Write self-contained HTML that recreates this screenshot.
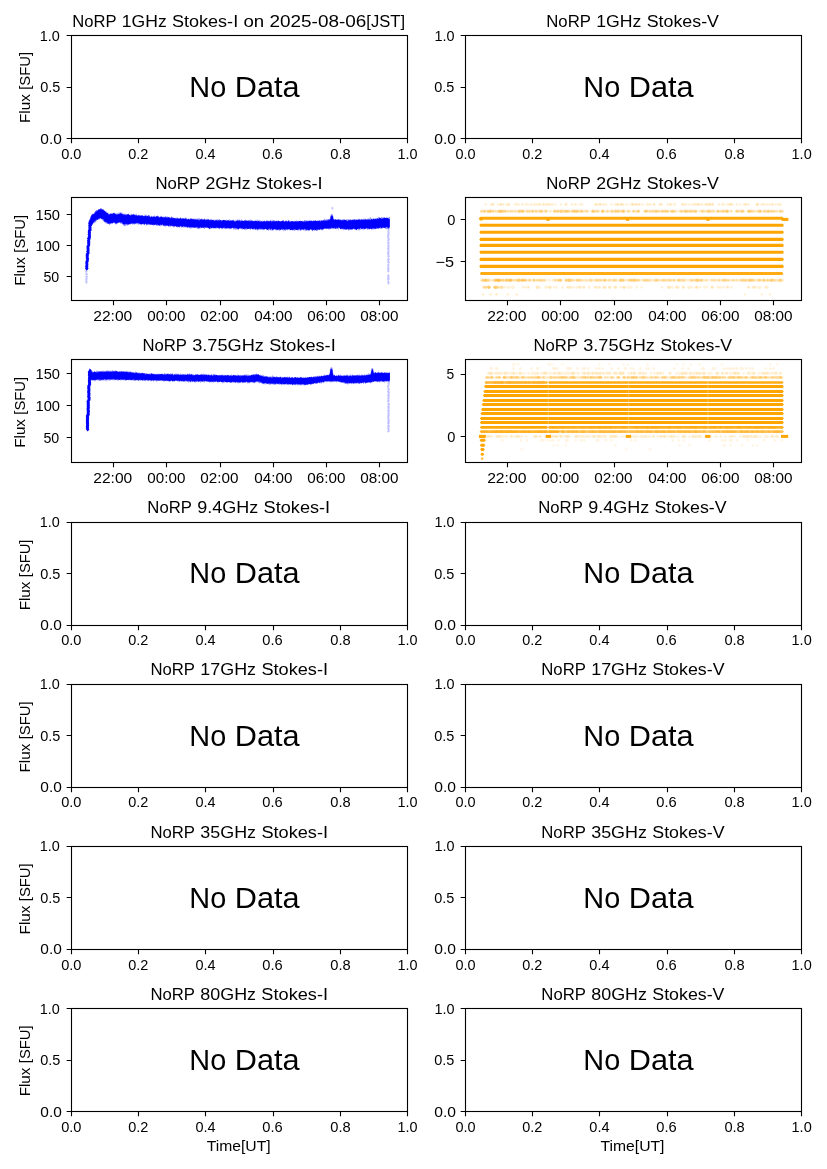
<!DOCTYPE html>
<html><head><meta charset="utf-8"><title>NoRP daily plot</title>
<style>
html,body{margin:0;padding:0;background:#fff;}
svg{display:block;will-change:transform;}
g.t{filter:grayscale(1);}
text{font-family:"Liberation Sans",sans-serif;fill:#000;}
</style></head>
<body>
<svg width="827" height="1169" viewBox="0 0 827 1169">
<rect width="827" height="1169" fill="#fff"/>
<g id="d2i">
<path d="M88.8,221.67 L89.3,218.42 L89.8,219.28 L90.3,217.49 L90.8,216.36 L91.3,215.3 L91.8,213.5 L92.3,214.18 L92.8,213.4 L93.3,215.52 L93.8,213.19 L94.3,212.34 L94.8,211.88 L95.3,211.15 L95.8,210.42 L96.3,210.32 L96.8,210.57 L97.3,209.86 L97.8,210.31 L98.3,209.34 L98.8,209.2 L99.3,209.84 L99.8,208.97 L100.3,208.07 L100.8,208.1 L101.3,208.81 L101.8,209.93 L102.3,208.88 L102.8,209.18 L103.3,210.2 L103.8,209.35 L104.3,209.98 L104.8,210.97 L105.3,211.16 L105.8,211.3 L106.3,212.09 L106.8,210.42 L107.3,213.17 L107.8,212.42 L108.3,212.43 L108.8,214.03 L109.3,214.25 L109.8,213.42 L110.3,212.9 L110.8,213.41 L111.3,213.22 L111.8,213.95 L112.3,213.41 L112.8,212.93 L113.3,213.33 L113.8,212.47 L114.3,212.28 L114.8,213.43 L115.3,213.67 L115.8,213.43 L116.3,213.34 L116.8,214.02 L117.3,212.2 L117.8,213.93 L118.3,213.63 L118.8,212.18 L119.3,213.02 L119.8,212.22 L120.3,213.08 L120.8,211.47 L121.3,212.39 L121.8,213.6 L122.3,214.11 L122.8,212.37 L123.3,213.6 L123.8,214.17 L124.3,213.63 L124.8,214.97 L125.3,213.32 L125.8,214.28 L126.3,213.46 L126.8,214.95 L127.3,214.12 L127.8,213.93 L128.3,213.15 L128.8,215.21 L129.3,214.68 L129.8,214.7 L130.3,214.96 L130.8,214.51 L131.3,213.94 L131.8,213.87 L132.3,213.89 L132.8,215.22 L133.3,213.54 L133.8,214.08 L134.3,214.28 L134.8,214.64 L135.3,214.89 L135.8,213.83 L136.3,213.58 L136.8,214.65 L137.3,215.42 L137.8,215.18 L138.3,214.89 L138.8,214.61 L139.3,215.01 L139.8,214.72 L140.3,215.39 L140.8,214.46 L141.3,215.06 L141.8,214.95 L142.3,215.37 L142.8,215.22 L143.3,216.65 L143.8,216.06 L144.3,216.09 L144.8,214.01 L145.3,215.06 L145.8,214.94 L146.3,215.66 L146.8,214.01 L147.3,216.11 L147.8,216.09 L148.3,214.7 L148.8,214.93 L149.3,215.07 L149.8,215.62 L150.3,216.01 L150.8,216.89 L151.3,215.58 L151.8,216.2 L152.3,215.86 L152.8,216.86 L153.3,216.29 L153.8,216.7 L154.3,215.27 L154.8,215.84 L155.3,215.5 L155.8,216.93 L156.3,216.46 L156.8,215.92 L157.3,215.87 L157.8,216.47 L158.3,215.8 L158.8,215.7 L159.3,216.58 L159.8,217.81 L160.3,216.22 L160.8,216.07 L161.3,215.74 L161.8,215.68 L162.3,216.83 L162.8,217.07 L163.3,216.6 L163.8,216.83 L164.3,216.74 L164.8,216.79 L165.3,215.83 L165.8,216.51 L166.3,216.89 L166.8,216.39 L167.3,216.61 L167.8,216.44 L168.3,216.77 L168.8,217.52 L169.3,216.8 L169.8,216.99 L170.3,217.61 L170.8,217.55 L171.3,218.21 L171.8,215.98 L172.3,217.79 L172.8,217.02 L173.3,217.43 L173.8,217.89 L174.3,218.07 L174.8,218.08 L175.3,217.59 L175.8,218.5 L176.3,217.4 L176.8,217.53 L177.3,218.13 L177.8,217.36 L178.3,219.02 L178.8,218.37 L179.3,219.1 L179.8,217.82 L180.3,217.64 L180.8,218.01 L181.3,218.39 L181.8,217.64 L182.3,218.25 L182.8,218.05 L183.3,219.07 L183.8,217.74 L184.3,218.8 L184.8,217.83 L185.3,217.67 L185.8,217.86 L186.3,217.61 L186.8,218.45 L187.3,219.02 L187.8,218.54 L188.3,218.85 L188.8,219.49 L189.3,218.71 L189.8,218.71 L190.3,218.46 L190.8,217.69 L191.3,219.13 L191.8,217.63 L192.3,219.1 L192.8,218.71 L193.3,219.41 L193.8,218.71 L194.3,218.28 L194.8,219 L195.3,218.47 L195.8,218.71 L196.3,218.86 L196.8,218.77 L197.3,218.75 L197.8,218.38 L198.3,218.79 L198.8,217.63 L199.3,218.84 L199.8,218.23 L200.3,219.64 L200.8,219.74 L201.3,217.83 L201.8,219.1 L202.3,218.95 L202.8,218.42 L203.3,219.38 L203.8,218.8 L204.3,218.03 L204.8,218.95 L205.3,219.04 L205.8,219.21 L206.3,218.42 L206.8,219.54 L207.3,219.63 L207.8,218.52 L208.3,218.83 L208.8,219.19 L209.3,218.92 L209.8,220.32 L210.3,219.41 L210.8,218.7 L211.3,218.85 L211.8,219.3 L212.3,220.73 L212.8,219.26 L213.3,219.46 L213.8,219.71 L214.3,219.39 L214.8,220.8 L215.3,219.13 L215.8,219.91 L216.3,219.58 L216.8,219.87 L217.3,218.81 L217.8,220.59 L218.3,219.47 L218.8,219.58 L219.3,219.02 L219.8,219.16 L220.3,219.95 L220.8,220.22 L221.3,220.1 L221.8,220.39 L222.3,220.11 L222.8,219.71 L223.3,220.21 L223.8,220.08 L224.3,219.68 L224.8,220.19 L225.3,220.55 L225.8,219.93 L226.3,219.59 L226.8,220.25 L227.3,220.98 L227.8,219.73 L228.3,219.82 L228.8,219.81 L229.3,220.64 L229.8,218.82 L230.3,220.16 L230.8,220.67 L231.3,219.48 L231.8,220.88 L232.3,220.32 L232.8,219.69 L233.3,220.16 L233.8,219.13 L234.3,219.73 L234.8,221.18 L235.3,219.56 L235.8,221.22 L236.3,220.08 L236.8,220.74 L237.3,220.19 L237.8,218.83 L238.3,219.85 L238.8,220.33 L239.3,219.54 L239.8,219.44 L240.3,220.47 L240.8,219.87 L241.3,219.25 L241.8,219.86 L242.3,220.8 L242.8,220 L243.3,220.86 L243.8,221.22 L244.3,220.33 L244.8,219.64 L245.3,219.54 L245.8,220.31 L246.3,220.87 L246.8,220.51 L247.3,220.68 L247.8,220.09 L248.3,220.54 L248.8,220.09 L249.3,220.18 L249.8,219.61 L250.3,219.45 L250.8,220.11 L251.3,219.74 L251.8,219.84 L252.3,220.82 L252.8,220.36 L253.3,222.18 L253.8,221 L254.3,220.07 L254.8,220.92 L255.3,220.68 L255.8,220.06 L256.3,221.14 L256.8,220.02 L257.3,218.65 L257.8,220.97 L258.3,220.13 L258.8,221.4 L259.3,220.13 L259.8,219.81 L260.3,221.46 L260.8,219.89 L261.3,220.67 L261.8,221.42 L262.3,220.63 L262.8,220.52 L263.3,220.63 L263.8,221.08 L264.3,220.1 L264.8,220.96 L265.3,220.95 L265.8,222.01 L266.3,220.41 L266.8,220.07 L267.3,221.07 L267.8,220.4 L268.3,220.81 L268.8,220.73 L269.3,221.36 L269.8,220.27 L270.3,220.61 L270.8,219.14 L271.3,220.15 L271.8,221.61 L272.3,220.29 L272.8,220.28 L273.3,219.98 L273.8,221.06 L274.3,220.83 L274.8,220.02 L275.3,221.14 L275.8,220.9 L276.3,221.2 L276.8,220.37 L277.3,221.81 L277.8,221.02 L278.3,220.71 L278.8,220.47 L279.3,220.65 L279.8,221.31 L280.3,220.64 L280.8,221.46 L281.3,221.17 L281.8,221.63 L282.3,221.32 L282.8,220.8 L283.3,219.7 L283.8,221.03 L284.3,221.32 L284.8,220.94 L285.3,221.17 L285.8,220.55 L286.3,220.6 L286.8,220.26 L287.3,221.64 L287.8,220.92 L288.3,220.52 L288.8,220.02 L289.3,220.72 L289.8,221.68 L290.3,221.09 L290.8,220.37 L291.3,221.66 L291.8,221.66 L292.3,221.38 L292.8,221.27 L293.3,221.48 L293.8,221.11 L294.3,221.25 L294.8,220.31 L295.3,221.68 L295.8,220.91 L296.3,221.99 L296.8,219.54 L297.3,221.19 L297.8,221.35 L298.3,220.55 L298.8,221.03 L299.3,221.2 L299.8,221.1 L300.3,220.42 L300.8,220.66 L301.3,221.35 L301.8,221.5 L302.3,220.79 L302.8,220.78 L303.3,220.85 L303.8,221.35 L304.3,220.09 L304.8,219.92 L305.3,220.79 L305.8,220.05 L306.3,220.36 L306.8,220.76 L307.3,220.99 L307.8,220.06 L308.3,221.18 L308.8,219.63 L309.3,221.02 L309.8,219.74 L310.3,219.92 L310.8,221.07 L311.3,220.44 L311.8,220.2 L312.3,220.41 L312.8,220.95 L313.3,220.63 L313.8,220.65 L314.3,221.29 L314.8,220.23 L315.3,220.37 L315.8,220.34 L316.3,221.32 L316.8,221.16 L317.3,221.28 L317.8,220.43 L318.3,220.31 L318.8,220.86 L319.3,220.05 L319.8,220.73 L320.3,220.62 L320.8,219.71 L321.3,220.02 L321.8,219.95 L322.3,221 L322.8,221.46 L323.3,219.79 L323.8,219.81 L324.3,218.38 L324.8,219.82 L325.3,219.63 L325.8,218.94 L326.3,220 L326.8,218.53 L327.3,219.31 L327.8,219.49 L328.3,218.64 L328.8,219.87 L329.3,219.97 L329.8,218.48 L330.3,216.11 L330.8,214.61 L331.3,214.21 L331.8,214.05 L332.3,214.21 L332.8,214.61 L333.3,216.31 L333.8,219.53 L334.3,219.32 L334.8,220.12 L335.3,219.89 L335.8,219.49 L336.3,219.74 L336.8,219.91 L337.3,219.56 L337.8,218.42 L338.3,219.69 L338.8,219.23 L339.3,220.18 L339.8,219.28 L340.3,219.56 L340.8,219.46 L341.3,220.29 L341.8,219.4 L342.3,219.15 L342.8,219.52 L343.3,219.09 L343.8,219.47 L344.3,219.38 L344.8,219.57 L345.3,220.58 L345.8,219.2 L346.3,219.48 L346.8,219.36 L347.3,219.9 L347.8,218.8 L348.3,219.12 L348.8,219.53 L349.3,219.86 L349.8,219.49 L350.3,219.2 L350.8,218.97 L351.3,219.78 L351.8,220.32 L352.3,219.63 L352.8,219.53 L353.3,219.67 L353.8,218.82 L354.3,219.19 L354.8,219.2 L355.3,219.52 L355.8,219.31 L356.3,218.58 L356.8,219.97 L357.3,220.29 L357.8,219.1 L358.3,219.48 L358.8,219.39 L359.3,219.68 L359.8,218.31 L360.3,220.15 L360.8,218.88 L361.3,219.91 L361.8,219.18 L362.3,218.88 L362.8,219.02 L363.3,219.62 L363.8,218.55 L364.3,218.83 L364.8,218.75 L365.3,217.99 L365.8,219.78 L366.3,219.34 L366.8,218.96 L367.3,219.65 L367.8,218.37 L368.3,218.88 L368.8,219.94 L369.3,219.48 L369.8,217.54 L370.3,216.86 L370.8,218.2 L371.3,219.4 L371.8,218.41 L372.3,218.5 L372.8,218.93 L373.3,217.97 L373.8,218.57 L374.3,218.85 L374.8,218.59 L375.3,218.48 L375.8,217.82 L376.3,218.43 L376.8,217.8 L377.3,218.77 L377.8,219.47 L378.3,217.42 L378.8,216.49 L379.3,217.48 L379.8,217.89 L380.3,218.23 L380.8,218.19 L381.3,217.01 L381.8,216.97 L382.3,218.21 L382.8,216.79 L383.3,218.1 L383.8,217.31 L384.3,217.91 L384.8,217.87 L385.3,217.92 L385.8,217.94 L386.3,216.86 L386.8,217.63 L387.3,217.46 L387.8,217.64 L388.3,218.19 L388.8,217.29 L389.3,217.02 L389.8,217.01 L389.8,228.47 L389.3,228.03 L388.8,229.03 L388.3,229.33 L387.8,228.24 L387.3,229.13 L386.8,229.46 L386.3,228.74 L385.8,228.97 L385.3,228.5 L384.8,228.17 L384.3,227.99 L383.8,227.81 L383.3,227.57 L382.8,228.21 L382.3,228.67 L381.8,228.24 L381.3,228.56 L380.8,229.03 L380.3,228.37 L379.8,228.75 L379.3,228.22 L378.8,228.04 L378.3,229.26 L377.8,228.61 L377.3,229.15 L376.8,228.67 L376.3,229.06 L375.8,228.88 L375.3,229.23 L374.8,229.59 L374.3,228.29 L373.8,228.59 L373.3,230.31 L372.8,229.43 L372.3,229.13 L371.8,229.9 L371.3,229.35 L370.8,228.99 L370.3,228.72 L369.8,229.35 L369.3,229.81 L368.8,229 L368.3,229.63 L367.8,229.58 L367.3,230.25 L366.8,228.92 L366.3,228.55 L365.8,228.7 L365.3,229.03 L364.8,230.07 L364.3,229.15 L363.8,228.5 L363.3,230.58 L362.8,229.1 L362.3,229.76 L361.8,229.13 L361.3,228.7 L360.8,229.57 L360.3,229.83 L359.8,229.68 L359.3,230.38 L358.8,230.38 L358.3,230.11 L357.8,228.25 L357.3,228.91 L356.8,230.4 L356.3,229.68 L355.8,229.8 L355.3,229.52 L354.8,229 L354.3,229.73 L353.8,228.76 L353.3,229.35 L352.8,228.76 L352.3,229.74 L351.8,230 L351.3,229.83 L350.8,228.99 L350.3,229.47 L349.8,230.28 L349.3,230.33 L348.8,230.5 L348.3,230.31 L347.8,230.15 L347.3,229.13 L346.8,228.92 L346.3,229.54 L345.8,229.93 L345.3,230.1 L344.8,230.26 L344.3,228.96 L343.8,230.57 L343.3,229.74 L342.8,228.62 L342.3,229.58 L341.8,229.3 L341.3,229.5 L340.8,228.59 L340.3,229.16 L339.8,228.3 L339.3,227.82 L338.8,229.27 L338.3,229.8 L337.8,228.17 L337.3,228 L336.8,229.34 L336.3,229.4 L335.8,228.88 L335.3,228.83 L334.8,229.4 L334.3,229.03 L333.8,228.35 L333.3,229.22 L332.8,228.39 L332.3,228.54 L331.8,229.58 L331.3,228.63 L330.8,229.09 L330.3,229.12 L329.8,229.5 L329.3,229.53 L328.8,228.94 L328.3,229.64 L327.8,229.01 L327.3,228.38 L326.8,229.15 L326.3,229.05 L325.8,227.83 L325.3,229.18 L324.8,228.93 L324.3,228.91 L323.8,228.49 L323.3,230.12 L322.8,230.4 L322.3,230.29 L321.8,230.08 L321.3,228.82 L320.8,229.21 L320.3,230.37 L319.8,229.53 L319.3,229.87 L318.8,229.51 L318.3,230.34 L317.8,230.75 L317.3,230.49 L316.8,231.14 L316.3,230.52 L315.8,231.09 L315.3,229.63 L314.8,230.73 L314.3,230.92 L313.8,229.51 L313.3,229.84 L312.8,231.14 L312.3,231.22 L311.8,230.16 L311.3,229.4 L310.8,229.41 L310.3,229.74 L309.8,230.58 L309.3,230.33 L308.8,230.75 L308.3,230.31 L307.8,230.22 L307.3,230.64 L306.8,230.6 L306.3,231.05 L305.8,231.18 L305.3,230.39 L304.8,230.04 L304.3,230.51 L303.8,230.87 L303.3,229.8 L302.8,230.17 L302.3,229.01 L301.8,229.88 L301.3,230.56 L300.8,230.26 L300.3,230.59 L299.8,230.7 L299.3,229.64 L298.8,230.69 L298.3,230.37 L297.8,230.07 L297.3,230.98 L296.8,229.54 L296.3,229.9 L295.8,230.52 L295.3,230 L294.8,230.29 L294.3,231.03 L293.8,230.6 L293.3,230.41 L292.8,230.09 L292.3,229.58 L291.8,230.19 L291.3,230.17 L290.8,229.71 L290.3,230.55 L289.8,230.97 L289.3,228.82 L288.8,229.6 L288.3,229.67 L287.8,230.68 L287.3,229.57 L286.8,228.47 L286.3,230.36 L285.8,230.72 L285.3,230.7 L284.8,230.41 L284.3,229.68 L283.8,232.07 L283.3,228.96 L282.8,230.47 L282.3,230.17 L281.8,229.87 L281.3,229.92 L280.8,229.23 L280.3,230.64 L279.8,230.25 L279.3,230.68 L278.8,230.5 L278.3,229.65 L277.8,229.73 L277.3,229.92 L276.8,231.26 L276.3,229.46 L275.8,229.99 L275.3,230.38 L274.8,229.67 L274.3,229.58 L273.8,230.19 L273.3,230.21 L272.8,230.17 L272.3,230.69 L271.8,229.42 L271.3,230.47 L270.8,230.96 L270.3,229.44 L269.8,230.19 L269.3,229.74 L268.8,230.91 L268.3,230.62 L267.8,229.39 L267.3,229.88 L266.8,229.57 L266.3,230.74 L265.8,229.02 L265.3,229.11 L264.8,229.67 L264.3,229.59 L263.8,229.54 L263.3,230.14 L262.8,230.16 L262.3,229.64 L261.8,229.09 L261.3,230.06 L260.8,230.18 L260.3,229.73 L259.8,229.78 L259.3,229.83 L258.8,229.18 L258.3,230.36 L257.8,229.68 L257.3,231.14 L256.8,228.59 L256.3,230.59 L255.8,230.33 L255.3,229.61 L254.8,229.59 L254.3,229.57 L253.8,229.45 L253.3,229.14 L252.8,228.98 L252.3,229.77 L251.8,228.76 L251.3,228.85 L250.8,229.52 L250.3,230.47 L249.8,228.76 L249.3,229 L248.8,227.56 L248.3,228.46 L247.8,229.71 L247.3,229.01 L246.8,229.33 L246.3,229.84 L245.8,230.54 L245.3,229.61 L244.8,228.82 L244.3,229.8 L243.8,229.37 L243.3,228.57 L242.8,229.24 L242.3,230.19 L241.8,228.57 L241.3,229.47 L240.8,228.69 L240.3,229.47 L239.8,228.26 L239.3,228.39 L238.8,229.7 L238.3,228.46 L237.8,230.03 L237.3,229.21 L236.8,230.07 L236.3,229.09 L235.8,229.64 L235.3,229.49 L234.8,229.49 L234.3,228.92 L233.8,229.71 L233.3,229.37 L232.8,228.46 L232.3,227.87 L231.8,229.83 L231.3,228.31 L230.8,228.31 L230.3,228.46 L229.8,228.92 L229.3,229.65 L228.8,228.53 L228.3,228.5 L227.8,228.51 L227.3,229.33 L226.8,228.45 L226.3,228.93 L225.8,227.98 L225.3,229.2 L224.8,228.84 L224.3,229.22 L223.8,227.94 L223.3,228.45 L222.8,229.26 L222.3,228.82 L221.8,229.42 L221.3,228.76 L220.8,227.36 L220.3,227.88 L219.8,228.99 L219.3,229.49 L218.8,228.47 L218.3,228.68 L217.8,228.11 L217.3,228.74 L216.8,228.67 L216.3,228.25 L215.8,227.7 L215.3,228.88 L214.8,228.53 L214.3,227.95 L213.8,227.77 L213.3,228.94 L212.8,227.91 L212.3,228.72 L211.8,228.02 L211.3,228.97 L210.8,228.46 L210.3,229.33 L209.8,229.27 L209.3,228.7 L208.8,228.06 L208.3,227.92 L207.8,228.34 L207.3,228.29 L206.8,227.19 L206.3,227.99 L205.8,227.41 L205.3,227.31 L204.8,228.69 L204.3,229.17 L203.8,227.63 L203.3,228.16 L202.8,227.27 L202.3,227.84 L201.8,227.6 L201.3,228.13 L200.8,229.09 L200.3,227.24 L199.8,228.23 L199.3,229.46 L198.8,228.49 L198.3,229.12 L197.8,228.26 L197.3,229.21 L196.8,228.74 L196.3,227.41 L195.8,228.11 L195.3,227.5 L194.8,228.32 L194.3,227.4 L193.8,227.57 L193.3,227.46 L192.8,228.57 L192.3,227.56 L191.8,228.85 L191.3,228.12 L190.8,228.38 L190.3,228.48 L189.8,227.45 L189.3,228.56 L188.8,227.86 L188.3,227.56 L187.8,227.9 L187.3,228.14 L186.8,227.83 L186.3,226.66 L185.8,227.13 L185.3,225.77 L184.8,226.42 L184.3,227.46 L183.8,227.55 L183.3,227.54 L182.8,227.08 L182.3,227.47 L181.8,227.64 L181.3,227.29 L180.8,227.36 L180.3,226.28 L179.8,227.82 L179.3,227.9 L178.8,226.07 L178.3,226.28 L177.8,227.38 L177.3,227.18 L176.8,227.37 L176.3,226.99 L175.8,225.85 L175.3,226.71 L174.8,226.44 L174.3,226.15 L173.8,226.61 L173.3,227.89 L172.8,226.51 L172.3,226.04 L171.8,225.86 L171.3,226.18 L170.8,226.25 L170.3,227.47 L169.8,226.12 L169.3,226.69 L168.8,227.35 L168.3,226.37 L167.8,225.21 L167.3,225.76 L166.8,226.08 L166.3,226.16 L165.8,226.54 L165.3,226.28 L164.8,227.03 L164.3,226.12 L163.8,225.68 L163.3,225.75 L162.8,225.04 L162.3,225.59 L161.8,224.91 L161.3,225.79 L160.8,225.13 L160.3,226.64 L159.8,225.72 L159.3,225.06 L158.8,226.16 L158.3,225.1 L157.8,225.51 L157.3,225.78 L156.8,225.37 L156.3,225.95 L155.8,225.2 L155.3,225.08 L154.8,225.03 L154.3,225.14 L153.8,225.83 L153.3,225.52 L152.8,224.96 L152.3,225.16 L151.8,224.73 L151.3,224.26 L150.8,225.61 L150.3,224.41 L149.8,225.09 L149.3,225.13 L148.8,224.17 L148.3,225.72 L147.8,224.17 L147.3,224.98 L146.8,224.71 L146.3,226.03 L145.8,224.52 L145.3,222.97 L144.8,225.74 L144.3,223.6 L143.8,224.59 L143.3,224.78 L142.8,224.87 L142.3,223.51 L141.8,223.7 L141.3,224.53 L140.8,224.53 L140.3,224.17 L139.8,223.24 L139.3,224.59 L138.8,225.08 L138.3,224.46 L137.8,224.12 L137.3,224.13 L136.8,222.84 L136.3,224.54 L135.8,223.98 L135.3,224 L134.8,225.06 L134.3,223.21 L133.8,224.13 L133.3,224.39 L132.8,224.58 L132.3,224.38 L131.8,223.38 L131.3,223.94 L130.8,224.29 L130.3,224.94 L129.8,224.35 L129.3,223.67 L128.8,224.63 L128.3,224.32 L127.8,225.74 L127.3,225.57 L126.8,224.64 L126.3,225 L125.8,226.36 L125.3,225.57 L124.8,226.62 L124.3,225.65 L123.8,225.13 L123.3,225.66 L122.8,224.26 L122.3,224.6 L121.8,223.35 L121.3,224.02 L120.8,223.98 L120.3,223.26 L119.8,222.58 L119.3,221.81 L118.8,222.98 L118.3,222.44 L117.8,223.14 L117.3,223.55 L116.8,224.44 L116.3,224.3 L115.8,224.61 L115.3,223.39 L114.8,223.36 L114.3,223.31 L113.8,222.85 L113.3,222.87 L112.8,223.44 L112.3,223.02 L111.8,223.01 L111.3,224.27 L110.8,223.89 L110.3,224.34 L109.8,224.58 L109.3,225.26 L108.8,224.19 L108.3,223.64 L107.8,224.34 L107.3,223.47 L106.8,224.07 L106.3,222.66 L105.8,223.76 L105.3,222.21 L104.8,222.33 L104.3,222.54 L103.8,221.07 L103.3,221.65 L102.8,220.67 L102.3,219.42 L101.8,219.27 L101.3,219.52 L100.8,218.46 L100.3,218.77 L99.8,218.56 L99.3,219.67 L98.8,218.07 L98.3,219.67 L97.8,219.94 L97.3,220.29 L96.8,220.04 L96.3,221.59 L95.8,222.71 L95.3,221.97 L94.8,222.29 L94.3,223.49 L93.8,223.63 L93.3,222.37 L92.8,224.74 L92.3,225.37 L91.8,225.31 L91.3,226.55 L90.8,226.96 L90.3,227.59 L89.8,226.5 L89.3,227.5 L88.8,226.86Z" fill="#0000ff" fill-opacity="0.45"/>
<path d="M88.8,220.81 L89.3,220.52 L89.8,220.43 L90.3,218.78 L90.8,216.54 L91.3,216.08 L91.8,215.08 L92.3,215.04 L92.8,213.85 L93.3,214.29 L93.8,213.81 L94.3,213.91 L94.8,212.84 L95.3,212.43 L95.8,211.03 L96.3,212.21 L96.8,210.07 L97.3,211.15 L97.8,210.23 L98.3,209.71 L98.8,209.54 L99.3,209.26 L99.8,209.46 L100.3,208.97 L100.8,209.52 L101.3,208.31 L101.8,209.41 L102.3,209.29 L102.8,210.32 L103.3,209.3 L103.8,210.38 L104.3,210.9 L104.8,210.42 L105.3,211.9 L105.8,211.98 L106.3,212.79 L106.8,213.2 L107.3,212.76 L107.8,213.28 L108.3,213.99 L108.8,214.85 L109.3,214.87 L109.8,214.02 L110.3,213.92 L110.8,213.69 L111.3,213.64 L111.8,213.65 L112.3,213.55 L112.8,214.39 L113.3,213.09 L113.8,213.12 L114.3,213.7 L114.8,213.3 L115.3,213.81 L115.8,214.22 L116.3,214.8 L116.8,213.94 L117.3,214.97 L117.8,214.01 L118.3,214.07 L118.8,214.19 L119.3,213.93 L119.8,213.93 L120.3,213.35 L120.8,213.34 L121.3,213.73 L121.8,213.38 L122.3,214.62 L122.8,213.96 L123.3,213.98 L123.8,215.54 L124.3,214.58 L124.8,214.14 L125.3,215.52 L125.8,214.56 L126.3,215.21 L126.8,214.39 L127.3,214.67 L127.8,214.05 L128.3,213.97 L128.8,214.42 L129.3,214.84 L129.8,215.26 L130.3,216.02 L130.8,214.48 L131.3,215.43 L131.8,214.72 L132.3,214.95 L132.8,214.38 L133.3,214.4 L133.8,214.74 L134.3,214.58 L134.8,215.16 L135.3,214.88 L135.8,215.79 L136.3,215.33 L136.8,215.38 L137.3,215.85 L137.8,215.61 L138.3,215.39 L138.8,215.41 L139.3,215.43 L139.8,216 L140.3,215.91 L140.8,215.76 L141.3,215.99 L141.8,215.42 L142.3,215.93 L142.8,215.1 L143.3,216.38 L143.8,215.85 L144.3,215.93 L144.8,216.15 L145.3,215.91 L145.8,215.84 L146.3,216.52 L146.8,216.08 L147.3,215.65 L147.8,216.29 L148.3,215.36 L148.8,216.91 L149.3,216.13 L149.8,216.26 L150.3,217.29 L150.8,217.28 L151.3,216.4 L151.8,216.67 L152.3,216.91 L152.8,217.21 L153.3,216.43 L153.8,216.59 L154.3,217.12 L154.8,216.73 L155.3,216.98 L155.8,216.96 L156.3,216.21 L156.8,216.37 L157.3,215.6 L157.8,216.71 L158.3,217.47 L158.8,216.41 L159.3,217.5 L159.8,217.43 L160.3,216.99 L160.8,217.05 L161.3,217.13 L161.8,216.74 L162.3,217.04 L162.8,217.19 L163.3,217.52 L163.8,217.64 L164.3,216.99 L164.8,217.73 L165.3,217.05 L165.8,217.36 L166.3,217.64 L166.8,217.5 L167.3,217.49 L167.8,217.71 L168.3,217.37 L168.8,217.37 L169.3,217.6 L169.8,218.17 L170.3,217.73 L170.8,218.67 L171.3,217.94 L171.8,216.55 L172.3,217.72 L172.8,218.71 L173.3,218 L173.8,217.84 L174.3,217.68 L174.8,218.71 L175.3,218.6 L175.8,218.49 L176.3,218.42 L176.8,218.91 L177.3,218.67 L177.8,217.78 L178.3,218.72 L178.8,218.49 L179.3,218.4 L179.8,218.83 L180.3,218.54 L180.8,217.24 L181.3,219.3 L181.8,219.1 L182.3,218.62 L182.8,218.55 L183.3,218.85 L183.8,218.21 L184.3,218.96 L184.8,218.76 L185.3,218.74 L185.8,218.52 L186.3,218.67 L186.8,219.51 L187.3,219.65 L187.8,219.32 L188.3,219.11 L188.8,218.77 L189.3,219.53 L189.8,219.96 L190.3,218.55 L190.8,219.83 L191.3,218.35 L191.8,219.19 L192.3,219.53 L192.8,218.76 L193.3,218.7 L193.8,219.49 L194.3,219.81 L194.8,219.22 L195.3,220.06 L195.8,219.12 L196.3,220.27 L196.8,219.55 L197.3,219.62 L197.8,219.81 L198.3,219.69 L198.8,220.4 L199.3,220.57 L199.8,219.84 L200.3,219.54 L200.8,219.1 L201.3,219.31 L201.8,219.67 L202.3,219.63 L202.8,219.68 L203.3,219.71 L203.8,219.95 L204.3,219.14 L204.8,219.3 L205.3,220.28 L205.8,220.17 L206.3,219.57 L206.8,220.41 L207.3,219.54 L207.8,219.74 L208.3,219.05 L208.8,220.27 L209.3,219.9 L209.8,220.4 L210.3,220.26 L210.8,220 L211.3,220.05 L211.8,220.53 L212.3,219.93 L212.8,219.96 L213.3,220.07 L213.8,220.42 L214.3,220.49 L214.8,220.95 L215.3,220.07 L215.8,220.7 L216.3,219.85 L216.8,220.43 L217.3,220.24 L217.8,220.98 L218.3,220.49 L218.8,220.03 L219.3,220.51 L219.8,220.42 L220.3,220.14 L220.8,220.17 L221.3,219.89 L221.8,221.57 L222.3,220.41 L222.8,220.8 L223.3,219.86 L223.8,219.91 L224.3,220.34 L224.8,220.36 L225.3,220.81 L225.8,220.01 L226.3,220.72 L226.8,221.18 L227.3,220.1 L227.8,220.94 L228.3,220.11 L228.8,220.72 L229.3,220.74 L229.8,221.37 L230.3,220.3 L230.8,220.7 L231.3,221.11 L231.8,220.13 L232.3,220.67 L232.8,220.3 L233.3,220.39 L233.8,221.03 L234.3,221.05 L234.8,221.91 L235.3,221.39 L235.8,221.37 L236.3,220.73 L236.8,220.68 L237.3,220.9 L237.8,219.83 L238.3,221.61 L238.8,220.58 L239.3,220.42 L239.8,220.71 L240.3,221.32 L240.8,221.49 L241.3,220.77 L241.8,221.14 L242.3,220.92 L242.8,220.51 L243.3,221.04 L243.8,220.98 L244.3,220.28 L244.8,221.47 L245.3,220.28 L245.8,221.1 L246.3,220.53 L246.8,220.64 L247.3,220.7 L247.8,221.34 L248.3,220.46 L248.8,220.95 L249.3,221.74 L249.8,220.73 L250.3,221.04 L250.8,221.36 L251.3,220.8 L251.8,221.28 L252.3,220.78 L252.8,221.4 L253.3,221.12 L253.8,220.68 L254.3,221.74 L254.8,221.07 L255.3,220.99 L255.8,220.71 L256.3,220.92 L256.8,221.1 L257.3,221.22 L257.8,221.65 L258.3,220.57 L258.8,221.01 L259.3,221.71 L259.8,221.26 L260.3,221.37 L260.8,221.91 L261.3,221.35 L261.8,221.42 L262.3,221.2 L262.8,222.02 L263.3,221.7 L263.8,220.91 L264.3,221.49 L264.8,220.73 L265.3,221.74 L265.8,221.56 L266.3,221.2 L266.8,221.09 L267.3,220.47 L267.8,221.63 L268.3,221.24 L268.8,221.16 L269.3,221.63 L269.8,221.01 L270.3,221.06 L270.8,221.01 L271.3,220.72 L271.8,222.42 L272.3,221.26 L272.8,221.19 L273.3,221.76 L273.8,219.95 L274.3,221.36 L274.8,221.38 L275.3,220.95 L275.8,221.6 L276.3,220.48 L276.8,221.4 L277.3,221.8 L277.8,220.41 L278.3,220.76 L278.8,221.34 L279.3,221.4 L279.8,221.12 L280.3,221.58 L280.8,221.52 L281.3,220.81 L281.8,221.38 L282.3,220.85 L282.8,220.49 L283.3,220.35 L283.8,221.89 L284.3,221.37 L284.8,222.3 L285.3,220.76 L285.8,221.25 L286.3,221.56 L286.8,221.34 L287.3,221.62 L287.8,221.46 L288.3,221.12 L288.8,220.34 L289.3,220.96 L289.8,222.16 L290.3,221.73 L290.8,222.01 L291.3,221.12 L291.8,221.3 L292.3,220.99 L292.8,221.56 L293.3,221.41 L293.8,221.58 L294.3,222.17 L294.8,221 L295.3,221.7 L295.8,220.74 L296.3,221.86 L296.8,221.16 L297.3,221.33 L297.8,221.42 L298.3,222.1 L298.8,221.34 L299.3,221.12 L299.8,220.81 L300.3,221.47 L300.8,220.95 L301.3,221.11 L301.8,221.32 L302.3,221.63 L302.8,221 L303.3,221.63 L303.8,222.12 L304.3,220.65 L304.8,221.93 L305.3,222.28 L305.8,221.04 L306.3,221.58 L306.8,220.68 L307.3,221.45 L307.8,221.15 L308.3,221.43 L308.8,220.88 L309.3,220.92 L309.8,221.08 L310.3,220.96 L310.8,221 L311.3,221.18 L311.8,220.77 L312.3,221.2 L312.8,221.47 L313.3,220.21 L313.8,221.34 L314.3,220.91 L314.8,220.74 L315.3,220.63 L315.8,220.85 L316.3,220.86 L316.8,221.3 L317.3,220.52 L317.8,221.5 L318.3,220.61 L318.8,221.23 L319.3,221.36 L319.8,220.26 L320.3,221.24 L320.8,221.7 L321.3,220.46 L321.8,220.88 L322.3,220.51 L322.8,220.55 L323.3,220.38 L323.8,220.19 L324.3,220.69 L324.8,220.71 L325.3,220.26 L325.8,220.89 L326.3,220.65 L326.8,220.42 L327.3,219.75 L327.8,220.9 L328.3,220.62 L328.8,219.03 L329.3,219.48 L329.8,219.74 L330.3,218.96 L330.8,216.39 L331.3,215.71 L331.8,215.5 L332.3,215.71 L332.8,216.31 L333.3,218.78 L333.8,219.62 L334.3,219.82 L334.8,219.69 L335.3,219.18 L335.8,219.28 L336.3,219.77 L336.8,219.82 L337.3,219.66 L337.8,220.28 L338.3,219.66 L338.8,219.29 L339.3,219.7 L339.8,219.8 L340.3,219.83 L340.8,220.43 L341.3,220.16 L341.8,220.42 L342.3,220.25 L342.8,219.91 L343.3,220.47 L343.8,219.9 L344.3,220.15 L344.8,219.61 L345.3,220.12 L345.8,219.95 L346.3,220.28 L346.8,220.95 L347.3,221.22 L347.8,220.63 L348.3,220.17 L348.8,220.57 L349.3,220.29 L349.8,219.9 L350.3,220.13 L350.8,220.03 L351.3,219.85 L351.8,220.73 L352.3,219.85 L352.8,219.85 L353.3,220.38 L353.8,219.73 L354.3,219.51 L354.8,219.63 L355.3,220.21 L355.8,220.15 L356.3,220.1 L356.8,219.74 L357.3,219.52 L357.8,220.32 L358.3,219.25 L358.8,219.79 L359.3,219.27 L359.8,219.67 L360.3,219.77 L360.8,220.37 L361.3,218.51 L361.8,220.4 L362.3,219.38 L362.8,219.89 L363.3,220.11 L363.8,219.38 L364.3,219.67 L364.8,219.92 L365.3,219.62 L365.8,219.33 L366.3,219.73 L366.8,219.68 L367.3,218.94 L367.8,220.21 L368.3,219.69 L368.8,218.48 L369.3,219.18 L369.8,220.31 L370.3,220.24 L370.8,219.61 L371.3,218.67 L371.8,219.25 L372.3,219.77 L372.8,219.41 L373.3,219.02 L373.8,218.77 L374.3,219.41 L374.8,218.88 L375.3,219.06 L375.8,219.07 L376.3,219.52 L376.8,218.8 L377.3,218.77 L377.8,217.79 L378.3,219.03 L378.8,218.87 L379.3,218.39 L379.8,217.31 L380.3,218.02 L380.8,218.24 L381.3,219.09 L381.8,218.38 L382.3,218.48 L382.8,218.49 L383.3,218.72 L383.8,217.61 L384.3,217.73 L384.8,217.59 L385.3,217.99 L385.8,217.96 L386.3,218.16 L386.8,217.65 L387.3,218.16 L387.8,217.73 L388.3,219.07 L388.8,217.88 L389.3,219.26 L389.8,218.85 L389.8,226.58 L389.3,227.72 L388.8,227.71 L388.3,228.05 L387.8,227.88 L387.3,227.03 L386.8,226.99 L386.3,227.07 L385.8,227.17 L385.3,228.05 L384.8,227.49 L384.3,228.16 L383.8,227.43 L383.3,227.76 L382.8,227.39 L382.3,227.51 L381.8,228.47 L381.3,228.24 L380.8,226.95 L380.3,227.79 L379.8,227.88 L379.3,227.78 L378.8,227.85 L378.3,228.7 L377.8,228.36 L377.3,228.26 L376.8,227.62 L376.3,228.22 L375.8,229.22 L375.3,228.22 L374.8,228.79 L374.3,228.44 L373.8,228.78 L373.3,228.06 L372.8,228.42 L372.3,228.57 L371.8,229.12 L371.3,228.71 L370.8,228.22 L370.3,229.11 L369.8,229.01 L369.3,229.06 L368.8,228.4 L368.3,228.47 L367.8,228.14 L367.3,228.61 L366.8,228.38 L366.3,227.86 L365.8,228.38 L365.3,229.05 L364.8,228.63 L364.3,229.07 L363.8,228.54 L363.3,228.47 L362.8,228.74 L362.3,228.59 L361.8,228.84 L361.3,229.16 L360.8,227.82 L360.3,227.9 L359.8,228.87 L359.3,228.71 L358.8,228.97 L358.3,228.25 L357.8,229.34 L357.3,229.12 L356.8,229.49 L356.3,230.43 L355.8,229.09 L355.3,229.83 L354.8,228.49 L354.3,229.62 L353.8,228.08 L353.3,228.88 L352.8,229.33 L352.3,229.2 L351.8,229.18 L351.3,229.2 L350.8,229.33 L350.3,229.7 L349.8,229.09 L349.3,228.76 L348.8,229.69 L348.3,228.77 L347.8,229.12 L347.3,228.83 L346.8,229.83 L346.3,229.2 L345.8,229.4 L345.3,228.52 L344.8,228.94 L344.3,229.19 L343.8,228.46 L343.3,229.07 L342.8,228.18 L342.3,229.38 L341.8,228.62 L341.3,228.5 L340.8,228.99 L340.3,229.42 L339.8,227.92 L339.3,227.75 L338.8,228.04 L338.3,226.51 L337.8,228.24 L337.3,228.63 L336.8,227.42 L336.3,227.87 L335.8,228.98 L335.3,228.43 L334.8,227.14 L334.3,227.93 L333.8,227.99 L333.3,228.19 L332.8,228.24 L332.3,227.96 L331.8,227.48 L331.3,227.79 L330.8,228.91 L330.3,227.82 L329.8,228.25 L329.3,228.42 L328.8,228.24 L328.3,228.8 L327.8,228.69 L327.3,228.2 L326.8,229.1 L326.3,228.18 L325.8,228.77 L325.3,228.24 L324.8,228.89 L324.3,227.71 L323.8,228.67 L323.3,229.32 L322.8,229.24 L322.3,229.48 L321.8,229.14 L321.3,229.7 L320.8,228.79 L320.3,229.03 L319.8,229.88 L319.3,229.67 L318.8,228.79 L318.3,230.03 L317.8,229.54 L317.3,229.64 L316.8,229.27 L316.3,230.16 L315.8,230.1 L315.3,230.28 L314.8,229.21 L314.3,229.82 L313.8,229.99 L313.3,229.74 L312.8,230.89 L312.3,229.47 L311.8,229.89 L311.3,229.52 L310.8,229.1 L310.3,229.27 L309.8,229.79 L309.3,230.43 L308.8,230.04 L308.3,230.42 L307.8,229.57 L307.3,229.95 L306.8,229.57 L306.3,230 L305.8,229.04 L305.3,229.66 L304.8,228.61 L304.3,229.01 L303.8,229.68 L303.3,229.79 L302.8,228.94 L302.3,229.51 L301.8,229.68 L301.3,229.03 L300.8,230.82 L300.3,229.41 L299.8,229.28 L299.3,228.5 L298.8,229.38 L298.3,229.28 L297.8,229.81 L297.3,229.64 L296.8,229.97 L296.3,229.92 L295.8,229.53 L295.3,229.46 L294.8,229.24 L294.3,229.45 L293.8,229.31 L293.3,229.81 L292.8,230.56 L292.3,229.8 L291.8,230.06 L291.3,229.58 L290.8,229.92 L290.3,229.98 L289.8,229.54 L289.3,228.93 L288.8,229.29 L288.3,229.01 L287.8,229.32 L287.3,229.83 L286.8,228.65 L286.3,229.96 L285.8,228.55 L285.3,229.88 L284.8,229.87 L284.3,229.59 L283.8,229.24 L283.3,229.4 L282.8,228.49 L282.3,230.06 L281.8,228.67 L281.3,229.26 L280.8,229.96 L280.3,229.74 L279.8,230.38 L279.3,228.79 L278.8,229.21 L278.3,229.74 L277.8,229.62 L277.3,230.13 L276.8,229.64 L276.3,229.2 L275.8,229.36 L275.3,228.91 L274.8,228.74 L274.3,228.91 L273.8,229.34 L273.3,229.47 L272.8,229.45 L272.3,230.28 L271.8,229.21 L271.3,228.3 L270.8,229.42 L270.3,229.76 L269.8,228.1 L269.3,228.68 L268.8,228.93 L268.3,228.91 L267.8,229.85 L267.3,230.02 L266.8,229.3 L266.3,229.1 L265.8,228.9 L265.3,228.71 L264.8,229.24 L264.3,229.28 L263.8,229.06 L263.3,229.6 L262.8,229.1 L262.3,228.41 L261.8,229.2 L261.3,228.82 L260.8,228.76 L260.3,228.46 L259.8,228.96 L259.3,228.19 L258.8,229.67 L258.3,228.46 L257.8,229.23 L257.3,229.44 L256.8,229.15 L256.3,228.43 L255.8,229.33 L255.3,229.45 L254.8,228.81 L254.3,228 L253.8,229.68 L253.3,228.25 L252.8,229.16 L252.3,228.94 L251.8,228.87 L251.3,228.2 L250.8,228.26 L250.3,228.78 L249.8,229.15 L249.3,228.19 L248.8,228.76 L248.3,229.07 L247.8,229.1 L247.3,228.74 L246.8,228.46 L246.3,228.14 L245.8,228.29 L245.3,228.82 L244.8,229.4 L244.3,228.53 L243.8,228.78 L243.3,229.17 L242.8,228.3 L242.3,228.36 L241.8,228.94 L241.3,228.22 L240.8,227.82 L240.3,228.08 L239.8,228.81 L239.3,227.81 L238.8,229.43 L238.3,229.15 L237.8,228.46 L237.3,228.49 L236.8,228.61 L236.3,228.06 L235.8,227.87 L235.3,228.09 L234.8,228.57 L234.3,227.4 L233.8,228.27 L233.3,227.77 L232.8,227.58 L232.3,227.9 L231.8,228.08 L231.3,228.23 L230.8,228.26 L230.3,228.69 L229.8,228.22 L229.3,228 L228.8,228.02 L228.3,228.15 L227.8,227.85 L227.3,228 L226.8,227.69 L226.3,228.74 L225.8,227.97 L225.3,228.45 L224.8,227.81 L224.3,227.33 L223.8,228.17 L223.3,227.19 L222.8,228.66 L222.3,227.76 L221.8,227.85 L221.3,227.91 L220.8,227.8 L220.3,228.07 L219.8,228.11 L219.3,228.15 L218.8,227.97 L218.3,227.8 L217.8,227.85 L217.3,227.68 L216.8,227.2 L216.3,227.86 L215.8,228.25 L215.3,227.77 L214.8,228.37 L214.3,227.96 L213.8,227.45 L213.3,228.33 L212.8,227.69 L212.3,227.59 L211.8,228.24 L211.3,227.91 L210.8,227.53 L210.3,227.35 L209.8,228.91 L209.3,228.63 L208.8,228.11 L208.3,228.5 L207.8,226.66 L207.3,227.82 L206.8,227.79 L206.3,227.52 L205.8,227.29 L205.3,227.81 L204.8,227.12 L204.3,227.57 L203.8,227.89 L203.3,227.75 L202.8,227.43 L202.3,227.53 L201.8,227.5 L201.3,228.25 L200.8,227.37 L200.3,227.33 L199.8,227.87 L199.3,227.44 L198.8,228.35 L198.3,227.8 L197.8,227.8 L197.3,227.26 L196.8,227.42 L196.3,226.54 L195.8,227.14 L195.3,227.8 L194.8,228.28 L194.3,226.96 L193.8,227.72 L193.3,227.32 L192.8,227.33 L192.3,227.27 L191.8,226.96 L191.3,227.23 L190.8,227.56 L190.3,226.4 L189.8,227.71 L189.3,227.24 L188.8,226.72 L188.3,226.76 L187.8,227.02 L187.3,227.5 L186.8,226.57 L186.3,227.35 L185.8,227.16 L185.3,226.35 L184.8,227.48 L184.3,226.23 L183.8,226.61 L183.3,226.03 L182.8,226.4 L182.3,226.95 L181.8,226.79 L181.3,226.36 L180.8,226.18 L180.3,225.87 L179.8,226.35 L179.3,226.87 L178.8,227.17 L178.3,227.04 L177.8,225.79 L177.3,226.84 L176.8,226.94 L176.3,226.51 L175.8,225.64 L175.3,226.35 L174.8,226.37 L174.3,226.77 L173.8,225.86 L173.3,226.23 L172.8,226.57 L172.3,225.3 L171.8,226.21 L171.3,225.45 L170.8,225.81 L170.3,225.89 L169.8,224.55 L169.3,226.12 L168.8,226.1 L168.3,226.15 L167.8,225.19 L167.3,225.78 L166.8,225.7 L166.3,225.32 L165.8,225.49 L165.3,225.57 L164.8,225.24 L164.3,225.5 L163.8,225.72 L163.3,225.43 L162.8,225.36 L162.3,223.78 L161.8,224.91 L161.3,225.49 L160.8,224.81 L160.3,224.29 L159.8,225.81 L159.3,225.44 L158.8,225.13 L158.3,224.83 L157.8,225.51 L157.3,224.34 L156.8,224.56 L156.3,225.08 L155.8,224.05 L155.3,224.82 L154.8,224.9 L154.3,224.77 L153.8,225.22 L153.3,224.05 L152.8,224.64 L152.3,224.89 L151.8,224.75 L151.3,224.41 L150.8,224.59 L150.3,224.4 L149.8,224.35 L149.3,223.89 L148.8,224.18 L148.3,223.69 L147.8,223.43 L147.3,224.68 L146.8,224.44 L146.3,224.54 L145.8,223.82 L145.3,223.42 L144.8,224.38 L144.3,224.64 L143.8,223.91 L143.3,223.47 L142.8,224.36 L142.3,223.84 L141.8,224.29 L141.3,224.44 L140.8,224.44 L140.3,224.01 L139.8,223.91 L139.3,223.54 L138.8,223.18 L138.3,223.36 L137.8,222.21 L137.3,223.53 L136.8,223.27 L136.3,223.07 L135.8,223.85 L135.3,223.19 L134.8,222.9 L134.3,224.45 L133.8,222.89 L133.3,223.79 L132.8,223.41 L132.3,223.5 L131.8,223.37 L131.3,223.54 L130.8,223.95 L130.3,223.52 L129.8,223.88 L129.3,224.18 L128.8,224.43 L128.3,224.46 L127.8,224.86 L127.3,223.77 L126.8,223.66 L126.3,224.43 L125.8,224.37 L125.3,223.47 L124.8,224.13 L124.3,224.62 L123.8,224.46 L123.3,224.34 L122.8,223.85 L122.3,223.18 L121.8,222.28 L121.3,222.6 L120.8,221.96 L120.3,222.93 L119.8,222.35 L119.3,222.58 L118.8,222.81 L118.3,222.21 L117.8,223.5 L117.3,222.74 L116.8,222.84 L116.3,223.75 L115.8,223.13 L115.3,223.51 L114.8,223.14 L114.3,221.97 L113.8,222.17 L113.3,222.68 L112.8,223.31 L112.3,223.39 L111.8,223.24 L111.3,223.1 L110.8,222.95 L110.3,223.74 L109.8,223.75 L109.3,223.32 L108.8,223.95 L108.3,223.14 L107.8,223.7 L107.3,222.87 L106.8,222.43 L106.3,222.17 L105.8,222 L105.3,221.77 L104.8,222.23 L104.3,220.87 L103.8,220.53 L103.3,219.06 L102.8,219.86 L102.3,218.63 L101.8,218.8 L101.3,218.95 L100.8,218.05 L100.3,218.24 L99.8,217.8 L99.3,219.6 L98.8,218.29 L98.3,219.51 L97.8,219.61 L97.3,219.7 L96.8,220.62 L96.3,219.06 L95.8,220.78 L95.3,220.6 L94.8,221.38 L94.3,221.59 L93.8,222.2 L93.3,222.98 L92.8,223.66 L92.3,224.2 L91.8,225.63 L91.3,226.01 L90.8,226.43 L90.3,225.56 L89.8,226.63 L89.3,226.85 L88.8,225.87Z" fill="#0000ff"/>
<path d="M86.82,266.8l1.7,2l-1.7,2l-1.7,-2zM86.85,266.13l1.7,2l-1.7,2l-1.7,-2zM86.78,265.46l1.7,2l-1.7,2l-1.7,-2zM86.71,264.79l1.7,2l-1.7,2l-1.7,-2zM86.76,264.12l1.7,2l-1.7,2l-1.7,-2zM86.7,263.44l1.7,2l-1.7,2l-1.7,-2zM86.82,262.77l1.7,2l-1.7,2l-1.7,-2zM86.98,262.1l1.7,2l-1.7,2l-1.7,-2zM86.76,261.43l1.7,2l-1.7,2l-1.7,-2zM86.74,260.76l1.7,2l-1.7,2l-1.7,-2zM86.88,260.09l1.7,2l-1.7,2l-1.7,-2zM86.86,259.42l1.7,2l-1.7,2l-1.7,-2zM87.46,258.75l1.7,2l-1.7,2l-1.7,-2zM87.34,258.08l1.7,2l-1.7,2l-1.7,-2zM87.45,257.41l1.7,2l-1.7,2l-1.7,-2zM87.53,256.73l1.7,2l-1.7,2l-1.7,-2zM87.29,256.06l1.7,2l-1.7,2l-1.7,-2zM87.4,255.39l1.7,2l-1.7,2l-1.7,-2zM87.22,254.72l1.7,2l-1.7,2l-1.7,-2zM87.3,254.05l1.7,2l-1.7,2l-1.7,-2zM87.23,253.38l1.7,2l-1.7,2l-1.7,-2zM87.42,252.71l1.7,2l-1.7,2l-1.7,-2zM87.3,252.04l1.7,2l-1.7,2l-1.7,-2zM88.12,251.37l1.7,2l-1.7,2l-1.7,-2zM88.1,250.7l1.7,2l-1.7,2l-1.7,-2zM88.06,250.02l1.7,2l-1.7,2l-1.7,-2zM87.78,249.35l1.7,2l-1.7,2l-1.7,-2zM88.02,248.68l1.7,2l-1.7,2l-1.7,-2zM88.08,248.01l1.7,2l-1.7,2l-1.7,-2zM88.1,247.34l1.7,2l-1.7,2l-1.7,-2zM87.9,246.67l1.7,2l-1.7,2l-1.7,-2zM88.03,246l1.7,2l-1.7,2l-1.7,-2zM87.97,245.33l1.7,2l-1.7,2l-1.7,-2zM87.99,244.66l1.7,2l-1.7,2l-1.7,-2zM88.21,243.99l1.7,2l-1.7,2l-1.7,-2zM88.62,243.31l1.7,2l-1.7,2l-1.7,-2zM88.71,242.64l1.7,2l-1.7,2l-1.7,-2zM88.82,241.97l1.7,2l-1.7,2l-1.7,-2zM88.65,241.3l1.7,2l-1.7,2l-1.7,-2zM88.7,240.63l1.7,2l-1.7,2l-1.7,-2zM88.73,239.96l1.7,2l-1.7,2l-1.7,-2zM88.72,239.29l1.7,2l-1.7,2l-1.7,-2zM88.57,238.62l1.7,2l-1.7,2l-1.7,-2zM88.73,237.95l1.7,2l-1.7,2l-1.7,-2zM88.88,237.28l1.7,2l-1.7,2l-1.7,-2zM88.53,236.6l1.7,2l-1.7,2l-1.7,-2zM89.45,235.93l1.7,2l-1.7,2l-1.7,-2zM89.36,235.26l1.7,2l-1.7,2l-1.7,-2zM89.27,234.59l1.7,2l-1.7,2l-1.7,-2zM89.59,233.92l1.7,2l-1.7,2l-1.7,-2zM89.44,233.25l1.7,2l-1.7,2l-1.7,-2zM89.21,232.58l1.7,2l-1.7,2l-1.7,-2zM89.36,231.91l1.7,2l-1.7,2l-1.7,-2zM89.42,231.24l1.7,2l-1.7,2l-1.7,-2zM89.33,230.57l1.7,2l-1.7,2l-1.7,-2zM89.43,229.89l1.7,2l-1.7,2l-1.7,-2zM89.34,229.22l1.7,2l-1.7,2l-1.7,-2zM89.43,228.55l1.7,2l-1.7,2l-1.7,-2zM90.16,227.88l1.7,2l-1.7,2l-1.7,-2zM89.9,227.21l1.7,2l-1.7,2l-1.7,-2zM90.01,226.54l1.7,2l-1.7,2l-1.7,-2zM89.93,225.87l1.7,2l-1.7,2l-1.7,-2zM90,225.2l1.7,2l-1.7,2l-1.7,-2zM89.84,224.53l1.7,2l-1.7,2l-1.7,-2zM89.91,223.86l1.7,2l-1.7,2l-1.7,-2zM89.96,223.18l1.7,2l-1.7,2l-1.7,-2zM90.09,222.51l1.7,2l-1.7,2l-1.7,-2zM90.12,221.84l1.7,2l-1.7,2l-1.7,-2zM89.82,221.17l1.7,2l-1.7,2l-1.7,-2zM90.52,220.5l1.7,2l-1.7,2l-1.7,-2z" fill="#0000ff"/>
<path d="M86.2,269.81l1.35,1.7l-1.35,1.7l-1.35,-1.7zM86.49,271.43l1.35,1.7l-1.35,1.7l-1.35,-1.7zM86.6,272.91l1.35,1.7l-1.35,1.7l-1.35,-1.7zM86.44,274.29l1.35,1.7l-1.35,1.7l-1.35,-1.7zM86.73,275.02l1.35,1.7l-1.35,1.7l-1.35,-1.7zM86.45,276.98l1.35,1.7l-1.35,1.7l-1.35,-1.7zM86.48,277.71l1.35,1.7l-1.35,1.7l-1.35,-1.7zM86.33,279.41l1.35,1.7l-1.35,1.7l-1.35,-1.7zM86.43,280.53l1.35,1.7l-1.35,1.7l-1.35,-1.7z" fill="#0000ff" fill-opacity="0.24"/>
<path d="M388.5,227.3l1.35,1.7l-1.35,1.7l-1.35,-1.7zM388.5,229.3l1.35,1.7l-1.35,1.7l-1.35,-1.7zM388.56,230.46l1.35,1.7l-1.35,1.7l-1.35,-1.7zM388.49,232.08l1.35,1.7l-1.35,1.7l-1.35,-1.7zM388.45,233.2l1.35,1.7l-1.35,1.7l-1.35,-1.7zM388.09,234.43l1.35,1.7l-1.35,1.7l-1.35,-1.7zM388.27,236.34l1.35,1.7l-1.35,1.7l-1.35,-1.7zM388.74,237.68l1.35,1.7l-1.35,1.7l-1.35,-1.7zM388.31,238.97l1.35,1.7l-1.35,1.7l-1.35,-1.7zM388.47,240.71l1.35,1.7l-1.35,1.7l-1.35,-1.7zM388.37,242.01l1.35,1.7l-1.35,1.7l-1.35,-1.7zM388.48,243.8l1.35,1.7l-1.35,1.7l-1.35,-1.7zM388.39,245.27l1.35,1.7l-1.35,1.7l-1.35,-1.7zM388.24,246.56l1.35,1.7l-1.35,1.7l-1.35,-1.7zM388.27,247.47l1.35,1.7l-1.35,1.7l-1.35,-1.7zM388.43,249.51l1.35,1.7l-1.35,1.7l-1.35,-1.7zM388.31,250.79l1.35,1.7l-1.35,1.7l-1.35,-1.7zM388.1,252.14l1.35,1.7l-1.35,1.7l-1.35,-1.7zM388.45,253.34l1.35,1.7l-1.35,1.7l-1.35,-1.7zM388.53,254.9l1.35,1.7l-1.35,1.7l-1.35,-1.7zM388.51,256.34l1.35,1.7l-1.35,1.7l-1.35,-1.7zM388.52,257.98l1.35,1.7l-1.35,1.7l-1.35,-1.7zM388.17,259.17l1.35,1.7l-1.35,1.7l-1.35,-1.7zM388.62,260.76l1.35,1.7l-1.35,1.7l-1.35,-1.7zM388.36,262.27l1.35,1.7l-1.35,1.7l-1.35,-1.7zM388.25,264.05l1.35,1.7l-1.35,1.7l-1.35,-1.7zM388.32,265.23l1.35,1.7l-1.35,1.7l-1.35,-1.7zM388.28,266.93l1.35,1.7l-1.35,1.7l-1.35,-1.7zM388.21,268.42l1.35,1.7l-1.35,1.7l-1.35,-1.7zM388.38,269.44l1.35,1.7l-1.35,1.7l-1.35,-1.7zM388.35,274.11l1.35,1.7l-1.35,1.7l-1.35,-1.7zM388.4,275.48l1.35,1.7l-1.35,1.7l-1.35,-1.7zM388.36,276.59l1.35,1.7l-1.35,1.7l-1.35,-1.7zM388.28,277.92l1.35,1.7l-1.35,1.7l-1.35,-1.7zM388.3,279.38l1.35,1.7l-1.35,1.7l-1.35,-1.7zM388.45,281.37l1.35,1.7l-1.35,1.7l-1.35,-1.7z" fill="#0000ff" fill-opacity="0.24"/>
<path d="M332.3,206.4l1.4,1.8l-1.4,1.8l-1.4,-1.8z" fill="#0000ff" fill-opacity="0.2"/>
</g>
<g id="d3i">
<path d="M88.9,369.1 L89.4,368.47 L89.9,368.65 L90.4,369.52 L90.9,370.65 L91.4,370.9 L91.9,370.86 L92.4,370.91 L92.9,371.84 L93.4,372.3 L93.9,371.61 L94.4,370.84 L94.9,370.96 L95.4,372.22 L95.9,371.5 L96.4,370.52 L96.9,371.33 L97.4,370.77 L97.9,371.02 L98.4,371.08 L98.9,370.95 L99.4,371.56 L99.9,371.24 L100.4,370.96 L100.9,371.44 L101.4,371.63 L101.9,370.38 L102.4,371.06 L102.9,370.68 L103.4,371.07 L103.9,370.49 L104.4,371.13 L104.9,371.08 L105.4,370.93 L105.9,370.55 L106.4,370.86 L106.9,370.49 L107.4,370.34 L107.9,371.12 L108.4,370.43 L108.9,371.56 L109.4,371.31 L109.9,369.94 L110.4,371.06 L110.9,370.35 L111.4,370.9 L111.9,370.89 L112.4,369.86 L112.9,370.72 L113.4,370.69 L113.9,371.28 L114.4,370.22 L114.9,371.2 L115.4,370.3 L115.9,370.71 L116.4,370.47 L116.9,371.63 L117.4,371.21 L117.9,372.16 L118.4,371.29 L118.9,371.41 L119.4,371.42 L119.9,370.72 L120.4,371 L120.9,371.73 L121.4,370.88 L121.9,371.19 L122.4,371.13 L122.9,371.49 L123.4,371.05 L123.9,371.21 L124.4,371.45 L124.9,371.43 L125.4,370.99 L125.9,371.92 L126.4,370.87 L126.9,370.97 L127.4,370.98 L127.9,372.15 L128.4,371.53 L128.9,371.28 L129.4,371.24 L129.9,372.07 L130.4,371.38 L130.9,371.32 L131.4,372.31 L131.9,371.45 L132.4,371.94 L132.9,372.14 L133.4,371.97 L133.9,372.22 L134.4,372.96 L134.9,372.08 L135.4,371.76 L135.9,371.52 L136.4,372.38 L136.9,372.35 L137.4,372.71 L137.9,372.39 L138.4,372.44 L138.9,372.36 L139.4,372.51 L139.9,372.9 L140.4,372.68 L140.9,372.96 L141.4,373.91 L141.9,373.25 L142.4,372.27 L142.9,373.97 L143.4,373.33 L143.9,372.73 L144.4,373.7 L144.9,373.31 L145.4,373.04 L145.9,373.08 L146.4,372.95 L146.9,373.51 L147.4,374.04 L147.9,373.35 L148.4,373.73 L148.9,374.46 L149.4,372.93 L149.9,373.67 L150.4,373.39 L150.9,373.02 L151.4,373.05 L151.9,373.56 L152.4,373.79 L152.9,373.32 L153.4,373.62 L153.9,373.96 L154.4,373.75 L154.9,374.04 L155.4,373.85 L155.9,373.87 L156.4,374.54 L156.9,373.95 L157.4,373.71 L157.9,374 L158.4,373.2 L158.9,373.49 L159.4,374.07 L159.9,373.99 L160.4,374.46 L160.9,373.7 L161.4,372.97 L161.9,374.68 L162.4,374.26 L162.9,373.19 L163.4,374.41 L163.9,373.75 L164.4,372.83 L164.9,373.54 L165.4,373.5 L165.9,374.56 L166.4,373.37 L166.9,373.65 L167.4,373.64 L167.9,373.6 L168.4,373.34 L168.9,373.91 L169.4,374.35 L169.9,374.13 L170.4,373.36 L170.9,373.25 L171.4,373.9 L171.9,373.49 L172.4,373.53 L172.9,373.02 L173.4,374.84 L173.9,374.33 L174.4,373.39 L174.9,374.34 L175.4,374.56 L175.9,372.7 L176.4,373.63 L176.9,373.72 L177.4,374.24 L177.9,373.86 L178.4,373.82 L178.9,373.91 L179.4,374.87 L179.9,375.03 L180.4,373.7 L180.9,373.5 L181.4,375.32 L181.9,373.49 L182.4,373.7 L182.9,374.01 L183.4,374.24 L183.9,374.52 L184.4,374.21 L184.9,373.59 L185.4,374.28 L185.9,374.16 L186.4,374.98 L186.9,374.04 L187.4,373.39 L187.9,373.54 L188.4,374.79 L188.9,373.81 L189.4,373.03 L189.9,373.8 L190.4,374.1 L190.9,374.7 L191.4,373.61 L191.9,374.46 L192.4,374.54 L192.9,373.8 L193.4,374.07 L193.9,375.06 L194.4,375.05 L194.9,374.63 L195.4,374.38 L195.9,374.79 L196.4,374.16 L196.9,374.2 L197.4,373.83 L197.9,374.27 L198.4,374.24 L198.9,375.68 L199.4,374.21 L199.9,374.95 L200.4,374.99 L200.9,374.24 L201.4,374.93 L201.9,373.27 L202.4,374.42 L202.9,374.81 L203.4,373.2 L203.9,373.83 L204.4,374.95 L204.9,374.3 L205.4,373.89 L205.9,374.27 L206.4,374.19 L206.9,374.84 L207.4,374.71 L207.9,374.36 L208.4,374.18 L208.9,374.49 L209.4,375.2 L209.9,374.72 L210.4,374.88 L210.9,374.49 L211.4,373.93 L211.9,374.24 L212.4,374.93 L212.9,374.67 L213.4,374.17 L213.9,373.83 L214.4,374.7 L214.9,374.49 L215.4,374.5 L215.9,374.52 L216.4,374.84 L216.9,374.85 L217.4,375.2 L217.9,375.19 L218.4,375.41 L218.9,375.16 L219.4,374.6 L219.9,374.75 L220.4,375.03 L220.9,374.64 L221.4,375.08 L221.9,375.4 L222.4,374.43 L222.9,373.96 L223.4,375.45 L223.9,374.88 L224.4,375.23 L224.9,374.22 L225.4,375.77 L225.9,375.28 L226.4,374.86 L226.9,374.76 L227.4,375 L227.9,374.88 L228.4,374.83 L228.9,374.42 L229.4,375.63 L229.9,374.99 L230.4,375.05 L230.9,375.08 L231.4,373.86 L231.9,375.32 L232.4,374.9 L232.9,374.93 L233.4,375.12 L233.9,374.61 L234.4,375.52 L234.9,374.75 L235.4,374.65 L235.9,374.67 L236.4,375.18 L236.9,375.47 L237.4,374.8 L237.9,374.34 L238.4,375.63 L238.9,374.57 L239.4,375.7 L239.9,375.07 L240.4,374.75 L240.9,374.78 L241.4,375.33 L241.9,375.54 L242.4,375 L242.9,375.57 L243.4,376.14 L243.9,375 L244.4,374.53 L244.9,374.57 L245.4,374.4 L245.9,374.78 L246.4,374.74 L246.9,374.44 L247.4,375.37 L247.9,373.79 L248.4,374.44 L248.9,376.11 L249.4,375.62 L249.9,375.36 L250.4,375.27 L250.9,375.85 L251.4,375.16 L251.9,374.85 L252.4,374.12 L252.9,374.63 L253.4,374.22 L253.9,374.16 L254.4,374.06 L254.9,374.29 L255.4,374.05 L255.9,374.54 L256.4,373.34 L256.9,373.82 L257.4,374.73 L257.9,374.03 L258.4,374.81 L258.9,374.99 L259.4,375.28 L259.9,375.2 L260.4,374.35 L260.9,375.11 L261.4,375.26 L261.9,374.88 L262.4,375.53 L262.9,375.2 L263.4,375.07 L263.9,376.08 L264.4,376.02 L264.9,375.77 L265.4,375.71 L265.9,375.99 L266.4,376.13 L266.9,376.2 L267.4,376.45 L267.9,376.33 L268.4,376.8 L268.9,376.87 L269.4,376.8 L269.9,376.3 L270.4,376.33 L270.9,376.87 L271.4,376.56 L271.9,376.65 L272.4,375.43 L272.9,375.34 L273.4,376.87 L273.9,376.87 L274.4,377.41 L274.9,377.09 L275.4,376.85 L275.9,376.75 L276.4,376.04 L276.9,377.2 L277.4,376.47 L277.9,377.03 L278.4,376.89 L278.9,376.94 L279.4,377.26 L279.9,376.57 L280.4,376.64 L280.9,376.41 L281.4,376.66 L281.9,377.69 L282.4,376.69 L282.9,377.47 L283.4,377.3 L283.9,377.26 L284.4,377.31 L284.9,376.41 L285.4,377.11 L285.9,377.73 L286.4,376.59 L286.9,376.93 L287.4,376.62 L287.9,377.13 L288.4,376.44 L288.9,377.79 L289.4,376.81 L289.9,376.24 L290.4,377.91 L290.9,377.51 L291.4,377.3 L291.9,377.31 L292.4,376.88 L292.9,376.95 L293.4,377.44 L293.9,377.54 L294.4,377.56 L294.9,377.21 L295.4,376.88 L295.9,377.03 L296.4,377.69 L296.9,377.86 L297.4,376.98 L297.9,376.92 L298.4,377.79 L298.9,377.54 L299.4,377.54 L299.9,376.54 L300.4,377.02 L300.9,376.96 L301.4,377.33 L301.9,376.39 L302.4,377.88 L302.9,377.4 L303.4,377.48 L303.9,376.68 L304.4,377.27 L304.9,377.96 L305.4,376.51 L305.9,377.4 L306.4,377.55 L306.9,376.81 L307.4,377.51 L307.9,376.9 L308.4,377.63 L308.9,377.23 L309.4,377.04 L309.9,377.88 L310.4,377.25 L310.9,377.44 L311.4,376.14 L311.9,376.37 L312.4,377.07 L312.9,377.05 L313.4,376.53 L313.9,376.9 L314.4,375.92 L314.9,376.48 L315.4,375.73 L315.9,376.41 L316.4,375.92 L316.9,375.78 L317.4,376.06 L317.9,376.87 L318.4,375.38 L318.9,375.52 L319.4,376.29 L319.9,375.47 L320.4,376.5 L320.9,375.66 L321.4,375.52 L321.9,375.58 L322.4,376.21 L322.9,375.6 L323.4,375.46 L323.9,375.26 L324.4,374.28 L324.9,374.55 L325.4,375.66 L325.9,375.26 L326.4,375.04 L326.9,375.03 L327.4,374.46 L327.9,374.93 L328.4,374.35 L328.9,375.03 L329.4,374.23 L329.9,370.39 L330.4,367.86 L330.9,367.46 L331.4,367.3 L331.9,367.46 L332.4,367.86 L332.9,370.72 L333.4,374.15 L333.9,374.39 L334.4,375.53 L334.9,375.73 L335.4,376.3 L335.9,375.68 L336.4,375.72 L336.9,374.86 L337.4,375.68 L337.9,375.64 L338.4,374.77 L338.9,374.85 L339.4,375.24 L339.9,375.44 L340.4,373.83 L340.9,375.34 L341.4,375.42 L341.9,375.21 L342.4,375.43 L342.9,375.53 L343.4,374.79 L343.9,375.51 L344.4,375.17 L344.9,374.83 L345.4,375.4 L345.9,376.04 L346.4,374.57 L346.9,374.47 L347.4,374.47 L347.9,376.29 L348.4,375.17 L348.9,375.27 L349.4,374.9 L349.9,374.81 L350.4,374.26 L350.9,375.35 L351.4,375.38 L351.9,374.26 L352.4,374.71 L352.9,374.85 L353.4,375.2 L353.9,375.33 L354.4,375.76 L354.9,375.87 L355.4,375.72 L355.9,375.84 L356.4,374.58 L356.9,374.88 L357.4,375.72 L357.9,375.28 L358.4,375.14 L358.9,374.13 L359.4,374.18 L359.9,375.47 L360.4,375.23 L360.9,374.87 L361.4,374.76 L361.9,374.06 L362.4,375.06 L362.9,375.34 L363.4,375.6 L363.9,374.76 L364.4,374.58 L364.9,374.09 L365.4,375.2 L365.9,375.4 L366.4,374.19 L366.9,374.59 L367.4,374.45 L367.9,374.07 L368.4,373.06 L368.9,374.08 L369.4,374.52 L369.9,373.44 L370.4,373.7 L370.9,371.01 L371.4,368.66 L371.9,368.06 L372.4,367.91 L372.9,368.23 L373.4,369.45 L373.9,372.51 L374.4,372.29 L374.9,372.28 L375.4,372.38 L375.9,372.46 L376.4,373.17 L376.9,371.68 L377.4,372.53 L377.9,372.09 L378.4,371.83 L378.9,371.22 L379.4,372.7 L379.9,371.9 L380.4,372.02 L380.9,372.63 L381.4,371.85 L381.9,372.41 L382.4,372.36 L382.9,372.8 L383.4,372.9 L383.9,371.96 L384.4,372.85 L384.9,372.35 L385.4,372.46 L385.9,372.29 L386.4,372.78 L386.9,371.79 L387.4,372.53 L387.9,372.98 L388.4,372.25 L388.9,373.41 L389.4,372.03 L389.9,372.5 L389.9,381.47 L389.4,382.18 L388.9,382.28 L388.4,381.48 L387.9,380.29 L387.4,382.03 L386.9,381.87 L386.4,381.05 L385.9,380.92 L385.4,381.79 L384.9,382.26 L384.4,382.42 L383.9,382.49 L383.4,381.67 L382.9,382.1 L382.4,381.83 L381.9,382.22 L381.4,381.62 L380.9,381.42 L380.4,382.19 L379.9,382.62 L379.4,382.21 L378.9,381.92 L378.4,381.53 L377.9,381.61 L377.4,382.64 L376.9,381.52 L376.4,381.81 L375.9,381.41 L375.4,381.21 L374.9,381.04 L374.4,381.65 L373.9,381.76 L373.4,382.11 L372.9,382.26 L372.4,382.33 L371.9,382.58 L371.4,382.6 L370.9,383.23 L370.4,383.5 L369.9,382.05 L369.4,382.63 L368.9,382.12 L368.4,382.77 L367.9,382.91 L367.4,382.76 L366.9,383.26 L366.4,382.68 L365.9,383.87 L365.4,383.51 L364.9,382.51 L364.4,383.24 L363.9,383.59 L363.4,384.21 L362.9,383.3 L362.4,383.12 L361.9,383.47 L361.4,382.64 L360.9,383.38 L360.4,383.35 L359.9,383.88 L359.4,383.98 L358.9,383.93 L358.4,383.64 L357.9,384.32 L357.4,383.07 L356.9,383.34 L356.4,384.04 L355.9,383.84 L355.4,383.58 L354.9,383.38 L354.4,384.07 L353.9,383.41 L353.4,384.59 L352.9,383.76 L352.4,383.38 L351.9,384.22 L351.4,383.72 L350.9,383.63 L350.4,382.94 L349.9,383.86 L349.4,383.73 L348.9,383.97 L348.4,384.04 L347.9,384.7 L347.4,383.97 L346.9,384.14 L346.4,383.04 L345.9,383.93 L345.4,383.79 L344.9,383.76 L344.4,383.33 L343.9,383.53 L343.4,382.85 L342.9,382.35 L342.4,382.38 L341.9,382.84 L341.4,382.71 L340.9,382.92 L340.4,382.52 L339.9,382.12 L339.4,382.29 L338.9,381.94 L338.4,381.89 L337.9,381.81 L337.4,381.52 L336.9,381.07 L336.4,382.75 L335.9,381.68 L335.4,381.86 L334.9,382.24 L334.4,381.88 L333.9,381.96 L333.4,381.99 L332.9,381.56 L332.4,380.87 L331.9,381.8 L331.4,381.68 L330.9,382.63 L330.4,382.44 L329.9,381.42 L329.4,381.69 L328.9,381.43 L328.4,381.7 L327.9,381.74 L327.4,382.21 L326.9,382.24 L326.4,381.43 L325.9,382.35 L325.4,382 L324.9,381.75 L324.4,382.02 L323.9,383.57 L323.4,382.51 L322.9,382.47 L322.4,382.61 L321.9,382.67 L321.4,383.95 L320.9,382.91 L320.4,383.45 L319.9,382.78 L319.4,383.63 L318.9,382.94 L318.4,383.09 L317.9,382.68 L317.4,383.8 L316.9,383.92 L316.4,383.68 L315.9,383.89 L315.4,383.92 L314.9,383.63 L314.4,383.07 L313.9,383.43 L313.4,384.25 L312.9,384.54 L312.4,383.23 L311.9,384.76 L311.4,384.22 L310.9,385.1 L310.4,384.91 L309.9,384.18 L309.4,383.81 L308.9,385.02 L308.4,384.3 L307.9,384.58 L307.4,384.63 L306.9,385.41 L306.4,384.87 L305.9,384.66 L305.4,385.1 L304.9,385.05 L304.4,385.61 L303.9,384.89 L303.4,385.39 L302.9,384.85 L302.4,384.52 L301.9,385.06 L301.4,385.62 L300.9,385.41 L300.4,384.94 L299.9,385.39 L299.4,384.61 L298.9,384.9 L298.4,385.38 L297.9,385.43 L297.4,385.12 L296.9,385.17 L296.4,385.04 L295.9,384.28 L295.4,385.6 L294.9,384.93 L294.4,385.29 L293.9,384.68 L293.4,384.72 L292.9,385.44 L292.4,384.57 L291.9,384.99 L291.4,383.95 L290.9,383.71 L290.4,384.61 L289.9,384.59 L289.4,384.54 L288.9,385.55 L288.4,384.68 L287.9,384.93 L287.4,384.62 L286.9,384.29 L286.4,384.89 L285.9,384.42 L285.4,383.68 L284.9,384.69 L284.4,384.25 L283.9,384.86 L283.4,384.14 L282.9,384.59 L282.4,385.11 L281.9,384.52 L281.4,384.73 L280.9,384.33 L280.4,384.13 L279.9,384.54 L279.4,384.64 L278.9,384.93 L278.4,383.14 L277.9,383.96 L277.4,384.48 L276.9,384.5 L276.4,384.07 L275.9,384.72 L275.4,384.14 L274.9,385.08 L274.4,384.61 L273.9,384.86 L273.4,384.57 L272.9,384.4 L272.4,383.96 L271.9,384.72 L271.4,383.91 L270.9,383.98 L270.4,384.76 L269.9,384.93 L269.4,384.38 L268.9,384.42 L268.4,384.24 L267.9,383.85 L267.4,383.97 L266.9,384.15 L266.4,384.18 L265.9,383.1 L265.4,384.53 L264.9,384.54 L264.4,383.88 L263.9,384.23 L263.4,384.13 L262.9,383.68 L262.4,383.15 L261.9,383.91 L261.4,383 L260.9,383.24 L260.4,382.56 L259.9,382.69 L259.4,383.82 L258.9,383.09 L258.4,382.86 L257.9,382.32 L257.4,382.23 L256.9,382 L256.4,382.84 L255.9,381.49 L255.4,382.65 L254.9,382.53 L254.4,382.38 L253.9,382.91 L253.4,383.28 L252.9,383.21 L252.4,382.36 L251.9,382.59 L251.4,382.39 L250.9,383.21 L250.4,381.44 L249.9,382.27 L249.4,383.46 L248.9,383.72 L248.4,382.12 L247.9,383.13 L247.4,383.63 L246.9,382.33 L246.4,382.21 L245.9,382.06 L245.4,382.71 L244.9,383.35 L244.4,381.78 L243.9,382.62 L243.4,382.64 L242.9,383.12 L242.4,383.17 L241.9,382.35 L241.4,382.34 L240.9,383.26 L240.4,382.77 L239.9,382.53 L239.4,383.09 L238.9,383.54 L238.4,383.49 L237.9,382.51 L237.4,382.79 L236.9,382.19 L236.4,382.78 L235.9,383.58 L235.4,382.49 L234.9,383.07 L234.4,382.11 L233.9,381.89 L233.4,383.28 L232.9,381.72 L232.4,382.98 L231.9,382.77 L231.4,383.01 L230.9,382.48 L230.4,383.16 L229.9,382.79 L229.4,382.78 L228.9,382.53 L228.4,382 L227.9,381.88 L227.4,381.8 L226.9,382.34 L226.4,383.03 L225.9,382.34 L225.4,382.03 L224.9,382.29 L224.4,382.59 L223.9,382.46 L223.4,382.53 L222.9,383.93 L222.4,382.59 L221.9,382.12 L221.4,382.71 L220.9,381.24 L220.4,381.61 L219.9,381.9 L219.4,381.23 L218.9,381.86 L218.4,382.54 L217.9,383.53 L217.4,382.07 L216.9,381.74 L216.4,381.98 L215.9,381.5 L215.4,381.46 L214.9,382.1 L214.4,381.72 L213.9,382.43 L213.4,382.53 L212.9,382.49 L212.4,382 L211.9,382.07 L211.4,382.37 L210.9,382.38 L210.4,381.21 L209.9,382.37 L209.4,383.09 L208.9,381.96 L208.4,382.05 L207.9,381.45 L207.4,382.27 L206.9,382.02 L206.4,381.26 L205.9,381.92 L205.4,381.12 L204.9,381.73 L204.4,382.17 L203.9,382.45 L203.4,382.09 L202.9,381.99 L202.4,382.06 L201.9,381.79 L201.4,381.43 L200.9,382.4 L200.4,382.74 L199.9,382.11 L199.4,381.6 L198.9,381.31 L198.4,381.66 L197.9,382.01 L197.4,382.32 L196.9,381.71 L196.4,382.22 L195.9,381.72 L195.4,383.03 L194.9,382.31 L194.4,382.32 L193.9,381.97 L193.4,381.66 L192.9,381.76 L192.4,382.13 L191.9,382.39 L191.4,381.38 L190.9,382.3 L190.4,382.23 L189.9,382.16 L189.4,381.15 L188.9,383.19 L188.4,382.04 L187.9,381.46 L187.4,381.8 L186.9,381.74 L186.4,381.1 L185.9,381.6 L185.4,381.39 L184.9,382.07 L184.4,381.92 L183.9,381.89 L183.4,381.75 L182.9,382.22 L182.4,380.74 L181.9,380.99 L181.4,382.16 L180.9,381.33 L180.4,381.28 L179.9,382.32 L179.4,381.47 L178.9,381.52 L178.4,381.67 L177.9,381.01 L177.4,380.83 L176.9,381.13 L176.4,380.66 L175.9,380.89 L175.4,379.98 L174.9,380.75 L174.4,381.59 L173.9,381.5 L173.4,381.25 L172.9,381.55 L172.4,381.92 L171.9,381.36 L171.4,380.81 L170.9,380.86 L170.4,381.78 L169.9,381.26 L169.4,381.42 L168.9,381.65 L168.4,381.33 L167.9,380.17 L167.4,381.59 L166.9,380.86 L166.4,381.61 L165.9,380.97 L165.4,380.79 L164.9,381.19 L164.4,381.38 L163.9,382.01 L163.4,380.88 L162.9,381.36 L162.4,380.61 L161.9,380.91 L161.4,381.35 L160.9,380.48 L160.4,381.05 L159.9,381.06 L159.4,380.82 L158.9,381.03 L158.4,381.05 L157.9,380.78 L157.4,381.1 L156.9,381.95 L156.4,381.46 L155.9,381.03 L155.4,380.68 L154.9,380.76 L154.4,380.34 L153.9,381.06 L153.4,381.66 L152.9,381 L152.4,380.35 L151.9,380.76 L151.4,381.24 L150.9,380.89 L150.4,381.47 L149.9,380.28 L149.4,380.27 L148.9,381.15 L148.4,381.6 L147.9,380.85 L147.4,380.85 L146.9,381.01 L146.4,380.04 L145.9,380.75 L145.4,381.23 L144.9,381.26 L144.4,380.39 L143.9,380.29 L143.4,380.66 L142.9,380.84 L142.4,380.71 L141.9,380.09 L141.4,380.15 L140.9,379.91 L140.4,381.21 L139.9,380.81 L139.4,380.35 L138.9,380.83 L138.4,381.46 L137.9,380.11 L137.4,381.17 L136.9,379.9 L136.4,380.23 L135.9,380.57 L135.4,380.24 L134.9,380.42 L134.4,380.9 L133.9,380.83 L133.4,380.71 L132.9,379.61 L132.4,380.84 L131.9,379.44 L131.4,379.58 L130.9,379.85 L130.4,380.59 L129.9,379.98 L129.4,380.28 L128.9,380.49 L128.4,380.21 L127.9,380.1 L127.4,379.65 L126.9,380.97 L126.4,380.1 L125.9,380.08 L125.4,381.12 L124.9,380.66 L124.4,379.95 L123.9,380.15 L123.4,380.27 L122.9,380.26 L122.4,380.02 L121.9,379.87 L121.4,380.24 L120.9,381.05 L120.4,379.82 L119.9,379.16 L119.4,379.83 L118.9,379.76 L118.4,380.5 L117.9,380.95 L117.4,380.16 L116.9,379.39 L116.4,380.48 L115.9,380.36 L115.4,380 L114.9,379.97 L114.4,380.19 L113.9,380.78 L113.4,379.89 L112.9,379.37 L112.4,380.17 L111.9,379.16 L111.4,379.81 L110.9,380.33 L110.4,380.62 L109.9,380.39 L109.4,380.36 L108.9,381.05 L108.4,379.75 L107.9,379.08 L107.4,380.14 L106.9,381.66 L106.4,379.81 L105.9,379.78 L105.4,381.2 L104.9,380.98 L104.4,379.54 L103.9,379.83 L103.4,381.22 L102.9,379.5 L102.4,380.62 L101.9,380.47 L101.4,380.14 L100.9,380.91 L100.4,380.78 L99.9,381.32 L99.4,380.8 L98.9,380.38 L98.4,380.43 L97.9,379.99 L97.4,380.76 L96.9,379.31 L96.4,380.49 L95.9,380.58 L95.4,381.03 L94.9,381.67 L94.4,380.58 L93.9,380.56 L93.4,380.9 L92.9,379.73 L92.4,381.26 L91.9,380.94 L91.4,380.06 L90.9,380.27 L90.4,379.86 L89.9,379.39 L89.4,379.41 L88.9,379.25Z" fill="#0000ff" fill-opacity="0.45"/>
<path d="M88.9,370.47 L89.4,370.36 L89.9,368.48 L90.4,369.87 L90.9,371.03 L91.4,371.92 L91.9,371.96 L92.4,372.42 L92.9,372.17 L93.4,372.28 L93.9,372.13 L94.4,371.68 L94.9,371.74 L95.4,372.15 L95.9,371.8 L96.4,372.43 L96.9,372.42 L97.4,372.58 L97.9,371.93 L98.4,372.4 L98.9,371.59 L99.4,371.6 L99.9,371.9 L100.4,371.95 L100.9,371.28 L101.4,371.21 L101.9,371.93 L102.4,371.48 L102.9,372.19 L103.4,371.89 L103.9,371.84 L104.4,371.79 L104.9,372.02 L105.4,371.63 L105.9,372.05 L106.4,371.47 L106.9,371.56 L107.4,371.38 L107.9,371.81 L108.4,371.6 L108.9,371.27 L109.4,372.25 L109.9,371.41 L110.4,371.48 L110.9,371.64 L111.4,372.1 L111.9,371.42 L112.4,371.7 L112.9,371.47 L113.4,370.91 L113.9,371.68 L114.4,371.77 L114.9,371.35 L115.4,371.45 L115.9,370.95 L116.4,370.96 L116.9,371.37 L117.4,371.75 L117.9,371.38 L118.4,371.67 L118.9,371.92 L119.4,371.64 L119.9,371.82 L120.4,372.15 L120.9,371.22 L121.4,371.94 L121.9,371.04 L122.4,371.89 L122.9,371.86 L123.4,371.64 L123.9,371.51 L124.4,371.91 L124.9,371.83 L125.4,372.06 L125.9,371.76 L126.4,372.31 L126.9,371.81 L127.4,372.11 L127.9,372.13 L128.4,372.76 L128.9,371.84 L129.4,372.27 L129.9,372.87 L130.4,372.28 L130.9,372.12 L131.4,372.7 L131.9,372.55 L132.4,372.99 L132.9,372.42 L133.4,372.86 L133.9,373.08 L134.4,373.25 L134.9,372.55 L135.4,373.48 L135.9,372.72 L136.4,372.55 L136.9,372.8 L137.4,373.23 L137.9,373.11 L138.4,373.43 L138.9,373.5 L139.4,373.48 L139.9,373.33 L140.4,374.1 L140.9,372.74 L141.4,372.96 L141.9,373.43 L142.4,373.22 L142.9,372.81 L143.4,373.48 L143.9,373.54 L144.4,372.99 L144.9,374.2 L145.4,374.4 L145.9,374.43 L146.4,373.86 L146.9,374.14 L147.4,373.71 L147.9,374.18 L148.4,373.88 L148.9,374.27 L149.4,374.01 L149.9,374.5 L150.4,374.44 L150.9,374.59 L151.4,373.6 L151.9,373.53 L152.4,374.32 L152.9,373.98 L153.4,374.33 L153.9,374.3 L154.4,374.26 L154.9,374.53 L155.4,374.41 L155.9,374.39 L156.4,373.92 L156.9,374.84 L157.4,374.29 L157.9,374.64 L158.4,374.37 L158.9,374.71 L159.4,374.32 L159.9,374.35 L160.4,374.33 L160.9,374.04 L161.4,374.1 L161.9,374.25 L162.4,374.27 L162.9,373.97 L163.4,375.15 L163.9,373.99 L164.4,374.23 L164.9,375.2 L165.4,374.12 L165.9,374.63 L166.4,374.6 L166.9,374.3 L167.4,373.88 L167.9,373.84 L168.4,374.39 L168.9,374.55 L169.4,373.65 L169.9,374.47 L170.4,374.19 L170.9,374.74 L171.4,374.5 L171.9,374.16 L172.4,374.3 L172.9,374.47 L173.4,374.94 L173.9,375.54 L174.4,374.61 L174.9,374.53 L175.4,374.74 L175.9,374.51 L176.4,374.75 L176.9,374.68 L177.4,374.55 L177.9,374.28 L178.4,374.62 L178.9,374.89 L179.4,374.6 L179.9,375.12 L180.4,374.92 L180.9,374.55 L181.4,375.22 L181.9,374.22 L182.4,375.03 L182.9,375.28 L183.4,374.55 L183.9,374.61 L184.4,374.98 L184.9,375.16 L185.4,374.82 L185.9,374.76 L186.4,375 L186.9,374.78 L187.4,374.27 L187.9,374.64 L188.4,374.71 L188.9,374.19 L189.4,374.87 L189.9,374.47 L190.4,375 L190.9,374.23 L191.4,374.44 L191.9,374.26 L192.4,375.23 L192.9,375.24 L193.4,375.32 L193.9,375.33 L194.4,375.15 L194.9,375.15 L195.4,374.26 L195.9,374.98 L196.4,374.7 L196.9,374.77 L197.4,374.47 L197.9,375.37 L198.4,374.98 L198.9,374.41 L199.4,375.12 L199.9,374.93 L200.4,374.59 L200.9,374.86 L201.4,374.7 L201.9,374.18 L202.4,374.46 L202.9,375.17 L203.4,375.13 L203.9,375.11 L204.4,374.61 L204.9,374.82 L205.4,375.06 L205.9,375.29 L206.4,374.77 L206.9,374.7 L207.4,375.49 L207.9,375.12 L208.4,374.98 L208.9,374.86 L209.4,374.9 L209.9,375.7 L210.4,375.5 L210.9,375.02 L211.4,374.74 L211.9,375.78 L212.4,375.75 L212.9,375.64 L213.4,375.52 L213.9,374.58 L214.4,374.8 L214.9,375.46 L215.4,375.17 L215.9,375.37 L216.4,375.11 L216.9,375.08 L217.4,375.51 L217.9,375.19 L218.4,375.34 L218.9,375.44 L219.4,375.44 L219.9,375.78 L220.4,375.87 L220.9,374.92 L221.4,375.32 L221.9,375.19 L222.4,375.7 L222.9,375.07 L223.4,375.73 L223.9,375.71 L224.4,375.68 L224.9,375.15 L225.4,375.43 L225.9,375.13 L226.4,375.66 L226.9,375.87 L227.4,375.01 L227.9,375.27 L228.4,375.51 L228.9,375.4 L229.4,376.12 L229.9,375.55 L230.4,375.7 L230.9,375.24 L231.4,376.18 L231.9,375.71 L232.4,375.93 L232.9,375.7 L233.4,374.94 L233.9,375.14 L234.4,375.25 L234.9,375.86 L235.4,375.52 L235.9,375.85 L236.4,375.8 L236.9,375.79 L237.4,376.02 L237.9,375.76 L238.4,375.12 L238.9,375.46 L239.4,376.28 L239.9,375.32 L240.4,376.18 L240.9,376.28 L241.4,375.49 L241.9,375.82 L242.4,375.21 L242.9,375.97 L243.4,375.43 L243.9,375.24 L244.4,375.56 L244.9,375.54 L245.4,375.5 L245.9,375.77 L246.4,375.64 L246.9,375.47 L247.4,376.03 L247.9,376.55 L248.4,375.72 L248.9,375.45 L249.4,375.35 L249.9,375.91 L250.4,375.55 L250.9,375.57 L251.4,374.79 L251.9,375.02 L252.4,374.93 L252.9,375.6 L253.4,375.1 L253.9,374.25 L254.4,375.19 L254.9,375.31 L255.4,375.27 L255.9,373.73 L256.4,374.66 L256.9,374.79 L257.4,374.61 L257.9,374.52 L258.4,374.18 L258.9,374.87 L259.4,375.11 L259.9,375.63 L260.4,375.86 L260.9,375.76 L261.4,376.35 L261.9,375.89 L262.4,376.12 L262.9,376.42 L263.4,376.7 L263.9,376.46 L264.4,377.07 L264.9,376.86 L265.4,376.45 L265.9,376.89 L266.4,376.62 L266.9,376.66 L267.4,376.57 L267.9,377.63 L268.4,377.52 L268.9,376.65 L269.4,377.61 L269.9,377.57 L270.4,377.11 L270.9,377.43 L271.4,378.04 L271.9,377.37 L272.4,377.43 L272.9,377.68 L273.4,376.93 L273.9,376.86 L274.4,376.82 L274.9,377.3 L275.4,377.64 L275.9,377.04 L276.4,376.87 L276.9,377.44 L277.4,377.25 L277.9,377.6 L278.4,377.36 L278.9,377.35 L279.4,377.39 L279.9,377.45 L280.4,377.11 L280.9,377.06 L281.4,378.02 L281.9,378.55 L282.4,377.87 L282.9,376.92 L283.4,377.51 L283.9,377.93 L284.4,376.95 L284.9,377.36 L285.4,377.4 L285.9,377.23 L286.4,377.27 L286.9,377.93 L287.4,377.42 L287.9,377.51 L288.4,378.2 L288.9,377.31 L289.4,376.95 L289.9,377.86 L290.4,378.34 L290.9,377.72 L291.4,377.76 L291.9,377.22 L292.4,377.35 L292.9,378.2 L293.4,378.14 L293.9,377.91 L294.4,377.49 L294.9,377.3 L295.4,377.36 L295.9,377.33 L296.4,377.96 L296.9,377.48 L297.4,377.59 L297.9,378.01 L298.4,378.01 L298.9,377.8 L299.4,377.96 L299.9,377.81 L300.4,377.13 L300.9,377.79 L301.4,377.68 L301.9,377.71 L302.4,377.93 L302.9,377.66 L303.4,378.29 L303.9,377.81 L304.4,377.94 L304.9,378.01 L305.4,377.83 L305.9,378.07 L306.4,378.06 L306.9,377.97 L307.4,377.46 L307.9,377.34 L308.4,377.4 L308.9,377.57 L309.4,376.86 L309.9,377.17 L310.4,377.02 L310.9,377.14 L311.4,377.01 L311.9,377.57 L312.4,377.4 L312.9,377.53 L313.4,376.8 L313.9,376.83 L314.4,376.93 L314.9,377.55 L315.4,377.49 L315.9,376.61 L316.4,376.98 L316.9,377.45 L317.4,376.26 L317.9,376.49 L318.4,376.94 L318.9,376.67 L319.4,376 L319.9,376.81 L320.4,376.56 L320.9,376.39 L321.4,375.64 L321.9,375.95 L322.4,376.4 L322.9,376.04 L323.4,376.08 L323.9,375.63 L324.4,376.19 L324.9,375.51 L325.4,375.84 L325.9,375.56 L326.4,375.04 L326.9,375.83 L327.4,374.89 L327.9,375.1 L328.4,375.45 L328.9,374.94 L329.4,374.84 L329.9,373.29 L330.4,369.68 L330.9,368.91 L331.4,368.7 L331.9,368.91 L332.4,369.69 L332.9,373.95 L333.4,375.83 L333.9,375.75 L334.4,374.87 L334.9,375.32 L335.4,375.98 L335.9,376.09 L336.4,375.6 L336.9,376 L337.4,376.2 L337.9,375.69 L338.4,375.32 L338.9,375.54 L339.4,375.78 L339.9,375.99 L340.4,376.16 L340.9,375.56 L341.4,375.9 L341.9,375.8 L342.4,375.9 L342.9,376.27 L343.4,376.34 L343.9,375.72 L344.4,375.67 L344.9,375.64 L345.4,375.7 L345.9,375.74 L346.4,375.83 L346.9,375.71 L347.4,375.51 L347.9,375.48 L348.4,375.91 L348.9,376.74 L349.4,376.07 L349.9,376.1 L350.4,375.98 L350.9,375.79 L351.4,376.54 L351.9,375.72 L352.4,375.48 L352.9,375.38 L353.4,375.87 L353.9,375.45 L354.4,375.48 L354.9,375.47 L355.4,375.31 L355.9,375.82 L356.4,375.16 L356.9,376.54 L357.4,374.77 L357.9,375.24 L358.4,375.74 L358.9,375.86 L359.4,375.58 L359.9,375.79 L360.4,375.72 L360.9,375.65 L361.4,375.77 L361.9,375.6 L362.4,375.44 L362.9,375.37 L363.4,375.69 L363.9,375.27 L364.4,375.48 L364.9,375.79 L365.4,375.33 L365.9,375.57 L366.4,374.95 L366.9,375.15 L367.4,375.18 L367.9,375.04 L368.4,375.08 L368.9,375.36 L369.4,374.71 L369.9,374.53 L370.4,374.84 L370.9,374.06 L371.4,370.89 L371.9,369.53 L372.4,369.32 L372.9,369.77 L373.4,371.98 L373.9,373.68 L374.4,373.22 L374.9,373.07 L375.4,371.83 L375.9,372.82 L376.4,373.25 L376.9,372.95 L377.4,372.73 L377.9,373.31 L378.4,372.68 L378.9,372.87 L379.4,373.23 L379.9,372.81 L380.4,373.05 L380.9,372.98 L381.4,372.57 L381.9,372.8 L382.4,372.86 L382.9,372.76 L383.4,373.36 L383.9,372.97 L384.4,372.76 L384.9,372.49 L385.4,372.87 L385.9,373.44 L386.4,372.87 L386.9,373.24 L387.4,373.13 L387.9,372.79 L388.4,372.64 L388.9,373.16 L389.4,372.39 L389.9,373.18 L389.9,380.65 L389.4,380.54 L388.9,381.01 L388.4,380.95 L387.9,380.77 L387.4,380.63 L386.9,381.69 L386.4,380.97 L385.9,381.55 L385.4,380.5 L384.9,381.3 L384.4,380.86 L383.9,381.27 L383.4,381.5 L382.9,381.21 L382.4,381.45 L381.9,381.04 L381.4,380.6 L380.9,380.98 L380.4,381.07 L379.9,380.84 L379.4,381.38 L378.9,381.5 L378.4,381.21 L377.9,380.93 L377.4,381.88 L376.9,381.23 L376.4,381.18 L375.9,381.22 L375.4,381.28 L374.9,381.52 L374.4,380.78 L373.9,381.38 L373.4,381.63 L372.9,381.79 L372.4,381.13 L371.9,381.69 L371.4,382.49 L370.9,381.72 L370.4,382.42 L369.9,382.56 L369.4,382.13 L368.9,382.03 L368.4,382.41 L367.9,382.31 L367.4,382.42 L366.9,382.67 L366.4,382.38 L365.9,382.5 L365.4,383.42 L364.9,382.11 L364.4,382.22 L363.9,382.35 L363.4,382.65 L362.9,382.52 L362.4,382.37 L361.9,382.89 L361.4,383.2 L360.9,383.02 L360.4,382.73 L359.9,382.25 L359.4,383.42 L358.9,383.12 L358.4,382.82 L357.9,382.55 L357.4,382.89 L356.9,383.08 L356.4,382.54 L355.9,382.9 L355.4,383.02 L354.9,382.76 L354.4,383.07 L353.9,383.29 L353.4,383.26 L352.9,383.11 L352.4,382.69 L351.9,382.87 L351.4,383.24 L350.9,383.06 L350.4,383.37 L349.9,383.06 L349.4,383.12 L348.9,383.2 L348.4,382.21 L347.9,383.02 L347.4,382.92 L346.9,383.75 L346.4,382.44 L345.9,383.39 L345.4,382.97 L344.9,382.28 L344.4,382.5 L343.9,382.51 L343.4,382.05 L342.9,382.86 L342.4,382.29 L341.9,382.22 L341.4,381.96 L340.9,381.97 L340.4,381.62 L339.9,381.72 L339.4,381.4 L338.9,382.1 L338.4,380.96 L337.9,381.08 L337.4,380.92 L336.9,381.84 L336.4,381.34 L335.9,380.87 L335.4,381.29 L334.9,381.1 L334.4,380.82 L333.9,380.58 L333.4,381.53 L332.9,381.05 L332.4,381.71 L331.9,381.93 L331.4,381.1 L330.9,381.32 L330.4,380.76 L329.9,381.52 L329.4,381.3 L328.9,381.33 L328.4,381.04 L327.9,381.2 L327.4,381.04 L326.9,381 L326.4,381.53 L325.9,380.98 L325.4,381.06 L324.9,380.75 L324.4,381.4 L323.9,381.95 L323.4,382.16 L322.9,381.43 L322.4,382.12 L321.9,382.27 L321.4,382.1 L320.9,382.52 L320.4,381.57 L319.9,382.37 L319.4,383.06 L318.9,382.4 L318.4,382.23 L317.9,382.51 L317.4,383.33 L316.9,383.34 L316.4,382.71 L315.9,382.63 L315.4,382.91 L314.9,382.95 L314.4,383.27 L313.9,382.91 L313.4,384.21 L312.9,383.47 L312.4,383.66 L311.9,383.55 L311.4,384.16 L310.9,383.83 L310.4,384.3 L309.9,383.97 L309.4,383.93 L308.9,384.61 L308.4,383.78 L307.9,384.13 L307.4,384.58 L306.9,384.81 L306.4,384.48 L305.9,384.4 L305.4,384.85 L304.9,385.49 L304.4,384.37 L303.9,384.45 L303.4,384.09 L302.9,384.15 L302.4,384.28 L301.9,384.01 L301.4,384.23 L300.9,384.69 L300.4,384.48 L299.9,383.78 L299.4,384.79 L298.9,383.93 L298.4,383.97 L297.9,384.43 L297.4,383.91 L296.9,383.99 L296.4,383.45 L295.9,384.57 L295.4,384.13 L294.9,384.56 L294.4,384.39 L293.9,383.65 L293.4,384.36 L292.9,384.57 L292.4,385.1 L291.9,384.48 L291.4,384.12 L290.9,384.45 L290.4,384.19 L289.9,384.35 L289.4,384.07 L288.9,383.88 L288.4,383.83 L287.9,384.58 L287.4,384 L286.9,384.35 L286.4,383.06 L285.9,384.24 L285.4,383.92 L284.9,384.35 L284.4,384.25 L283.9,384.36 L283.4,384.12 L282.9,383.93 L282.4,383.51 L281.9,384.02 L281.4,384.39 L280.9,383.41 L280.4,384.15 L279.9,383.81 L279.4,383.59 L278.9,383.51 L278.4,384.08 L277.9,383.83 L277.4,383.63 L276.9,384.1 L276.4,383.11 L275.9,383.6 L275.4,384.5 L274.9,383.35 L274.4,383.94 L273.9,383.9 L273.4,383.53 L272.9,383.1 L272.4,384.36 L271.9,383.37 L271.4,383.38 L270.9,384.1 L270.4,383.4 L269.9,383.86 L269.4,383.27 L268.9,383.19 L268.4,383.75 L267.9,383.54 L267.4,384 L266.9,383.36 L266.4,383.56 L265.9,383.04 L265.4,383.02 L264.9,383.22 L264.4,382.91 L263.9,383.42 L263.4,383.17 L262.9,383.76 L262.4,383.04 L261.9,382.84 L261.4,382.14 L260.9,382.54 L260.4,382.26 L259.9,381.94 L259.4,381.47 L258.9,381.48 L258.4,381.6 L257.9,381.68 L257.4,380.88 L256.9,381.54 L256.4,381.34 L255.9,381.61 L255.4,381.8 L254.9,382.66 L254.4,382.23 L253.9,382.57 L253.4,381.8 L252.9,381.74 L252.4,382.04 L251.9,381.71 L251.4,382.03 L250.9,381.71 L250.4,382.28 L249.9,382.09 L249.4,382.19 L248.9,382.64 L248.4,382.31 L247.9,382.24 L247.4,382 L246.9,381.73 L246.4,381.56 L245.9,382.2 L245.4,382.3 L244.9,382.06 L244.4,382.61 L243.9,382.21 L243.4,382.47 L242.9,382.34 L242.4,382.27 L241.9,382.14 L241.4,381.82 L240.9,382.05 L240.4,382.3 L239.9,382.38 L239.4,382.54 L238.9,381.89 L238.4,381.9 L237.9,382.41 L237.4,382.31 L236.9,382.05 L236.4,381.78 L235.9,382.47 L235.4,382.32 L234.9,382.28 L234.4,382.26 L233.9,381.96 L233.4,381.84 L232.9,381.77 L232.4,381.76 L231.9,382.11 L231.4,382.3 L230.9,382.41 L230.4,382.15 L229.9,381.72 L229.4,382.09 L228.9,381.9 L228.4,382.07 L227.9,382.3 L227.4,382.31 L226.9,382.4 L226.4,382.07 L225.9,382.02 L225.4,381.83 L224.9,382.29 L224.4,381.09 L223.9,381.51 L223.4,381.91 L222.9,382.32 L222.4,381.86 L221.9,382.02 L221.4,381.93 L220.9,381.56 L220.4,381.56 L219.9,382.15 L219.4,381.73 L218.9,381.5 L218.4,381.71 L217.9,381.88 L217.4,382.06 L216.9,381.46 L216.4,381.08 L215.9,381.19 L215.4,381.93 L214.9,381.62 L214.4,381.8 L213.9,381.81 L213.4,381.22 L212.9,381.59 L212.4,382.03 L211.9,381.04 L211.4,382.02 L210.9,381.71 L210.4,381.82 L209.9,381.54 L209.4,381.57 L208.9,381.95 L208.4,381.33 L207.9,380.93 L207.4,381.46 L206.9,380.81 L206.4,381.71 L205.9,380.63 L205.4,381.05 L204.9,380.99 L204.4,381.39 L203.9,380.65 L203.4,380.75 L202.9,381.39 L202.4,381.05 L201.9,381.71 L201.4,381.35 L200.9,380.97 L200.4,380.63 L199.9,380.9 L199.4,381.46 L198.9,381.67 L198.4,381.7 L197.9,381.03 L197.4,380.68 L196.9,380.86 L196.4,381.39 L195.9,381.16 L195.4,381.02 L194.9,381.69 L194.4,381.67 L193.9,381.22 L193.4,380.74 L192.9,381.53 L192.4,381.56 L191.9,380.79 L191.4,380.79 L190.9,381.26 L190.4,381.89 L189.9,381.44 L189.4,380.84 L188.9,380.53 L188.4,381.29 L187.9,381.18 L187.4,381.34 L186.9,381.28 L186.4,380.73 L185.9,380.33 L185.4,381.02 L184.9,380.58 L184.4,381 L183.9,381.27 L183.4,380.9 L182.9,380.52 L182.4,381.35 L181.9,381 L181.4,381.21 L180.9,380.54 L180.4,380.53 L179.9,381.2 L179.4,380.92 L178.9,380.73 L178.4,380.32 L177.9,381.65 L177.4,380.57 L176.9,380.26 L176.4,380.5 L175.9,380.9 L175.4,380.28 L174.9,380.83 L174.4,381.2 L173.9,381.24 L173.4,380.41 L172.9,381.06 L172.4,380.95 L171.9,381 L171.4,380.09 L170.9,381.13 L170.4,380.57 L169.9,381.21 L169.4,381.3 L168.9,381.12 L168.4,380.85 L167.9,380.69 L167.4,380.82 L166.9,380.94 L166.4,380.11 L165.9,380.93 L165.4,380.86 L164.9,380.37 L164.4,380.65 L163.9,380.43 L163.4,380.49 L162.9,380.75 L162.4,380.47 L161.9,379.91 L161.4,380.12 L160.9,380.49 L160.4,380.15 L159.9,379.81 L159.4,380.63 L158.9,380.22 L158.4,380.73 L157.9,380.03 L157.4,380.74 L156.9,380.1 L156.4,380.21 L155.9,379.89 L155.4,380.3 L154.9,380.5 L154.4,379.83 L153.9,380.78 L153.4,380.34 L152.9,380.28 L152.4,380.04 L151.9,380.65 L151.4,380.48 L150.9,380.12 L150.4,380.35 L149.9,379.76 L149.4,380.32 L148.9,379.95 L148.4,380.51 L147.9,379.6 L147.4,380.24 L146.9,379.86 L146.4,379.92 L145.9,380.12 L145.4,380.19 L144.9,380.34 L144.4,379.93 L143.9,380.22 L143.4,379.18 L142.9,380.85 L142.4,380.2 L141.9,380.12 L141.4,380.16 L140.9,379.41 L140.4,380.2 L139.9,379.3 L139.4,380.17 L138.9,379.87 L138.4,380.35 L137.9,380.12 L137.4,379.86 L136.9,380.37 L136.4,379.72 L135.9,380.03 L135.4,380.15 L134.9,380.44 L134.4,379.62 L133.9,379.66 L133.4,379.32 L132.9,380.12 L132.4,379.53 L131.9,380.15 L131.4,380.24 L130.9,379.98 L130.4,379.77 L129.9,379.4 L129.4,379.83 L128.9,379.97 L128.4,379.75 L127.9,379.62 L127.4,379.9 L126.9,379.91 L126.4,380.09 L125.9,379.64 L125.4,379.98 L124.9,379.69 L124.4,379.1 L123.9,379.59 L123.4,379.79 L122.9,379.35 L122.4,380.02 L121.9,379.58 L121.4,379.54 L120.9,379.05 L120.4,379.8 L119.9,379.9 L119.4,379.68 L118.9,379.92 L118.4,379.61 L117.9,379.66 L117.4,379.24 L116.9,379.35 L116.4,379.72 L115.9,379.22 L115.4,379.97 L114.9,379.52 L114.4,379.25 L113.9,379.5 L113.4,378.85 L112.9,378.81 L112.4,379.84 L111.9,379.63 L111.4,379.26 L110.9,379.74 L110.4,379.12 L109.9,379.5 L109.4,379.37 L108.9,379.04 L108.4,379.56 L107.9,379.63 L107.4,379.32 L106.9,379.71 L106.4,379.61 L105.9,379.56 L105.4,379.58 L104.9,379.72 L104.4,378.78 L103.9,379.13 L103.4,379.91 L102.9,379.59 L102.4,379.63 L101.9,379.91 L101.4,379.68 L100.9,380.04 L100.4,379.75 L99.9,378.84 L99.4,380.14 L98.9,379.71 L98.4,379.81 L97.9,379.35 L97.4,379.28 L96.9,379.84 L96.4,379.83 L95.9,379.72 L95.4,380.03 L94.9,379.69 L94.4,379.91 L93.9,379.96 L93.4,380.12 L92.9,380.06 L92.4,379.77 L91.9,379.9 L91.4,379.5 L90.9,380.05 L90.4,379.48 L89.9,379.2 L89.4,379.4 L88.9,378.46Z" fill="#0000ff"/>
<path d="M87.71,427.6l1.7,2l-1.7,2l-1.7,-2zM87.36,426.86l1.7,2l-1.7,2l-1.7,-2zM87.51,426.12l1.7,2l-1.7,2l-1.7,-2zM87.46,425.37l1.7,2l-1.7,2l-1.7,-2zM87.33,424.63l1.7,2l-1.7,2l-1.7,-2zM87.63,423.89l1.7,2l-1.7,2l-1.7,-2zM87.53,423.15l1.7,2l-1.7,2l-1.7,-2zM87.55,422.41l1.7,2l-1.7,2l-1.7,-2zM87.45,421.67l1.7,2l-1.7,2l-1.7,-2zM87.59,420.92l1.7,2l-1.7,2l-1.7,-2zM87.47,420.18l1.7,2l-1.7,2l-1.7,-2zM87.52,419.44l1.7,2l-1.7,2l-1.7,-2zM87.4,418.7l1.7,2l-1.7,2l-1.7,-2zM87.39,417.96l1.7,2l-1.7,2l-1.7,-2zM87.7,417.22l1.7,2l-1.7,2l-1.7,-2zM87.48,416.47l1.7,2l-1.7,2l-1.7,-2zM87.57,415.73l1.7,2l-1.7,2l-1.7,-2zM87.53,414.99l1.7,2l-1.7,2l-1.7,-2zM87.48,414.25l1.7,2l-1.7,2l-1.7,-2zM87.48,413.51l1.7,2l-1.7,2l-1.7,-2zM88.29,412.76l1.7,2l-1.7,2l-1.7,-2zM88.18,412.02l1.7,2l-1.7,2l-1.7,-2zM88.19,411.28l1.7,2l-1.7,2l-1.7,-2zM88.22,410.54l1.7,2l-1.7,2l-1.7,-2zM88.35,409.8l1.7,2l-1.7,2l-1.7,-2zM88.29,409.06l1.7,2l-1.7,2l-1.7,-2zM88.26,408.31l1.7,2l-1.7,2l-1.7,-2zM88.14,407.57l1.7,2l-1.7,2l-1.7,-2zM88.05,406.83l1.7,2l-1.7,2l-1.7,-2zM88.33,406.09l1.7,2l-1.7,2l-1.7,-2zM88.33,405.35l1.7,2l-1.7,2l-1.7,-2zM88.2,404.61l1.7,2l-1.7,2l-1.7,-2zM88.28,403.86l1.7,2l-1.7,2l-1.7,-2zM88.31,403.12l1.7,2l-1.7,2l-1.7,-2zM88.31,402.38l1.7,2l-1.7,2l-1.7,-2zM88.32,401.64l1.7,2l-1.7,2l-1.7,-2zM88.16,400.9l1.7,2l-1.7,2l-1.7,-2zM88.39,400.15l1.7,2l-1.7,2l-1.7,-2zM88.06,399.41l1.7,2l-1.7,2l-1.7,-2zM88.32,398.67l1.7,2l-1.7,2l-1.7,-2zM88.95,397.93l1.7,2l-1.7,2l-1.7,-2zM88.99,397.19l1.7,2l-1.7,2l-1.7,-2zM89.11,396.45l1.7,2l-1.7,2l-1.7,-2zM89.07,395.7l1.7,2l-1.7,2l-1.7,-2zM88.75,394.96l1.7,2l-1.7,2l-1.7,-2zM88.68,394.22l1.7,2l-1.7,2l-1.7,-2zM88.99,393.48l1.7,2l-1.7,2l-1.7,-2zM88.77,392.74l1.7,2l-1.7,2l-1.7,-2zM88.89,391.99l1.7,2l-1.7,2l-1.7,-2zM88.99,391.25l1.7,2l-1.7,2l-1.7,-2zM88.69,390.51l1.7,2l-1.7,2l-1.7,-2zM88.63,389.77l1.7,2l-1.7,2l-1.7,-2zM88.92,389.03l1.7,2l-1.7,2l-1.7,-2zM88.89,388.29l1.7,2l-1.7,2l-1.7,-2zM88.86,387.54l1.7,2l-1.7,2l-1.7,-2zM88.89,386.8l1.7,2l-1.7,2l-1.7,-2zM88.78,386.06l1.7,2l-1.7,2l-1.7,-2zM88.71,385.32l1.7,2l-1.7,2l-1.7,-2zM88.87,384.58l1.7,2l-1.7,2l-1.7,-2zM88.77,383.84l1.7,2l-1.7,2l-1.7,-2zM89.37,383.09l1.7,2l-1.7,2l-1.7,-2zM89.62,382.35l1.7,2l-1.7,2l-1.7,-2zM89.56,381.61l1.7,2l-1.7,2l-1.7,-2zM89.61,380.87l1.7,2l-1.7,2l-1.7,-2zM89.44,380.13l1.7,2l-1.7,2l-1.7,-2zM89.48,379.38l1.7,2l-1.7,2l-1.7,-2zM89.44,378.64l1.7,2l-1.7,2l-1.7,-2zM89.46,377.9l1.7,2l-1.7,2l-1.7,-2zM89.59,377.16l1.7,2l-1.7,2l-1.7,-2zM89.47,376.42l1.7,2l-1.7,2l-1.7,-2zM89.61,375.68l1.7,2l-1.7,2l-1.7,-2zM89.6,374.93l1.7,2l-1.7,2l-1.7,-2zM89.81,374.19l1.7,2l-1.7,2l-1.7,-2zM89.4,373.45l1.7,2l-1.7,2l-1.7,-2zM89.67,372.71l1.7,2l-1.7,2l-1.7,-2zM89.55,371.97l1.7,2l-1.7,2l-1.7,-2zM89.56,371.23l1.7,2l-1.7,2l-1.7,-2zM89.39,370.48l1.7,2l-1.7,2l-1.7,-2zM89.51,369.74l1.7,2l-1.7,2l-1.7,-2zM90.33,369l1.7,2l-1.7,2l-1.7,-2z" fill="#0000ff"/>
<path d="M388.51,380.44l1.35,1.7l-1.35,1.7l-1.35,-1.7zM388.67,382.17l1.35,1.7l-1.35,1.7l-1.35,-1.7zM388.17,383.4l1.35,1.7l-1.35,1.7l-1.35,-1.7zM388.2,385.03l1.35,1.7l-1.35,1.7l-1.35,-1.7zM388.4,386.26l1.35,1.7l-1.35,1.7l-1.35,-1.7zM388.7,387.93l1.35,1.7l-1.35,1.7l-1.35,-1.7zM388.32,389.68l1.35,1.7l-1.35,1.7l-1.35,-1.7zM388.67,390.76l1.35,1.7l-1.35,1.7l-1.35,-1.7zM388.51,392.66l1.35,1.7l-1.35,1.7l-1.35,-1.7zM388.51,393.58l1.35,1.7l-1.35,1.7l-1.35,-1.7zM388.58,395.02l1.35,1.7l-1.35,1.7l-1.35,-1.7zM388.34,396.68l1.35,1.7l-1.35,1.7l-1.35,-1.7zM388.4,398.66l1.35,1.7l-1.35,1.7l-1.35,-1.7zM388.31,399.57l1.35,1.7l-1.35,1.7l-1.35,-1.7zM388.5,401.68l1.35,1.7l-1.35,1.7l-1.35,-1.7zM388.76,403.01l1.35,1.7l-1.35,1.7l-1.35,-1.7zM388.43,404.51l1.35,1.7l-1.35,1.7l-1.35,-1.7zM388.56,406.08l1.35,1.7l-1.35,1.7l-1.35,-1.7zM388.54,407.16l1.35,1.7l-1.35,1.7l-1.35,-1.7zM388.51,408.78l1.35,1.7l-1.35,1.7l-1.35,-1.7zM388.46,409.97l1.35,1.7l-1.35,1.7l-1.35,-1.7zM388.68,411.77l1.35,1.7l-1.35,1.7l-1.35,-1.7zM388.5,413.57l1.35,1.7l-1.35,1.7l-1.35,-1.7zM388.42,414.42l1.35,1.7l-1.35,1.7l-1.35,-1.7zM388.23,416.32l1.35,1.7l-1.35,1.7l-1.35,-1.7zM388.64,418.12l1.35,1.7l-1.35,1.7l-1.35,-1.7zM388.6,419.47l1.35,1.7l-1.35,1.7l-1.35,-1.7zM388.53,420.55l1.35,1.7l-1.35,1.7l-1.35,-1.7zM388.47,421.85l1.35,1.7l-1.35,1.7l-1.35,-1.7zM388.73,423.85l1.35,1.7l-1.35,1.7l-1.35,-1.7zM388.49,425.05l1.35,1.7l-1.35,1.7l-1.35,-1.7zM388.4,426.52l1.35,1.7l-1.35,1.7l-1.35,-1.7zM388.58,428.38l1.35,1.7l-1.35,1.7l-1.35,-1.7zM388.45,429.46l1.35,1.7l-1.35,1.7l-1.35,-1.7z" fill="#0000ff" fill-opacity="0.25"/>
</g>
<g id="d2v">
<path d="M698.21,202.7l1.65,1.7l-1.65,1.7l-1.65,-1.7zM595.82,202.7l1.65,1.7l-1.65,1.7l-1.65,-1.7zM731.02,202.7l1.65,1.7l-1.65,1.7l-1.65,-1.7zM757.76,202.7l1.65,1.7l-1.65,1.7l-1.65,-1.7zM597.62,202.7l1.65,1.7l-1.65,1.7l-1.65,-1.7zM522.48,202.7l1.65,1.7l-1.65,1.7l-1.65,-1.7zM709.87,202.7l1.65,1.7l-1.65,1.7l-1.65,-1.7zM779.88,202.7l1.65,1.7l-1.65,1.7l-1.65,-1.7zM525.54,202.7l1.65,1.7l-1.65,1.7l-1.65,-1.7zM695.52,202.7l1.65,1.7l-1.65,1.7l-1.65,-1.7zM729.42,202.7l1.65,1.7l-1.65,1.7l-1.65,-1.7zM758.09,202.7l1.65,1.7l-1.65,1.7l-1.65,-1.7zM518.14,202.7l1.65,1.7l-1.65,1.7l-1.65,-1.7zM508.63,202.7l1.65,1.7l-1.65,1.7l-1.65,-1.7zM778.35,202.7l1.65,1.7l-1.65,1.7l-1.65,-1.7zM516.14,202.7l1.65,1.7l-1.65,1.7l-1.65,-1.7zM534.22,202.7l1.65,1.7l-1.65,1.7l-1.65,-1.7zM654.06,202.7l1.65,1.7l-1.65,1.7l-1.65,-1.7zM615.33,202.7l1.65,1.7l-1.65,1.7l-1.65,-1.7zM706.87,202.7l1.65,1.7l-1.65,1.7l-1.65,-1.7zM538.36,202.7l1.65,1.7l-1.65,1.7l-1.65,-1.7zM756.24,202.7l1.65,1.7l-1.65,1.7l-1.65,-1.7zM546.38,202.7l1.65,1.7l-1.65,1.7l-1.65,-1.7zM712.5,202.7l1.65,1.7l-1.65,1.7l-1.65,-1.7zM501.35,202.7l1.65,1.7l-1.65,1.7l-1.65,-1.7zM623.49,202.7l1.65,1.7l-1.65,1.7l-1.65,-1.7zM490.8,202.7l1.65,1.7l-1.65,1.7l-1.65,-1.7zM575.46,202.7l1.65,1.7l-1.65,1.7l-1.65,-1.7zM574.98,202.7l1.65,1.7l-1.65,1.7l-1.65,-1.7zM697.64,202.7l1.65,1.7l-1.65,1.7l-1.65,-1.7zM617.96,202.7l1.65,1.7l-1.65,1.7l-1.65,-1.7zM498.09,202.7l1.65,1.7l-1.65,1.7l-1.65,-1.7zM780.6,202.7l1.65,1.7l-1.65,1.7l-1.65,-1.7zM748.5,202.7l1.65,1.7l-1.65,1.7l-1.65,-1.7zM756.81,202.7l1.65,1.7l-1.65,1.7l-1.65,-1.7zM555.22,202.7l1.65,1.7l-1.65,1.7l-1.65,-1.7zM599.63,202.7l1.65,1.7l-1.65,1.7l-1.65,-1.7zM549.38,202.7l1.65,1.7l-1.65,1.7l-1.65,-1.7zM518.6,202.7l1.65,1.7l-1.65,1.7l-1.65,-1.7zM490.94,202.7l1.65,1.7l-1.65,1.7l-1.65,-1.7zM632.5,202.7l1.65,1.7l-1.65,1.7l-1.65,-1.7zM518.06,202.7l1.65,1.7l-1.65,1.7l-1.65,-1.7zM534.07,202.7l1.65,1.7l-1.65,1.7l-1.65,-1.7zM740,202.7l1.65,1.7l-1.65,1.7l-1.65,-1.7zM626.76,202.7l1.65,1.7l-1.65,1.7l-1.65,-1.7zM536.29,202.7l1.65,1.7l-1.65,1.7l-1.65,-1.7zM682.63,202.7l1.65,1.7l-1.65,1.7l-1.65,-1.7zM561.03,202.7l1.65,1.7l-1.65,1.7l-1.65,-1.7zM639.61,202.7l1.65,1.7l-1.65,1.7l-1.65,-1.7zM566.17,202.7l1.65,1.7l-1.65,1.7l-1.65,-1.7zM636.36,202.7l1.65,1.7l-1.65,1.7l-1.65,-1.7zM670.19,202.7l1.65,1.7l-1.65,1.7l-1.65,-1.7zM642.4,202.7l1.65,1.7l-1.65,1.7l-1.65,-1.7zM600.08,202.7l1.65,1.7l-1.65,1.7l-1.65,-1.7zM719.03,202.7l1.65,1.7l-1.65,1.7l-1.65,-1.7zM743.9,202.7l1.65,1.7l-1.65,1.7l-1.65,-1.7zM534.99,202.7l1.65,1.7l-1.65,1.7l-1.65,-1.7zM522.03,202.7l1.65,1.7l-1.65,1.7l-1.65,-1.7zM515.07,202.7l1.65,1.7l-1.65,1.7l-1.65,-1.7zM775.86,202.7l1.65,1.7l-1.65,1.7l-1.65,-1.7zM764.42,202.7l1.65,1.7l-1.65,1.7l-1.65,-1.7zM550.43,202.7l1.65,1.7l-1.65,1.7l-1.65,-1.7zM772.94,202.7l1.65,1.7l-1.65,1.7l-1.65,-1.7zM543.55,202.7l1.65,1.7l-1.65,1.7l-1.65,-1.7zM633.45,202.7l1.65,1.7l-1.65,1.7l-1.65,-1.7zM630.71,202.7l1.65,1.7l-1.65,1.7l-1.65,-1.7zM756.4,202.7l1.65,1.7l-1.65,1.7l-1.65,-1.7zM493.2,202.7l1.65,1.7l-1.65,1.7l-1.65,-1.7zM575.92,202.7l1.65,1.7l-1.65,1.7l-1.65,-1.7zM661.59,202.7l1.65,1.7l-1.65,1.7l-1.65,-1.7zM500.99,202.7l1.65,1.7l-1.65,1.7l-1.65,-1.7zM552.2,202.7l1.65,1.7l-1.65,1.7l-1.65,-1.7zM620.98,202.7l1.65,1.7l-1.65,1.7l-1.65,-1.7zM746.14,202.7l1.65,1.7l-1.65,1.7l-1.65,-1.7zM710.05,202.7l1.65,1.7l-1.65,1.7l-1.65,-1.7z" fill="#ffa500" fill-opacity="0.17"/><path d="M730.52,202.7l1.65,1.7l-1.65,1.7l-1.65,-1.7zM710.08,202.7l1.65,1.7l-1.65,1.7l-1.65,-1.7zM694.02,202.7l1.65,1.7l-1.65,1.7l-1.65,-1.7zM736.76,202.7l1.65,1.7l-1.65,1.7l-1.65,-1.7zM686.12,202.7l1.65,1.7l-1.65,1.7l-1.65,-1.7zM702.44,202.7l1.65,1.7l-1.65,1.7l-1.65,-1.7zM571.79,202.7l1.65,1.7l-1.65,1.7l-1.65,-1.7zM531.46,202.7l1.65,1.7l-1.65,1.7l-1.65,-1.7zM708.71,202.7l1.65,1.7l-1.65,1.7l-1.65,-1.7zM530.92,202.7l1.65,1.7l-1.65,1.7l-1.65,-1.7zM757.76,202.7l1.65,1.7l-1.65,1.7l-1.65,-1.7zM660.59,202.7l1.65,1.7l-1.65,1.7l-1.65,-1.7zM580.16,202.7l1.65,1.7l-1.65,1.7l-1.65,-1.7zM762.93,202.7l1.65,1.7l-1.65,1.7l-1.65,-1.7zM527.69,202.7l1.65,1.7l-1.65,1.7l-1.65,-1.7zM635.85,202.7l1.65,1.7l-1.65,1.7l-1.65,-1.7zM508.56,202.7l1.65,1.7l-1.65,1.7l-1.65,-1.7zM771.59,202.7l1.65,1.7l-1.65,1.7l-1.65,-1.7zM654.19,202.7l1.65,1.7l-1.65,1.7l-1.65,-1.7zM722.9,202.7l1.65,1.7l-1.65,1.7l-1.65,-1.7zM565.86,202.7l1.65,1.7l-1.65,1.7l-1.65,-1.7zM722.34,202.7l1.65,1.7l-1.65,1.7l-1.65,-1.7zM692.56,202.7l1.65,1.7l-1.65,1.7l-1.65,-1.7zM674.75,202.7l1.65,1.7l-1.65,1.7l-1.65,-1.7zM767.12,202.7l1.65,1.7l-1.65,1.7l-1.65,-1.7zM611.48,202.7l1.65,1.7l-1.65,1.7l-1.65,-1.7zM605.94,202.7l1.65,1.7l-1.65,1.7l-1.65,-1.7zM689.33,202.7l1.65,1.7l-1.65,1.7l-1.65,-1.7zM732.35,202.7l1.65,1.7l-1.65,1.7l-1.65,-1.7zM581.86,202.7l1.65,1.7l-1.65,1.7l-1.65,-1.7zM682.57,202.7l1.65,1.7l-1.65,1.7l-1.65,-1.7zM543.92,202.7l1.65,1.7l-1.65,1.7l-1.65,-1.7zM647.06,202.7l1.65,1.7l-1.65,1.7l-1.65,-1.7zM712.52,202.7l1.65,1.7l-1.65,1.7l-1.65,-1.7zM500.66,202.7l1.65,1.7l-1.65,1.7l-1.65,-1.7zM700.08,202.7l1.65,1.7l-1.65,1.7l-1.65,-1.7zM485.65,202.7l1.65,1.7l-1.65,1.7l-1.65,-1.7zM769.46,202.7l1.65,1.7l-1.65,1.7l-1.65,-1.7zM622.07,202.7l1.65,1.7l-1.65,1.7l-1.65,-1.7zM604.13,202.7l1.65,1.7l-1.65,1.7l-1.65,-1.7zM697.85,202.7l1.65,1.7l-1.65,1.7l-1.65,-1.7zM638.51,202.7l1.65,1.7l-1.65,1.7l-1.65,-1.7zM700.99,202.7l1.65,1.7l-1.65,1.7l-1.65,-1.7zM506.51,202.7l1.65,1.7l-1.65,1.7l-1.65,-1.7zM650.4,202.7l1.65,1.7l-1.65,1.7l-1.65,-1.7zM648.99,202.7l1.65,1.7l-1.65,1.7l-1.65,-1.7zM761.57,202.7l1.65,1.7l-1.65,1.7l-1.65,-1.7zM492.92,202.7l1.65,1.7l-1.65,1.7l-1.65,-1.7zM617.3,202.7l1.65,1.7l-1.65,1.7l-1.65,-1.7zM670.95,202.7l1.65,1.7l-1.65,1.7l-1.65,-1.7zM646.77,202.7l1.65,1.7l-1.65,1.7l-1.65,-1.7zM503.32,202.7l1.65,1.7l-1.65,1.7l-1.65,-1.7zM659.56,202.7l1.65,1.7l-1.65,1.7l-1.65,-1.7zM547.88,202.7l1.65,1.7l-1.65,1.7l-1.65,-1.7zM539.86,202.7l1.65,1.7l-1.65,1.7l-1.65,-1.7zM745.49,202.7l1.65,1.7l-1.65,1.7l-1.65,-1.7zM540.55,202.7l1.65,1.7l-1.65,1.7l-1.65,-1.7zM617.74,202.7l1.65,1.7l-1.65,1.7l-1.65,-1.7zM706.84,202.7l1.65,1.7l-1.65,1.7l-1.65,-1.7zM693.9,202.7l1.65,1.7l-1.65,1.7l-1.65,-1.7zM647.59,202.7l1.65,1.7l-1.65,1.7l-1.65,-1.7zM723.92,202.7l1.65,1.7l-1.65,1.7l-1.65,-1.7zM621.21,202.7l1.65,1.7l-1.65,1.7l-1.65,-1.7zM667.74,202.7l1.65,1.7l-1.65,1.7l-1.65,-1.7zM727.49,202.7l1.65,1.7l-1.65,1.7l-1.65,-1.7zM685.11,202.7l1.65,1.7l-1.65,1.7l-1.65,-1.7zM674.19,202.7l1.65,1.7l-1.65,1.7l-1.65,-1.7zM603.24,202.7l1.65,1.7l-1.65,1.7l-1.65,-1.7zM649.06,202.7l1.65,1.7l-1.65,1.7l-1.65,-1.7zM600.22,202.7l1.65,1.7l-1.65,1.7l-1.65,-1.7zM705.03,202.7l1.65,1.7l-1.65,1.7l-1.65,-1.7zM595.51,202.7l1.65,1.7l-1.65,1.7l-1.65,-1.7zM621.45,202.7l1.65,1.7l-1.65,1.7l-1.65,-1.7zM708.39,202.7l1.65,1.7l-1.65,1.7l-1.65,-1.7zM632.6,202.7l1.65,1.7l-1.65,1.7l-1.65,-1.7z" fill="#ffa500" fill-opacity="0.17"/>
<path d="M582.42,209.5l1.65,1.7l-1.65,1.7l-1.65,-1.7zM730.53,209.5l1.65,1.7l-1.65,1.7l-1.65,-1.7zM595.43,209.5l1.65,1.7l-1.65,1.7l-1.65,-1.7zM735.95,209.5l1.65,1.7l-1.65,1.7l-1.65,-1.7zM717.93,209.5l1.65,1.7l-1.65,1.7l-1.65,-1.7zM615.53,209.5l1.65,1.7l-1.65,1.7l-1.65,-1.7zM696.01,209.5l1.65,1.7l-1.65,1.7l-1.65,-1.7zM490.42,209.5l1.65,1.7l-1.65,1.7l-1.65,-1.7zM598.11,209.5l1.65,1.7l-1.65,1.7l-1.65,-1.7zM740.68,209.5l1.65,1.7l-1.65,1.7l-1.65,-1.7zM655.6,209.5l1.65,1.7l-1.65,1.7l-1.65,-1.7zM649.02,209.5l1.65,1.7l-1.65,1.7l-1.65,-1.7zM681.42,209.5l1.65,1.7l-1.65,1.7l-1.65,-1.7zM685.33,209.5l1.65,1.7l-1.65,1.7l-1.65,-1.7zM656.83,209.5l1.65,1.7l-1.65,1.7l-1.65,-1.7zM607.45,209.5l1.65,1.7l-1.65,1.7l-1.65,-1.7zM535.6,209.5l1.65,1.7l-1.65,1.7l-1.65,-1.7zM568.67,209.5l1.65,1.7l-1.65,1.7l-1.65,-1.7zM568.76,209.5l1.65,1.7l-1.65,1.7l-1.65,-1.7zM610.52,209.5l1.65,1.7l-1.65,1.7l-1.65,-1.7zM782.71,209.5l1.65,1.7l-1.65,1.7l-1.65,-1.7zM586.82,209.5l1.65,1.7l-1.65,1.7l-1.65,-1.7zM615.56,209.5l1.65,1.7l-1.65,1.7l-1.65,-1.7zM592.6,209.5l1.65,1.7l-1.65,1.7l-1.65,-1.7zM656.17,209.5l1.65,1.7l-1.65,1.7l-1.65,-1.7zM767.21,209.5l1.65,1.7l-1.65,1.7l-1.65,-1.7zM749.39,209.5l1.65,1.7l-1.65,1.7l-1.65,-1.7zM594.27,209.5l1.65,1.7l-1.65,1.7l-1.65,-1.7zM560.87,209.5l1.65,1.7l-1.65,1.7l-1.65,-1.7zM747.97,209.5l1.65,1.7l-1.65,1.7l-1.65,-1.7zM629.63,209.5l1.65,1.7l-1.65,1.7l-1.65,-1.7zM687.72,209.5l1.65,1.7l-1.65,1.7l-1.65,-1.7zM502.21,209.5l1.65,1.7l-1.65,1.7l-1.65,-1.7zM742.57,209.5l1.65,1.7l-1.65,1.7l-1.65,-1.7zM574.83,209.5l1.65,1.7l-1.65,1.7l-1.65,-1.7zM629.84,209.5l1.65,1.7l-1.65,1.7l-1.65,-1.7zM540,209.5l1.65,1.7l-1.65,1.7l-1.65,-1.7zM607.33,209.5l1.65,1.7l-1.65,1.7l-1.65,-1.7zM730.9,209.5l1.65,1.7l-1.65,1.7l-1.65,-1.7zM730.76,209.5l1.65,1.7l-1.65,1.7l-1.65,-1.7zM623.52,209.5l1.65,1.7l-1.65,1.7l-1.65,-1.7zM712.68,209.5l1.65,1.7l-1.65,1.7l-1.65,-1.7zM618.79,209.5l1.65,1.7l-1.65,1.7l-1.65,-1.7zM593.13,209.5l1.65,1.7l-1.65,1.7l-1.65,-1.7zM645.4,209.5l1.65,1.7l-1.65,1.7l-1.65,-1.7zM541.01,209.5l1.65,1.7l-1.65,1.7l-1.65,-1.7zM575.92,209.5l1.65,1.7l-1.65,1.7l-1.65,-1.7zM694.08,209.5l1.65,1.7l-1.65,1.7l-1.65,-1.7zM713.47,209.5l1.65,1.7l-1.65,1.7l-1.65,-1.7zM497.18,209.5l1.65,1.7l-1.65,1.7l-1.65,-1.7zM702.05,209.5l1.65,1.7l-1.65,1.7l-1.65,-1.7zM727.68,209.5l1.65,1.7l-1.65,1.7l-1.65,-1.7zM614.89,209.5l1.65,1.7l-1.65,1.7l-1.65,-1.7zM498.92,209.5l1.65,1.7l-1.65,1.7l-1.65,-1.7zM686.92,209.5l1.65,1.7l-1.65,1.7l-1.65,-1.7zM554.59,209.5l1.65,1.7l-1.65,1.7l-1.65,-1.7zM674.94,209.5l1.65,1.7l-1.65,1.7l-1.65,-1.7zM594.12,209.5l1.65,1.7l-1.65,1.7l-1.65,-1.7zM673.06,209.5l1.65,1.7l-1.65,1.7l-1.65,-1.7zM558.21,209.5l1.65,1.7l-1.65,1.7l-1.65,-1.7zM624.39,209.5l1.65,1.7l-1.65,1.7l-1.65,-1.7zM638.98,209.5l1.65,1.7l-1.65,1.7l-1.65,-1.7zM671.2,209.5l1.65,1.7l-1.65,1.7l-1.65,-1.7zM541.56,209.5l1.65,1.7l-1.65,1.7l-1.65,-1.7zM771.5,209.5l1.65,1.7l-1.65,1.7l-1.65,-1.7zM567.61,209.5l1.65,1.7l-1.65,1.7l-1.65,-1.7zM572.72,209.5l1.65,1.7l-1.65,1.7l-1.65,-1.7zM557.66,209.5l1.65,1.7l-1.65,1.7l-1.65,-1.7zM500.45,209.5l1.65,1.7l-1.65,1.7l-1.65,-1.7zM608.15,209.5l1.65,1.7l-1.65,1.7l-1.65,-1.7zM713.87,209.5l1.65,1.7l-1.65,1.7l-1.65,-1.7zM695,209.5l1.65,1.7l-1.65,1.7l-1.65,-1.7zM539.26,209.5l1.65,1.7l-1.65,1.7l-1.65,-1.7zM521.49,209.5l1.65,1.7l-1.65,1.7l-1.65,-1.7zM577.39,209.5l1.65,1.7l-1.65,1.7l-1.65,-1.7zM712.78,209.5l1.65,1.7l-1.65,1.7l-1.65,-1.7zM627.89,209.5l1.65,1.7l-1.65,1.7l-1.65,-1.7zM759.72,209.5l1.65,1.7l-1.65,1.7l-1.65,-1.7zM678.88,209.5l1.65,1.7l-1.65,1.7l-1.65,-1.7zM668.13,209.5l1.65,1.7l-1.65,1.7l-1.65,-1.7zM712.61,209.5l1.65,1.7l-1.65,1.7l-1.65,-1.7zM707.33,209.5l1.65,1.7l-1.65,1.7l-1.65,-1.7zM584.18,209.5l1.65,1.7l-1.65,1.7l-1.65,-1.7zM557.87,209.5l1.65,1.7l-1.65,1.7l-1.65,-1.7zM612.6,209.5l1.65,1.7l-1.65,1.7l-1.65,-1.7zM628.24,209.5l1.65,1.7l-1.65,1.7l-1.65,-1.7zM522.94,209.5l1.65,1.7l-1.65,1.7l-1.65,-1.7zM613.72,209.5l1.65,1.7l-1.65,1.7l-1.65,-1.7zM673.87,209.5l1.65,1.7l-1.65,1.7l-1.65,-1.7zM521.12,209.5l1.65,1.7l-1.65,1.7l-1.65,-1.7zM521.83,209.5l1.65,1.7l-1.65,1.7l-1.65,-1.7zM532.64,209.5l1.65,1.7l-1.65,1.7l-1.65,-1.7zM565.85,209.5l1.65,1.7l-1.65,1.7l-1.65,-1.7zM771.4,209.5l1.65,1.7l-1.65,1.7l-1.65,-1.7zM487.81,209.5l1.65,1.7l-1.65,1.7l-1.65,-1.7zM535.67,209.5l1.65,1.7l-1.65,1.7l-1.65,-1.7zM530.01,209.5l1.65,1.7l-1.65,1.7l-1.65,-1.7zM623.73,209.5l1.65,1.7l-1.65,1.7l-1.65,-1.7zM484.57,209.5l1.65,1.7l-1.65,1.7l-1.65,-1.7zM618.83,209.5l1.65,1.7l-1.65,1.7l-1.65,-1.7zM529.37,209.5l1.65,1.7l-1.65,1.7l-1.65,-1.7zM561.7,209.5l1.65,1.7l-1.65,1.7l-1.65,-1.7zM720.11,209.5l1.65,1.7l-1.65,1.7l-1.65,-1.7zM535.77,209.5l1.65,1.7l-1.65,1.7l-1.65,-1.7zM666.99,209.5l1.65,1.7l-1.65,1.7l-1.65,-1.7zM603.11,209.5l1.65,1.7l-1.65,1.7l-1.65,-1.7zM606.53,209.5l1.65,1.7l-1.65,1.7l-1.65,-1.7zM727.5,209.5l1.65,1.7l-1.65,1.7l-1.65,-1.7zM528.76,209.5l1.65,1.7l-1.65,1.7l-1.65,-1.7zM759.91,209.5l1.65,1.7l-1.65,1.7l-1.65,-1.7zM750.73,209.5l1.65,1.7l-1.65,1.7l-1.65,-1.7zM682.5,209.5l1.65,1.7l-1.65,1.7l-1.65,-1.7zM494.98,209.5l1.65,1.7l-1.65,1.7l-1.65,-1.7zM680.98,209.5l1.65,1.7l-1.65,1.7l-1.65,-1.7zM661.91,209.5l1.65,1.7l-1.65,1.7l-1.65,-1.7z" fill="#ffa500" fill-opacity="0.2"/><path d="M713.98,209.5l1.65,1.7l-1.65,1.7l-1.65,-1.7zM544.79,209.5l1.65,1.7l-1.65,1.7l-1.65,-1.7zM768.87,209.5l1.65,1.7l-1.65,1.7l-1.65,-1.7zM748.52,209.5l1.65,1.7l-1.65,1.7l-1.65,-1.7zM514.65,209.5l1.65,1.7l-1.65,1.7l-1.65,-1.7zM575.51,209.5l1.65,1.7l-1.65,1.7l-1.65,-1.7zM489.83,209.5l1.65,1.7l-1.65,1.7l-1.65,-1.7zM731.78,209.5l1.65,1.7l-1.65,1.7l-1.65,-1.7zM757.27,209.5l1.65,1.7l-1.65,1.7l-1.65,-1.7zM779.91,209.5l1.65,1.7l-1.65,1.7l-1.65,-1.7zM665.41,209.5l1.65,1.7l-1.65,1.7l-1.65,-1.7zM681.79,209.5l1.65,1.7l-1.65,1.7l-1.65,-1.7zM685.56,209.5l1.65,1.7l-1.65,1.7l-1.65,-1.7zM652.75,209.5l1.65,1.7l-1.65,1.7l-1.65,-1.7zM768.58,209.5l1.65,1.7l-1.65,1.7l-1.65,-1.7zM664.18,209.5l1.65,1.7l-1.65,1.7l-1.65,-1.7zM581.72,209.5l1.65,1.7l-1.65,1.7l-1.65,-1.7zM635.4,209.5l1.65,1.7l-1.65,1.7l-1.65,-1.7zM485.65,209.5l1.65,1.7l-1.65,1.7l-1.65,-1.7zM699.41,209.5l1.65,1.7l-1.65,1.7l-1.65,-1.7zM690.26,209.5l1.65,1.7l-1.65,1.7l-1.65,-1.7zM607.58,209.5l1.65,1.7l-1.65,1.7l-1.65,-1.7zM738,209.5l1.65,1.7l-1.65,1.7l-1.65,-1.7zM708.92,209.5l1.65,1.7l-1.65,1.7l-1.65,-1.7zM582.02,209.5l1.65,1.7l-1.65,1.7l-1.65,-1.7zM503.48,209.5l1.65,1.7l-1.65,1.7l-1.65,-1.7zM520.06,209.5l1.65,1.7l-1.65,1.7l-1.65,-1.7zM535.83,209.5l1.65,1.7l-1.65,1.7l-1.65,-1.7zM572.09,209.5l1.65,1.7l-1.65,1.7l-1.65,-1.7zM615.6,209.5l1.65,1.7l-1.65,1.7l-1.65,-1.7zM761.18,209.5l1.65,1.7l-1.65,1.7l-1.65,-1.7zM564.36,209.5l1.65,1.7l-1.65,1.7l-1.65,-1.7zM752.27,209.5l1.65,1.7l-1.65,1.7l-1.65,-1.7zM686.18,209.5l1.65,1.7l-1.65,1.7l-1.65,-1.7zM738.61,209.5l1.65,1.7l-1.65,1.7l-1.65,-1.7zM602.19,209.5l1.65,1.7l-1.65,1.7l-1.65,-1.7zM480.99,209.5l1.65,1.7l-1.65,1.7l-1.65,-1.7zM718.45,209.5l1.65,1.7l-1.65,1.7l-1.65,-1.7zM554.38,209.5l1.65,1.7l-1.65,1.7l-1.65,-1.7zM523.17,209.5l1.65,1.7l-1.65,1.7l-1.65,-1.7zM722.25,209.5l1.65,1.7l-1.65,1.7l-1.65,-1.7zM687.96,209.5l1.65,1.7l-1.65,1.7l-1.65,-1.7zM544.36,209.5l1.65,1.7l-1.65,1.7l-1.65,-1.7zM561.08,209.5l1.65,1.7l-1.65,1.7l-1.65,-1.7zM764.58,209.5l1.65,1.7l-1.65,1.7l-1.65,-1.7zM561.37,209.5l1.65,1.7l-1.65,1.7l-1.65,-1.7zM692.83,209.5l1.65,1.7l-1.65,1.7l-1.65,-1.7zM519.25,209.5l1.65,1.7l-1.65,1.7l-1.65,-1.7zM726.96,209.5l1.65,1.7l-1.65,1.7l-1.65,-1.7zM515.63,209.5l1.65,1.7l-1.65,1.7l-1.65,-1.7zM636.36,209.5l1.65,1.7l-1.65,1.7l-1.65,-1.7zM490.67,209.5l1.65,1.7l-1.65,1.7l-1.65,-1.7zM646.67,209.5l1.65,1.7l-1.65,1.7l-1.65,-1.7zM736.53,209.5l1.65,1.7l-1.65,1.7l-1.65,-1.7zM505.57,209.5l1.65,1.7l-1.65,1.7l-1.65,-1.7zM563.1,209.5l1.65,1.7l-1.65,1.7l-1.65,-1.7zM711.7,209.5l1.65,1.7l-1.65,1.7l-1.65,-1.7zM664.25,209.5l1.65,1.7l-1.65,1.7l-1.65,-1.7zM574.78,209.5l1.65,1.7l-1.65,1.7l-1.65,-1.7zM670.56,209.5l1.65,1.7l-1.65,1.7l-1.65,-1.7zM617.78,209.5l1.65,1.7l-1.65,1.7l-1.65,-1.7zM741.29,209.5l1.65,1.7l-1.65,1.7l-1.65,-1.7zM568.76,209.5l1.65,1.7l-1.65,1.7l-1.65,-1.7zM709.59,209.5l1.65,1.7l-1.65,1.7l-1.65,-1.7zM672.61,209.5l1.65,1.7l-1.65,1.7l-1.65,-1.7zM704.35,209.5l1.65,1.7l-1.65,1.7l-1.65,-1.7zM594.61,209.5l1.65,1.7l-1.65,1.7l-1.65,-1.7zM699.65,209.5l1.65,1.7l-1.65,1.7l-1.65,-1.7zM691.62,209.5l1.65,1.7l-1.65,1.7l-1.65,-1.7zM597.41,209.5l1.65,1.7l-1.65,1.7l-1.65,-1.7zM488.02,209.5l1.65,1.7l-1.65,1.7l-1.65,-1.7zM771.76,209.5l1.65,1.7l-1.65,1.7l-1.65,-1.7zM696.22,209.5l1.65,1.7l-1.65,1.7l-1.65,-1.7zM542.04,209.5l1.65,1.7l-1.65,1.7l-1.65,-1.7zM701.43,209.5l1.65,1.7l-1.65,1.7l-1.65,-1.7zM564.44,209.5l1.65,1.7l-1.65,1.7l-1.65,-1.7zM622.19,209.5l1.65,1.7l-1.65,1.7l-1.65,-1.7zM740.55,209.5l1.65,1.7l-1.65,1.7l-1.65,-1.7zM615.77,209.5l1.65,1.7l-1.65,1.7l-1.65,-1.7zM567.27,209.5l1.65,1.7l-1.65,1.7l-1.65,-1.7zM572.56,209.5l1.65,1.7l-1.65,1.7l-1.65,-1.7zM503.34,209.5l1.65,1.7l-1.65,1.7l-1.65,-1.7zM546.51,209.5l1.65,1.7l-1.65,1.7l-1.65,-1.7zM562.15,209.5l1.65,1.7l-1.65,1.7l-1.65,-1.7zM532.41,209.5l1.65,1.7l-1.65,1.7l-1.65,-1.7zM499.11,209.5l1.65,1.7l-1.65,1.7l-1.65,-1.7zM621.13,209.5l1.65,1.7l-1.65,1.7l-1.65,-1.7zM544.96,209.5l1.65,1.7l-1.65,1.7l-1.65,-1.7zM703.85,209.5l1.65,1.7l-1.65,1.7l-1.65,-1.7zM759.53,209.5l1.65,1.7l-1.65,1.7l-1.65,-1.7zM562.71,209.5l1.65,1.7l-1.65,1.7l-1.65,-1.7zM653.39,209.5l1.65,1.7l-1.65,1.7l-1.65,-1.7zM633.54,209.5l1.65,1.7l-1.65,1.7l-1.65,-1.7zM502.76,209.5l1.65,1.7l-1.65,1.7l-1.65,-1.7zM517.84,209.5l1.65,1.7l-1.65,1.7l-1.65,-1.7zM748.09,209.5l1.65,1.7l-1.65,1.7l-1.65,-1.7zM623.67,209.5l1.65,1.7l-1.65,1.7l-1.65,-1.7zM723.8,209.5l1.65,1.7l-1.65,1.7l-1.65,-1.7zM500.17,209.5l1.65,1.7l-1.65,1.7l-1.65,-1.7zM660.23,209.5l1.65,1.7l-1.65,1.7l-1.65,-1.7zM742.19,209.5l1.65,1.7l-1.65,1.7l-1.65,-1.7zM742.72,209.5l1.65,1.7l-1.65,1.7l-1.65,-1.7zM481.73,209.5l1.65,1.7l-1.65,1.7l-1.65,-1.7zM638.08,209.5l1.65,1.7l-1.65,1.7l-1.65,-1.7zM591.81,209.5l1.65,1.7l-1.65,1.7l-1.65,-1.7zM710.29,209.5l1.65,1.7l-1.65,1.7l-1.65,-1.7zM502.19,209.5l1.65,1.7l-1.65,1.7l-1.65,-1.7zM560.27,209.5l1.65,1.7l-1.65,1.7l-1.65,-1.7zM726.23,209.5l1.65,1.7l-1.65,1.7l-1.65,-1.7zM622.28,209.5l1.65,1.7l-1.65,1.7l-1.65,-1.7zM617.3,209.5l1.65,1.7l-1.65,1.7l-1.65,-1.7zM773.47,209.5l1.65,1.7l-1.65,1.7l-1.65,-1.7zM576.93,209.5l1.65,1.7l-1.65,1.7l-1.65,-1.7zM492.64,209.5l1.65,1.7l-1.65,1.7l-1.65,-1.7zM598.84,209.5l1.65,1.7l-1.65,1.7l-1.65,-1.7z" fill="#ffa500" fill-opacity="0.2"/><path d="M526.47,209.5l1.65,1.7l-1.65,1.7l-1.65,-1.7zM504.81,209.5l1.65,1.7l-1.65,1.7l-1.65,-1.7zM652.06,209.5l1.65,1.7l-1.65,1.7l-1.65,-1.7zM768.93,209.5l1.65,1.7l-1.65,1.7l-1.65,-1.7zM655.56,209.5l1.65,1.7l-1.65,1.7l-1.65,-1.7zM676.08,209.5l1.65,1.7l-1.65,1.7l-1.65,-1.7zM578.06,209.5l1.65,1.7l-1.65,1.7l-1.65,-1.7zM653.05,209.5l1.65,1.7l-1.65,1.7l-1.65,-1.7zM707.93,209.5l1.65,1.7l-1.65,1.7l-1.65,-1.7zM658.55,209.5l1.65,1.7l-1.65,1.7l-1.65,-1.7zM723.24,209.5l1.65,1.7l-1.65,1.7l-1.65,-1.7zM646.79,209.5l1.65,1.7l-1.65,1.7l-1.65,-1.7zM540.04,209.5l1.65,1.7l-1.65,1.7l-1.65,-1.7zM656.57,209.5l1.65,1.7l-1.65,1.7l-1.65,-1.7zM628.75,209.5l1.65,1.7l-1.65,1.7l-1.65,-1.7zM530.28,209.5l1.65,1.7l-1.65,1.7l-1.65,-1.7zM667.61,209.5l1.65,1.7l-1.65,1.7l-1.65,-1.7zM727.54,209.5l1.65,1.7l-1.65,1.7l-1.65,-1.7zM520.93,209.5l1.65,1.7l-1.65,1.7l-1.65,-1.7zM645.12,209.5l1.65,1.7l-1.65,1.7l-1.65,-1.7zM702.31,209.5l1.65,1.7l-1.65,1.7l-1.65,-1.7zM602.11,209.5l1.65,1.7l-1.65,1.7l-1.65,-1.7zM561.82,209.5l1.65,1.7l-1.65,1.7l-1.65,-1.7zM592.8,209.5l1.65,1.7l-1.65,1.7l-1.65,-1.7zM644.13,209.5l1.65,1.7l-1.65,1.7l-1.65,-1.7zM688.06,209.5l1.65,1.7l-1.65,1.7l-1.65,-1.7zM649.43,209.5l1.65,1.7l-1.65,1.7l-1.65,-1.7zM512.43,209.5l1.65,1.7l-1.65,1.7l-1.65,-1.7zM727.82,209.5l1.65,1.7l-1.65,1.7l-1.65,-1.7zM759.93,209.5l1.65,1.7l-1.65,1.7l-1.65,-1.7zM510.69,209.5l1.65,1.7l-1.65,1.7l-1.65,-1.7zM555.6,209.5l1.65,1.7l-1.65,1.7l-1.65,-1.7zM532.63,209.5l1.65,1.7l-1.65,1.7l-1.65,-1.7zM737.29,209.5l1.65,1.7l-1.65,1.7l-1.65,-1.7zM755.81,209.5l1.65,1.7l-1.65,1.7l-1.65,-1.7zM493.41,209.5l1.65,1.7l-1.65,1.7l-1.65,-1.7zM580.72,209.5l1.65,1.7l-1.65,1.7l-1.65,-1.7zM538.33,209.5l1.65,1.7l-1.65,1.7l-1.65,-1.7zM622.27,209.5l1.65,1.7l-1.65,1.7l-1.65,-1.7zM759.24,209.5l1.65,1.7l-1.65,1.7l-1.65,-1.7zM501.26,209.5l1.65,1.7l-1.65,1.7l-1.65,-1.7zM531.9,209.5l1.65,1.7l-1.65,1.7l-1.65,-1.7zM627.57,209.5l1.65,1.7l-1.65,1.7l-1.65,-1.7zM638.78,209.5l1.65,1.7l-1.65,1.7l-1.65,-1.7zM705.89,209.5l1.65,1.7l-1.65,1.7l-1.65,-1.7zM612.62,209.5l1.65,1.7l-1.65,1.7l-1.65,-1.7zM522.76,209.5l1.65,1.7l-1.65,1.7l-1.65,-1.7zM587.14,209.5l1.65,1.7l-1.65,1.7l-1.65,-1.7zM777.57,209.5l1.65,1.7l-1.65,1.7l-1.65,-1.7zM707.47,209.5l1.65,1.7l-1.65,1.7l-1.65,-1.7zM515.25,209.5l1.65,1.7l-1.65,1.7l-1.65,-1.7zM724.89,209.5l1.65,1.7l-1.65,1.7l-1.65,-1.7zM574.21,209.5l1.65,1.7l-1.65,1.7l-1.65,-1.7zM716.76,209.5l1.65,1.7l-1.65,1.7l-1.65,-1.7zM483.85,209.5l1.65,1.7l-1.65,1.7l-1.65,-1.7zM743.99,209.5l1.65,1.7l-1.65,1.7l-1.65,-1.7zM529.18,209.5l1.65,1.7l-1.65,1.7l-1.65,-1.7zM618.09,209.5l1.65,1.7l-1.65,1.7l-1.65,-1.7zM680.51,209.5l1.65,1.7l-1.65,1.7l-1.65,-1.7zM633.88,209.5l1.65,1.7l-1.65,1.7l-1.65,-1.7zM530.12,209.5l1.65,1.7l-1.65,1.7l-1.65,-1.7zM522.15,209.5l1.65,1.7l-1.65,1.7l-1.65,-1.7zM566.21,209.5l1.65,1.7l-1.65,1.7l-1.65,-1.7zM495.87,209.5l1.65,1.7l-1.65,1.7l-1.65,-1.7zM545.61,209.5l1.65,1.7l-1.65,1.7l-1.65,-1.7zM519.42,209.5l1.65,1.7l-1.65,1.7l-1.65,-1.7zM620.83,209.5l1.65,1.7l-1.65,1.7l-1.65,-1.7zM588.02,209.5l1.65,1.7l-1.65,1.7l-1.65,-1.7zM657.81,209.5l1.65,1.7l-1.65,1.7l-1.65,-1.7zM565.11,209.5l1.65,1.7l-1.65,1.7l-1.65,-1.7zM490.28,209.5l1.65,1.7l-1.65,1.7l-1.65,-1.7zM580.33,209.5l1.65,1.7l-1.65,1.7l-1.65,-1.7zM708.82,209.5l1.65,1.7l-1.65,1.7l-1.65,-1.7zM557.52,209.5l1.65,1.7l-1.65,1.7l-1.65,-1.7zM602.58,209.5l1.65,1.7l-1.65,1.7l-1.65,-1.7zM708.76,209.5l1.65,1.7l-1.65,1.7l-1.65,-1.7zM603.22,209.5l1.65,1.7l-1.65,1.7l-1.65,-1.7zM748.8,209.5l1.65,1.7l-1.65,1.7l-1.65,-1.7zM758.17,209.5l1.65,1.7l-1.65,1.7l-1.65,-1.7zM574.09,209.5l1.65,1.7l-1.65,1.7l-1.65,-1.7zM703,209.5l1.65,1.7l-1.65,1.7l-1.65,-1.7zM556.69,209.5l1.65,1.7l-1.65,1.7l-1.65,-1.7zM522.28,209.5l1.65,1.7l-1.65,1.7l-1.65,-1.7zM612.68,209.5l1.65,1.7l-1.65,1.7l-1.65,-1.7zM662.55,209.5l1.65,1.7l-1.65,1.7l-1.65,-1.7zM763.48,209.5l1.65,1.7l-1.65,1.7l-1.65,-1.7zM524.21,209.5l1.65,1.7l-1.65,1.7l-1.65,-1.7zM695.85,209.5l1.65,1.7l-1.65,1.7l-1.65,-1.7zM624.07,209.5l1.65,1.7l-1.65,1.7l-1.65,-1.7zM519.91,209.5l1.65,1.7l-1.65,1.7l-1.65,-1.7zM774.72,209.5l1.65,1.7l-1.65,1.7l-1.65,-1.7zM690.82,209.5l1.65,1.7l-1.65,1.7l-1.65,-1.7zM519.04,209.5l1.65,1.7l-1.65,1.7l-1.65,-1.7zM754.44,209.5l1.65,1.7l-1.65,1.7l-1.65,-1.7zM511.24,209.5l1.65,1.7l-1.65,1.7l-1.65,-1.7zM508.08,209.5l1.65,1.7l-1.65,1.7l-1.65,-1.7zM580.46,209.5l1.65,1.7l-1.65,1.7l-1.65,-1.7zM764.2,209.5l1.65,1.7l-1.65,1.7l-1.65,-1.7zM490.01,209.5l1.65,1.7l-1.65,1.7l-1.65,-1.7zM758.22,209.5l1.65,1.7l-1.65,1.7l-1.65,-1.7zM665.32,209.5l1.65,1.7l-1.65,1.7l-1.65,-1.7zM500.32,209.5l1.65,1.7l-1.65,1.7l-1.65,-1.7zM652.28,209.5l1.65,1.7l-1.65,1.7l-1.65,-1.7zM619.01,209.5l1.65,1.7l-1.65,1.7l-1.65,-1.7zM650.89,209.5l1.65,1.7l-1.65,1.7l-1.65,-1.7zM703.37,209.5l1.65,1.7l-1.65,1.7l-1.65,-1.7zM685.62,209.5l1.65,1.7l-1.65,1.7l-1.65,-1.7zM782.16,209.5l1.65,1.7l-1.65,1.7l-1.65,-1.7zM527.47,209.5l1.65,1.7l-1.65,1.7l-1.65,-1.7zM726.3,209.5l1.65,1.7l-1.65,1.7l-1.65,-1.7zM604.56,209.5l1.65,1.7l-1.65,1.7l-1.65,-1.7zM717.34,209.5l1.65,1.7l-1.65,1.7l-1.65,-1.7zM750.21,209.5l1.65,1.7l-1.65,1.7l-1.65,-1.7zM780.58,209.5l1.65,1.7l-1.65,1.7l-1.65,-1.7zM560.61,209.5l1.65,1.7l-1.65,1.7l-1.65,-1.7z" fill="#ffa500" fill-opacity="0.2"/><path d="M617.24,209.5l1.65,1.7l-1.65,1.7l-1.65,-1.7zM765.66,209.5l1.65,1.7l-1.65,1.7l-1.65,-1.7zM766.56,209.5l1.65,1.7l-1.65,1.7l-1.65,-1.7zM592.98,209.5l1.65,1.7l-1.65,1.7l-1.65,-1.7zM764.88,209.5l1.65,1.7l-1.65,1.7l-1.65,-1.7zM602.99,209.5l1.65,1.7l-1.65,1.7l-1.65,-1.7zM593.55,209.5l1.65,1.7l-1.65,1.7l-1.65,-1.7zM709.26,209.5l1.65,1.7l-1.65,1.7l-1.65,-1.7zM622.78,209.5l1.65,1.7l-1.65,1.7l-1.65,-1.7zM615.8,209.5l1.65,1.7l-1.65,1.7l-1.65,-1.7zM596.99,209.5l1.65,1.7l-1.65,1.7l-1.65,-1.7zM611.14,209.5l1.65,1.7l-1.65,1.7l-1.65,-1.7zM522.36,209.5l1.65,1.7l-1.65,1.7l-1.65,-1.7zM498.49,209.5l1.65,1.7l-1.65,1.7l-1.65,-1.7zM708.46,209.5l1.65,1.7l-1.65,1.7l-1.65,-1.7zM651.04,209.5l1.65,1.7l-1.65,1.7l-1.65,-1.7zM683.58,209.5l1.65,1.7l-1.65,1.7l-1.65,-1.7zM723.11,209.5l1.65,1.7l-1.65,1.7l-1.65,-1.7zM549.72,209.5l1.65,1.7l-1.65,1.7l-1.65,-1.7zM550.83,209.5l1.65,1.7l-1.65,1.7l-1.65,-1.7zM564.21,209.5l1.65,1.7l-1.65,1.7l-1.65,-1.7zM572.09,209.5l1.65,1.7l-1.65,1.7l-1.65,-1.7zM710.49,209.5l1.65,1.7l-1.65,1.7l-1.65,-1.7zM593.38,209.5l1.65,1.7l-1.65,1.7l-1.65,-1.7zM577.93,209.5l1.65,1.7l-1.65,1.7l-1.65,-1.7zM672.8,209.5l1.65,1.7l-1.65,1.7l-1.65,-1.7zM536.53,209.5l1.65,1.7l-1.65,1.7l-1.65,-1.7zM512.25,209.5l1.65,1.7l-1.65,1.7l-1.65,-1.7zM691.23,209.5l1.65,1.7l-1.65,1.7l-1.65,-1.7zM709.2,209.5l1.65,1.7l-1.65,1.7l-1.65,-1.7zM569.8,209.5l1.65,1.7l-1.65,1.7l-1.65,-1.7zM672.72,209.5l1.65,1.7l-1.65,1.7l-1.65,-1.7zM490.33,209.5l1.65,1.7l-1.65,1.7l-1.65,-1.7zM602.51,209.5l1.65,1.7l-1.65,1.7l-1.65,-1.7zM655.12,209.5l1.65,1.7l-1.65,1.7l-1.65,-1.7zM556.79,209.5l1.65,1.7l-1.65,1.7l-1.65,-1.7zM585.51,209.5l1.65,1.7l-1.65,1.7l-1.65,-1.7zM664.69,209.5l1.65,1.7l-1.65,1.7l-1.65,-1.7zM658.74,209.5l1.65,1.7l-1.65,1.7l-1.65,-1.7zM526.72,209.5l1.65,1.7l-1.65,1.7l-1.65,-1.7zM694.09,209.5l1.65,1.7l-1.65,1.7l-1.65,-1.7zM504.25,209.5l1.65,1.7l-1.65,1.7l-1.65,-1.7zM773.83,209.5l1.65,1.7l-1.65,1.7l-1.65,-1.7zM541.32,209.5l1.65,1.7l-1.65,1.7l-1.65,-1.7zM556.83,209.5l1.65,1.7l-1.65,1.7l-1.65,-1.7zM540.69,209.5l1.65,1.7l-1.65,1.7l-1.65,-1.7zM780.42,209.5l1.65,1.7l-1.65,1.7l-1.65,-1.7zM566.84,209.5l1.65,1.7l-1.65,1.7l-1.65,-1.7zM663.4,209.5l1.65,1.7l-1.65,1.7l-1.65,-1.7zM780.16,209.5l1.65,1.7l-1.65,1.7l-1.65,-1.7zM767.87,209.5l1.65,1.7l-1.65,1.7l-1.65,-1.7zM492.83,209.5l1.65,1.7l-1.65,1.7l-1.65,-1.7zM637.92,209.5l1.65,1.7l-1.65,1.7l-1.65,-1.7zM662.2,209.5l1.65,1.7l-1.65,1.7l-1.65,-1.7zM692.83,209.5l1.65,1.7l-1.65,1.7l-1.65,-1.7zM581.78,209.5l1.65,1.7l-1.65,1.7l-1.65,-1.7zM579.36,209.5l1.65,1.7l-1.65,1.7l-1.65,-1.7zM481.3,209.5l1.65,1.7l-1.65,1.7l-1.65,-1.7zM490.68,209.5l1.65,1.7l-1.65,1.7l-1.65,-1.7zM646.67,209.5l1.65,1.7l-1.65,1.7l-1.65,-1.7zM502.99,209.5l1.65,1.7l-1.65,1.7l-1.65,-1.7zM541.35,209.5l1.65,1.7l-1.65,1.7l-1.65,-1.7zM580.98,209.5l1.65,1.7l-1.65,1.7l-1.65,-1.7zM501.35,209.5l1.65,1.7l-1.65,1.7l-1.65,-1.7zM489.35,209.5l1.65,1.7l-1.65,1.7l-1.65,-1.7zM760.86,209.5l1.65,1.7l-1.65,1.7l-1.65,-1.7zM611.87,209.5l1.65,1.7l-1.65,1.7l-1.65,-1.7zM542.08,209.5l1.65,1.7l-1.65,1.7l-1.65,-1.7zM694.66,209.5l1.65,1.7l-1.65,1.7l-1.65,-1.7zM482.86,209.5l1.65,1.7l-1.65,1.7l-1.65,-1.7zM554.24,209.5l1.65,1.7l-1.65,1.7l-1.65,-1.7zM771.11,209.5l1.65,1.7l-1.65,1.7l-1.65,-1.7zM752,209.5l1.65,1.7l-1.65,1.7l-1.65,-1.7zM672.69,209.5l1.65,1.7l-1.65,1.7l-1.65,-1.7zM508.24,209.5l1.65,1.7l-1.65,1.7l-1.65,-1.7zM576.37,209.5l1.65,1.7l-1.65,1.7l-1.65,-1.7zM488.46,209.5l1.65,1.7l-1.65,1.7l-1.65,-1.7zM546.41,209.5l1.65,1.7l-1.65,1.7l-1.65,-1.7zM487.71,209.5l1.65,1.7l-1.65,1.7l-1.65,-1.7zM518.23,209.5l1.65,1.7l-1.65,1.7l-1.65,-1.7zM671.86,209.5l1.65,1.7l-1.65,1.7l-1.65,-1.7zM510.43,209.5l1.65,1.7l-1.65,1.7l-1.65,-1.7zM527.2,209.5l1.65,1.7l-1.65,1.7l-1.65,-1.7zM753.55,209.5l1.65,1.7l-1.65,1.7l-1.65,-1.7zM581.64,209.5l1.65,1.7l-1.65,1.7l-1.65,-1.7zM580.9,209.5l1.65,1.7l-1.65,1.7l-1.65,-1.7zM506.22,209.5l1.65,1.7l-1.65,1.7l-1.65,-1.7zM721.17,209.5l1.65,1.7l-1.65,1.7l-1.65,-1.7zM684.94,209.5l1.65,1.7l-1.65,1.7l-1.65,-1.7zM645.78,209.5l1.65,1.7l-1.65,1.7l-1.65,-1.7zM667.23,209.5l1.65,1.7l-1.65,1.7l-1.65,-1.7zM510.42,209.5l1.65,1.7l-1.65,1.7l-1.65,-1.7zM558.87,209.5l1.65,1.7l-1.65,1.7l-1.65,-1.7zM656.84,209.5l1.65,1.7l-1.65,1.7l-1.65,-1.7zM768.53,209.5l1.65,1.7l-1.65,1.7l-1.65,-1.7zM727.59,209.5l1.65,1.7l-1.65,1.7l-1.65,-1.7zM674.14,209.5l1.65,1.7l-1.65,1.7l-1.65,-1.7zM637.2,209.5l1.65,1.7l-1.65,1.7l-1.65,-1.7zM484.59,209.5l1.65,1.7l-1.65,1.7l-1.65,-1.7zM749.89,209.5l1.65,1.7l-1.65,1.7l-1.65,-1.7zM500.26,209.5l1.65,1.7l-1.65,1.7l-1.65,-1.7zM519.11,209.5l1.65,1.7l-1.65,1.7l-1.65,-1.7zM690,209.5l1.65,1.7l-1.65,1.7l-1.65,-1.7zM726.08,209.5l1.65,1.7l-1.65,1.7l-1.65,-1.7zM718.32,209.5l1.65,1.7l-1.65,1.7l-1.65,-1.7zM617.08,209.5l1.65,1.7l-1.65,1.7l-1.65,-1.7zM533.65,209.5l1.65,1.7l-1.65,1.7l-1.65,-1.7zM490.7,209.5l1.65,1.7l-1.65,1.7l-1.65,-1.7zM737.97,209.5l1.65,1.7l-1.65,1.7l-1.65,-1.7zM776.24,209.5l1.65,1.7l-1.65,1.7l-1.65,-1.7zM553.97,209.5l1.65,1.7l-1.65,1.7l-1.65,-1.7zM742.42,209.5l1.65,1.7l-1.65,1.7l-1.65,-1.7zM601.97,209.5l1.65,1.7l-1.65,1.7l-1.65,-1.7zM574.34,209.5l1.65,1.7l-1.65,1.7l-1.65,-1.7zM633.06,209.5l1.65,1.7l-1.65,1.7l-1.65,-1.7z" fill="#ffa500" fill-opacity="0.2"/>
<path d="M479.6,218.2L480.6,216.65H782.6L783.6,218.2L782.6,219.75H480.6Z" fill="#ffa500" fill-opacity="0.97"/>
<path d="M479.3,225.3L480.3,223.75H782.9L783.9,225.3L782.9,226.85H480.3Z" fill="#ffa500"/>
<path d="M479.3,232.3L480.3,230.75H782.9L783.9,232.3L782.9,233.85H480.3Z" fill="#ffa500"/>
<path d="M479.3,239.4L480.3,237.85H782.9L783.9,239.4L782.9,240.95H480.3Z" fill="#ffa500"/>
<path d="M479.3,245.4L480.3,243.85H782.9L783.9,245.4L782.9,246.95H480.3Z" fill="#ffa500"/>
<path d="M479.3,252.3L480.3,250.75H782.9L783.9,252.3L782.9,253.85H480.3Z" fill="#ffa500"/>
<path d="M479.3,259.4L480.3,257.85H782.9L783.9,259.4L782.9,260.95H480.3Z" fill="#ffa500"/>
<path d="M479.3,266.4L480.3,264.85H782.9L783.9,266.4L782.9,267.95H480.3Z" fill="#ffa500"/>
<path d="M479.9,273.4L480.9,271.9H782.3L783.3,273.4L782.3,274.9H480.9Z" fill="#ffa500" fill-opacity="0.92"/>
<rect x="546.4" y="217.8" width="3.2" height="3" fill="#ffa500"/>
<rect x="626" y="217.8" width="3.2" height="3" fill="#ffa500"/>
<rect x="706.3" y="217.8" width="3.2" height="3" fill="#ffa500"/>
<rect x="781.6" y="217.9" width="6.8" height="3" fill="#ffa500"/>
<path d="M479,218.7L479.8,217H482.4L483.2,218.7L482.4,220.4H479.8Z" fill="#ffa500"/>
<path d="M483.47,278.6l1.65,1.7l-1.65,1.7l-1.65,-1.7zM614.7,278.6l1.65,1.7l-1.65,1.7l-1.65,-1.7zM541.27,278.6l1.65,1.7l-1.65,1.7l-1.65,-1.7zM696.16,278.6l1.65,1.7l-1.65,1.7l-1.65,-1.7zM632.78,278.6l1.65,1.7l-1.65,1.7l-1.65,-1.7zM743.39,278.6l1.65,1.7l-1.65,1.7l-1.65,-1.7zM751.79,278.6l1.65,1.7l-1.65,1.7l-1.65,-1.7zM576.66,278.6l1.65,1.7l-1.65,1.7l-1.65,-1.7zM565.68,278.6l1.65,1.7l-1.65,1.7l-1.65,-1.7zM764.62,278.6l1.65,1.7l-1.65,1.7l-1.65,-1.7zM633.21,278.6l1.65,1.7l-1.65,1.7l-1.65,-1.7zM510.15,278.6l1.65,1.7l-1.65,1.7l-1.65,-1.7zM494.86,278.6l1.65,1.7l-1.65,1.7l-1.65,-1.7zM780.11,278.6l1.65,1.7l-1.65,1.7l-1.65,-1.7zM655.91,278.6l1.65,1.7l-1.65,1.7l-1.65,-1.7zM497.46,278.6l1.65,1.7l-1.65,1.7l-1.65,-1.7zM635.4,278.6l1.65,1.7l-1.65,1.7l-1.65,-1.7zM633.24,278.6l1.65,1.7l-1.65,1.7l-1.65,-1.7zM612.49,278.6l1.65,1.7l-1.65,1.7l-1.65,-1.7zM768.29,278.6l1.65,1.7l-1.65,1.7l-1.65,-1.7zM767.53,278.6l1.65,1.7l-1.65,1.7l-1.65,-1.7zM518.74,278.6l1.65,1.7l-1.65,1.7l-1.65,-1.7zM526.82,278.6l1.65,1.7l-1.65,1.7l-1.65,-1.7zM604.06,278.6l1.65,1.7l-1.65,1.7l-1.65,-1.7zM732.88,278.6l1.65,1.7l-1.65,1.7l-1.65,-1.7zM669.37,278.6l1.65,1.7l-1.65,1.7l-1.65,-1.7zM701.41,278.6l1.65,1.7l-1.65,1.7l-1.65,-1.7zM654.97,278.6l1.65,1.7l-1.65,1.7l-1.65,-1.7zM544.44,278.6l1.65,1.7l-1.65,1.7l-1.65,-1.7zM727.97,278.6l1.65,1.7l-1.65,1.7l-1.65,-1.7zM485.23,278.6l1.65,1.7l-1.65,1.7l-1.65,-1.7zM691.94,278.6l1.65,1.7l-1.65,1.7l-1.65,-1.7zM539.69,278.6l1.65,1.7l-1.65,1.7l-1.65,-1.7zM623.27,278.6l1.65,1.7l-1.65,1.7l-1.65,-1.7zM775.49,278.6l1.65,1.7l-1.65,1.7l-1.65,-1.7zM643.79,278.6l1.65,1.7l-1.65,1.7l-1.65,-1.7zM498.2,278.6l1.65,1.7l-1.65,1.7l-1.65,-1.7zM610.49,278.6l1.65,1.7l-1.65,1.7l-1.65,-1.7zM680.4,278.6l1.65,1.7l-1.65,1.7l-1.65,-1.7zM498.13,278.6l1.65,1.7l-1.65,1.7l-1.65,-1.7zM557.3,278.6l1.65,1.7l-1.65,1.7l-1.65,-1.7zM486.54,278.6l1.65,1.7l-1.65,1.7l-1.65,-1.7zM644.1,278.6l1.65,1.7l-1.65,1.7l-1.65,-1.7zM596.21,278.6l1.65,1.7l-1.65,1.7l-1.65,-1.7zM633.11,278.6l1.65,1.7l-1.65,1.7l-1.65,-1.7zM570.34,278.6l1.65,1.7l-1.65,1.7l-1.65,-1.7zM679.36,278.6l1.65,1.7l-1.65,1.7l-1.65,-1.7zM533.27,278.6l1.65,1.7l-1.65,1.7l-1.65,-1.7zM754.81,278.6l1.65,1.7l-1.65,1.7l-1.65,-1.7zM770.94,278.6l1.65,1.7l-1.65,1.7l-1.65,-1.7zM629.88,278.6l1.65,1.7l-1.65,1.7l-1.65,-1.7zM621.55,278.6l1.65,1.7l-1.65,1.7l-1.65,-1.7zM740.6,278.6l1.65,1.7l-1.65,1.7l-1.65,-1.7zM568.53,278.6l1.65,1.7l-1.65,1.7l-1.65,-1.7zM723.54,278.6l1.65,1.7l-1.65,1.7l-1.65,-1.7zM567.77,278.6l1.65,1.7l-1.65,1.7l-1.65,-1.7zM698.43,278.6l1.65,1.7l-1.65,1.7l-1.65,-1.7zM581.87,278.6l1.65,1.7l-1.65,1.7l-1.65,-1.7zM662.99,278.6l1.65,1.7l-1.65,1.7l-1.65,-1.7zM760.61,278.6l1.65,1.7l-1.65,1.7l-1.65,-1.7zM497.41,278.6l1.65,1.7l-1.65,1.7l-1.65,-1.7zM724.79,278.6l1.65,1.7l-1.65,1.7l-1.65,-1.7zM644.64,278.6l1.65,1.7l-1.65,1.7l-1.65,-1.7zM595.48,278.6l1.65,1.7l-1.65,1.7l-1.65,-1.7zM586.78,278.6l1.65,1.7l-1.65,1.7l-1.65,-1.7zM501.96,278.6l1.65,1.7l-1.65,1.7l-1.65,-1.7zM559.03,278.6l1.65,1.7l-1.65,1.7l-1.65,-1.7zM669.19,278.6l1.65,1.7l-1.65,1.7l-1.65,-1.7zM510.47,278.6l1.65,1.7l-1.65,1.7l-1.65,-1.7zM683.16,278.6l1.65,1.7l-1.65,1.7l-1.65,-1.7zM771.6,278.6l1.65,1.7l-1.65,1.7l-1.65,-1.7zM777.19,278.6l1.65,1.7l-1.65,1.7l-1.65,-1.7zM749.55,278.6l1.65,1.7l-1.65,1.7l-1.65,-1.7zM724.6,278.6l1.65,1.7l-1.65,1.7l-1.65,-1.7zM534.74,278.6l1.65,1.7l-1.65,1.7l-1.65,-1.7zM773.99,278.6l1.65,1.7l-1.65,1.7l-1.65,-1.7zM542.22,278.6l1.65,1.7l-1.65,1.7l-1.65,-1.7zM743.45,278.6l1.65,1.7l-1.65,1.7l-1.65,-1.7zM746.12,278.6l1.65,1.7l-1.65,1.7l-1.65,-1.7zM668.82,278.6l1.65,1.7l-1.65,1.7l-1.65,-1.7zM638.43,278.6l1.65,1.7l-1.65,1.7l-1.65,-1.7zM541.53,278.6l1.65,1.7l-1.65,1.7l-1.65,-1.7zM637.88,278.6l1.65,1.7l-1.65,1.7l-1.65,-1.7zM568.77,278.6l1.65,1.7l-1.65,1.7l-1.65,-1.7zM519.02,278.6l1.65,1.7l-1.65,1.7l-1.65,-1.7zM519.71,278.6l1.65,1.7l-1.65,1.7l-1.65,-1.7zM722.95,278.6l1.65,1.7l-1.65,1.7l-1.65,-1.7zM759.57,278.6l1.65,1.7l-1.65,1.7l-1.65,-1.7zM523.84,278.6l1.65,1.7l-1.65,1.7l-1.65,-1.7zM485,278.6l1.65,1.7l-1.65,1.7l-1.65,-1.7zM560.62,278.6l1.65,1.7l-1.65,1.7l-1.65,-1.7zM521.6,278.6l1.65,1.7l-1.65,1.7l-1.65,-1.7zM537.97,278.6l1.65,1.7l-1.65,1.7l-1.65,-1.7zM657.16,278.6l1.65,1.7l-1.65,1.7l-1.65,-1.7zM608.53,278.6l1.65,1.7l-1.65,1.7l-1.65,-1.7zM610.63,278.6l1.65,1.7l-1.65,1.7l-1.65,-1.7zM543.1,278.6l1.65,1.7l-1.65,1.7l-1.65,-1.7zM681.71,278.6l1.65,1.7l-1.65,1.7l-1.65,-1.7zM568.43,278.6l1.65,1.7l-1.65,1.7l-1.65,-1.7zM601.54,278.6l1.65,1.7l-1.65,1.7l-1.65,-1.7zM620.95,278.6l1.65,1.7l-1.65,1.7l-1.65,-1.7zM754.14,278.6l1.65,1.7l-1.65,1.7l-1.65,-1.7zM555.4,278.6l1.65,1.7l-1.65,1.7l-1.65,-1.7zM698.04,278.6l1.65,1.7l-1.65,1.7l-1.65,-1.7zM574.43,278.6l1.65,1.7l-1.65,1.7l-1.65,-1.7z" fill="#ffa500" fill-opacity="0.19"/><path d="M751.12,278.6l1.65,1.7l-1.65,1.7l-1.65,-1.7zM600.01,278.6l1.65,1.7l-1.65,1.7l-1.65,-1.7zM633.56,278.6l1.65,1.7l-1.65,1.7l-1.65,-1.7zM745.92,278.6l1.65,1.7l-1.65,1.7l-1.65,-1.7zM684.17,278.6l1.65,1.7l-1.65,1.7l-1.65,-1.7zM509.5,278.6l1.65,1.7l-1.65,1.7l-1.65,-1.7zM522.32,278.6l1.65,1.7l-1.65,1.7l-1.65,-1.7zM780.2,278.6l1.65,1.7l-1.65,1.7l-1.65,-1.7zM489.79,278.6l1.65,1.7l-1.65,1.7l-1.65,-1.7zM571.86,278.6l1.65,1.7l-1.65,1.7l-1.65,-1.7zM770.59,278.6l1.65,1.7l-1.65,1.7l-1.65,-1.7zM485.56,278.6l1.65,1.7l-1.65,1.7l-1.65,-1.7zM529.74,278.6l1.65,1.7l-1.65,1.7l-1.65,-1.7zM545.44,278.6l1.65,1.7l-1.65,1.7l-1.65,-1.7zM507.09,278.6l1.65,1.7l-1.65,1.7l-1.65,-1.7zM623.53,278.6l1.65,1.7l-1.65,1.7l-1.65,-1.7zM659.92,278.6l1.65,1.7l-1.65,1.7l-1.65,-1.7zM577.13,278.6l1.65,1.7l-1.65,1.7l-1.65,-1.7zM513.81,278.6l1.65,1.7l-1.65,1.7l-1.65,-1.7zM725.91,278.6l1.65,1.7l-1.65,1.7l-1.65,-1.7zM723.95,278.6l1.65,1.7l-1.65,1.7l-1.65,-1.7zM650.75,278.6l1.65,1.7l-1.65,1.7l-1.65,-1.7zM522.6,278.6l1.65,1.7l-1.65,1.7l-1.65,-1.7zM644.66,278.6l1.65,1.7l-1.65,1.7l-1.65,-1.7zM671.12,278.6l1.65,1.7l-1.65,1.7l-1.65,-1.7zM610.34,278.6l1.65,1.7l-1.65,1.7l-1.65,-1.7zM741.89,278.6l1.65,1.7l-1.65,1.7l-1.65,-1.7zM598.79,278.6l1.65,1.7l-1.65,1.7l-1.65,-1.7zM635.29,278.6l1.65,1.7l-1.65,1.7l-1.65,-1.7zM515.47,278.6l1.65,1.7l-1.65,1.7l-1.65,-1.7zM651.19,278.6l1.65,1.7l-1.65,1.7l-1.65,-1.7zM712.47,278.6l1.65,1.7l-1.65,1.7l-1.65,-1.7zM701.84,278.6l1.65,1.7l-1.65,1.7l-1.65,-1.7zM558.61,278.6l1.65,1.7l-1.65,1.7l-1.65,-1.7zM780.54,278.6l1.65,1.7l-1.65,1.7l-1.65,-1.7zM698.42,278.6l1.65,1.7l-1.65,1.7l-1.65,-1.7zM608.97,278.6l1.65,1.7l-1.65,1.7l-1.65,-1.7zM606.3,278.6l1.65,1.7l-1.65,1.7l-1.65,-1.7zM716.36,278.6l1.65,1.7l-1.65,1.7l-1.65,-1.7zM534.06,278.6l1.65,1.7l-1.65,1.7l-1.65,-1.7zM674.17,278.6l1.65,1.7l-1.65,1.7l-1.65,-1.7zM698.09,278.6l1.65,1.7l-1.65,1.7l-1.65,-1.7zM636.93,278.6l1.65,1.7l-1.65,1.7l-1.65,-1.7zM744.71,278.6l1.65,1.7l-1.65,1.7l-1.65,-1.7zM622.53,278.6l1.65,1.7l-1.65,1.7l-1.65,-1.7zM621.4,278.6l1.65,1.7l-1.65,1.7l-1.65,-1.7zM566.97,278.6l1.65,1.7l-1.65,1.7l-1.65,-1.7zM758.65,278.6l1.65,1.7l-1.65,1.7l-1.65,-1.7zM576.51,278.6l1.65,1.7l-1.65,1.7l-1.65,-1.7zM690.97,278.6l1.65,1.7l-1.65,1.7l-1.65,-1.7zM604.62,278.6l1.65,1.7l-1.65,1.7l-1.65,-1.7zM763.5,278.6l1.65,1.7l-1.65,1.7l-1.65,-1.7zM767.28,278.6l1.65,1.7l-1.65,1.7l-1.65,-1.7zM490.07,278.6l1.65,1.7l-1.65,1.7l-1.65,-1.7zM781.35,278.6l1.65,1.7l-1.65,1.7l-1.65,-1.7zM663.69,278.6l1.65,1.7l-1.65,1.7l-1.65,-1.7zM503.3,278.6l1.65,1.7l-1.65,1.7l-1.65,-1.7zM631.1,278.6l1.65,1.7l-1.65,1.7l-1.65,-1.7zM495.94,278.6l1.65,1.7l-1.65,1.7l-1.65,-1.7zM646.77,278.6l1.65,1.7l-1.65,1.7l-1.65,-1.7zM537.01,278.6l1.65,1.7l-1.65,1.7l-1.65,-1.7zM592.12,278.6l1.65,1.7l-1.65,1.7l-1.65,-1.7zM573.02,278.6l1.65,1.7l-1.65,1.7l-1.65,-1.7zM662.87,278.6l1.65,1.7l-1.65,1.7l-1.65,-1.7zM729.35,278.6l1.65,1.7l-1.65,1.7l-1.65,-1.7zM763.83,278.6l1.65,1.7l-1.65,1.7l-1.65,-1.7zM580.32,278.6l1.65,1.7l-1.65,1.7l-1.65,-1.7zM653.05,278.6l1.65,1.7l-1.65,1.7l-1.65,-1.7zM482.78,278.6l1.65,1.7l-1.65,1.7l-1.65,-1.7zM593.39,278.6l1.65,1.7l-1.65,1.7l-1.65,-1.7zM771.13,278.6l1.65,1.7l-1.65,1.7l-1.65,-1.7zM516.89,278.6l1.65,1.7l-1.65,1.7l-1.65,-1.7zM743.69,278.6l1.65,1.7l-1.65,1.7l-1.65,-1.7zM678.06,278.6l1.65,1.7l-1.65,1.7l-1.65,-1.7zM569.76,278.6l1.65,1.7l-1.65,1.7l-1.65,-1.7zM716,278.6l1.65,1.7l-1.65,1.7l-1.65,-1.7zM568.36,278.6l1.65,1.7l-1.65,1.7l-1.65,-1.7zM751.23,278.6l1.65,1.7l-1.65,1.7l-1.65,-1.7zM505.99,278.6l1.65,1.7l-1.65,1.7l-1.65,-1.7zM516.94,278.6l1.65,1.7l-1.65,1.7l-1.65,-1.7zM707.5,278.6l1.65,1.7l-1.65,1.7l-1.65,-1.7zM616.65,278.6l1.65,1.7l-1.65,1.7l-1.65,-1.7zM525.53,278.6l1.65,1.7l-1.65,1.7l-1.65,-1.7zM636.06,278.6l1.65,1.7l-1.65,1.7l-1.65,-1.7zM570.68,278.6l1.65,1.7l-1.65,1.7l-1.65,-1.7zM646.89,278.6l1.65,1.7l-1.65,1.7l-1.65,-1.7zM705.6,278.6l1.65,1.7l-1.65,1.7l-1.65,-1.7zM739.77,278.6l1.65,1.7l-1.65,1.7l-1.65,-1.7zM498.82,278.6l1.65,1.7l-1.65,1.7l-1.65,-1.7zM659.89,278.6l1.65,1.7l-1.65,1.7l-1.65,-1.7zM778.07,278.6l1.65,1.7l-1.65,1.7l-1.65,-1.7zM619.86,278.6l1.65,1.7l-1.65,1.7l-1.65,-1.7zM713.41,278.6l1.65,1.7l-1.65,1.7l-1.65,-1.7zM510.37,278.6l1.65,1.7l-1.65,1.7l-1.65,-1.7zM744.8,278.6l1.65,1.7l-1.65,1.7l-1.65,-1.7zM656.78,278.6l1.65,1.7l-1.65,1.7l-1.65,-1.7zM749.26,278.6l1.65,1.7l-1.65,1.7l-1.65,-1.7zM718.71,278.6l1.65,1.7l-1.65,1.7l-1.65,-1.7zM743.51,278.6l1.65,1.7l-1.65,1.7l-1.65,-1.7zM498.3,278.6l1.65,1.7l-1.65,1.7l-1.65,-1.7zM697.09,278.6l1.65,1.7l-1.65,1.7l-1.65,-1.7zM540.49,278.6l1.65,1.7l-1.65,1.7l-1.65,-1.7zM561.27,278.6l1.65,1.7l-1.65,1.7l-1.65,-1.7zM579.08,278.6l1.65,1.7l-1.65,1.7l-1.65,-1.7zM659.58,278.6l1.65,1.7l-1.65,1.7l-1.65,-1.7z" fill="#ffa500" fill-opacity="0.19"/><path d="M670.61,278.6l1.65,1.7l-1.65,1.7l-1.65,-1.7zM762.3,278.6l1.65,1.7l-1.65,1.7l-1.65,-1.7zM484.84,278.6l1.65,1.7l-1.65,1.7l-1.65,-1.7zM539.42,278.6l1.65,1.7l-1.65,1.7l-1.65,-1.7zM590.32,278.6l1.65,1.7l-1.65,1.7l-1.65,-1.7zM728.04,278.6l1.65,1.7l-1.65,1.7l-1.65,-1.7zM647.07,278.6l1.65,1.7l-1.65,1.7l-1.65,-1.7zM635.62,278.6l1.65,1.7l-1.65,1.7l-1.65,-1.7zM710.58,278.6l1.65,1.7l-1.65,1.7l-1.65,-1.7zM678.83,278.6l1.65,1.7l-1.65,1.7l-1.65,-1.7zM568.54,278.6l1.65,1.7l-1.65,1.7l-1.65,-1.7zM507.31,278.6l1.65,1.7l-1.65,1.7l-1.65,-1.7zM620.62,278.6l1.65,1.7l-1.65,1.7l-1.65,-1.7zM746.81,278.6l1.65,1.7l-1.65,1.7l-1.65,-1.7zM661.64,278.6l1.65,1.7l-1.65,1.7l-1.65,-1.7zM497.09,278.6l1.65,1.7l-1.65,1.7l-1.65,-1.7zM613.9,278.6l1.65,1.7l-1.65,1.7l-1.65,-1.7zM597.15,278.6l1.65,1.7l-1.65,1.7l-1.65,-1.7zM656.89,278.6l1.65,1.7l-1.65,1.7l-1.65,-1.7zM658.31,278.6l1.65,1.7l-1.65,1.7l-1.65,-1.7zM768.3,278.6l1.65,1.7l-1.65,1.7l-1.65,-1.7zM583.1,278.6l1.65,1.7l-1.65,1.7l-1.65,-1.7zM604.24,278.6l1.65,1.7l-1.65,1.7l-1.65,-1.7zM666.28,278.6l1.65,1.7l-1.65,1.7l-1.65,-1.7zM748.69,278.6l1.65,1.7l-1.65,1.7l-1.65,-1.7zM694.26,278.6l1.65,1.7l-1.65,1.7l-1.65,-1.7zM623.21,278.6l1.65,1.7l-1.65,1.7l-1.65,-1.7zM727,278.6l1.65,1.7l-1.65,1.7l-1.65,-1.7zM627.56,278.6l1.65,1.7l-1.65,1.7l-1.65,-1.7zM771.98,278.6l1.65,1.7l-1.65,1.7l-1.65,-1.7zM566.31,278.6l1.65,1.7l-1.65,1.7l-1.65,-1.7zM519.47,278.6l1.65,1.7l-1.65,1.7l-1.65,-1.7zM731.78,278.6l1.65,1.7l-1.65,1.7l-1.65,-1.7zM570.78,278.6l1.65,1.7l-1.65,1.7l-1.65,-1.7zM736.91,278.6l1.65,1.7l-1.65,1.7l-1.65,-1.7zM665.04,278.6l1.65,1.7l-1.65,1.7l-1.65,-1.7zM634.71,278.6l1.65,1.7l-1.65,1.7l-1.65,-1.7zM507.28,278.6l1.65,1.7l-1.65,1.7l-1.65,-1.7zM718.47,278.6l1.65,1.7l-1.65,1.7l-1.65,-1.7zM500.91,278.6l1.65,1.7l-1.65,1.7l-1.65,-1.7zM772.48,278.6l1.65,1.7l-1.65,1.7l-1.65,-1.7zM745.85,278.6l1.65,1.7l-1.65,1.7l-1.65,-1.7zM572.5,278.6l1.65,1.7l-1.65,1.7l-1.65,-1.7zM519.62,278.6l1.65,1.7l-1.65,1.7l-1.65,-1.7zM748.47,278.6l1.65,1.7l-1.65,1.7l-1.65,-1.7zM625.91,278.6l1.65,1.7l-1.65,1.7l-1.65,-1.7zM518.71,278.6l1.65,1.7l-1.65,1.7l-1.65,-1.7zM631.55,278.6l1.65,1.7l-1.65,1.7l-1.65,-1.7zM555.54,278.6l1.65,1.7l-1.65,1.7l-1.65,-1.7zM604.17,278.6l1.65,1.7l-1.65,1.7l-1.65,-1.7zM674.35,278.6l1.65,1.7l-1.65,1.7l-1.65,-1.7zM757.44,278.6l1.65,1.7l-1.65,1.7l-1.65,-1.7zM722.88,278.6l1.65,1.7l-1.65,1.7l-1.65,-1.7zM529.62,278.6l1.65,1.7l-1.65,1.7l-1.65,-1.7zM625.16,278.6l1.65,1.7l-1.65,1.7l-1.65,-1.7zM629.56,278.6l1.65,1.7l-1.65,1.7l-1.65,-1.7zM779.82,278.6l1.65,1.7l-1.65,1.7l-1.65,-1.7zM507.24,278.6l1.65,1.7l-1.65,1.7l-1.65,-1.7zM635.25,278.6l1.65,1.7l-1.65,1.7l-1.65,-1.7zM757.14,278.6l1.65,1.7l-1.65,1.7l-1.65,-1.7zM601.45,278.6l1.65,1.7l-1.65,1.7l-1.65,-1.7zM560.04,278.6l1.65,1.7l-1.65,1.7l-1.65,-1.7zM648.89,278.6l1.65,1.7l-1.65,1.7l-1.65,-1.7zM577.67,278.6l1.65,1.7l-1.65,1.7l-1.65,-1.7zM760.98,278.6l1.65,1.7l-1.65,1.7l-1.65,-1.7zM506.61,278.6l1.65,1.7l-1.65,1.7l-1.65,-1.7zM543.43,278.6l1.65,1.7l-1.65,1.7l-1.65,-1.7zM506.33,278.6l1.65,1.7l-1.65,1.7l-1.65,-1.7zM695.99,278.6l1.65,1.7l-1.65,1.7l-1.65,-1.7zM569.53,278.6l1.65,1.7l-1.65,1.7l-1.65,-1.7zM752.85,278.6l1.65,1.7l-1.65,1.7l-1.65,-1.7zM750.88,278.6l1.65,1.7l-1.65,1.7l-1.65,-1.7zM763.79,278.6l1.65,1.7l-1.65,1.7l-1.65,-1.7zM558.35,278.6l1.65,1.7l-1.65,1.7l-1.65,-1.7zM481.2,278.6l1.65,1.7l-1.65,1.7l-1.65,-1.7zM598.06,278.6l1.65,1.7l-1.65,1.7l-1.65,-1.7zM771.69,278.6l1.65,1.7l-1.65,1.7l-1.65,-1.7zM711.65,278.6l1.65,1.7l-1.65,1.7l-1.65,-1.7zM499.02,278.6l1.65,1.7l-1.65,1.7l-1.65,-1.7zM693.18,278.6l1.65,1.7l-1.65,1.7l-1.65,-1.7zM757.95,278.6l1.65,1.7l-1.65,1.7l-1.65,-1.7zM773.25,278.6l1.65,1.7l-1.65,1.7l-1.65,-1.7zM697.23,278.6l1.65,1.7l-1.65,1.7l-1.65,-1.7zM741.62,278.6l1.65,1.7l-1.65,1.7l-1.65,-1.7zM735.19,278.6l1.65,1.7l-1.65,1.7l-1.65,-1.7zM589.22,278.6l1.65,1.7l-1.65,1.7l-1.65,-1.7zM510.91,278.6l1.65,1.7l-1.65,1.7l-1.65,-1.7zM700.69,278.6l1.65,1.7l-1.65,1.7l-1.65,-1.7zM522.35,278.6l1.65,1.7l-1.65,1.7l-1.65,-1.7zM597.03,278.6l1.65,1.7l-1.65,1.7l-1.65,-1.7zM781.71,278.6l1.65,1.7l-1.65,1.7l-1.65,-1.7zM650.06,278.6l1.65,1.7l-1.65,1.7l-1.65,-1.7zM638.57,278.6l1.65,1.7l-1.65,1.7l-1.65,-1.7zM767.26,278.6l1.65,1.7l-1.65,1.7l-1.65,-1.7zM566.78,278.6l1.65,1.7l-1.65,1.7l-1.65,-1.7zM782.83,278.6l1.65,1.7l-1.65,1.7l-1.65,-1.7zM756.42,278.6l1.65,1.7l-1.65,1.7l-1.65,-1.7zM590.9,278.6l1.65,1.7l-1.65,1.7l-1.65,-1.7zM579.83,278.6l1.65,1.7l-1.65,1.7l-1.65,-1.7zM519.22,278.6l1.65,1.7l-1.65,1.7l-1.65,-1.7zM757.52,278.6l1.65,1.7l-1.65,1.7l-1.65,-1.7zM537.11,278.6l1.65,1.7l-1.65,1.7l-1.65,-1.7zM483.71,278.6l1.65,1.7l-1.65,1.7l-1.65,-1.7zM749.8,278.6l1.65,1.7l-1.65,1.7l-1.65,-1.7zM661.63,278.6l1.65,1.7l-1.65,1.7l-1.65,-1.7z" fill="#ffa500" fill-opacity="0.19"/><path d="M683.9,278.6l1.65,1.7l-1.65,1.7l-1.65,-1.7zM702.41,278.6l1.65,1.7l-1.65,1.7l-1.65,-1.7zM493.88,278.6l1.65,1.7l-1.65,1.7l-1.65,-1.7zM508.74,278.6l1.65,1.7l-1.65,1.7l-1.65,-1.7zM631.95,278.6l1.65,1.7l-1.65,1.7l-1.65,-1.7zM496.18,278.6l1.65,1.7l-1.65,1.7l-1.65,-1.7zM633.31,278.6l1.65,1.7l-1.65,1.7l-1.65,-1.7zM703.37,278.6l1.65,1.7l-1.65,1.7l-1.65,-1.7zM679.54,278.6l1.65,1.7l-1.65,1.7l-1.65,-1.7zM667.23,278.6l1.65,1.7l-1.65,1.7l-1.65,-1.7zM495.01,278.6l1.65,1.7l-1.65,1.7l-1.65,-1.7zM552.47,278.6l1.65,1.7l-1.65,1.7l-1.65,-1.7zM752.04,278.6l1.65,1.7l-1.65,1.7l-1.65,-1.7zM518.21,278.6l1.65,1.7l-1.65,1.7l-1.65,-1.7zM642.03,278.6l1.65,1.7l-1.65,1.7l-1.65,-1.7zM496.11,278.6l1.65,1.7l-1.65,1.7l-1.65,-1.7zM764.64,278.6l1.65,1.7l-1.65,1.7l-1.65,-1.7zM532.81,278.6l1.65,1.7l-1.65,1.7l-1.65,-1.7zM604.83,278.6l1.65,1.7l-1.65,1.7l-1.65,-1.7zM646.13,278.6l1.65,1.7l-1.65,1.7l-1.65,-1.7zM698.03,278.6l1.65,1.7l-1.65,1.7l-1.65,-1.7zM764.11,278.6l1.65,1.7l-1.65,1.7l-1.65,-1.7zM703.38,278.6l1.65,1.7l-1.65,1.7l-1.65,-1.7zM585.91,278.6l1.65,1.7l-1.65,1.7l-1.65,-1.7zM503.75,278.6l1.65,1.7l-1.65,1.7l-1.65,-1.7zM694.64,278.6l1.65,1.7l-1.65,1.7l-1.65,-1.7zM774.7,278.6l1.65,1.7l-1.65,1.7l-1.65,-1.7zM486.14,278.6l1.65,1.7l-1.65,1.7l-1.65,-1.7zM714.95,278.6l1.65,1.7l-1.65,1.7l-1.65,-1.7zM534.19,278.6l1.65,1.7l-1.65,1.7l-1.65,-1.7zM619.91,278.6l1.65,1.7l-1.65,1.7l-1.65,-1.7zM638.84,278.6l1.65,1.7l-1.65,1.7l-1.65,-1.7zM666.56,278.6l1.65,1.7l-1.65,1.7l-1.65,-1.7zM779.84,278.6l1.65,1.7l-1.65,1.7l-1.65,-1.7zM688.6,278.6l1.65,1.7l-1.65,1.7l-1.65,-1.7zM599.5,278.6l1.65,1.7l-1.65,1.7l-1.65,-1.7zM696.94,278.6l1.65,1.7l-1.65,1.7l-1.65,-1.7zM621.95,278.6l1.65,1.7l-1.65,1.7l-1.65,-1.7zM605.76,278.6l1.65,1.7l-1.65,1.7l-1.65,-1.7zM591.43,278.6l1.65,1.7l-1.65,1.7l-1.65,-1.7zM630.01,278.6l1.65,1.7l-1.65,1.7l-1.65,-1.7zM565.92,278.6l1.65,1.7l-1.65,1.7l-1.65,-1.7zM554.11,278.6l1.65,1.7l-1.65,1.7l-1.65,-1.7zM525.84,278.6l1.65,1.7l-1.65,1.7l-1.65,-1.7zM613.95,278.6l1.65,1.7l-1.65,1.7l-1.65,-1.7zM569.56,278.6l1.65,1.7l-1.65,1.7l-1.65,-1.7zM733.76,278.6l1.65,1.7l-1.65,1.7l-1.65,-1.7zM737.06,278.6l1.65,1.7l-1.65,1.7l-1.65,-1.7zM584.85,278.6l1.65,1.7l-1.65,1.7l-1.65,-1.7zM667.98,278.6l1.65,1.7l-1.65,1.7l-1.65,-1.7zM753.49,278.6l1.65,1.7l-1.65,1.7l-1.65,-1.7zM589.47,278.6l1.65,1.7l-1.65,1.7l-1.65,-1.7zM648.52,278.6l1.65,1.7l-1.65,1.7l-1.65,-1.7zM614.95,278.6l1.65,1.7l-1.65,1.7l-1.65,-1.7zM677.38,278.6l1.65,1.7l-1.65,1.7l-1.65,-1.7zM770.85,278.6l1.65,1.7l-1.65,1.7l-1.65,-1.7zM522.86,278.6l1.65,1.7l-1.65,1.7l-1.65,-1.7zM772.55,278.6l1.65,1.7l-1.65,1.7l-1.65,-1.7zM682.05,278.6l1.65,1.7l-1.65,1.7l-1.65,-1.7zM721.35,278.6l1.65,1.7l-1.65,1.7l-1.65,-1.7zM672.81,278.6l1.65,1.7l-1.65,1.7l-1.65,-1.7zM743.84,278.6l1.65,1.7l-1.65,1.7l-1.65,-1.7zM579.52,278.6l1.65,1.7l-1.65,1.7l-1.65,-1.7zM694.83,278.6l1.65,1.7l-1.65,1.7l-1.65,-1.7zM560.76,278.6l1.65,1.7l-1.65,1.7l-1.65,-1.7zM634.61,278.6l1.65,1.7l-1.65,1.7l-1.65,-1.7zM686.81,278.6l1.65,1.7l-1.65,1.7l-1.65,-1.7zM541.74,278.6l1.65,1.7l-1.65,1.7l-1.65,-1.7zM499.47,278.6l1.65,1.7l-1.65,1.7l-1.65,-1.7zM719.87,278.6l1.65,1.7l-1.65,1.7l-1.65,-1.7zM725.3,278.6l1.65,1.7l-1.65,1.7l-1.65,-1.7zM682.03,278.6l1.65,1.7l-1.65,1.7l-1.65,-1.7zM578.07,278.6l1.65,1.7l-1.65,1.7l-1.65,-1.7zM679.77,278.6l1.65,1.7l-1.65,1.7l-1.65,-1.7zM506.33,278.6l1.65,1.7l-1.65,1.7l-1.65,-1.7zM681.08,278.6l1.65,1.7l-1.65,1.7l-1.65,-1.7zM655.01,278.6l1.65,1.7l-1.65,1.7l-1.65,-1.7zM667.4,278.6l1.65,1.7l-1.65,1.7l-1.65,-1.7zM615.99,278.6l1.65,1.7l-1.65,1.7l-1.65,-1.7zM549,278.6l1.65,1.7l-1.65,1.7l-1.65,-1.7zM700.21,278.6l1.65,1.7l-1.65,1.7l-1.65,-1.7zM621.17,278.6l1.65,1.7l-1.65,1.7l-1.65,-1.7zM706.1,278.6l1.65,1.7l-1.65,1.7l-1.65,-1.7zM590.98,278.6l1.65,1.7l-1.65,1.7l-1.65,-1.7zM507.51,278.6l1.65,1.7l-1.65,1.7l-1.65,-1.7zM644.82,278.6l1.65,1.7l-1.65,1.7l-1.65,-1.7zM669.07,278.6l1.65,1.7l-1.65,1.7l-1.65,-1.7zM759.38,278.6l1.65,1.7l-1.65,1.7l-1.65,-1.7zM749.1,278.6l1.65,1.7l-1.65,1.7l-1.65,-1.7zM498.26,278.6l1.65,1.7l-1.65,1.7l-1.65,-1.7zM714.1,278.6l1.65,1.7l-1.65,1.7l-1.65,-1.7zM559.93,278.6l1.65,1.7l-1.65,1.7l-1.65,-1.7zM691.55,278.6l1.65,1.7l-1.65,1.7l-1.65,-1.7zM595.6,278.6l1.65,1.7l-1.65,1.7l-1.65,-1.7zM578.27,278.6l1.65,1.7l-1.65,1.7l-1.65,-1.7zM628.46,278.6l1.65,1.7l-1.65,1.7l-1.65,-1.7zM641.22,278.6l1.65,1.7l-1.65,1.7l-1.65,-1.7zM690.73,278.6l1.65,1.7l-1.65,1.7l-1.65,-1.7zM673.64,278.6l1.65,1.7l-1.65,1.7l-1.65,-1.7zM685.83,278.6l1.65,1.7l-1.65,1.7l-1.65,-1.7zM596.99,278.6l1.65,1.7l-1.65,1.7l-1.65,-1.7zM685.56,278.6l1.65,1.7l-1.65,1.7l-1.65,-1.7zM585.31,278.6l1.65,1.7l-1.65,1.7l-1.65,-1.7zM664.48,278.6l1.65,1.7l-1.65,1.7l-1.65,-1.7zM619.78,278.6l1.65,1.7l-1.65,1.7l-1.65,-1.7z" fill="#ffa500" fill-opacity="0.19"/>
<path d="M509.01,278.6l1.65,1.7l-1.65,1.7l-1.65,-1.7zM482.84,278.6l1.65,1.7l-1.65,1.7l-1.65,-1.7zM505.94,278.6l1.65,1.7l-1.65,1.7l-1.65,-1.7zM492.56,278.6l1.65,1.7l-1.65,1.7l-1.65,-1.7zM500.52,278.6l1.65,1.7l-1.65,1.7l-1.65,-1.7zM485.54,278.6l1.65,1.7l-1.65,1.7l-1.65,-1.7zM513.53,278.6l1.65,1.7l-1.65,1.7l-1.65,-1.7zM524.89,278.6l1.65,1.7l-1.65,1.7l-1.65,-1.7zM499.02,278.6l1.65,1.7l-1.65,1.7l-1.65,-1.7zM487.04,278.6l1.65,1.7l-1.65,1.7l-1.65,-1.7zM511.77,278.6l1.65,1.7l-1.65,1.7l-1.65,-1.7zM488.1,278.6l1.65,1.7l-1.65,1.7l-1.65,-1.7zM524.8,278.6l1.65,1.7l-1.65,1.7l-1.65,-1.7zM487.88,278.6l1.65,1.7l-1.65,1.7l-1.65,-1.7zM499.37,278.6l1.65,1.7l-1.65,1.7l-1.65,-1.7zM505.74,278.6l1.65,1.7l-1.65,1.7l-1.65,-1.7zM487.66,278.6l1.65,1.7l-1.65,1.7l-1.65,-1.7zM497.3,278.6l1.65,1.7l-1.65,1.7l-1.65,-1.7z" fill="#ffa500" fill-opacity="0.22"/><path d="M495.21,278.6l1.65,1.7l-1.65,1.7l-1.65,-1.7zM516.24,278.6l1.65,1.7l-1.65,1.7l-1.65,-1.7zM529.34,278.6l1.65,1.7l-1.65,1.7l-1.65,-1.7zM499.42,278.6l1.65,1.7l-1.65,1.7l-1.65,-1.7zM519.95,278.6l1.65,1.7l-1.65,1.7l-1.65,-1.7zM488.74,278.6l1.65,1.7l-1.65,1.7l-1.65,-1.7zM509.84,278.6l1.65,1.7l-1.65,1.7l-1.65,-1.7zM502.77,278.6l1.65,1.7l-1.65,1.7l-1.65,-1.7zM495.83,278.6l1.65,1.7l-1.65,1.7l-1.65,-1.7zM521.44,278.6l1.65,1.7l-1.65,1.7l-1.65,-1.7zM517.83,278.6l1.65,1.7l-1.65,1.7l-1.65,-1.7zM488.43,278.6l1.65,1.7l-1.65,1.7l-1.65,-1.7zM496.04,278.6l1.65,1.7l-1.65,1.7l-1.65,-1.7zM521.34,278.6l1.65,1.7l-1.65,1.7l-1.65,-1.7zM529.64,278.6l1.65,1.7l-1.65,1.7l-1.65,-1.7zM511.36,278.6l1.65,1.7l-1.65,1.7l-1.65,-1.7zM523.84,278.6l1.65,1.7l-1.65,1.7l-1.65,-1.7zM529.24,278.6l1.65,1.7l-1.65,1.7l-1.65,-1.7z" fill="#ffa500" fill-opacity="0.22"/>
<path d="M695.54,285.6l1.65,1.7l-1.65,1.7l-1.65,-1.7zM668.04,285.6l1.65,1.7l-1.65,1.7l-1.65,-1.7zM546.5,285.6l1.65,1.7l-1.65,1.7l-1.65,-1.7zM589.31,285.6l1.65,1.7l-1.65,1.7l-1.65,-1.7zM661.96,285.6l1.65,1.7l-1.65,1.7l-1.65,-1.7zM748.88,285.6l1.65,1.7l-1.65,1.7l-1.65,-1.7zM569.63,285.6l1.65,1.7l-1.65,1.7l-1.65,-1.7zM596.43,285.6l1.65,1.7l-1.65,1.7l-1.65,-1.7zM489.38,285.6l1.65,1.7l-1.65,1.7l-1.65,-1.7zM682.96,285.6l1.65,1.7l-1.65,1.7l-1.65,-1.7zM610.3,285.6l1.65,1.7l-1.65,1.7l-1.65,-1.7zM711.95,285.6l1.65,1.7l-1.65,1.7l-1.65,-1.7zM550.06,285.6l1.65,1.7l-1.65,1.7l-1.65,-1.7zM672.32,285.6l1.65,1.7l-1.65,1.7l-1.65,-1.7zM676.18,285.6l1.65,1.7l-1.65,1.7l-1.65,-1.7zM616.26,285.6l1.65,1.7l-1.65,1.7l-1.65,-1.7zM537.13,285.6l1.65,1.7l-1.65,1.7l-1.65,-1.7zM598.63,285.6l1.65,1.7l-1.65,1.7l-1.65,-1.7zM696.83,285.6l1.65,1.7l-1.65,1.7l-1.65,-1.7zM537.3,285.6l1.65,1.7l-1.65,1.7l-1.65,-1.7zM508.84,285.6l1.65,1.7l-1.65,1.7l-1.65,-1.7zM615.82,285.6l1.65,1.7l-1.65,1.7l-1.65,-1.7zM550.31,285.6l1.65,1.7l-1.65,1.7l-1.65,-1.7zM712.76,285.6l1.65,1.7l-1.65,1.7l-1.65,-1.7zM717.55,285.6l1.65,1.7l-1.65,1.7l-1.65,-1.7zM754.3,285.6l1.65,1.7l-1.65,1.7l-1.65,-1.7zM724.01,285.6l1.65,1.7l-1.65,1.7l-1.65,-1.7zM668.82,285.6l1.65,1.7l-1.65,1.7l-1.65,-1.7zM536.68,285.6l1.65,1.7l-1.65,1.7l-1.65,-1.7zM719.2,285.6l1.65,1.7l-1.65,1.7l-1.65,-1.7zM691.96,285.6l1.65,1.7l-1.65,1.7l-1.65,-1.7zM697.35,285.6l1.65,1.7l-1.65,1.7l-1.65,-1.7zM683.16,285.6l1.65,1.7l-1.65,1.7l-1.65,-1.7zM721.22,285.6l1.65,1.7l-1.65,1.7l-1.65,-1.7zM568.48,285.6l1.65,1.7l-1.65,1.7l-1.65,-1.7zM675.99,285.6l1.65,1.7l-1.65,1.7l-1.65,-1.7zM631.46,285.6l1.65,1.7l-1.65,1.7l-1.65,-1.7zM579.96,285.6l1.65,1.7l-1.65,1.7l-1.65,-1.7zM576.8,285.6l1.65,1.7l-1.65,1.7l-1.65,-1.7zM527.62,285.6l1.65,1.7l-1.65,1.7l-1.65,-1.7zM624.07,285.6l1.65,1.7l-1.65,1.7l-1.65,-1.7zM588.82,285.6l1.65,1.7l-1.65,1.7l-1.65,-1.7zM603.98,285.6l1.65,1.7l-1.65,1.7l-1.65,-1.7zM727.43,285.6l1.65,1.7l-1.65,1.7l-1.65,-1.7zM678.59,285.6l1.65,1.7l-1.65,1.7l-1.65,-1.7zM678.23,285.6l1.65,1.7l-1.65,1.7l-1.65,-1.7zM765.42,285.6l1.65,1.7l-1.65,1.7l-1.65,-1.7zM545.52,285.6l1.65,1.7l-1.65,1.7l-1.65,-1.7zM628.77,285.6l1.65,1.7l-1.65,1.7l-1.65,-1.7zM509.55,285.6l1.65,1.7l-1.65,1.7l-1.65,-1.7zM595.73,285.6l1.65,1.7l-1.65,1.7l-1.65,-1.7zM755.75,285.6l1.65,1.7l-1.65,1.7l-1.65,-1.7zM507.66,285.6l1.65,1.7l-1.65,1.7l-1.65,-1.7zM700.47,285.6l1.65,1.7l-1.65,1.7l-1.65,-1.7zM731.38,285.6l1.65,1.7l-1.65,1.7l-1.65,-1.7zM629.07,285.6l1.65,1.7l-1.65,1.7l-1.65,-1.7zM711.91,285.6l1.65,1.7l-1.65,1.7l-1.65,-1.7zM609.58,285.6l1.65,1.7l-1.65,1.7l-1.65,-1.7zM584.41,285.6l1.65,1.7l-1.65,1.7l-1.65,-1.7zM628.14,285.6l1.65,1.7l-1.65,1.7l-1.65,-1.7z" fill="#ffa500" fill-opacity="0.16"/><path d="M538.89,285.6l1.65,1.7l-1.65,1.7l-1.65,-1.7zM571.25,285.6l1.65,1.7l-1.65,1.7l-1.65,-1.7zM570.64,285.6l1.65,1.7l-1.65,1.7l-1.65,-1.7zM766.67,285.6l1.65,1.7l-1.65,1.7l-1.65,-1.7zM579.19,285.6l1.65,1.7l-1.65,1.7l-1.65,-1.7zM548.69,285.6l1.65,1.7l-1.65,1.7l-1.65,-1.7zM752.71,285.6l1.65,1.7l-1.65,1.7l-1.65,-1.7zM522.77,285.6l1.65,1.7l-1.65,1.7l-1.65,-1.7zM760.18,285.6l1.65,1.7l-1.65,1.7l-1.65,-1.7zM727.9,285.6l1.65,1.7l-1.65,1.7l-1.65,-1.7zM668.71,285.6l1.65,1.7l-1.65,1.7l-1.65,-1.7zM605.78,285.6l1.65,1.7l-1.65,1.7l-1.65,-1.7zM539.61,285.6l1.65,1.7l-1.65,1.7l-1.65,-1.7zM513.48,285.6l1.65,1.7l-1.65,1.7l-1.65,-1.7zM512.75,285.6l1.65,1.7l-1.65,1.7l-1.65,-1.7zM583.2,285.6l1.65,1.7l-1.65,1.7l-1.65,-1.7zM599.85,285.6l1.65,1.7l-1.65,1.7l-1.65,-1.7zM748.1,285.6l1.65,1.7l-1.65,1.7l-1.65,-1.7zM636.9,285.6l1.65,1.7l-1.65,1.7l-1.65,-1.7zM767.31,285.6l1.65,1.7l-1.65,1.7l-1.65,-1.7zM689.89,285.6l1.65,1.7l-1.65,1.7l-1.65,-1.7zM524.99,285.6l1.65,1.7l-1.65,1.7l-1.65,-1.7zM641.87,285.6l1.65,1.7l-1.65,1.7l-1.65,-1.7zM528.74,285.6l1.65,1.7l-1.65,1.7l-1.65,-1.7zM494.25,285.6l1.65,1.7l-1.65,1.7l-1.65,-1.7zM753.87,285.6l1.65,1.7l-1.65,1.7l-1.65,-1.7zM579.96,285.6l1.65,1.7l-1.65,1.7l-1.65,-1.7zM537.41,285.6l1.65,1.7l-1.65,1.7l-1.65,-1.7zM512.21,285.6l1.65,1.7l-1.65,1.7l-1.65,-1.7zM670.16,285.6l1.65,1.7l-1.65,1.7l-1.65,-1.7zM615.35,285.6l1.65,1.7l-1.65,1.7l-1.65,-1.7zM486.35,285.6l1.65,1.7l-1.65,1.7l-1.65,-1.7zM688.26,285.6l1.65,1.7l-1.65,1.7l-1.65,-1.7zM556.67,285.6l1.65,1.7l-1.65,1.7l-1.65,-1.7zM707.02,285.6l1.65,1.7l-1.65,1.7l-1.65,-1.7zM623.23,285.6l1.65,1.7l-1.65,1.7l-1.65,-1.7zM636.71,285.6l1.65,1.7l-1.65,1.7l-1.65,-1.7zM614.22,285.6l1.65,1.7l-1.65,1.7l-1.65,-1.7zM677.01,285.6l1.65,1.7l-1.65,1.7l-1.65,-1.7zM767.14,285.6l1.65,1.7l-1.65,1.7l-1.65,-1.7zM711.99,285.6l1.65,1.7l-1.65,1.7l-1.65,-1.7zM502.83,285.6l1.65,1.7l-1.65,1.7l-1.65,-1.7zM625.01,285.6l1.65,1.7l-1.65,1.7l-1.65,-1.7zM550.24,285.6l1.65,1.7l-1.65,1.7l-1.65,-1.7zM512.39,285.6l1.65,1.7l-1.65,1.7l-1.65,-1.7zM539.02,285.6l1.65,1.7l-1.65,1.7l-1.65,-1.7zM554.21,285.6l1.65,1.7l-1.65,1.7l-1.65,-1.7zM758.44,285.6l1.65,1.7l-1.65,1.7l-1.65,-1.7zM696.78,285.6l1.65,1.7l-1.65,1.7l-1.65,-1.7zM727.8,285.6l1.65,1.7l-1.65,1.7l-1.65,-1.7zM683.56,285.6l1.65,1.7l-1.65,1.7l-1.65,-1.7zM573.59,285.6l1.65,1.7l-1.65,1.7l-1.65,-1.7zM595.25,285.6l1.65,1.7l-1.65,1.7l-1.65,-1.7zM609.48,285.6l1.65,1.7l-1.65,1.7l-1.65,-1.7zM567.21,285.6l1.65,1.7l-1.65,1.7l-1.65,-1.7zM603.95,285.6l1.65,1.7l-1.65,1.7l-1.65,-1.7zM704.33,285.6l1.65,1.7l-1.65,1.7l-1.65,-1.7zM504.73,285.6l1.65,1.7l-1.65,1.7l-1.65,-1.7zM562.38,285.6l1.65,1.7l-1.65,1.7l-1.65,-1.7zM620.48,285.6l1.65,1.7l-1.65,1.7l-1.65,-1.7z" fill="#ffa500" fill-opacity="0.16"/>
<path d="M495.85,285.6l1.65,1.7l-1.65,1.7l-1.65,-1.7zM495.27,285.6l1.65,1.7l-1.65,1.7l-1.65,-1.7zM496.77,285.6l1.65,1.7l-1.65,1.7l-1.65,-1.7zM485,285.6l1.65,1.7l-1.65,1.7l-1.65,-1.7zM486.43,285.6l1.65,1.7l-1.65,1.7l-1.65,-1.7zM488.87,285.6l1.65,1.7l-1.65,1.7l-1.65,-1.7zM488.35,285.6l1.65,1.7l-1.65,1.7l-1.65,-1.7zM497.36,285.6l1.65,1.7l-1.65,1.7l-1.65,-1.7z" fill="#ffa500" fill-opacity="0.3"/><path d="M501.87,285.6l1.65,1.7l-1.65,1.7l-1.65,-1.7zM495.98,285.6l1.65,1.7l-1.65,1.7l-1.65,-1.7zM483.63,285.6l1.65,1.7l-1.65,1.7l-1.65,-1.7zM488.65,285.6l1.65,1.7l-1.65,1.7l-1.65,-1.7zM498.26,285.6l1.65,1.7l-1.65,1.7l-1.65,-1.7zM500.56,285.6l1.65,1.7l-1.65,1.7l-1.65,-1.7zM494.3,285.6l1.65,1.7l-1.65,1.7l-1.65,-1.7zM489.63,285.6l1.65,1.7l-1.65,1.7l-1.65,-1.7z" fill="#ffa500" fill-opacity="0.3"/>
<path d="M496.85,292.7l1.65,1.7l-1.65,1.7l-1.65,-1.7zM507.7,292.7l1.65,1.7l-1.65,1.7l-1.65,-1.7zM516.7,292.7l1.65,1.7l-1.65,1.7l-1.65,-1.7zM496.29,292.7l1.65,1.7l-1.65,1.7l-1.65,-1.7zM490.44,292.7l1.65,1.7l-1.65,1.7l-1.65,-1.7zM483.11,292.7l1.65,1.7l-1.65,1.7l-1.65,-1.7z" fill="#ffa500" fill-opacity="0.18"/>
<path d="M744.81,292.7l1.65,1.7l-1.65,1.7l-1.65,-1.7zM769.79,292.7l1.65,1.7l-1.65,1.7l-1.65,-1.7zM761.86,292.7l1.65,1.7l-1.65,1.7l-1.65,-1.7z" fill="#ffa500" fill-opacity="0.15"/>
</g>
<g id="d3v">
<path d="M777.33,362.7l1.65,1.7l-1.65,1.7l-1.65,-1.7zM514.8,362.7l1.65,1.7l-1.65,1.7l-1.65,-1.7zM599.31,362.7l1.65,1.7l-1.65,1.7l-1.65,-1.7zM721.78,362.7l1.65,1.7l-1.65,1.7l-1.65,-1.7zM683.44,362.7l1.65,1.7l-1.65,1.7l-1.65,-1.7zM514,362.7l1.65,1.7l-1.65,1.7l-1.65,-1.7zM609.41,362.7l1.65,1.7l-1.65,1.7l-1.65,-1.7zM676.73,362.7l1.65,1.7l-1.65,1.7l-1.65,-1.7zM691.01,362.7l1.65,1.7l-1.65,1.7l-1.65,-1.7zM623.73,362.7l1.65,1.7l-1.65,1.7l-1.65,-1.7zM548.63,362.7l1.65,1.7l-1.65,1.7l-1.65,-1.7zM770.29,362.7l1.65,1.7l-1.65,1.7l-1.65,-1.7zM627.95,362.7l1.65,1.7l-1.65,1.7l-1.65,-1.7zM699.44,362.7l1.65,1.7l-1.65,1.7l-1.65,-1.7zM647.43,362.7l1.65,1.7l-1.65,1.7l-1.65,-1.7zM518,362.7l1.65,1.7l-1.65,1.7l-1.65,-1.7zM562.46,362.7l1.65,1.7l-1.65,1.7l-1.65,-1.7zM512.96,362.7l1.65,1.7l-1.65,1.7l-1.65,-1.7zM549.37,362.7l1.65,1.7l-1.65,1.7l-1.65,-1.7zM552.05,362.7l1.65,1.7l-1.65,1.7l-1.65,-1.7z" fill="#ffa500" fill-opacity="0.1"/>
<path d="M611.55,366.8l1.65,1.7l-1.65,1.7l-1.65,-1.7zM584.26,366.8l1.65,1.7l-1.65,1.7l-1.65,-1.7zM596.23,366.8l1.65,1.7l-1.65,1.7l-1.65,-1.7zM729.35,366.8l1.65,1.7l-1.65,1.7l-1.65,-1.7zM496.26,366.8l1.65,1.7l-1.65,1.7l-1.65,-1.7zM520.29,366.8l1.65,1.7l-1.65,1.7l-1.65,-1.7zM726.69,366.8l1.65,1.7l-1.65,1.7l-1.65,-1.7zM646.45,366.8l1.65,1.7l-1.65,1.7l-1.65,-1.7zM618.59,366.8l1.65,1.7l-1.65,1.7l-1.65,-1.7zM568.32,366.8l1.65,1.7l-1.65,1.7l-1.65,-1.7zM648.9,366.8l1.65,1.7l-1.65,1.7l-1.65,-1.7zM554.92,366.8l1.65,1.7l-1.65,1.7l-1.65,-1.7zM741.5,366.8l1.65,1.7l-1.65,1.7l-1.65,-1.7zM731.44,366.8l1.65,1.7l-1.65,1.7l-1.65,-1.7zM584.3,366.8l1.65,1.7l-1.65,1.7l-1.65,-1.7zM497.18,366.8l1.65,1.7l-1.65,1.7l-1.65,-1.7zM750.09,366.8l1.65,1.7l-1.65,1.7l-1.65,-1.7zM577.51,366.8l1.65,1.7l-1.65,1.7l-1.65,-1.7zM682.46,366.8l1.65,1.7l-1.65,1.7l-1.65,-1.7zM741.44,366.8l1.65,1.7l-1.65,1.7l-1.65,-1.7zM723.92,366.8l1.65,1.7l-1.65,1.7l-1.65,-1.7zM742.71,366.8l1.65,1.7l-1.65,1.7l-1.65,-1.7zM633.32,366.8l1.65,1.7l-1.65,1.7l-1.65,-1.7zM736.79,366.8l1.65,1.7l-1.65,1.7l-1.65,-1.7zM625.12,366.8l1.65,1.7l-1.65,1.7l-1.65,-1.7zM567.3,366.8l1.65,1.7l-1.65,1.7l-1.65,-1.7zM630.92,366.8l1.65,1.7l-1.65,1.7l-1.65,-1.7zM588.27,366.8l1.65,1.7l-1.65,1.7l-1.65,-1.7zM714.77,366.8l1.65,1.7l-1.65,1.7l-1.65,-1.7zM733.69,366.8l1.65,1.7l-1.65,1.7l-1.65,-1.7zM531.36,366.8l1.65,1.7l-1.65,1.7l-1.65,-1.7zM538.18,366.8l1.65,1.7l-1.65,1.7l-1.65,-1.7zM602.41,366.8l1.65,1.7l-1.65,1.7l-1.65,-1.7zM625.74,366.8l1.65,1.7l-1.65,1.7l-1.65,-1.7zM770.2,366.8l1.65,1.7l-1.65,1.7l-1.65,-1.7zM765.92,366.8l1.65,1.7l-1.65,1.7l-1.65,-1.7zM773.34,366.8l1.65,1.7l-1.65,1.7l-1.65,-1.7zM703.82,366.8l1.65,1.7l-1.65,1.7l-1.65,-1.7zM688.43,366.8l1.65,1.7l-1.65,1.7l-1.65,-1.7zM569.22,366.8l1.65,1.7l-1.65,1.7l-1.65,-1.7zM599.19,366.8l1.65,1.7l-1.65,1.7l-1.65,-1.7zM490.79,366.8l1.65,1.7l-1.65,1.7l-1.65,-1.7zM734.06,366.8l1.65,1.7l-1.65,1.7l-1.65,-1.7zM570.89,366.8l1.65,1.7l-1.65,1.7l-1.65,-1.7zM513.23,366.8l1.65,1.7l-1.65,1.7l-1.65,-1.7zM582.47,366.8l1.65,1.7l-1.65,1.7l-1.65,-1.7zM584.69,366.8l1.65,1.7l-1.65,1.7l-1.65,-1.7zM702.13,366.8l1.65,1.7l-1.65,1.7l-1.65,-1.7zM491.67,366.8l1.65,1.7l-1.65,1.7l-1.65,-1.7zM557.39,366.8l1.65,1.7l-1.65,1.7l-1.65,-1.7zM752.67,366.8l1.65,1.7l-1.65,1.7l-1.65,-1.7zM740.48,366.8l1.65,1.7l-1.65,1.7l-1.65,-1.7zM674.31,366.8l1.65,1.7l-1.65,1.7l-1.65,-1.7zM653.77,366.8l1.65,1.7l-1.65,1.7l-1.65,-1.7zM555.23,366.8l1.65,1.7l-1.65,1.7l-1.65,-1.7zM746.4,366.8l1.65,1.7l-1.65,1.7l-1.65,-1.7zM712.89,366.8l1.65,1.7l-1.65,1.7l-1.65,-1.7zM640.29,366.8l1.65,1.7l-1.65,1.7l-1.65,-1.7zM537.18,366.8l1.65,1.7l-1.65,1.7l-1.65,-1.7zM553.24,366.8l1.65,1.7l-1.65,1.7l-1.65,-1.7z" fill="#ffa500" fill-opacity="0.13"/>
<path d="M598.65,371.6l1.65,1.7l-1.65,1.7l-1.65,-1.7zM584.34,371.6l1.65,1.7l-1.65,1.7l-1.65,-1.7zM504.13,371.6l1.65,1.7l-1.65,1.7l-1.65,-1.7zM606.69,371.6l1.65,1.7l-1.65,1.7l-1.65,-1.7zM619.27,371.6l1.65,1.7l-1.65,1.7l-1.65,-1.7zM571.26,371.6l1.65,1.7l-1.65,1.7l-1.65,-1.7zM600.14,371.6l1.65,1.7l-1.65,1.7l-1.65,-1.7zM584.72,371.6l1.65,1.7l-1.65,1.7l-1.65,-1.7zM597.92,371.6l1.65,1.7l-1.65,1.7l-1.65,-1.7zM669.85,371.6l1.65,1.7l-1.65,1.7l-1.65,-1.7zM633.71,371.6l1.65,1.7l-1.65,1.7l-1.65,-1.7zM544.68,371.6l1.65,1.7l-1.65,1.7l-1.65,-1.7zM722.19,371.6l1.65,1.7l-1.65,1.7l-1.65,-1.7zM638.42,371.6l1.65,1.7l-1.65,1.7l-1.65,-1.7zM622.13,371.6l1.65,1.7l-1.65,1.7l-1.65,-1.7zM697.86,371.6l1.65,1.7l-1.65,1.7l-1.65,-1.7zM709.38,371.6l1.65,1.7l-1.65,1.7l-1.65,-1.7zM738.17,371.6l1.65,1.7l-1.65,1.7l-1.65,-1.7zM726.94,371.6l1.65,1.7l-1.65,1.7l-1.65,-1.7zM684.7,371.6l1.65,1.7l-1.65,1.7l-1.65,-1.7zM700.18,371.6l1.65,1.7l-1.65,1.7l-1.65,-1.7zM532.67,371.6l1.65,1.7l-1.65,1.7l-1.65,-1.7zM693.68,371.6l1.65,1.7l-1.65,1.7l-1.65,-1.7zM561.57,371.6l1.65,1.7l-1.65,1.7l-1.65,-1.7zM562.58,371.6l1.65,1.7l-1.65,1.7l-1.65,-1.7zM521.68,371.6l1.65,1.7l-1.65,1.7l-1.65,-1.7zM603.88,371.6l1.65,1.7l-1.65,1.7l-1.65,-1.7zM491.9,371.6l1.65,1.7l-1.65,1.7l-1.65,-1.7zM681.12,371.6l1.65,1.7l-1.65,1.7l-1.65,-1.7zM708.19,371.6l1.65,1.7l-1.65,1.7l-1.65,-1.7zM716.34,371.6l1.65,1.7l-1.65,1.7l-1.65,-1.7zM524.27,371.6l1.65,1.7l-1.65,1.7l-1.65,-1.7zM676.4,371.6l1.65,1.7l-1.65,1.7l-1.65,-1.7zM734.97,371.6l1.65,1.7l-1.65,1.7l-1.65,-1.7zM496.68,371.6l1.65,1.7l-1.65,1.7l-1.65,-1.7zM543.43,371.6l1.65,1.7l-1.65,1.7l-1.65,-1.7zM565.53,371.6l1.65,1.7l-1.65,1.7l-1.65,-1.7zM623.21,371.6l1.65,1.7l-1.65,1.7l-1.65,-1.7zM537.13,371.6l1.65,1.7l-1.65,1.7l-1.65,-1.7zM646.04,371.6l1.65,1.7l-1.65,1.7l-1.65,-1.7zM588.15,371.6l1.65,1.7l-1.65,1.7l-1.65,-1.7zM680.57,371.6l1.65,1.7l-1.65,1.7l-1.65,-1.7zM643.8,371.6l1.65,1.7l-1.65,1.7l-1.65,-1.7zM689.83,371.6l1.65,1.7l-1.65,1.7l-1.65,-1.7zM559.16,371.6l1.65,1.7l-1.65,1.7l-1.65,-1.7zM696,371.6l1.65,1.7l-1.65,1.7l-1.65,-1.7zM704.19,371.6l1.65,1.7l-1.65,1.7l-1.65,-1.7zM700.42,371.6l1.65,1.7l-1.65,1.7l-1.65,-1.7zM506.33,371.6l1.65,1.7l-1.65,1.7l-1.65,-1.7zM767.01,371.6l1.65,1.7l-1.65,1.7l-1.65,-1.7zM657.33,371.6l1.65,1.7l-1.65,1.7l-1.65,-1.7zM566.88,371.6l1.65,1.7l-1.65,1.7l-1.65,-1.7zM614.94,371.6l1.65,1.7l-1.65,1.7l-1.65,-1.7zM639.73,371.6l1.65,1.7l-1.65,1.7l-1.65,-1.7zM639.78,371.6l1.65,1.7l-1.65,1.7l-1.65,-1.7zM559.64,371.6l1.65,1.7l-1.65,1.7l-1.65,-1.7zM564.69,371.6l1.65,1.7l-1.65,1.7l-1.65,-1.7zM593.99,371.6l1.65,1.7l-1.65,1.7l-1.65,-1.7zM717.93,371.6l1.65,1.7l-1.65,1.7l-1.65,-1.7zM615.92,371.6l1.65,1.7l-1.65,1.7l-1.65,-1.7zM497.47,371.6l1.65,1.7l-1.65,1.7l-1.65,-1.7zM620.31,371.6l1.65,1.7l-1.65,1.7l-1.65,-1.7zM545.8,371.6l1.65,1.7l-1.65,1.7l-1.65,-1.7zM489.69,371.6l1.65,1.7l-1.65,1.7l-1.65,-1.7zM776.18,371.6l1.65,1.7l-1.65,1.7l-1.65,-1.7zM573.23,371.6l1.65,1.7l-1.65,1.7l-1.65,-1.7zM645.64,371.6l1.65,1.7l-1.65,1.7l-1.65,-1.7zM592.39,371.6l1.65,1.7l-1.65,1.7l-1.65,-1.7zM501.86,371.6l1.65,1.7l-1.65,1.7l-1.65,-1.7zM753.56,371.6l1.65,1.7l-1.65,1.7l-1.65,-1.7zM763.89,371.6l1.65,1.7l-1.65,1.7l-1.65,-1.7zM541.37,371.6l1.65,1.7l-1.65,1.7l-1.65,-1.7zM610.15,371.6l1.65,1.7l-1.65,1.7l-1.65,-1.7zM596.97,371.6l1.65,1.7l-1.65,1.7l-1.65,-1.7zM535.66,371.6l1.65,1.7l-1.65,1.7l-1.65,-1.7zM682.51,371.6l1.65,1.7l-1.65,1.7l-1.65,-1.7zM718.25,371.6l1.65,1.7l-1.65,1.7l-1.65,-1.7zM711.63,371.6l1.65,1.7l-1.65,1.7l-1.65,-1.7zM686.55,371.6l1.65,1.7l-1.65,1.7l-1.65,-1.7zM491.19,371.6l1.65,1.7l-1.65,1.7l-1.65,-1.7zM554.19,371.6l1.65,1.7l-1.65,1.7l-1.65,-1.7zM638.84,371.6l1.65,1.7l-1.65,1.7l-1.65,-1.7zM694.74,371.6l1.65,1.7l-1.65,1.7l-1.65,-1.7zM600.77,371.6l1.65,1.7l-1.65,1.7l-1.65,-1.7zM619.43,371.6l1.65,1.7l-1.65,1.7l-1.65,-1.7zM735.69,371.6l1.65,1.7l-1.65,1.7l-1.65,-1.7zM492.99,371.6l1.65,1.7l-1.65,1.7l-1.65,-1.7zM565.77,371.6l1.65,1.7l-1.65,1.7l-1.65,-1.7zM572.11,371.6l1.65,1.7l-1.65,1.7l-1.65,-1.7zM780.86,371.6l1.65,1.7l-1.65,1.7l-1.65,-1.7zM553.58,371.6l1.65,1.7l-1.65,1.7l-1.65,-1.7zM499.99,371.6l1.65,1.7l-1.65,1.7l-1.65,-1.7zM609.69,371.6l1.65,1.7l-1.65,1.7l-1.65,-1.7zM678.91,371.6l1.65,1.7l-1.65,1.7l-1.65,-1.7zM531.56,371.6l1.65,1.7l-1.65,1.7l-1.65,-1.7zM735.39,371.6l1.65,1.7l-1.65,1.7l-1.65,-1.7zM544.35,371.6l1.65,1.7l-1.65,1.7l-1.65,-1.7zM695.17,371.6l1.65,1.7l-1.65,1.7l-1.65,-1.7zM534.06,371.6l1.65,1.7l-1.65,1.7l-1.65,-1.7zM747.87,371.6l1.65,1.7l-1.65,1.7l-1.65,-1.7zM545.79,371.6l1.65,1.7l-1.65,1.7l-1.65,-1.7zM703.21,371.6l1.65,1.7l-1.65,1.7l-1.65,-1.7zM735.09,371.6l1.65,1.7l-1.65,1.7l-1.65,-1.7zM561.72,371.6l1.65,1.7l-1.65,1.7l-1.65,-1.7zM513.57,371.6l1.65,1.7l-1.65,1.7l-1.65,-1.7zM660.08,371.6l1.65,1.7l-1.65,1.7l-1.65,-1.7zM634.21,371.6l1.65,1.7l-1.65,1.7l-1.65,-1.7zM628.36,371.6l1.65,1.7l-1.65,1.7l-1.65,-1.7zM718.06,371.6l1.65,1.7l-1.65,1.7l-1.65,-1.7zM623.54,371.6l1.65,1.7l-1.65,1.7l-1.65,-1.7zM633.62,371.6l1.65,1.7l-1.65,1.7l-1.65,-1.7zM630.72,371.6l1.65,1.7l-1.65,1.7l-1.65,-1.7zM621.01,371.6l1.65,1.7l-1.65,1.7l-1.65,-1.7zM606.5,371.6l1.65,1.7l-1.65,1.7l-1.65,-1.7zM533.79,371.6l1.65,1.7l-1.65,1.7l-1.65,-1.7zM573.71,371.6l1.65,1.7l-1.65,1.7l-1.65,-1.7zM564.67,371.6l1.65,1.7l-1.65,1.7l-1.65,-1.7zM559.71,371.6l1.65,1.7l-1.65,1.7l-1.65,-1.7zM718.5,371.6l1.65,1.7l-1.65,1.7l-1.65,-1.7zM519.87,371.6l1.65,1.7l-1.65,1.7l-1.65,-1.7z" fill="#ffa500" fill-opacity="0.15"/><path d="M547.01,371.6l1.65,1.7l-1.65,1.7l-1.65,-1.7zM642.34,371.6l1.65,1.7l-1.65,1.7l-1.65,-1.7zM578.82,371.6l1.65,1.7l-1.65,1.7l-1.65,-1.7zM557.33,371.6l1.65,1.7l-1.65,1.7l-1.65,-1.7zM596.89,371.6l1.65,1.7l-1.65,1.7l-1.65,-1.7zM635.1,371.6l1.65,1.7l-1.65,1.7l-1.65,-1.7zM686.28,371.6l1.65,1.7l-1.65,1.7l-1.65,-1.7zM774.75,371.6l1.65,1.7l-1.65,1.7l-1.65,-1.7zM739.23,371.6l1.65,1.7l-1.65,1.7l-1.65,-1.7zM613.71,371.6l1.65,1.7l-1.65,1.7l-1.65,-1.7zM620.14,371.6l1.65,1.7l-1.65,1.7l-1.65,-1.7zM609.47,371.6l1.65,1.7l-1.65,1.7l-1.65,-1.7zM556.96,371.6l1.65,1.7l-1.65,1.7l-1.65,-1.7zM768.67,371.6l1.65,1.7l-1.65,1.7l-1.65,-1.7zM506.39,371.6l1.65,1.7l-1.65,1.7l-1.65,-1.7zM546.87,371.6l1.65,1.7l-1.65,1.7l-1.65,-1.7zM682.61,371.6l1.65,1.7l-1.65,1.7l-1.65,-1.7zM661.1,371.6l1.65,1.7l-1.65,1.7l-1.65,-1.7zM568.76,371.6l1.65,1.7l-1.65,1.7l-1.65,-1.7zM764.28,371.6l1.65,1.7l-1.65,1.7l-1.65,-1.7zM607.61,371.6l1.65,1.7l-1.65,1.7l-1.65,-1.7zM663.09,371.6l1.65,1.7l-1.65,1.7l-1.65,-1.7zM513.03,371.6l1.65,1.7l-1.65,1.7l-1.65,-1.7zM750.59,371.6l1.65,1.7l-1.65,1.7l-1.65,-1.7zM516.59,371.6l1.65,1.7l-1.65,1.7l-1.65,-1.7zM603.03,371.6l1.65,1.7l-1.65,1.7l-1.65,-1.7zM749.02,371.6l1.65,1.7l-1.65,1.7l-1.65,-1.7zM766.66,371.6l1.65,1.7l-1.65,1.7l-1.65,-1.7zM754.48,371.6l1.65,1.7l-1.65,1.7l-1.65,-1.7zM731.8,371.6l1.65,1.7l-1.65,1.7l-1.65,-1.7zM555.29,371.6l1.65,1.7l-1.65,1.7l-1.65,-1.7zM495.46,371.6l1.65,1.7l-1.65,1.7l-1.65,-1.7zM620.19,371.6l1.65,1.7l-1.65,1.7l-1.65,-1.7zM504.76,371.6l1.65,1.7l-1.65,1.7l-1.65,-1.7zM771.28,371.6l1.65,1.7l-1.65,1.7l-1.65,-1.7zM488.43,371.6l1.65,1.7l-1.65,1.7l-1.65,-1.7zM582.67,371.6l1.65,1.7l-1.65,1.7l-1.65,-1.7zM546.38,371.6l1.65,1.7l-1.65,1.7l-1.65,-1.7zM490.07,371.6l1.65,1.7l-1.65,1.7l-1.65,-1.7zM634.23,371.6l1.65,1.7l-1.65,1.7l-1.65,-1.7zM508.59,371.6l1.65,1.7l-1.65,1.7l-1.65,-1.7zM753.28,371.6l1.65,1.7l-1.65,1.7l-1.65,-1.7zM690.23,371.6l1.65,1.7l-1.65,1.7l-1.65,-1.7zM595.89,371.6l1.65,1.7l-1.65,1.7l-1.65,-1.7zM735.94,371.6l1.65,1.7l-1.65,1.7l-1.65,-1.7zM722.67,371.6l1.65,1.7l-1.65,1.7l-1.65,-1.7zM582.95,371.6l1.65,1.7l-1.65,1.7l-1.65,-1.7zM737.63,371.6l1.65,1.7l-1.65,1.7l-1.65,-1.7zM762.03,371.6l1.65,1.7l-1.65,1.7l-1.65,-1.7zM670.11,371.6l1.65,1.7l-1.65,1.7l-1.65,-1.7zM590.48,371.6l1.65,1.7l-1.65,1.7l-1.65,-1.7zM753.47,371.6l1.65,1.7l-1.65,1.7l-1.65,-1.7zM766.03,371.6l1.65,1.7l-1.65,1.7l-1.65,-1.7zM589.14,371.6l1.65,1.7l-1.65,1.7l-1.65,-1.7zM511.63,371.6l1.65,1.7l-1.65,1.7l-1.65,-1.7zM743.74,371.6l1.65,1.7l-1.65,1.7l-1.65,-1.7zM683.44,371.6l1.65,1.7l-1.65,1.7l-1.65,-1.7zM554.9,371.6l1.65,1.7l-1.65,1.7l-1.65,-1.7zM654.38,371.6l1.65,1.7l-1.65,1.7l-1.65,-1.7zM577.53,371.6l1.65,1.7l-1.65,1.7l-1.65,-1.7zM759,371.6l1.65,1.7l-1.65,1.7l-1.65,-1.7zM587.61,371.6l1.65,1.7l-1.65,1.7l-1.65,-1.7zM544.29,371.6l1.65,1.7l-1.65,1.7l-1.65,-1.7zM498.83,371.6l1.65,1.7l-1.65,1.7l-1.65,-1.7zM587.73,371.6l1.65,1.7l-1.65,1.7l-1.65,-1.7zM779.87,371.6l1.65,1.7l-1.65,1.7l-1.65,-1.7zM550.85,371.6l1.65,1.7l-1.65,1.7l-1.65,-1.7zM622.04,371.6l1.65,1.7l-1.65,1.7l-1.65,-1.7zM774.72,371.6l1.65,1.7l-1.65,1.7l-1.65,-1.7zM487.99,371.6l1.65,1.7l-1.65,1.7l-1.65,-1.7zM573.63,371.6l1.65,1.7l-1.65,1.7l-1.65,-1.7zM729.89,371.6l1.65,1.7l-1.65,1.7l-1.65,-1.7zM514.43,371.6l1.65,1.7l-1.65,1.7l-1.65,-1.7zM761.7,371.6l1.65,1.7l-1.65,1.7l-1.65,-1.7zM733.86,371.6l1.65,1.7l-1.65,1.7l-1.65,-1.7zM528.49,371.6l1.65,1.7l-1.65,1.7l-1.65,-1.7zM661.93,371.6l1.65,1.7l-1.65,1.7l-1.65,-1.7zM650.98,371.6l1.65,1.7l-1.65,1.7l-1.65,-1.7zM692.03,371.6l1.65,1.7l-1.65,1.7l-1.65,-1.7zM577.13,371.6l1.65,1.7l-1.65,1.7l-1.65,-1.7zM600.09,371.6l1.65,1.7l-1.65,1.7l-1.65,-1.7zM557.52,371.6l1.65,1.7l-1.65,1.7l-1.65,-1.7zM572.69,371.6l1.65,1.7l-1.65,1.7l-1.65,-1.7zM538.19,371.6l1.65,1.7l-1.65,1.7l-1.65,-1.7zM754.61,371.6l1.65,1.7l-1.65,1.7l-1.65,-1.7zM749.56,371.6l1.65,1.7l-1.65,1.7l-1.65,-1.7zM592.92,371.6l1.65,1.7l-1.65,1.7l-1.65,-1.7zM691.89,371.6l1.65,1.7l-1.65,1.7l-1.65,-1.7zM631.61,371.6l1.65,1.7l-1.65,1.7l-1.65,-1.7zM569.39,371.6l1.65,1.7l-1.65,1.7l-1.65,-1.7zM589.83,371.6l1.65,1.7l-1.65,1.7l-1.65,-1.7zM772.65,371.6l1.65,1.7l-1.65,1.7l-1.65,-1.7zM587.41,371.6l1.65,1.7l-1.65,1.7l-1.65,-1.7zM657.86,371.6l1.65,1.7l-1.65,1.7l-1.65,-1.7zM766.7,371.6l1.65,1.7l-1.65,1.7l-1.65,-1.7zM574.39,371.6l1.65,1.7l-1.65,1.7l-1.65,-1.7zM726.26,371.6l1.65,1.7l-1.65,1.7l-1.65,-1.7zM519.88,371.6l1.65,1.7l-1.65,1.7l-1.65,-1.7zM703.8,371.6l1.65,1.7l-1.65,1.7l-1.65,-1.7zM725.59,371.6l1.65,1.7l-1.65,1.7l-1.65,-1.7zM734.72,371.6l1.65,1.7l-1.65,1.7l-1.65,-1.7zM775.59,371.6l1.65,1.7l-1.65,1.7l-1.65,-1.7zM697.15,371.6l1.65,1.7l-1.65,1.7l-1.65,-1.7zM776.23,371.6l1.65,1.7l-1.65,1.7l-1.65,-1.7zM568.67,371.6l1.65,1.7l-1.65,1.7l-1.65,-1.7zM640.9,371.6l1.65,1.7l-1.65,1.7l-1.65,-1.7zM549.58,371.6l1.65,1.7l-1.65,1.7l-1.65,-1.7zM510.81,371.6l1.65,1.7l-1.65,1.7l-1.65,-1.7zM616.36,371.6l1.65,1.7l-1.65,1.7l-1.65,-1.7zM699.75,371.6l1.65,1.7l-1.65,1.7l-1.65,-1.7zM717.2,371.6l1.65,1.7l-1.65,1.7l-1.65,-1.7zM491.05,371.6l1.65,1.7l-1.65,1.7l-1.65,-1.7zM765.84,371.6l1.65,1.7l-1.65,1.7l-1.65,-1.7zM559.43,371.6l1.65,1.7l-1.65,1.7l-1.65,-1.7zM572.78,371.6l1.65,1.7l-1.65,1.7l-1.65,-1.7zM733.23,371.6l1.65,1.7l-1.65,1.7l-1.65,-1.7zM751.58,371.6l1.65,1.7l-1.65,1.7l-1.65,-1.7zM704.72,371.6l1.65,1.7l-1.65,1.7l-1.65,-1.7zM584.85,371.6l1.65,1.7l-1.65,1.7l-1.65,-1.7zM623.46,371.6l1.65,1.7l-1.65,1.7l-1.65,-1.7z" fill="#ffa500" fill-opacity="0.15"/>
<path d="M733.71,375.7l1.65,1.7l-1.65,1.7l-1.65,-1.7zM591.48,375.7l1.65,1.7l-1.65,1.7l-1.65,-1.7zM724.98,375.7l1.65,1.7l-1.65,1.7l-1.65,-1.7zM718.04,375.7l1.65,1.7l-1.65,1.7l-1.65,-1.7zM624.66,375.7l1.65,1.7l-1.65,1.7l-1.65,-1.7zM752.17,375.7l1.65,1.7l-1.65,1.7l-1.65,-1.7zM599.59,375.7l1.65,1.7l-1.65,1.7l-1.65,-1.7zM708.47,375.7l1.65,1.7l-1.65,1.7l-1.65,-1.7zM675.65,375.7l1.65,1.7l-1.65,1.7l-1.65,-1.7zM583.71,375.7l1.65,1.7l-1.65,1.7l-1.65,-1.7zM643.47,375.7l1.65,1.7l-1.65,1.7l-1.65,-1.7zM665.6,375.7l1.65,1.7l-1.65,1.7l-1.65,-1.7zM644.97,375.7l1.65,1.7l-1.65,1.7l-1.65,-1.7zM517.99,375.7l1.65,1.7l-1.65,1.7l-1.65,-1.7zM780.45,375.7l1.65,1.7l-1.65,1.7l-1.65,-1.7zM773.05,375.7l1.65,1.7l-1.65,1.7l-1.65,-1.7zM496.17,375.7l1.65,1.7l-1.65,1.7l-1.65,-1.7zM766.4,375.7l1.65,1.7l-1.65,1.7l-1.65,-1.7zM643.38,375.7l1.65,1.7l-1.65,1.7l-1.65,-1.7zM522.46,375.7l1.65,1.7l-1.65,1.7l-1.65,-1.7zM729.53,375.7l1.65,1.7l-1.65,1.7l-1.65,-1.7zM614.02,375.7l1.65,1.7l-1.65,1.7l-1.65,-1.7zM697.53,375.7l1.65,1.7l-1.65,1.7l-1.65,-1.7zM731.51,375.7l1.65,1.7l-1.65,1.7l-1.65,-1.7zM645.34,375.7l1.65,1.7l-1.65,1.7l-1.65,-1.7zM499.8,375.7l1.65,1.7l-1.65,1.7l-1.65,-1.7zM730.1,375.7l1.65,1.7l-1.65,1.7l-1.65,-1.7zM691.82,375.7l1.65,1.7l-1.65,1.7l-1.65,-1.7zM756.22,375.7l1.65,1.7l-1.65,1.7l-1.65,-1.7zM565.5,375.7l1.65,1.7l-1.65,1.7l-1.65,-1.7zM718.98,375.7l1.65,1.7l-1.65,1.7l-1.65,-1.7zM745.19,375.7l1.65,1.7l-1.65,1.7l-1.65,-1.7zM590.81,375.7l1.65,1.7l-1.65,1.7l-1.65,-1.7zM607.24,375.7l1.65,1.7l-1.65,1.7l-1.65,-1.7zM584.53,375.7l1.65,1.7l-1.65,1.7l-1.65,-1.7zM486.71,375.7l1.65,1.7l-1.65,1.7l-1.65,-1.7zM554,375.7l1.65,1.7l-1.65,1.7l-1.65,-1.7zM583.8,375.7l1.65,1.7l-1.65,1.7l-1.65,-1.7zM517.3,375.7l1.65,1.7l-1.65,1.7l-1.65,-1.7zM713.14,375.7l1.65,1.7l-1.65,1.7l-1.65,-1.7zM612.23,375.7l1.65,1.7l-1.65,1.7l-1.65,-1.7zM654.33,375.7l1.65,1.7l-1.65,1.7l-1.65,-1.7zM569.81,375.7l1.65,1.7l-1.65,1.7l-1.65,-1.7zM592.38,375.7l1.65,1.7l-1.65,1.7l-1.65,-1.7zM709.51,375.7l1.65,1.7l-1.65,1.7l-1.65,-1.7zM625.01,375.7l1.65,1.7l-1.65,1.7l-1.65,-1.7zM662.76,375.7l1.65,1.7l-1.65,1.7l-1.65,-1.7zM610.96,375.7l1.65,1.7l-1.65,1.7l-1.65,-1.7zM651,375.7l1.65,1.7l-1.65,1.7l-1.65,-1.7zM752.41,375.7l1.65,1.7l-1.65,1.7l-1.65,-1.7zM564.69,375.7l1.65,1.7l-1.65,1.7l-1.65,-1.7zM639.68,375.7l1.65,1.7l-1.65,1.7l-1.65,-1.7zM689.79,375.7l1.65,1.7l-1.65,1.7l-1.65,-1.7zM510.86,375.7l1.65,1.7l-1.65,1.7l-1.65,-1.7zM771.68,375.7l1.65,1.7l-1.65,1.7l-1.65,-1.7zM633.63,375.7l1.65,1.7l-1.65,1.7l-1.65,-1.7zM558.11,375.7l1.65,1.7l-1.65,1.7l-1.65,-1.7zM711.61,375.7l1.65,1.7l-1.65,1.7l-1.65,-1.7zM728.04,375.7l1.65,1.7l-1.65,1.7l-1.65,-1.7zM672.92,375.7l1.65,1.7l-1.65,1.7l-1.65,-1.7zM758.02,375.7l1.65,1.7l-1.65,1.7l-1.65,-1.7zM511.5,375.7l1.65,1.7l-1.65,1.7l-1.65,-1.7zM642.22,375.7l1.65,1.7l-1.65,1.7l-1.65,-1.7zM706.38,375.7l1.65,1.7l-1.65,1.7l-1.65,-1.7zM758.21,375.7l1.65,1.7l-1.65,1.7l-1.65,-1.7zM676.15,375.7l1.65,1.7l-1.65,1.7l-1.65,-1.7zM664.49,375.7l1.65,1.7l-1.65,1.7l-1.65,-1.7zM600.69,375.7l1.65,1.7l-1.65,1.7l-1.65,-1.7zM655.34,375.7l1.65,1.7l-1.65,1.7l-1.65,-1.7zM650.33,375.7l1.65,1.7l-1.65,1.7l-1.65,-1.7zM754.7,375.7l1.65,1.7l-1.65,1.7l-1.65,-1.7zM731.48,375.7l1.65,1.7l-1.65,1.7l-1.65,-1.7zM704.68,375.7l1.65,1.7l-1.65,1.7l-1.65,-1.7zM760.29,375.7l1.65,1.7l-1.65,1.7l-1.65,-1.7zM504.72,375.7l1.65,1.7l-1.65,1.7l-1.65,-1.7zM714.35,375.7l1.65,1.7l-1.65,1.7l-1.65,-1.7zM623.16,375.7l1.65,1.7l-1.65,1.7l-1.65,-1.7zM709.04,375.7l1.65,1.7l-1.65,1.7l-1.65,-1.7zM573.26,375.7l1.65,1.7l-1.65,1.7l-1.65,-1.7zM624.27,375.7l1.65,1.7l-1.65,1.7l-1.65,-1.7zM730.73,375.7l1.65,1.7l-1.65,1.7l-1.65,-1.7zM495.48,375.7l1.65,1.7l-1.65,1.7l-1.65,-1.7zM571.76,375.7l1.65,1.7l-1.65,1.7l-1.65,-1.7zM630.56,375.7l1.65,1.7l-1.65,1.7l-1.65,-1.7zM738.75,375.7l1.65,1.7l-1.65,1.7l-1.65,-1.7zM565.47,375.7l1.65,1.7l-1.65,1.7l-1.65,-1.7zM730.28,375.7l1.65,1.7l-1.65,1.7l-1.65,-1.7zM557.87,375.7l1.65,1.7l-1.65,1.7l-1.65,-1.7zM575.34,375.7l1.65,1.7l-1.65,1.7l-1.65,-1.7zM650.04,375.7l1.65,1.7l-1.65,1.7l-1.65,-1.7zM679.86,375.7l1.65,1.7l-1.65,1.7l-1.65,-1.7zM747.26,375.7l1.65,1.7l-1.65,1.7l-1.65,-1.7zM747.08,375.7l1.65,1.7l-1.65,1.7l-1.65,-1.7zM559.55,375.7l1.65,1.7l-1.65,1.7l-1.65,-1.7zM707.19,375.7l1.65,1.7l-1.65,1.7l-1.65,-1.7zM674.23,375.7l1.65,1.7l-1.65,1.7l-1.65,-1.7zM600.07,375.7l1.65,1.7l-1.65,1.7l-1.65,-1.7zM716.26,375.7l1.65,1.7l-1.65,1.7l-1.65,-1.7zM752.46,375.7l1.65,1.7l-1.65,1.7l-1.65,-1.7zM627.8,375.7l1.65,1.7l-1.65,1.7l-1.65,-1.7zM758,375.7l1.65,1.7l-1.65,1.7l-1.65,-1.7zM523.03,375.7l1.65,1.7l-1.65,1.7l-1.65,-1.7zM534.52,375.7l1.65,1.7l-1.65,1.7l-1.65,-1.7zM712.73,375.7l1.65,1.7l-1.65,1.7l-1.65,-1.7zM576.05,375.7l1.65,1.7l-1.65,1.7l-1.65,-1.7zM659.44,375.7l1.65,1.7l-1.65,1.7l-1.65,-1.7zM633.13,375.7l1.65,1.7l-1.65,1.7l-1.65,-1.7zM528.44,375.7l1.65,1.7l-1.65,1.7l-1.65,-1.7zM709.76,375.7l1.65,1.7l-1.65,1.7l-1.65,-1.7zM705.95,375.7l1.65,1.7l-1.65,1.7l-1.65,-1.7zM528.27,375.7l1.65,1.7l-1.65,1.7l-1.65,-1.7zM562.41,375.7l1.65,1.7l-1.65,1.7l-1.65,-1.7zM723.57,375.7l1.65,1.7l-1.65,1.7l-1.65,-1.7zM756.84,375.7l1.65,1.7l-1.65,1.7l-1.65,-1.7zM744.29,375.7l1.65,1.7l-1.65,1.7l-1.65,-1.7zM634.55,375.7l1.65,1.7l-1.65,1.7l-1.65,-1.7zM594.48,375.7l1.65,1.7l-1.65,1.7l-1.65,-1.7zM617.69,375.7l1.65,1.7l-1.65,1.7l-1.65,-1.7zM537.56,375.7l1.65,1.7l-1.65,1.7l-1.65,-1.7zM632.8,375.7l1.65,1.7l-1.65,1.7l-1.65,-1.7zM553.8,375.7l1.65,1.7l-1.65,1.7l-1.65,-1.7zM533.26,375.7l1.65,1.7l-1.65,1.7l-1.65,-1.7zM598.43,375.7l1.65,1.7l-1.65,1.7l-1.65,-1.7zM504.05,375.7l1.65,1.7l-1.65,1.7l-1.65,-1.7zM625.17,375.7l1.65,1.7l-1.65,1.7l-1.65,-1.7zM692.45,375.7l1.65,1.7l-1.65,1.7l-1.65,-1.7zM679.12,375.7l1.65,1.7l-1.65,1.7l-1.65,-1.7zM775.63,375.7l1.65,1.7l-1.65,1.7l-1.65,-1.7zM748.97,375.7l1.65,1.7l-1.65,1.7l-1.65,-1.7zM673.86,375.7l1.65,1.7l-1.65,1.7l-1.65,-1.7zM752.49,375.7l1.65,1.7l-1.65,1.7l-1.65,-1.7zM617.45,375.7l1.65,1.7l-1.65,1.7l-1.65,-1.7zM723.06,375.7l1.65,1.7l-1.65,1.7l-1.65,-1.7zM569.77,375.7l1.65,1.7l-1.65,1.7l-1.65,-1.7zM641.96,375.7l1.65,1.7l-1.65,1.7l-1.65,-1.7z" fill="#ffa500" fill-opacity="0.2"/><path d="M777,375.7l1.65,1.7l-1.65,1.7l-1.65,-1.7zM663.44,375.7l1.65,1.7l-1.65,1.7l-1.65,-1.7zM636.02,375.7l1.65,1.7l-1.65,1.7l-1.65,-1.7zM719.62,375.7l1.65,1.7l-1.65,1.7l-1.65,-1.7zM578.08,375.7l1.65,1.7l-1.65,1.7l-1.65,-1.7zM732.65,375.7l1.65,1.7l-1.65,1.7l-1.65,-1.7zM490.53,375.7l1.65,1.7l-1.65,1.7l-1.65,-1.7zM556,375.7l1.65,1.7l-1.65,1.7l-1.65,-1.7zM537.82,375.7l1.65,1.7l-1.65,1.7l-1.65,-1.7zM561.69,375.7l1.65,1.7l-1.65,1.7l-1.65,-1.7zM766.77,375.7l1.65,1.7l-1.65,1.7l-1.65,-1.7zM492.12,375.7l1.65,1.7l-1.65,1.7l-1.65,-1.7zM574.03,375.7l1.65,1.7l-1.65,1.7l-1.65,-1.7zM656.17,375.7l1.65,1.7l-1.65,1.7l-1.65,-1.7zM694.52,375.7l1.65,1.7l-1.65,1.7l-1.65,-1.7zM715.59,375.7l1.65,1.7l-1.65,1.7l-1.65,-1.7zM599.22,375.7l1.65,1.7l-1.65,1.7l-1.65,-1.7zM550.61,375.7l1.65,1.7l-1.65,1.7l-1.65,-1.7zM739,375.7l1.65,1.7l-1.65,1.7l-1.65,-1.7zM521.38,375.7l1.65,1.7l-1.65,1.7l-1.65,-1.7zM504.38,375.7l1.65,1.7l-1.65,1.7l-1.65,-1.7zM554.01,375.7l1.65,1.7l-1.65,1.7l-1.65,-1.7zM631.79,375.7l1.65,1.7l-1.65,1.7l-1.65,-1.7zM765.76,375.7l1.65,1.7l-1.65,1.7l-1.65,-1.7zM702.2,375.7l1.65,1.7l-1.65,1.7l-1.65,-1.7zM653.06,375.7l1.65,1.7l-1.65,1.7l-1.65,-1.7zM640.32,375.7l1.65,1.7l-1.65,1.7l-1.65,-1.7zM691.64,375.7l1.65,1.7l-1.65,1.7l-1.65,-1.7zM671.69,375.7l1.65,1.7l-1.65,1.7l-1.65,-1.7zM585.22,375.7l1.65,1.7l-1.65,1.7l-1.65,-1.7zM512.63,375.7l1.65,1.7l-1.65,1.7l-1.65,-1.7zM544.87,375.7l1.65,1.7l-1.65,1.7l-1.65,-1.7zM718.25,375.7l1.65,1.7l-1.65,1.7l-1.65,-1.7zM674.07,375.7l1.65,1.7l-1.65,1.7l-1.65,-1.7zM722.56,375.7l1.65,1.7l-1.65,1.7l-1.65,-1.7zM498.26,375.7l1.65,1.7l-1.65,1.7l-1.65,-1.7zM753.44,375.7l1.65,1.7l-1.65,1.7l-1.65,-1.7zM598.91,375.7l1.65,1.7l-1.65,1.7l-1.65,-1.7zM761,375.7l1.65,1.7l-1.65,1.7l-1.65,-1.7zM662.17,375.7l1.65,1.7l-1.65,1.7l-1.65,-1.7zM648.1,375.7l1.65,1.7l-1.65,1.7l-1.65,-1.7zM728.79,375.7l1.65,1.7l-1.65,1.7l-1.65,-1.7zM671.38,375.7l1.65,1.7l-1.65,1.7l-1.65,-1.7zM686.02,375.7l1.65,1.7l-1.65,1.7l-1.65,-1.7zM531.97,375.7l1.65,1.7l-1.65,1.7l-1.65,-1.7zM665.13,375.7l1.65,1.7l-1.65,1.7l-1.65,-1.7zM591.24,375.7l1.65,1.7l-1.65,1.7l-1.65,-1.7zM507.53,375.7l1.65,1.7l-1.65,1.7l-1.65,-1.7zM524.69,375.7l1.65,1.7l-1.65,1.7l-1.65,-1.7zM627.98,375.7l1.65,1.7l-1.65,1.7l-1.65,-1.7zM563.23,375.7l1.65,1.7l-1.65,1.7l-1.65,-1.7zM713.07,375.7l1.65,1.7l-1.65,1.7l-1.65,-1.7zM521.47,375.7l1.65,1.7l-1.65,1.7l-1.65,-1.7zM489.12,375.7l1.65,1.7l-1.65,1.7l-1.65,-1.7zM782.1,375.7l1.65,1.7l-1.65,1.7l-1.65,-1.7zM578.27,375.7l1.65,1.7l-1.65,1.7l-1.65,-1.7zM636.92,375.7l1.65,1.7l-1.65,1.7l-1.65,-1.7zM547.59,375.7l1.65,1.7l-1.65,1.7l-1.65,-1.7zM547.22,375.7l1.65,1.7l-1.65,1.7l-1.65,-1.7zM604.89,375.7l1.65,1.7l-1.65,1.7l-1.65,-1.7zM720.36,375.7l1.65,1.7l-1.65,1.7l-1.65,-1.7zM496.62,375.7l1.65,1.7l-1.65,1.7l-1.65,-1.7zM734.52,375.7l1.65,1.7l-1.65,1.7l-1.65,-1.7zM780.1,375.7l1.65,1.7l-1.65,1.7l-1.65,-1.7zM651.63,375.7l1.65,1.7l-1.65,1.7l-1.65,-1.7zM592.28,375.7l1.65,1.7l-1.65,1.7l-1.65,-1.7zM554.71,375.7l1.65,1.7l-1.65,1.7l-1.65,-1.7zM539.52,375.7l1.65,1.7l-1.65,1.7l-1.65,-1.7zM581.35,375.7l1.65,1.7l-1.65,1.7l-1.65,-1.7zM738.79,375.7l1.65,1.7l-1.65,1.7l-1.65,-1.7zM485.97,375.7l1.65,1.7l-1.65,1.7l-1.65,-1.7zM719.22,375.7l1.65,1.7l-1.65,1.7l-1.65,-1.7zM683.89,375.7l1.65,1.7l-1.65,1.7l-1.65,-1.7zM490.67,375.7l1.65,1.7l-1.65,1.7l-1.65,-1.7zM505.73,375.7l1.65,1.7l-1.65,1.7l-1.65,-1.7zM704.05,375.7l1.65,1.7l-1.65,1.7l-1.65,-1.7zM685.6,375.7l1.65,1.7l-1.65,1.7l-1.65,-1.7zM578.42,375.7l1.65,1.7l-1.65,1.7l-1.65,-1.7zM741.66,375.7l1.65,1.7l-1.65,1.7l-1.65,-1.7zM547.63,375.7l1.65,1.7l-1.65,1.7l-1.65,-1.7zM612.22,375.7l1.65,1.7l-1.65,1.7l-1.65,-1.7zM519.27,375.7l1.65,1.7l-1.65,1.7l-1.65,-1.7zM677.42,375.7l1.65,1.7l-1.65,1.7l-1.65,-1.7zM510.93,375.7l1.65,1.7l-1.65,1.7l-1.65,-1.7zM538.49,375.7l1.65,1.7l-1.65,1.7l-1.65,-1.7zM713.37,375.7l1.65,1.7l-1.65,1.7l-1.65,-1.7zM634.07,375.7l1.65,1.7l-1.65,1.7l-1.65,-1.7zM682.24,375.7l1.65,1.7l-1.65,1.7l-1.65,-1.7zM703.72,375.7l1.65,1.7l-1.65,1.7l-1.65,-1.7zM665.75,375.7l1.65,1.7l-1.65,1.7l-1.65,-1.7zM543.93,375.7l1.65,1.7l-1.65,1.7l-1.65,-1.7zM693.15,375.7l1.65,1.7l-1.65,1.7l-1.65,-1.7zM519.55,375.7l1.65,1.7l-1.65,1.7l-1.65,-1.7zM565.4,375.7l1.65,1.7l-1.65,1.7l-1.65,-1.7zM618.54,375.7l1.65,1.7l-1.65,1.7l-1.65,-1.7zM519.1,375.7l1.65,1.7l-1.65,1.7l-1.65,-1.7zM516.59,375.7l1.65,1.7l-1.65,1.7l-1.65,-1.7zM679.38,375.7l1.65,1.7l-1.65,1.7l-1.65,-1.7zM706.1,375.7l1.65,1.7l-1.65,1.7l-1.65,-1.7zM595.47,375.7l1.65,1.7l-1.65,1.7l-1.65,-1.7zM601.18,375.7l1.65,1.7l-1.65,1.7l-1.65,-1.7zM546.87,375.7l1.65,1.7l-1.65,1.7l-1.65,-1.7zM640.45,375.7l1.65,1.7l-1.65,1.7l-1.65,-1.7zM657.95,375.7l1.65,1.7l-1.65,1.7l-1.65,-1.7zM763.21,375.7l1.65,1.7l-1.65,1.7l-1.65,-1.7zM497.09,375.7l1.65,1.7l-1.65,1.7l-1.65,-1.7zM755.8,375.7l1.65,1.7l-1.65,1.7l-1.65,-1.7zM780.21,375.7l1.65,1.7l-1.65,1.7l-1.65,-1.7zM588.19,375.7l1.65,1.7l-1.65,1.7l-1.65,-1.7zM701.29,375.7l1.65,1.7l-1.65,1.7l-1.65,-1.7zM730.8,375.7l1.65,1.7l-1.65,1.7l-1.65,-1.7zM679.04,375.7l1.65,1.7l-1.65,1.7l-1.65,-1.7zM571.09,375.7l1.65,1.7l-1.65,1.7l-1.65,-1.7zM670.63,375.7l1.65,1.7l-1.65,1.7l-1.65,-1.7zM746.32,375.7l1.65,1.7l-1.65,1.7l-1.65,-1.7zM516.9,375.7l1.65,1.7l-1.65,1.7l-1.65,-1.7zM628.03,375.7l1.65,1.7l-1.65,1.7l-1.65,-1.7zM491.75,375.7l1.65,1.7l-1.65,1.7l-1.65,-1.7zM736.8,375.7l1.65,1.7l-1.65,1.7l-1.65,-1.7zM716.99,375.7l1.65,1.7l-1.65,1.7l-1.65,-1.7zM498.72,375.7l1.65,1.7l-1.65,1.7l-1.65,-1.7zM707.25,375.7l1.65,1.7l-1.65,1.7l-1.65,-1.7zM691.08,375.7l1.65,1.7l-1.65,1.7l-1.65,-1.7zM522.62,375.7l1.65,1.7l-1.65,1.7l-1.65,-1.7zM641.5,375.7l1.65,1.7l-1.65,1.7l-1.65,-1.7zM690.43,375.7l1.65,1.7l-1.65,1.7l-1.65,-1.7zM584.97,375.7l1.65,1.7l-1.65,1.7l-1.65,-1.7zM635.16,375.7l1.65,1.7l-1.65,1.7l-1.65,-1.7zM775.83,375.7l1.65,1.7l-1.65,1.7l-1.65,-1.7zM674.43,375.7l1.65,1.7l-1.65,1.7l-1.65,-1.7zM634.59,375.7l1.65,1.7l-1.65,1.7l-1.65,-1.7zM504.67,375.7l1.65,1.7l-1.65,1.7l-1.65,-1.7zM521.11,375.7l1.65,1.7l-1.65,1.7l-1.65,-1.7zM738.53,375.7l1.65,1.7l-1.65,1.7l-1.65,-1.7zM706.29,375.7l1.65,1.7l-1.65,1.7l-1.65,-1.7z" fill="#ffa500" fill-opacity="0.2"/><path d="M733.86,375.7l1.65,1.7l-1.65,1.7l-1.65,-1.7zM657.27,375.7l1.65,1.7l-1.65,1.7l-1.65,-1.7zM656.65,375.7l1.65,1.7l-1.65,1.7l-1.65,-1.7zM643.11,375.7l1.65,1.7l-1.65,1.7l-1.65,-1.7zM704.05,375.7l1.65,1.7l-1.65,1.7l-1.65,-1.7zM583.4,375.7l1.65,1.7l-1.65,1.7l-1.65,-1.7zM633.02,375.7l1.65,1.7l-1.65,1.7l-1.65,-1.7zM624.99,375.7l1.65,1.7l-1.65,1.7l-1.65,-1.7zM682.17,375.7l1.65,1.7l-1.65,1.7l-1.65,-1.7zM549.43,375.7l1.65,1.7l-1.65,1.7l-1.65,-1.7zM492.47,375.7l1.65,1.7l-1.65,1.7l-1.65,-1.7zM511.39,375.7l1.65,1.7l-1.65,1.7l-1.65,-1.7zM538.41,375.7l1.65,1.7l-1.65,1.7l-1.65,-1.7zM740.46,375.7l1.65,1.7l-1.65,1.7l-1.65,-1.7zM698.62,375.7l1.65,1.7l-1.65,1.7l-1.65,-1.7zM708.49,375.7l1.65,1.7l-1.65,1.7l-1.65,-1.7zM617.38,375.7l1.65,1.7l-1.65,1.7l-1.65,-1.7zM515.63,375.7l1.65,1.7l-1.65,1.7l-1.65,-1.7zM623.65,375.7l1.65,1.7l-1.65,1.7l-1.65,-1.7zM742.17,375.7l1.65,1.7l-1.65,1.7l-1.65,-1.7zM636.73,375.7l1.65,1.7l-1.65,1.7l-1.65,-1.7zM673.29,375.7l1.65,1.7l-1.65,1.7l-1.65,-1.7zM596.51,375.7l1.65,1.7l-1.65,1.7l-1.65,-1.7zM529.73,375.7l1.65,1.7l-1.65,1.7l-1.65,-1.7zM671.74,375.7l1.65,1.7l-1.65,1.7l-1.65,-1.7zM629.52,375.7l1.65,1.7l-1.65,1.7l-1.65,-1.7zM588,375.7l1.65,1.7l-1.65,1.7l-1.65,-1.7zM562.04,375.7l1.65,1.7l-1.65,1.7l-1.65,-1.7zM692.41,375.7l1.65,1.7l-1.65,1.7l-1.65,-1.7zM579.74,375.7l1.65,1.7l-1.65,1.7l-1.65,-1.7zM656.64,375.7l1.65,1.7l-1.65,1.7l-1.65,-1.7zM562.4,375.7l1.65,1.7l-1.65,1.7l-1.65,-1.7zM709.52,375.7l1.65,1.7l-1.65,1.7l-1.65,-1.7zM596.74,375.7l1.65,1.7l-1.65,1.7l-1.65,-1.7zM627.59,375.7l1.65,1.7l-1.65,1.7l-1.65,-1.7zM761.42,375.7l1.65,1.7l-1.65,1.7l-1.65,-1.7zM699.08,375.7l1.65,1.7l-1.65,1.7l-1.65,-1.7zM704.43,375.7l1.65,1.7l-1.65,1.7l-1.65,-1.7zM586.12,375.7l1.65,1.7l-1.65,1.7l-1.65,-1.7zM735.42,375.7l1.65,1.7l-1.65,1.7l-1.65,-1.7zM599.96,375.7l1.65,1.7l-1.65,1.7l-1.65,-1.7zM779.52,375.7l1.65,1.7l-1.65,1.7l-1.65,-1.7zM751.98,375.7l1.65,1.7l-1.65,1.7l-1.65,-1.7zM681.42,375.7l1.65,1.7l-1.65,1.7l-1.65,-1.7zM732.78,375.7l1.65,1.7l-1.65,1.7l-1.65,-1.7zM647.12,375.7l1.65,1.7l-1.65,1.7l-1.65,-1.7zM703.46,375.7l1.65,1.7l-1.65,1.7l-1.65,-1.7zM522.18,375.7l1.65,1.7l-1.65,1.7l-1.65,-1.7zM779.6,375.7l1.65,1.7l-1.65,1.7l-1.65,-1.7zM723.46,375.7l1.65,1.7l-1.65,1.7l-1.65,-1.7zM527.45,375.7l1.65,1.7l-1.65,1.7l-1.65,-1.7zM557.3,375.7l1.65,1.7l-1.65,1.7l-1.65,-1.7zM656.34,375.7l1.65,1.7l-1.65,1.7l-1.65,-1.7zM712.3,375.7l1.65,1.7l-1.65,1.7l-1.65,-1.7zM529.36,375.7l1.65,1.7l-1.65,1.7l-1.65,-1.7zM771.27,375.7l1.65,1.7l-1.65,1.7l-1.65,-1.7zM588.09,375.7l1.65,1.7l-1.65,1.7l-1.65,-1.7zM781.5,375.7l1.65,1.7l-1.65,1.7l-1.65,-1.7zM709.27,375.7l1.65,1.7l-1.65,1.7l-1.65,-1.7zM629.69,375.7l1.65,1.7l-1.65,1.7l-1.65,-1.7zM593.08,375.7l1.65,1.7l-1.65,1.7l-1.65,-1.7zM513.75,375.7l1.65,1.7l-1.65,1.7l-1.65,-1.7zM511.19,375.7l1.65,1.7l-1.65,1.7l-1.65,-1.7zM672.58,375.7l1.65,1.7l-1.65,1.7l-1.65,-1.7zM715.51,375.7l1.65,1.7l-1.65,1.7l-1.65,-1.7zM755.45,375.7l1.65,1.7l-1.65,1.7l-1.65,-1.7zM593.77,375.7l1.65,1.7l-1.65,1.7l-1.65,-1.7zM764.41,375.7l1.65,1.7l-1.65,1.7l-1.65,-1.7zM573.47,375.7l1.65,1.7l-1.65,1.7l-1.65,-1.7zM765.09,375.7l1.65,1.7l-1.65,1.7l-1.65,-1.7zM758.81,375.7l1.65,1.7l-1.65,1.7l-1.65,-1.7zM531.19,375.7l1.65,1.7l-1.65,1.7l-1.65,-1.7zM741.52,375.7l1.65,1.7l-1.65,1.7l-1.65,-1.7zM694.7,375.7l1.65,1.7l-1.65,1.7l-1.65,-1.7zM694.33,375.7l1.65,1.7l-1.65,1.7l-1.65,-1.7zM735.44,375.7l1.65,1.7l-1.65,1.7l-1.65,-1.7zM644.93,375.7l1.65,1.7l-1.65,1.7l-1.65,-1.7zM636.02,375.7l1.65,1.7l-1.65,1.7l-1.65,-1.7zM594.37,375.7l1.65,1.7l-1.65,1.7l-1.65,-1.7zM742.84,375.7l1.65,1.7l-1.65,1.7l-1.65,-1.7zM753.53,375.7l1.65,1.7l-1.65,1.7l-1.65,-1.7zM532.84,375.7l1.65,1.7l-1.65,1.7l-1.65,-1.7zM715.11,375.7l1.65,1.7l-1.65,1.7l-1.65,-1.7zM567.1,375.7l1.65,1.7l-1.65,1.7l-1.65,-1.7zM539.79,375.7l1.65,1.7l-1.65,1.7l-1.65,-1.7zM543.77,375.7l1.65,1.7l-1.65,1.7l-1.65,-1.7zM655.85,375.7l1.65,1.7l-1.65,1.7l-1.65,-1.7zM568.37,375.7l1.65,1.7l-1.65,1.7l-1.65,-1.7zM557.2,375.7l1.65,1.7l-1.65,1.7l-1.65,-1.7zM514.35,375.7l1.65,1.7l-1.65,1.7l-1.65,-1.7zM581.76,375.7l1.65,1.7l-1.65,1.7l-1.65,-1.7zM715.68,375.7l1.65,1.7l-1.65,1.7l-1.65,-1.7zM491.44,375.7l1.65,1.7l-1.65,1.7l-1.65,-1.7zM628.83,375.7l1.65,1.7l-1.65,1.7l-1.65,-1.7zM664.64,375.7l1.65,1.7l-1.65,1.7l-1.65,-1.7zM499.79,375.7l1.65,1.7l-1.65,1.7l-1.65,-1.7zM572.6,375.7l1.65,1.7l-1.65,1.7l-1.65,-1.7zM755.13,375.7l1.65,1.7l-1.65,1.7l-1.65,-1.7zM781.31,375.7l1.65,1.7l-1.65,1.7l-1.65,-1.7zM738.39,375.7l1.65,1.7l-1.65,1.7l-1.65,-1.7zM535.57,375.7l1.65,1.7l-1.65,1.7l-1.65,-1.7zM712.72,375.7l1.65,1.7l-1.65,1.7l-1.65,-1.7zM619.36,375.7l1.65,1.7l-1.65,1.7l-1.65,-1.7zM535.85,375.7l1.65,1.7l-1.65,1.7l-1.65,-1.7zM628.3,375.7l1.65,1.7l-1.65,1.7l-1.65,-1.7zM760.02,375.7l1.65,1.7l-1.65,1.7l-1.65,-1.7zM746.42,375.7l1.65,1.7l-1.65,1.7l-1.65,-1.7zM601.68,375.7l1.65,1.7l-1.65,1.7l-1.65,-1.7zM503.88,375.7l1.65,1.7l-1.65,1.7l-1.65,-1.7zM753.36,375.7l1.65,1.7l-1.65,1.7l-1.65,-1.7zM778.91,375.7l1.65,1.7l-1.65,1.7l-1.65,-1.7zM637.4,375.7l1.65,1.7l-1.65,1.7l-1.65,-1.7zM552.13,375.7l1.65,1.7l-1.65,1.7l-1.65,-1.7zM647.05,375.7l1.65,1.7l-1.65,1.7l-1.65,-1.7zM692.49,375.7l1.65,1.7l-1.65,1.7l-1.65,-1.7zM628.7,375.7l1.65,1.7l-1.65,1.7l-1.65,-1.7zM590.06,375.7l1.65,1.7l-1.65,1.7l-1.65,-1.7zM558.84,375.7l1.65,1.7l-1.65,1.7l-1.65,-1.7zM573.46,375.7l1.65,1.7l-1.65,1.7l-1.65,-1.7zM499.85,375.7l1.65,1.7l-1.65,1.7l-1.65,-1.7zM561.01,375.7l1.65,1.7l-1.65,1.7l-1.65,-1.7zM769.03,375.7l1.65,1.7l-1.65,1.7l-1.65,-1.7zM487.41,375.7l1.65,1.7l-1.65,1.7l-1.65,-1.7zM701.79,375.7l1.65,1.7l-1.65,1.7l-1.65,-1.7zM720.1,375.7l1.65,1.7l-1.65,1.7l-1.65,-1.7zM605.6,375.7l1.65,1.7l-1.65,1.7l-1.65,-1.7zM662.38,375.7l1.65,1.7l-1.65,1.7l-1.65,-1.7zM550.82,375.7l1.65,1.7l-1.65,1.7l-1.65,-1.7zM684.08,375.7l1.65,1.7l-1.65,1.7l-1.65,-1.7zM695.93,375.7l1.65,1.7l-1.65,1.7l-1.65,-1.7zM703.9,375.7l1.65,1.7l-1.65,1.7l-1.65,-1.7zM631.53,375.7l1.65,1.7l-1.65,1.7l-1.65,-1.7zM774.18,375.7l1.65,1.7l-1.65,1.7l-1.65,-1.7zM743.16,375.7l1.65,1.7l-1.65,1.7l-1.65,-1.7zM655.59,375.7l1.65,1.7l-1.65,1.7l-1.65,-1.7z" fill="#ffa500" fill-opacity="0.2"/><path d="M688.34,375.7l1.65,1.7l-1.65,1.7l-1.65,-1.7zM566.89,375.7l1.65,1.7l-1.65,1.7l-1.65,-1.7zM766.2,375.7l1.65,1.7l-1.65,1.7l-1.65,-1.7zM677.25,375.7l1.65,1.7l-1.65,1.7l-1.65,-1.7zM751.69,375.7l1.65,1.7l-1.65,1.7l-1.65,-1.7zM571.01,375.7l1.65,1.7l-1.65,1.7l-1.65,-1.7zM777.75,375.7l1.65,1.7l-1.65,1.7l-1.65,-1.7zM516.42,375.7l1.65,1.7l-1.65,1.7l-1.65,-1.7zM643.04,375.7l1.65,1.7l-1.65,1.7l-1.65,-1.7zM517.92,375.7l1.65,1.7l-1.65,1.7l-1.65,-1.7zM541.56,375.7l1.65,1.7l-1.65,1.7l-1.65,-1.7zM712.72,375.7l1.65,1.7l-1.65,1.7l-1.65,-1.7zM504.7,375.7l1.65,1.7l-1.65,1.7l-1.65,-1.7zM599.05,375.7l1.65,1.7l-1.65,1.7l-1.65,-1.7zM542.11,375.7l1.65,1.7l-1.65,1.7l-1.65,-1.7zM738.38,375.7l1.65,1.7l-1.65,1.7l-1.65,-1.7zM509.55,375.7l1.65,1.7l-1.65,1.7l-1.65,-1.7zM585.3,375.7l1.65,1.7l-1.65,1.7l-1.65,-1.7zM740.16,375.7l1.65,1.7l-1.65,1.7l-1.65,-1.7zM689.7,375.7l1.65,1.7l-1.65,1.7l-1.65,-1.7zM694.59,375.7l1.65,1.7l-1.65,1.7l-1.65,-1.7zM780.37,375.7l1.65,1.7l-1.65,1.7l-1.65,-1.7zM491.98,375.7l1.65,1.7l-1.65,1.7l-1.65,-1.7zM683.12,375.7l1.65,1.7l-1.65,1.7l-1.65,-1.7zM707,375.7l1.65,1.7l-1.65,1.7l-1.65,-1.7zM707.96,375.7l1.65,1.7l-1.65,1.7l-1.65,-1.7zM697.78,375.7l1.65,1.7l-1.65,1.7l-1.65,-1.7zM506.52,375.7l1.65,1.7l-1.65,1.7l-1.65,-1.7zM510.01,375.7l1.65,1.7l-1.65,1.7l-1.65,-1.7zM715.29,375.7l1.65,1.7l-1.65,1.7l-1.65,-1.7zM667.31,375.7l1.65,1.7l-1.65,1.7l-1.65,-1.7zM563.28,375.7l1.65,1.7l-1.65,1.7l-1.65,-1.7zM487.77,375.7l1.65,1.7l-1.65,1.7l-1.65,-1.7zM643.97,375.7l1.65,1.7l-1.65,1.7l-1.65,-1.7zM511.95,375.7l1.65,1.7l-1.65,1.7l-1.65,-1.7zM708.02,375.7l1.65,1.7l-1.65,1.7l-1.65,-1.7zM586.54,375.7l1.65,1.7l-1.65,1.7l-1.65,-1.7zM725.63,375.7l1.65,1.7l-1.65,1.7l-1.65,-1.7zM513.48,375.7l1.65,1.7l-1.65,1.7l-1.65,-1.7zM632.2,375.7l1.65,1.7l-1.65,1.7l-1.65,-1.7zM514.73,375.7l1.65,1.7l-1.65,1.7l-1.65,-1.7zM717.55,375.7l1.65,1.7l-1.65,1.7l-1.65,-1.7zM651.87,375.7l1.65,1.7l-1.65,1.7l-1.65,-1.7zM554.94,375.7l1.65,1.7l-1.65,1.7l-1.65,-1.7zM771.93,375.7l1.65,1.7l-1.65,1.7l-1.65,-1.7zM688.23,375.7l1.65,1.7l-1.65,1.7l-1.65,-1.7zM585.23,375.7l1.65,1.7l-1.65,1.7l-1.65,-1.7zM739.89,375.7l1.65,1.7l-1.65,1.7l-1.65,-1.7zM598.23,375.7l1.65,1.7l-1.65,1.7l-1.65,-1.7zM765.85,375.7l1.65,1.7l-1.65,1.7l-1.65,-1.7zM573.54,375.7l1.65,1.7l-1.65,1.7l-1.65,-1.7zM778.34,375.7l1.65,1.7l-1.65,1.7l-1.65,-1.7zM503.62,375.7l1.65,1.7l-1.65,1.7l-1.65,-1.7zM703.9,375.7l1.65,1.7l-1.65,1.7l-1.65,-1.7zM571.84,375.7l1.65,1.7l-1.65,1.7l-1.65,-1.7zM611.32,375.7l1.65,1.7l-1.65,1.7l-1.65,-1.7zM674.58,375.7l1.65,1.7l-1.65,1.7l-1.65,-1.7zM498.66,375.7l1.65,1.7l-1.65,1.7l-1.65,-1.7zM551.61,375.7l1.65,1.7l-1.65,1.7l-1.65,-1.7zM516,375.7l1.65,1.7l-1.65,1.7l-1.65,-1.7zM705.41,375.7l1.65,1.7l-1.65,1.7l-1.65,-1.7zM550.93,375.7l1.65,1.7l-1.65,1.7l-1.65,-1.7zM633.5,375.7l1.65,1.7l-1.65,1.7l-1.65,-1.7zM582.9,375.7l1.65,1.7l-1.65,1.7l-1.65,-1.7zM555.36,375.7l1.65,1.7l-1.65,1.7l-1.65,-1.7zM763.68,375.7l1.65,1.7l-1.65,1.7l-1.65,-1.7zM636.23,375.7l1.65,1.7l-1.65,1.7l-1.65,-1.7zM678.84,375.7l1.65,1.7l-1.65,1.7l-1.65,-1.7zM694.91,375.7l1.65,1.7l-1.65,1.7l-1.65,-1.7zM729.7,375.7l1.65,1.7l-1.65,1.7l-1.65,-1.7zM563.44,375.7l1.65,1.7l-1.65,1.7l-1.65,-1.7zM508.42,375.7l1.65,1.7l-1.65,1.7l-1.65,-1.7zM624.24,375.7l1.65,1.7l-1.65,1.7l-1.65,-1.7zM535.66,375.7l1.65,1.7l-1.65,1.7l-1.65,-1.7zM491.09,375.7l1.65,1.7l-1.65,1.7l-1.65,-1.7zM759.07,375.7l1.65,1.7l-1.65,1.7l-1.65,-1.7zM671.72,375.7l1.65,1.7l-1.65,1.7l-1.65,-1.7zM608.48,375.7l1.65,1.7l-1.65,1.7l-1.65,-1.7zM525.66,375.7l1.65,1.7l-1.65,1.7l-1.65,-1.7zM711.85,375.7l1.65,1.7l-1.65,1.7l-1.65,-1.7zM643.84,375.7l1.65,1.7l-1.65,1.7l-1.65,-1.7zM536.94,375.7l1.65,1.7l-1.65,1.7l-1.65,-1.7zM777.72,375.7l1.65,1.7l-1.65,1.7l-1.65,-1.7zM768.34,375.7l1.65,1.7l-1.65,1.7l-1.65,-1.7zM761.29,375.7l1.65,1.7l-1.65,1.7l-1.65,-1.7zM731.34,375.7l1.65,1.7l-1.65,1.7l-1.65,-1.7zM643.41,375.7l1.65,1.7l-1.65,1.7l-1.65,-1.7zM574.53,375.7l1.65,1.7l-1.65,1.7l-1.65,-1.7zM679.21,375.7l1.65,1.7l-1.65,1.7l-1.65,-1.7zM530.1,375.7l1.65,1.7l-1.65,1.7l-1.65,-1.7zM668.81,375.7l1.65,1.7l-1.65,1.7l-1.65,-1.7zM504.69,375.7l1.65,1.7l-1.65,1.7l-1.65,-1.7zM489.05,375.7l1.65,1.7l-1.65,1.7l-1.65,-1.7zM698.22,375.7l1.65,1.7l-1.65,1.7l-1.65,-1.7zM587.13,375.7l1.65,1.7l-1.65,1.7l-1.65,-1.7zM692.78,375.7l1.65,1.7l-1.65,1.7l-1.65,-1.7zM717.42,375.7l1.65,1.7l-1.65,1.7l-1.65,-1.7zM733.92,375.7l1.65,1.7l-1.65,1.7l-1.65,-1.7zM668.52,375.7l1.65,1.7l-1.65,1.7l-1.65,-1.7zM737.33,375.7l1.65,1.7l-1.65,1.7l-1.65,-1.7zM681.34,375.7l1.65,1.7l-1.65,1.7l-1.65,-1.7zM761.33,375.7l1.65,1.7l-1.65,1.7l-1.65,-1.7zM752.26,375.7l1.65,1.7l-1.65,1.7l-1.65,-1.7zM497.9,375.7l1.65,1.7l-1.65,1.7l-1.65,-1.7zM564.76,375.7l1.65,1.7l-1.65,1.7l-1.65,-1.7zM600.87,375.7l1.65,1.7l-1.65,1.7l-1.65,-1.7zM560.16,375.7l1.65,1.7l-1.65,1.7l-1.65,-1.7zM537.71,375.7l1.65,1.7l-1.65,1.7l-1.65,-1.7zM745.3,375.7l1.65,1.7l-1.65,1.7l-1.65,-1.7zM492.45,375.7l1.65,1.7l-1.65,1.7l-1.65,-1.7zM539.19,375.7l1.65,1.7l-1.65,1.7l-1.65,-1.7zM711.55,375.7l1.65,1.7l-1.65,1.7l-1.65,-1.7zM551.55,375.7l1.65,1.7l-1.65,1.7l-1.65,-1.7zM561.99,375.7l1.65,1.7l-1.65,1.7l-1.65,-1.7zM773.31,375.7l1.65,1.7l-1.65,1.7l-1.65,-1.7zM712.27,375.7l1.65,1.7l-1.65,1.7l-1.65,-1.7zM618.7,375.7l1.65,1.7l-1.65,1.7l-1.65,-1.7zM525.59,375.7l1.65,1.7l-1.65,1.7l-1.65,-1.7zM565.18,375.7l1.65,1.7l-1.65,1.7l-1.65,-1.7zM777.39,375.7l1.65,1.7l-1.65,1.7l-1.65,-1.7zM720.74,375.7l1.65,1.7l-1.65,1.7l-1.65,-1.7zM505.82,375.7l1.65,1.7l-1.65,1.7l-1.65,-1.7zM695.64,375.7l1.65,1.7l-1.65,1.7l-1.65,-1.7zM597.06,375.7l1.65,1.7l-1.65,1.7l-1.65,-1.7zM699.53,375.7l1.65,1.7l-1.65,1.7l-1.65,-1.7zM573.04,375.7l1.65,1.7l-1.65,1.7l-1.65,-1.7zM523.79,375.7l1.65,1.7l-1.65,1.7l-1.65,-1.7zM490.87,375.7l1.65,1.7l-1.65,1.7l-1.65,-1.7zM573.11,375.7l1.65,1.7l-1.65,1.7l-1.65,-1.7zM741.38,375.7l1.65,1.7l-1.65,1.7l-1.65,-1.7zM750.59,375.7l1.65,1.7l-1.65,1.7l-1.65,-1.7zM688.59,375.7l1.65,1.7l-1.65,1.7l-1.65,-1.7zM707.87,375.7l1.65,1.7l-1.65,1.7l-1.65,-1.7zM543,375.7l1.65,1.7l-1.65,1.7l-1.65,-1.7zM590.57,375.7l1.65,1.7l-1.65,1.7l-1.65,-1.7z" fill="#ffa500" fill-opacity="0.2"/>
<path d="M484.6,382.5L485.9,381.2H546.7L548,382.5L546.7,383.8H485.9Z" fill="#ffa500" fill-opacity="0.7"/>
<path d="M548,382.5L549.3,381.2H782.4L783.7,382.5L782.4,383.8H549.3Z" fill="#ffa500" fill-opacity="0.92"/>
<path d="M541.61,380.8l1.65,1.7l-1.65,1.7l-1.65,-1.7zM547.13,380.8l1.65,1.7l-1.65,1.7l-1.65,-1.7zM512.69,380.8l1.65,1.7l-1.65,1.7l-1.65,-1.7zM533.8,380.8l1.65,1.7l-1.65,1.7l-1.65,-1.7zM543.78,380.8l1.65,1.7l-1.65,1.7l-1.65,-1.7zM547.81,380.8l1.65,1.7l-1.65,1.7l-1.65,-1.7zM503.35,380.8l1.65,1.7l-1.65,1.7l-1.65,-1.7zM526.07,380.8l1.65,1.7l-1.65,1.7l-1.65,-1.7zM509.32,380.8l1.65,1.7l-1.65,1.7l-1.65,-1.7zM514.09,380.8l1.65,1.7l-1.65,1.7l-1.65,-1.7zM513.89,380.8l1.65,1.7l-1.65,1.7l-1.65,-1.7zM502.26,380.8l1.65,1.7l-1.65,1.7l-1.65,-1.7zM485.81,380.8l1.65,1.7l-1.65,1.7l-1.65,-1.7zM533.2,380.8l1.65,1.7l-1.65,1.7l-1.65,-1.7zM528.72,380.8l1.65,1.7l-1.65,1.7l-1.65,-1.7zM537.89,380.8l1.65,1.7l-1.65,1.7l-1.65,-1.7zM494.32,380.8l1.65,1.7l-1.65,1.7l-1.65,-1.7zM499.63,380.8l1.65,1.7l-1.65,1.7l-1.65,-1.7zM522.39,380.8l1.65,1.7l-1.65,1.7l-1.65,-1.7zM543.98,380.8l1.65,1.7l-1.65,1.7l-1.65,-1.7zM514.51,380.8l1.65,1.7l-1.65,1.7l-1.65,-1.7zM497.33,380.8l1.65,1.7l-1.65,1.7l-1.65,-1.7zM522.3,380.8l1.65,1.7l-1.65,1.7l-1.65,-1.7zM545.31,380.8l1.65,1.7l-1.65,1.7l-1.65,-1.7zM539.64,380.8l1.65,1.7l-1.65,1.7l-1.65,-1.7zM541.59,380.8l1.65,1.7l-1.65,1.7l-1.65,-1.7zM510.63,380.8l1.65,1.7l-1.65,1.7l-1.65,-1.7zM501.23,380.8l1.65,1.7l-1.65,1.7l-1.65,-1.7zM539.79,380.8l1.65,1.7l-1.65,1.7l-1.65,-1.7zM534.56,380.8l1.65,1.7l-1.65,1.7l-1.65,-1.7zM538.58,380.8l1.65,1.7l-1.65,1.7l-1.65,-1.7zM509.4,380.8l1.65,1.7l-1.65,1.7l-1.65,-1.7zM502.74,380.8l1.65,1.7l-1.65,1.7l-1.65,-1.7zM499.83,380.8l1.65,1.7l-1.65,1.7l-1.65,-1.7zM539.8,380.8l1.65,1.7l-1.65,1.7l-1.65,-1.7zM542.89,380.8l1.65,1.7l-1.65,1.7l-1.65,-1.7zM507.88,380.8l1.65,1.7l-1.65,1.7l-1.65,-1.7zM540.05,380.8l1.65,1.7l-1.65,1.7l-1.65,-1.7zM508.78,380.8l1.65,1.7l-1.65,1.7l-1.65,-1.7zM513,380.8l1.65,1.7l-1.65,1.7l-1.65,-1.7zM520.51,380.8l1.65,1.7l-1.65,1.7l-1.65,-1.7zM498.63,380.8l1.65,1.7l-1.65,1.7l-1.65,-1.7zM501.56,380.8l1.65,1.7l-1.65,1.7l-1.65,-1.7zM501.51,380.8l1.65,1.7l-1.65,1.7l-1.65,-1.7zM501.09,380.8l1.65,1.7l-1.65,1.7l-1.65,-1.7zM517.28,380.8l1.65,1.7l-1.65,1.7l-1.65,-1.7zM490.97,380.8l1.65,1.7l-1.65,1.7l-1.65,-1.7zM534.08,380.8l1.65,1.7l-1.65,1.7l-1.65,-1.7zM495.68,380.8l1.65,1.7l-1.65,1.7l-1.65,-1.7zM512.75,380.8l1.65,1.7l-1.65,1.7l-1.65,-1.7zM525.29,380.8l1.65,1.7l-1.65,1.7l-1.65,-1.7zM493.35,380.8l1.65,1.7l-1.65,1.7l-1.65,-1.7zM510.54,380.8l1.65,1.7l-1.65,1.7l-1.65,-1.7zM520.3,380.8l1.65,1.7l-1.65,1.7l-1.65,-1.7zM519.49,380.8l1.65,1.7l-1.65,1.7l-1.65,-1.7zM541.19,380.8l1.65,1.7l-1.65,1.7l-1.65,-1.7zM534.37,380.8l1.65,1.7l-1.65,1.7l-1.65,-1.7zM492.27,380.8l1.65,1.7l-1.65,1.7l-1.65,-1.7zM537.43,380.8l1.65,1.7l-1.65,1.7l-1.65,-1.7zM519.46,380.8l1.65,1.7l-1.65,1.7l-1.65,-1.7z" fill="#ffa500" fill-opacity="0.25"/><path d="M527.6,380.8l1.65,1.7l-1.65,1.7l-1.65,-1.7zM494.74,380.8l1.65,1.7l-1.65,1.7l-1.65,-1.7zM514.52,380.8l1.65,1.7l-1.65,1.7l-1.65,-1.7zM528.97,380.8l1.65,1.7l-1.65,1.7l-1.65,-1.7zM535.16,380.8l1.65,1.7l-1.65,1.7l-1.65,-1.7zM535.69,380.8l1.65,1.7l-1.65,1.7l-1.65,-1.7zM498.37,380.8l1.65,1.7l-1.65,1.7l-1.65,-1.7zM537.39,380.8l1.65,1.7l-1.65,1.7l-1.65,-1.7zM520.64,380.8l1.65,1.7l-1.65,1.7l-1.65,-1.7zM526.99,380.8l1.65,1.7l-1.65,1.7l-1.65,-1.7zM538.59,380.8l1.65,1.7l-1.65,1.7l-1.65,-1.7zM510.31,380.8l1.65,1.7l-1.65,1.7l-1.65,-1.7zM542.91,380.8l1.65,1.7l-1.65,1.7l-1.65,-1.7zM540.47,380.8l1.65,1.7l-1.65,1.7l-1.65,-1.7zM535.81,380.8l1.65,1.7l-1.65,1.7l-1.65,-1.7zM508.69,380.8l1.65,1.7l-1.65,1.7l-1.65,-1.7zM518.09,380.8l1.65,1.7l-1.65,1.7l-1.65,-1.7zM495.58,380.8l1.65,1.7l-1.65,1.7l-1.65,-1.7zM532.74,380.8l1.65,1.7l-1.65,1.7l-1.65,-1.7zM541.09,380.8l1.65,1.7l-1.65,1.7l-1.65,-1.7zM494.8,380.8l1.65,1.7l-1.65,1.7l-1.65,-1.7zM531.82,380.8l1.65,1.7l-1.65,1.7l-1.65,-1.7zM528.61,380.8l1.65,1.7l-1.65,1.7l-1.65,-1.7zM486.92,380.8l1.65,1.7l-1.65,1.7l-1.65,-1.7zM542.73,380.8l1.65,1.7l-1.65,1.7l-1.65,-1.7zM514.98,380.8l1.65,1.7l-1.65,1.7l-1.65,-1.7zM501.67,380.8l1.65,1.7l-1.65,1.7l-1.65,-1.7zM486.51,380.8l1.65,1.7l-1.65,1.7l-1.65,-1.7zM534.17,380.8l1.65,1.7l-1.65,1.7l-1.65,-1.7zM506.02,380.8l1.65,1.7l-1.65,1.7l-1.65,-1.7zM517.16,380.8l1.65,1.7l-1.65,1.7l-1.65,-1.7zM496.95,380.8l1.65,1.7l-1.65,1.7l-1.65,-1.7zM523.08,380.8l1.65,1.7l-1.65,1.7l-1.65,-1.7zM509.78,380.8l1.65,1.7l-1.65,1.7l-1.65,-1.7zM535.74,380.8l1.65,1.7l-1.65,1.7l-1.65,-1.7zM526.85,380.8l1.65,1.7l-1.65,1.7l-1.65,-1.7zM530.36,380.8l1.65,1.7l-1.65,1.7l-1.65,-1.7zM500.52,380.8l1.65,1.7l-1.65,1.7l-1.65,-1.7zM488.65,380.8l1.65,1.7l-1.65,1.7l-1.65,-1.7zM540.39,380.8l1.65,1.7l-1.65,1.7l-1.65,-1.7zM543.92,380.8l1.65,1.7l-1.65,1.7l-1.65,-1.7zM525.4,380.8l1.65,1.7l-1.65,1.7l-1.65,-1.7zM543.04,380.8l1.65,1.7l-1.65,1.7l-1.65,-1.7zM529.38,380.8l1.65,1.7l-1.65,1.7l-1.65,-1.7zM523.01,380.8l1.65,1.7l-1.65,1.7l-1.65,-1.7zM511.17,380.8l1.65,1.7l-1.65,1.7l-1.65,-1.7zM507.15,380.8l1.65,1.7l-1.65,1.7l-1.65,-1.7zM515.64,380.8l1.65,1.7l-1.65,1.7l-1.65,-1.7zM498.7,380.8l1.65,1.7l-1.65,1.7l-1.65,-1.7zM511.71,380.8l1.65,1.7l-1.65,1.7l-1.65,-1.7zM516.78,380.8l1.65,1.7l-1.65,1.7l-1.65,-1.7zM486.58,380.8l1.65,1.7l-1.65,1.7l-1.65,-1.7zM509.55,380.8l1.65,1.7l-1.65,1.7l-1.65,-1.7zM502.63,380.8l1.65,1.7l-1.65,1.7l-1.65,-1.7zM524.81,380.8l1.65,1.7l-1.65,1.7l-1.65,-1.7zM536.07,380.8l1.65,1.7l-1.65,1.7l-1.65,-1.7zM523.56,380.8l1.65,1.7l-1.65,1.7l-1.65,-1.7zM526.69,380.8l1.65,1.7l-1.65,1.7l-1.65,-1.7zM523.52,380.8l1.65,1.7l-1.65,1.7l-1.65,-1.7zM500.85,380.8l1.65,1.7l-1.65,1.7l-1.65,-1.7z" fill="#ffa500" fill-opacity="0.25"/>
<path d="M484,386.4L485.3,384.9H782.6L783.9,386.4L782.6,387.9H485.3Z" fill="#ffa500"/>
<path d="M483.4,391.4L484.7,389.9H782.6L783.9,391.4L782.6,392.9H484.7Z" fill="#ffa500"/>
<path d="M482.8,395.5L484.1,394H782.6L783.9,395.5L782.6,397H484.1Z" fill="#ffa500"/>
<path d="M482.2,400.4L483.5,398.9H782.6L783.9,400.4L782.6,401.9H483.5Z" fill="#ffa500"/>
<path d="M481.6,404.5L482.9,403H782.6L783.9,404.5L782.6,406H482.9Z" fill="#ffa500"/>
<path d="M481,409.4L482.3,407.9H782.6L783.9,409.4L782.6,410.9H482.3Z" fill="#ffa500"/>
<path d="M480.4,413.5L481.7,412H782.6L783.9,413.5L782.6,415H481.7Z" fill="#ffa500"/>
<path d="M479.8,418.4L481.1,416.9H782.6L783.9,418.4L782.6,419.9H481.1Z" fill="#ffa500"/>
<path d="M479.8,422.4L481.1,420.9H782.6L783.9,422.4L782.6,423.9H481.1Z" fill="#ffa500"/>
<path d="M479.8,427.4L481.1,425.95H546.7L548,427.4L546.7,428.85H481.1Z" fill="#ffa500" fill-opacity="0.97"/>
<path d="M548,427.4L549.3,426H782.4L783.7,427.4L782.4,428.8H549.3Z" fill="#ffa500" fill-opacity="0.85"/>
<path d="M636.43,425.7l1.65,1.7l-1.65,1.7l-1.65,-1.7zM746.39,425.7l1.65,1.7l-1.65,1.7l-1.65,-1.7zM770.32,425.7l1.65,1.7l-1.65,1.7l-1.65,-1.7zM590.58,425.7l1.65,1.7l-1.65,1.7l-1.65,-1.7zM550.49,425.7l1.65,1.7l-1.65,1.7l-1.65,-1.7zM773.94,425.7l1.65,1.7l-1.65,1.7l-1.65,-1.7zM750.01,425.7l1.65,1.7l-1.65,1.7l-1.65,-1.7zM690.78,425.7l1.65,1.7l-1.65,1.7l-1.65,-1.7zM739.98,425.7l1.65,1.7l-1.65,1.7l-1.65,-1.7zM687.65,425.7l1.65,1.7l-1.65,1.7l-1.65,-1.7zM760.63,425.7l1.65,1.7l-1.65,1.7l-1.65,-1.7zM605.19,425.7l1.65,1.7l-1.65,1.7l-1.65,-1.7zM652.37,425.7l1.65,1.7l-1.65,1.7l-1.65,-1.7zM705.59,425.7l1.65,1.7l-1.65,1.7l-1.65,-1.7zM598.67,425.7l1.65,1.7l-1.65,1.7l-1.65,-1.7zM715.98,425.7l1.65,1.7l-1.65,1.7l-1.65,-1.7zM609.66,425.7l1.65,1.7l-1.65,1.7l-1.65,-1.7zM714.86,425.7l1.65,1.7l-1.65,1.7l-1.65,-1.7zM736.99,425.7l1.65,1.7l-1.65,1.7l-1.65,-1.7zM647.68,425.7l1.65,1.7l-1.65,1.7l-1.65,-1.7zM780.68,425.7l1.65,1.7l-1.65,1.7l-1.65,-1.7zM696.37,425.7l1.65,1.7l-1.65,1.7l-1.65,-1.7zM725.8,425.7l1.65,1.7l-1.65,1.7l-1.65,-1.7zM552.84,425.7l1.65,1.7l-1.65,1.7l-1.65,-1.7zM574.51,425.7l1.65,1.7l-1.65,1.7l-1.65,-1.7zM715.2,425.7l1.65,1.7l-1.65,1.7l-1.65,-1.7zM769.63,425.7l1.65,1.7l-1.65,1.7l-1.65,-1.7zM695.63,425.7l1.65,1.7l-1.65,1.7l-1.65,-1.7zM762.52,425.7l1.65,1.7l-1.65,1.7l-1.65,-1.7zM561.91,425.7l1.65,1.7l-1.65,1.7l-1.65,-1.7zM757.54,425.7l1.65,1.7l-1.65,1.7l-1.65,-1.7zM754.17,425.7l1.65,1.7l-1.65,1.7l-1.65,-1.7zM695.78,425.7l1.65,1.7l-1.65,1.7l-1.65,-1.7zM648.93,425.7l1.65,1.7l-1.65,1.7l-1.65,-1.7zM713.66,425.7l1.65,1.7l-1.65,1.7l-1.65,-1.7zM605.32,425.7l1.65,1.7l-1.65,1.7l-1.65,-1.7zM704.9,425.7l1.65,1.7l-1.65,1.7l-1.65,-1.7zM711.15,425.7l1.65,1.7l-1.65,1.7l-1.65,-1.7zM674.88,425.7l1.65,1.7l-1.65,1.7l-1.65,-1.7zM609.12,425.7l1.65,1.7l-1.65,1.7l-1.65,-1.7zM548.5,425.7l1.65,1.7l-1.65,1.7l-1.65,-1.7zM594.01,425.7l1.65,1.7l-1.65,1.7l-1.65,-1.7zM743.94,425.7l1.65,1.7l-1.65,1.7l-1.65,-1.7zM597.88,425.7l1.65,1.7l-1.65,1.7l-1.65,-1.7zM565.47,425.7l1.65,1.7l-1.65,1.7l-1.65,-1.7zM605.96,425.7l1.65,1.7l-1.65,1.7l-1.65,-1.7zM670.01,425.7l1.65,1.7l-1.65,1.7l-1.65,-1.7zM685.77,425.7l1.65,1.7l-1.65,1.7l-1.65,-1.7zM754.13,425.7l1.65,1.7l-1.65,1.7l-1.65,-1.7zM748.87,425.7l1.65,1.7l-1.65,1.7l-1.65,-1.7zM775.65,425.7l1.65,1.7l-1.65,1.7l-1.65,-1.7zM755.8,425.7l1.65,1.7l-1.65,1.7l-1.65,-1.7zM653.81,425.7l1.65,1.7l-1.65,1.7l-1.65,-1.7zM581.34,425.7l1.65,1.7l-1.65,1.7l-1.65,-1.7zM772.61,425.7l1.65,1.7l-1.65,1.7l-1.65,-1.7zM601.76,425.7l1.65,1.7l-1.65,1.7l-1.65,-1.7zM694.2,425.7l1.65,1.7l-1.65,1.7l-1.65,-1.7zM610.15,425.7l1.65,1.7l-1.65,1.7l-1.65,-1.7zM739.95,425.7l1.65,1.7l-1.65,1.7l-1.65,-1.7zM595.18,425.7l1.65,1.7l-1.65,1.7l-1.65,-1.7zM646.88,425.7l1.65,1.7l-1.65,1.7l-1.65,-1.7zM599.63,425.7l1.65,1.7l-1.65,1.7l-1.65,-1.7zM750.23,425.7l1.65,1.7l-1.65,1.7l-1.65,-1.7zM693.56,425.7l1.65,1.7l-1.65,1.7l-1.65,-1.7zM696.24,425.7l1.65,1.7l-1.65,1.7l-1.65,-1.7zM621.91,425.7l1.65,1.7l-1.65,1.7l-1.65,-1.7zM589.48,425.7l1.65,1.7l-1.65,1.7l-1.65,-1.7zM749.47,425.7l1.65,1.7l-1.65,1.7l-1.65,-1.7zM727.68,425.7l1.65,1.7l-1.65,1.7l-1.65,-1.7zM720.59,425.7l1.65,1.7l-1.65,1.7l-1.65,-1.7zM782.33,425.7l1.65,1.7l-1.65,1.7l-1.65,-1.7zM679.49,425.7l1.65,1.7l-1.65,1.7l-1.65,-1.7zM589.96,425.7l1.65,1.7l-1.65,1.7l-1.65,-1.7zM691.24,425.7l1.65,1.7l-1.65,1.7l-1.65,-1.7zM615.51,425.7l1.65,1.7l-1.65,1.7l-1.65,-1.7zM668.54,425.7l1.65,1.7l-1.65,1.7l-1.65,-1.7zM655.94,425.7l1.65,1.7l-1.65,1.7l-1.65,-1.7zM680.43,425.7l1.65,1.7l-1.65,1.7l-1.65,-1.7zM764.52,425.7l1.65,1.7l-1.65,1.7l-1.65,-1.7zM738.4,425.7l1.65,1.7l-1.65,1.7l-1.65,-1.7z" fill="#ffa500" fill-opacity="0.25"/><path d="M645.56,425.7l1.65,1.7l-1.65,1.7l-1.65,-1.7zM740.07,425.7l1.65,1.7l-1.65,1.7l-1.65,-1.7zM750.22,425.7l1.65,1.7l-1.65,1.7l-1.65,-1.7zM729.88,425.7l1.65,1.7l-1.65,1.7l-1.65,-1.7zM677.58,425.7l1.65,1.7l-1.65,1.7l-1.65,-1.7zM759.35,425.7l1.65,1.7l-1.65,1.7l-1.65,-1.7zM663.61,425.7l1.65,1.7l-1.65,1.7l-1.65,-1.7zM572.9,425.7l1.65,1.7l-1.65,1.7l-1.65,-1.7zM611.95,425.7l1.65,1.7l-1.65,1.7l-1.65,-1.7zM702.52,425.7l1.65,1.7l-1.65,1.7l-1.65,-1.7zM637.09,425.7l1.65,1.7l-1.65,1.7l-1.65,-1.7zM647.36,425.7l1.65,1.7l-1.65,1.7l-1.65,-1.7zM642.52,425.7l1.65,1.7l-1.65,1.7l-1.65,-1.7zM593.13,425.7l1.65,1.7l-1.65,1.7l-1.65,-1.7zM569.98,425.7l1.65,1.7l-1.65,1.7l-1.65,-1.7zM559.53,425.7l1.65,1.7l-1.65,1.7l-1.65,-1.7zM706.04,425.7l1.65,1.7l-1.65,1.7l-1.65,-1.7zM624.17,425.7l1.65,1.7l-1.65,1.7l-1.65,-1.7zM655.36,425.7l1.65,1.7l-1.65,1.7l-1.65,-1.7zM767.77,425.7l1.65,1.7l-1.65,1.7l-1.65,-1.7zM695.27,425.7l1.65,1.7l-1.65,1.7l-1.65,-1.7zM738.5,425.7l1.65,1.7l-1.65,1.7l-1.65,-1.7zM727.15,425.7l1.65,1.7l-1.65,1.7l-1.65,-1.7zM772.12,425.7l1.65,1.7l-1.65,1.7l-1.65,-1.7zM563.7,425.7l1.65,1.7l-1.65,1.7l-1.65,-1.7zM638.27,425.7l1.65,1.7l-1.65,1.7l-1.65,-1.7zM771.16,425.7l1.65,1.7l-1.65,1.7l-1.65,-1.7zM657.14,425.7l1.65,1.7l-1.65,1.7l-1.65,-1.7zM770.73,425.7l1.65,1.7l-1.65,1.7l-1.65,-1.7zM591.44,425.7l1.65,1.7l-1.65,1.7l-1.65,-1.7zM562.16,425.7l1.65,1.7l-1.65,1.7l-1.65,-1.7zM758.43,425.7l1.65,1.7l-1.65,1.7l-1.65,-1.7zM644.64,425.7l1.65,1.7l-1.65,1.7l-1.65,-1.7zM667.44,425.7l1.65,1.7l-1.65,1.7l-1.65,-1.7zM768.02,425.7l1.65,1.7l-1.65,1.7l-1.65,-1.7zM599.57,425.7l1.65,1.7l-1.65,1.7l-1.65,-1.7zM775.53,425.7l1.65,1.7l-1.65,1.7l-1.65,-1.7zM641.19,425.7l1.65,1.7l-1.65,1.7l-1.65,-1.7zM606.14,425.7l1.65,1.7l-1.65,1.7l-1.65,-1.7zM602.92,425.7l1.65,1.7l-1.65,1.7l-1.65,-1.7zM669.84,425.7l1.65,1.7l-1.65,1.7l-1.65,-1.7zM657.74,425.7l1.65,1.7l-1.65,1.7l-1.65,-1.7zM756.23,425.7l1.65,1.7l-1.65,1.7l-1.65,-1.7zM559.94,425.7l1.65,1.7l-1.65,1.7l-1.65,-1.7zM558.33,425.7l1.65,1.7l-1.65,1.7l-1.65,-1.7zM583.9,425.7l1.65,1.7l-1.65,1.7l-1.65,-1.7zM690.33,425.7l1.65,1.7l-1.65,1.7l-1.65,-1.7zM731.62,425.7l1.65,1.7l-1.65,1.7l-1.65,-1.7zM660.76,425.7l1.65,1.7l-1.65,1.7l-1.65,-1.7zM692.23,425.7l1.65,1.7l-1.65,1.7l-1.65,-1.7zM699,425.7l1.65,1.7l-1.65,1.7l-1.65,-1.7zM552.53,425.7l1.65,1.7l-1.65,1.7l-1.65,-1.7zM605.87,425.7l1.65,1.7l-1.65,1.7l-1.65,-1.7zM782.47,425.7l1.65,1.7l-1.65,1.7l-1.65,-1.7zM625.74,425.7l1.65,1.7l-1.65,1.7l-1.65,-1.7zM770.46,425.7l1.65,1.7l-1.65,1.7l-1.65,-1.7zM663.68,425.7l1.65,1.7l-1.65,1.7l-1.65,-1.7zM600.3,425.7l1.65,1.7l-1.65,1.7l-1.65,-1.7zM548.57,425.7l1.65,1.7l-1.65,1.7l-1.65,-1.7zM599.12,425.7l1.65,1.7l-1.65,1.7l-1.65,-1.7zM623.55,425.7l1.65,1.7l-1.65,1.7l-1.65,-1.7zM651.24,425.7l1.65,1.7l-1.65,1.7l-1.65,-1.7zM653.09,425.7l1.65,1.7l-1.65,1.7l-1.65,-1.7zM676.86,425.7l1.65,1.7l-1.65,1.7l-1.65,-1.7zM659.42,425.7l1.65,1.7l-1.65,1.7l-1.65,-1.7zM555.72,425.7l1.65,1.7l-1.65,1.7l-1.65,-1.7zM610.74,425.7l1.65,1.7l-1.65,1.7l-1.65,-1.7zM774.07,425.7l1.65,1.7l-1.65,1.7l-1.65,-1.7zM554.44,425.7l1.65,1.7l-1.65,1.7l-1.65,-1.7zM720.5,425.7l1.65,1.7l-1.65,1.7l-1.65,-1.7zM659.95,425.7l1.65,1.7l-1.65,1.7l-1.65,-1.7zM714.13,425.7l1.65,1.7l-1.65,1.7l-1.65,-1.7zM626.14,425.7l1.65,1.7l-1.65,1.7l-1.65,-1.7zM634.98,425.7l1.65,1.7l-1.65,1.7l-1.65,-1.7zM669.44,425.7l1.65,1.7l-1.65,1.7l-1.65,-1.7zM761.77,425.7l1.65,1.7l-1.65,1.7l-1.65,-1.7zM625.17,425.7l1.65,1.7l-1.65,1.7l-1.65,-1.7zM568.18,425.7l1.65,1.7l-1.65,1.7l-1.65,-1.7zM556.99,425.7l1.65,1.7l-1.65,1.7l-1.65,-1.7zM755.17,425.7l1.65,1.7l-1.65,1.7l-1.65,-1.7z" fill="#ffa500" fill-opacity="0.25"/>
<path d="M479.8,431.6L481.1,430.2H558.7L560,431.6L558.7,433H481.1Z" fill="#ffa500" fill-opacity="0.8"/>
<path d="M560,431.6L561.3,430.25H782.4L783.7,431.6L782.4,432.95H561.3Z" fill="#ffa500" fill-opacity="0.6"/>
<path d="M574.92,429.9l1.65,1.7l-1.65,1.7l-1.65,-1.7zM516.04,429.9l1.65,1.7l-1.65,1.7l-1.65,-1.7zM660.64,429.9l1.65,1.7l-1.65,1.7l-1.65,-1.7zM735.97,429.9l1.65,1.7l-1.65,1.7l-1.65,-1.7zM661.58,429.9l1.65,1.7l-1.65,1.7l-1.65,-1.7zM525.8,429.9l1.65,1.7l-1.65,1.7l-1.65,-1.7zM602.82,429.9l1.65,1.7l-1.65,1.7l-1.65,-1.7zM560.6,429.9l1.65,1.7l-1.65,1.7l-1.65,-1.7zM484.82,429.9l1.65,1.7l-1.65,1.7l-1.65,-1.7zM772.6,429.9l1.65,1.7l-1.65,1.7l-1.65,-1.7zM619.03,429.9l1.65,1.7l-1.65,1.7l-1.65,-1.7zM520.65,429.9l1.65,1.7l-1.65,1.7l-1.65,-1.7zM748.1,429.9l1.65,1.7l-1.65,1.7l-1.65,-1.7zM778.49,429.9l1.65,1.7l-1.65,1.7l-1.65,-1.7zM727.21,429.9l1.65,1.7l-1.65,1.7l-1.65,-1.7zM556.71,429.9l1.65,1.7l-1.65,1.7l-1.65,-1.7zM537.57,429.9l1.65,1.7l-1.65,1.7l-1.65,-1.7zM639.01,429.9l1.65,1.7l-1.65,1.7l-1.65,-1.7zM656.72,429.9l1.65,1.7l-1.65,1.7l-1.65,-1.7zM746.13,429.9l1.65,1.7l-1.65,1.7l-1.65,-1.7zM773.07,429.9l1.65,1.7l-1.65,1.7l-1.65,-1.7zM755.83,429.9l1.65,1.7l-1.65,1.7l-1.65,-1.7zM583.52,429.9l1.65,1.7l-1.65,1.7l-1.65,-1.7zM657.35,429.9l1.65,1.7l-1.65,1.7l-1.65,-1.7zM517.35,429.9l1.65,1.7l-1.65,1.7l-1.65,-1.7zM637.12,429.9l1.65,1.7l-1.65,1.7l-1.65,-1.7zM501.26,429.9l1.65,1.7l-1.65,1.7l-1.65,-1.7zM513.55,429.9l1.65,1.7l-1.65,1.7l-1.65,-1.7zM516.77,429.9l1.65,1.7l-1.65,1.7l-1.65,-1.7zM571.19,429.9l1.65,1.7l-1.65,1.7l-1.65,-1.7zM573.69,429.9l1.65,1.7l-1.65,1.7l-1.65,-1.7zM693.57,429.9l1.65,1.7l-1.65,1.7l-1.65,-1.7zM502.85,429.9l1.65,1.7l-1.65,1.7l-1.65,-1.7zM513.5,429.9l1.65,1.7l-1.65,1.7l-1.65,-1.7zM678.8,429.9l1.65,1.7l-1.65,1.7l-1.65,-1.7zM683.79,429.9l1.65,1.7l-1.65,1.7l-1.65,-1.7zM695.2,429.9l1.65,1.7l-1.65,1.7l-1.65,-1.7zM698.15,429.9l1.65,1.7l-1.65,1.7l-1.65,-1.7zM680.8,429.9l1.65,1.7l-1.65,1.7l-1.65,-1.7zM647.35,429.9l1.65,1.7l-1.65,1.7l-1.65,-1.7zM704.58,429.9l1.65,1.7l-1.65,1.7l-1.65,-1.7zM504.52,429.9l1.65,1.7l-1.65,1.7l-1.65,-1.7zM544.02,429.9l1.65,1.7l-1.65,1.7l-1.65,-1.7zM704.61,429.9l1.65,1.7l-1.65,1.7l-1.65,-1.7zM538.18,429.9l1.65,1.7l-1.65,1.7l-1.65,-1.7zM640.72,429.9l1.65,1.7l-1.65,1.7l-1.65,-1.7zM558.72,429.9l1.65,1.7l-1.65,1.7l-1.65,-1.7zM610.56,429.9l1.65,1.7l-1.65,1.7l-1.65,-1.7zM732.72,429.9l1.65,1.7l-1.65,1.7l-1.65,-1.7zM680.11,429.9l1.65,1.7l-1.65,1.7l-1.65,-1.7zM614.78,429.9l1.65,1.7l-1.65,1.7l-1.65,-1.7zM562.73,429.9l1.65,1.7l-1.65,1.7l-1.65,-1.7zM723.88,429.9l1.65,1.7l-1.65,1.7l-1.65,-1.7zM679.01,429.9l1.65,1.7l-1.65,1.7l-1.65,-1.7zM613.19,429.9l1.65,1.7l-1.65,1.7l-1.65,-1.7zM743.36,429.9l1.65,1.7l-1.65,1.7l-1.65,-1.7zM689.75,429.9l1.65,1.7l-1.65,1.7l-1.65,-1.7zM777.11,429.9l1.65,1.7l-1.65,1.7l-1.65,-1.7zM681.24,429.9l1.65,1.7l-1.65,1.7l-1.65,-1.7zM752.65,429.9l1.65,1.7l-1.65,1.7l-1.65,-1.7zM646.68,429.9l1.65,1.7l-1.65,1.7l-1.65,-1.7zM695.07,429.9l1.65,1.7l-1.65,1.7l-1.65,-1.7zM735.23,429.9l1.65,1.7l-1.65,1.7l-1.65,-1.7zM507.23,429.9l1.65,1.7l-1.65,1.7l-1.65,-1.7zM623.58,429.9l1.65,1.7l-1.65,1.7l-1.65,-1.7zM663.42,429.9l1.65,1.7l-1.65,1.7l-1.65,-1.7zM497.32,429.9l1.65,1.7l-1.65,1.7l-1.65,-1.7zM719.09,429.9l1.65,1.7l-1.65,1.7l-1.65,-1.7zM696.75,429.9l1.65,1.7l-1.65,1.7l-1.65,-1.7zM763.67,429.9l1.65,1.7l-1.65,1.7l-1.65,-1.7zM592.6,429.9l1.65,1.7l-1.65,1.7l-1.65,-1.7zM622.05,429.9l1.65,1.7l-1.65,1.7l-1.65,-1.7zM756.29,429.9l1.65,1.7l-1.65,1.7l-1.65,-1.7zM604.56,429.9l1.65,1.7l-1.65,1.7l-1.65,-1.7zM732.78,429.9l1.65,1.7l-1.65,1.7l-1.65,-1.7zM607.57,429.9l1.65,1.7l-1.65,1.7l-1.65,-1.7zM582.21,429.9l1.65,1.7l-1.65,1.7l-1.65,-1.7zM563.86,429.9l1.65,1.7l-1.65,1.7l-1.65,-1.7zM544.53,429.9l1.65,1.7l-1.65,1.7l-1.65,-1.7zM610.61,429.9l1.65,1.7l-1.65,1.7l-1.65,-1.7zM528.79,429.9l1.65,1.7l-1.65,1.7l-1.65,-1.7zM730.85,429.9l1.65,1.7l-1.65,1.7l-1.65,-1.7zM775.25,429.9l1.65,1.7l-1.65,1.7l-1.65,-1.7zM509.34,429.9l1.65,1.7l-1.65,1.7l-1.65,-1.7zM496.42,429.9l1.65,1.7l-1.65,1.7l-1.65,-1.7zM480.93,429.9l1.65,1.7l-1.65,1.7l-1.65,-1.7zM762.4,429.9l1.65,1.7l-1.65,1.7l-1.65,-1.7zM502.18,429.9l1.65,1.7l-1.65,1.7l-1.65,-1.7zM686.03,429.9l1.65,1.7l-1.65,1.7l-1.65,-1.7zM571.92,429.9l1.65,1.7l-1.65,1.7l-1.65,-1.7zM539.9,429.9l1.65,1.7l-1.65,1.7l-1.65,-1.7zM554.49,429.9l1.65,1.7l-1.65,1.7l-1.65,-1.7zM688.91,429.9l1.65,1.7l-1.65,1.7l-1.65,-1.7zM485.25,429.9l1.65,1.7l-1.65,1.7l-1.65,-1.7zM742.01,429.9l1.65,1.7l-1.65,1.7l-1.65,-1.7zM651.96,429.9l1.65,1.7l-1.65,1.7l-1.65,-1.7zM551.23,429.9l1.65,1.7l-1.65,1.7l-1.65,-1.7zM542.97,429.9l1.65,1.7l-1.65,1.7l-1.65,-1.7zM678.31,429.9l1.65,1.7l-1.65,1.7l-1.65,-1.7zM670.61,429.9l1.65,1.7l-1.65,1.7l-1.65,-1.7zM576.25,429.9l1.65,1.7l-1.65,1.7l-1.65,-1.7zM581.07,429.9l1.65,1.7l-1.65,1.7l-1.65,-1.7zM620.32,429.9l1.65,1.7l-1.65,1.7l-1.65,-1.7zM755.86,429.9l1.65,1.7l-1.65,1.7l-1.65,-1.7zM643.01,429.9l1.65,1.7l-1.65,1.7l-1.65,-1.7zM734.51,429.9l1.65,1.7l-1.65,1.7l-1.65,-1.7zM674.11,429.9l1.65,1.7l-1.65,1.7l-1.65,-1.7zM650.23,429.9l1.65,1.7l-1.65,1.7l-1.65,-1.7zM628.26,429.9l1.65,1.7l-1.65,1.7l-1.65,-1.7zM686.17,429.9l1.65,1.7l-1.65,1.7l-1.65,-1.7zM628.83,429.9l1.65,1.7l-1.65,1.7l-1.65,-1.7zM699.92,429.9l1.65,1.7l-1.65,1.7l-1.65,-1.7zM535,429.9l1.65,1.7l-1.65,1.7l-1.65,-1.7zM577.53,429.9l1.65,1.7l-1.65,1.7l-1.65,-1.7zM744.55,429.9l1.65,1.7l-1.65,1.7l-1.65,-1.7zM599.63,429.9l1.65,1.7l-1.65,1.7l-1.65,-1.7zM735.42,429.9l1.65,1.7l-1.65,1.7l-1.65,-1.7zM764.19,429.9l1.65,1.7l-1.65,1.7l-1.65,-1.7zM655.19,429.9l1.65,1.7l-1.65,1.7l-1.65,-1.7zM510.69,429.9l1.65,1.7l-1.65,1.7l-1.65,-1.7zM709.3,429.9l1.65,1.7l-1.65,1.7l-1.65,-1.7zM681.69,429.9l1.65,1.7l-1.65,1.7l-1.65,-1.7zM567.97,429.9l1.65,1.7l-1.65,1.7l-1.65,-1.7zM741.46,429.9l1.65,1.7l-1.65,1.7l-1.65,-1.7zM626.16,429.9l1.65,1.7l-1.65,1.7l-1.65,-1.7zM497.08,429.9l1.65,1.7l-1.65,1.7l-1.65,-1.7zM500.41,429.9l1.65,1.7l-1.65,1.7l-1.65,-1.7zM549.03,429.9l1.65,1.7l-1.65,1.7l-1.65,-1.7zM664.7,429.9l1.65,1.7l-1.65,1.7l-1.65,-1.7zM726.96,429.9l1.65,1.7l-1.65,1.7l-1.65,-1.7zM509.83,429.9l1.65,1.7l-1.65,1.7l-1.65,-1.7zM486.56,429.9l1.65,1.7l-1.65,1.7l-1.65,-1.7zM668.54,429.9l1.65,1.7l-1.65,1.7l-1.65,-1.7zM603.95,429.9l1.65,1.7l-1.65,1.7l-1.65,-1.7zM613.7,429.9l1.65,1.7l-1.65,1.7l-1.65,-1.7zM728.64,429.9l1.65,1.7l-1.65,1.7l-1.65,-1.7zM758.45,429.9l1.65,1.7l-1.65,1.7l-1.65,-1.7zM773.07,429.9l1.65,1.7l-1.65,1.7l-1.65,-1.7zM716.04,429.9l1.65,1.7l-1.65,1.7l-1.65,-1.7zM480.79,429.9l1.65,1.7l-1.65,1.7l-1.65,-1.7zM525.43,429.9l1.65,1.7l-1.65,1.7l-1.65,-1.7zM657.86,429.9l1.65,1.7l-1.65,1.7l-1.65,-1.7zM769.44,429.9l1.65,1.7l-1.65,1.7l-1.65,-1.7zM504.49,429.9l1.65,1.7l-1.65,1.7l-1.65,-1.7zM635.93,429.9l1.65,1.7l-1.65,1.7l-1.65,-1.7zM600.01,429.9l1.65,1.7l-1.65,1.7l-1.65,-1.7zM603.15,429.9l1.65,1.7l-1.65,1.7l-1.65,-1.7zM561.23,429.9l1.65,1.7l-1.65,1.7l-1.65,-1.7zM561.89,429.9l1.65,1.7l-1.65,1.7l-1.65,-1.7zM552.07,429.9l1.65,1.7l-1.65,1.7l-1.65,-1.7z" fill="#ffa500" fill-opacity="0.25"/><path d="M511.08,429.9l1.65,1.7l-1.65,1.7l-1.65,-1.7zM647.79,429.9l1.65,1.7l-1.65,1.7l-1.65,-1.7zM615.01,429.9l1.65,1.7l-1.65,1.7l-1.65,-1.7zM695.96,429.9l1.65,1.7l-1.65,1.7l-1.65,-1.7zM673.83,429.9l1.65,1.7l-1.65,1.7l-1.65,-1.7zM768.69,429.9l1.65,1.7l-1.65,1.7l-1.65,-1.7zM582.77,429.9l1.65,1.7l-1.65,1.7l-1.65,-1.7zM747.37,429.9l1.65,1.7l-1.65,1.7l-1.65,-1.7zM596.46,429.9l1.65,1.7l-1.65,1.7l-1.65,-1.7zM680.12,429.9l1.65,1.7l-1.65,1.7l-1.65,-1.7zM723.87,429.9l1.65,1.7l-1.65,1.7l-1.65,-1.7zM600.1,429.9l1.65,1.7l-1.65,1.7l-1.65,-1.7zM615.08,429.9l1.65,1.7l-1.65,1.7l-1.65,-1.7zM671.2,429.9l1.65,1.7l-1.65,1.7l-1.65,-1.7zM513.39,429.9l1.65,1.7l-1.65,1.7l-1.65,-1.7zM641.03,429.9l1.65,1.7l-1.65,1.7l-1.65,-1.7zM508.59,429.9l1.65,1.7l-1.65,1.7l-1.65,-1.7zM547.98,429.9l1.65,1.7l-1.65,1.7l-1.65,-1.7zM668.71,429.9l1.65,1.7l-1.65,1.7l-1.65,-1.7zM774.56,429.9l1.65,1.7l-1.65,1.7l-1.65,-1.7zM782.81,429.9l1.65,1.7l-1.65,1.7l-1.65,-1.7zM558.84,429.9l1.65,1.7l-1.65,1.7l-1.65,-1.7zM524.16,429.9l1.65,1.7l-1.65,1.7l-1.65,-1.7zM637.04,429.9l1.65,1.7l-1.65,1.7l-1.65,-1.7zM613.62,429.9l1.65,1.7l-1.65,1.7l-1.65,-1.7zM594.84,429.9l1.65,1.7l-1.65,1.7l-1.65,-1.7zM712.8,429.9l1.65,1.7l-1.65,1.7l-1.65,-1.7zM694.98,429.9l1.65,1.7l-1.65,1.7l-1.65,-1.7zM650.15,429.9l1.65,1.7l-1.65,1.7l-1.65,-1.7zM668.23,429.9l1.65,1.7l-1.65,1.7l-1.65,-1.7zM656.22,429.9l1.65,1.7l-1.65,1.7l-1.65,-1.7zM685.03,429.9l1.65,1.7l-1.65,1.7l-1.65,-1.7zM761.11,429.9l1.65,1.7l-1.65,1.7l-1.65,-1.7zM766.83,429.9l1.65,1.7l-1.65,1.7l-1.65,-1.7zM776.78,429.9l1.65,1.7l-1.65,1.7l-1.65,-1.7zM740.47,429.9l1.65,1.7l-1.65,1.7l-1.65,-1.7zM511.56,429.9l1.65,1.7l-1.65,1.7l-1.65,-1.7zM616.75,429.9l1.65,1.7l-1.65,1.7l-1.65,-1.7zM716.78,429.9l1.65,1.7l-1.65,1.7l-1.65,-1.7zM569.04,429.9l1.65,1.7l-1.65,1.7l-1.65,-1.7zM663.76,429.9l1.65,1.7l-1.65,1.7l-1.65,-1.7zM496.55,429.9l1.65,1.7l-1.65,1.7l-1.65,-1.7zM541.54,429.9l1.65,1.7l-1.65,1.7l-1.65,-1.7zM601.15,429.9l1.65,1.7l-1.65,1.7l-1.65,-1.7zM501.08,429.9l1.65,1.7l-1.65,1.7l-1.65,-1.7zM608.46,429.9l1.65,1.7l-1.65,1.7l-1.65,-1.7zM549.57,429.9l1.65,1.7l-1.65,1.7l-1.65,-1.7zM741.09,429.9l1.65,1.7l-1.65,1.7l-1.65,-1.7zM576.46,429.9l1.65,1.7l-1.65,1.7l-1.65,-1.7zM595.24,429.9l1.65,1.7l-1.65,1.7l-1.65,-1.7zM722.98,429.9l1.65,1.7l-1.65,1.7l-1.65,-1.7zM649.49,429.9l1.65,1.7l-1.65,1.7l-1.65,-1.7zM494.99,429.9l1.65,1.7l-1.65,1.7l-1.65,-1.7zM545.77,429.9l1.65,1.7l-1.65,1.7l-1.65,-1.7zM665.02,429.9l1.65,1.7l-1.65,1.7l-1.65,-1.7zM540.25,429.9l1.65,1.7l-1.65,1.7l-1.65,-1.7zM555.09,429.9l1.65,1.7l-1.65,1.7l-1.65,-1.7zM668.67,429.9l1.65,1.7l-1.65,1.7l-1.65,-1.7zM629.76,429.9l1.65,1.7l-1.65,1.7l-1.65,-1.7zM561.39,429.9l1.65,1.7l-1.65,1.7l-1.65,-1.7zM649.35,429.9l1.65,1.7l-1.65,1.7l-1.65,-1.7zM671.95,429.9l1.65,1.7l-1.65,1.7l-1.65,-1.7zM491.74,429.9l1.65,1.7l-1.65,1.7l-1.65,-1.7zM562.83,429.9l1.65,1.7l-1.65,1.7l-1.65,-1.7zM573.1,429.9l1.65,1.7l-1.65,1.7l-1.65,-1.7zM746.23,429.9l1.65,1.7l-1.65,1.7l-1.65,-1.7zM495.36,429.9l1.65,1.7l-1.65,1.7l-1.65,-1.7zM585.05,429.9l1.65,1.7l-1.65,1.7l-1.65,-1.7zM538.79,429.9l1.65,1.7l-1.65,1.7l-1.65,-1.7zM690.57,429.9l1.65,1.7l-1.65,1.7l-1.65,-1.7zM725.77,429.9l1.65,1.7l-1.65,1.7l-1.65,-1.7zM497.21,429.9l1.65,1.7l-1.65,1.7l-1.65,-1.7zM741.55,429.9l1.65,1.7l-1.65,1.7l-1.65,-1.7zM690.82,429.9l1.65,1.7l-1.65,1.7l-1.65,-1.7zM545.59,429.9l1.65,1.7l-1.65,1.7l-1.65,-1.7zM757.48,429.9l1.65,1.7l-1.65,1.7l-1.65,-1.7zM568.65,429.9l1.65,1.7l-1.65,1.7l-1.65,-1.7zM718.86,429.9l1.65,1.7l-1.65,1.7l-1.65,-1.7zM502.53,429.9l1.65,1.7l-1.65,1.7l-1.65,-1.7zM618.07,429.9l1.65,1.7l-1.65,1.7l-1.65,-1.7zM633.14,429.9l1.65,1.7l-1.65,1.7l-1.65,-1.7zM751.64,429.9l1.65,1.7l-1.65,1.7l-1.65,-1.7zM733.43,429.9l1.65,1.7l-1.65,1.7l-1.65,-1.7zM645.46,429.9l1.65,1.7l-1.65,1.7l-1.65,-1.7zM495.43,429.9l1.65,1.7l-1.65,1.7l-1.65,-1.7zM610.17,429.9l1.65,1.7l-1.65,1.7l-1.65,-1.7zM593.59,429.9l1.65,1.7l-1.65,1.7l-1.65,-1.7zM781.63,429.9l1.65,1.7l-1.65,1.7l-1.65,-1.7zM686.19,429.9l1.65,1.7l-1.65,1.7l-1.65,-1.7zM602.61,429.9l1.65,1.7l-1.65,1.7l-1.65,-1.7zM590.41,429.9l1.65,1.7l-1.65,1.7l-1.65,-1.7zM712.53,429.9l1.65,1.7l-1.65,1.7l-1.65,-1.7zM508.84,429.9l1.65,1.7l-1.65,1.7l-1.65,-1.7zM727.52,429.9l1.65,1.7l-1.65,1.7l-1.65,-1.7zM683.22,429.9l1.65,1.7l-1.65,1.7l-1.65,-1.7zM611.78,429.9l1.65,1.7l-1.65,1.7l-1.65,-1.7zM695.17,429.9l1.65,1.7l-1.65,1.7l-1.65,-1.7zM600.42,429.9l1.65,1.7l-1.65,1.7l-1.65,-1.7zM523.21,429.9l1.65,1.7l-1.65,1.7l-1.65,-1.7zM606.22,429.9l1.65,1.7l-1.65,1.7l-1.65,-1.7zM495.37,429.9l1.65,1.7l-1.65,1.7l-1.65,-1.7zM506.21,429.9l1.65,1.7l-1.65,1.7l-1.65,-1.7zM612.91,429.9l1.65,1.7l-1.65,1.7l-1.65,-1.7zM729.96,429.9l1.65,1.7l-1.65,1.7l-1.65,-1.7zM541.55,429.9l1.65,1.7l-1.65,1.7l-1.65,-1.7zM631.65,429.9l1.65,1.7l-1.65,1.7l-1.65,-1.7zM776.62,429.9l1.65,1.7l-1.65,1.7l-1.65,-1.7zM730.68,429.9l1.65,1.7l-1.65,1.7l-1.65,-1.7zM753.26,429.9l1.65,1.7l-1.65,1.7l-1.65,-1.7zM684.45,429.9l1.65,1.7l-1.65,1.7l-1.65,-1.7zM658.41,429.9l1.65,1.7l-1.65,1.7l-1.65,-1.7zM656.22,429.9l1.65,1.7l-1.65,1.7l-1.65,-1.7zM662.09,429.9l1.65,1.7l-1.65,1.7l-1.65,-1.7zM620.78,429.9l1.65,1.7l-1.65,1.7l-1.65,-1.7zM589.14,429.9l1.65,1.7l-1.65,1.7l-1.65,-1.7zM552.17,429.9l1.65,1.7l-1.65,1.7l-1.65,-1.7zM499.6,429.9l1.65,1.7l-1.65,1.7l-1.65,-1.7zM591.72,429.9l1.65,1.7l-1.65,1.7l-1.65,-1.7zM713.23,429.9l1.65,1.7l-1.65,1.7l-1.65,-1.7zM647.37,429.9l1.65,1.7l-1.65,1.7l-1.65,-1.7zM529.52,429.9l1.65,1.7l-1.65,1.7l-1.65,-1.7zM726.67,429.9l1.65,1.7l-1.65,1.7l-1.65,-1.7zM492.37,429.9l1.65,1.7l-1.65,1.7l-1.65,-1.7zM762.12,429.9l1.65,1.7l-1.65,1.7l-1.65,-1.7zM677.43,429.9l1.65,1.7l-1.65,1.7l-1.65,-1.7zM648.41,429.9l1.65,1.7l-1.65,1.7l-1.65,-1.7zM604.9,429.9l1.65,1.7l-1.65,1.7l-1.65,-1.7zM729.95,429.9l1.65,1.7l-1.65,1.7l-1.65,-1.7zM481.86,429.9l1.65,1.7l-1.65,1.7l-1.65,-1.7zM484.62,429.9l1.65,1.7l-1.65,1.7l-1.65,-1.7zM637.56,429.9l1.65,1.7l-1.65,1.7l-1.65,-1.7zM569.87,429.9l1.65,1.7l-1.65,1.7l-1.65,-1.7zM601.55,429.9l1.65,1.7l-1.65,1.7l-1.65,-1.7zM642.5,429.9l1.65,1.7l-1.65,1.7l-1.65,-1.7zM493.07,429.9l1.65,1.7l-1.65,1.7l-1.65,-1.7zM777.86,429.9l1.65,1.7l-1.65,1.7l-1.65,-1.7zM685.26,429.9l1.65,1.7l-1.65,1.7l-1.65,-1.7zM509.78,429.9l1.65,1.7l-1.65,1.7l-1.65,-1.7zM703.75,429.9l1.65,1.7l-1.65,1.7l-1.65,-1.7zM641.38,429.9l1.65,1.7l-1.65,1.7l-1.65,-1.7zM688.08,429.9l1.65,1.7l-1.65,1.7l-1.65,-1.7zM703.47,429.9l1.65,1.7l-1.65,1.7l-1.65,-1.7zM780.38,429.9l1.65,1.7l-1.65,1.7l-1.65,-1.7zM515.7,429.9l1.65,1.7l-1.65,1.7l-1.65,-1.7zM781.85,429.9l1.65,1.7l-1.65,1.7l-1.65,-1.7zM624.38,429.9l1.65,1.7l-1.65,1.7l-1.65,-1.7zM540.73,429.9l1.65,1.7l-1.65,1.7l-1.65,-1.7zM593.08,429.9l1.65,1.7l-1.65,1.7l-1.65,-1.7zM590.26,429.9l1.65,1.7l-1.65,1.7l-1.65,-1.7zM751.27,429.9l1.65,1.7l-1.65,1.7l-1.65,-1.7z" fill="#ffa500" fill-opacity="0.25"/>
<path d="M640.14,434.7l1.65,1.7l-1.65,1.7l-1.65,-1.7zM505.61,434.7l1.65,1.7l-1.65,1.7l-1.65,-1.7zM696.17,434.7l1.65,1.7l-1.65,1.7l-1.65,-1.7zM632.35,434.7l1.65,1.7l-1.65,1.7l-1.65,-1.7zM725.49,434.7l1.65,1.7l-1.65,1.7l-1.65,-1.7zM499.66,434.7l1.65,1.7l-1.65,1.7l-1.65,-1.7zM740.31,434.7l1.65,1.7l-1.65,1.7l-1.65,-1.7zM748.5,434.7l1.65,1.7l-1.65,1.7l-1.65,-1.7zM488.42,434.7l1.65,1.7l-1.65,1.7l-1.65,-1.7zM626.21,434.7l1.65,1.7l-1.65,1.7l-1.65,-1.7zM521.74,434.7l1.65,1.7l-1.65,1.7l-1.65,-1.7zM641.65,434.7l1.65,1.7l-1.65,1.7l-1.65,-1.7zM512.22,434.7l1.65,1.7l-1.65,1.7l-1.65,-1.7zM746.79,434.7l1.65,1.7l-1.65,1.7l-1.65,-1.7zM539.99,434.7l1.65,1.7l-1.65,1.7l-1.65,-1.7zM682.45,434.7l1.65,1.7l-1.65,1.7l-1.65,-1.7zM678.15,434.7l1.65,1.7l-1.65,1.7l-1.65,-1.7zM580.32,434.7l1.65,1.7l-1.65,1.7l-1.65,-1.7zM549.05,434.7l1.65,1.7l-1.65,1.7l-1.65,-1.7zM755.08,434.7l1.65,1.7l-1.65,1.7l-1.65,-1.7zM497.7,434.7l1.65,1.7l-1.65,1.7l-1.65,-1.7zM560.71,434.7l1.65,1.7l-1.65,1.7l-1.65,-1.7zM582.05,434.7l1.65,1.7l-1.65,1.7l-1.65,-1.7zM657.75,434.7l1.65,1.7l-1.65,1.7l-1.65,-1.7zM594.54,434.7l1.65,1.7l-1.65,1.7l-1.65,-1.7zM518.74,434.7l1.65,1.7l-1.65,1.7l-1.65,-1.7zM653.68,434.7l1.65,1.7l-1.65,1.7l-1.65,-1.7zM698.88,434.7l1.65,1.7l-1.65,1.7l-1.65,-1.7zM693.21,434.7l1.65,1.7l-1.65,1.7l-1.65,-1.7zM629.94,434.7l1.65,1.7l-1.65,1.7l-1.65,-1.7zM576.22,434.7l1.65,1.7l-1.65,1.7l-1.65,-1.7zM489.02,434.7l1.65,1.7l-1.65,1.7l-1.65,-1.7zM642.64,434.7l1.65,1.7l-1.65,1.7l-1.65,-1.7zM670.79,434.7l1.65,1.7l-1.65,1.7l-1.65,-1.7zM615.73,434.7l1.65,1.7l-1.65,1.7l-1.65,-1.7zM768.01,434.7l1.65,1.7l-1.65,1.7l-1.65,-1.7zM545.46,434.7l1.65,1.7l-1.65,1.7l-1.65,-1.7zM725.35,434.7l1.65,1.7l-1.65,1.7l-1.65,-1.7zM697.32,434.7l1.65,1.7l-1.65,1.7l-1.65,-1.7zM750.4,434.7l1.65,1.7l-1.65,1.7l-1.65,-1.7zM757.82,434.7l1.65,1.7l-1.65,1.7l-1.65,-1.7zM555.6,434.7l1.65,1.7l-1.65,1.7l-1.65,-1.7zM757.01,434.7l1.65,1.7l-1.65,1.7l-1.65,-1.7zM604.55,434.7l1.65,1.7l-1.65,1.7l-1.65,-1.7zM685.65,434.7l1.65,1.7l-1.65,1.7l-1.65,-1.7zM766.15,434.7l1.65,1.7l-1.65,1.7l-1.65,-1.7zM661.04,434.7l1.65,1.7l-1.65,1.7l-1.65,-1.7zM657.38,434.7l1.65,1.7l-1.65,1.7l-1.65,-1.7zM506.83,434.7l1.65,1.7l-1.65,1.7l-1.65,-1.7zM661.42,434.7l1.65,1.7l-1.65,1.7l-1.65,-1.7zM556.89,434.7l1.65,1.7l-1.65,1.7l-1.65,-1.7zM600.15,434.7l1.65,1.7l-1.65,1.7l-1.65,-1.7zM597.09,434.7l1.65,1.7l-1.65,1.7l-1.65,-1.7zM772.17,434.7l1.65,1.7l-1.65,1.7l-1.65,-1.7zM673.51,434.7l1.65,1.7l-1.65,1.7l-1.65,-1.7zM699.14,434.7l1.65,1.7l-1.65,1.7l-1.65,-1.7zM536.79,434.7l1.65,1.7l-1.65,1.7l-1.65,-1.7zM575.46,434.7l1.65,1.7l-1.65,1.7l-1.65,-1.7zM743.97,434.7l1.65,1.7l-1.65,1.7l-1.65,-1.7zM521.35,434.7l1.65,1.7l-1.65,1.7l-1.65,-1.7zM766.22,434.7l1.65,1.7l-1.65,1.7l-1.65,-1.7zM611.66,434.7l1.65,1.7l-1.65,1.7l-1.65,-1.7zM600.64,434.7l1.65,1.7l-1.65,1.7l-1.65,-1.7zM637.3,434.7l1.65,1.7l-1.65,1.7l-1.65,-1.7zM616.32,434.7l1.65,1.7l-1.65,1.7l-1.65,-1.7zM624.34,434.7l1.65,1.7l-1.65,1.7l-1.65,-1.7zM610.65,434.7l1.65,1.7l-1.65,1.7l-1.65,-1.7zM692.32,434.7l1.65,1.7l-1.65,1.7l-1.65,-1.7zM567.23,434.7l1.65,1.7l-1.65,1.7l-1.65,-1.7zM534.95,434.7l1.65,1.7l-1.65,1.7l-1.65,-1.7zM613.75,434.7l1.65,1.7l-1.65,1.7l-1.65,-1.7zM511.96,434.7l1.65,1.7l-1.65,1.7l-1.65,-1.7zM617.53,434.7l1.65,1.7l-1.65,1.7l-1.65,-1.7zM631.34,434.7l1.65,1.7l-1.65,1.7l-1.65,-1.7zM716.6,434.7l1.65,1.7l-1.65,1.7l-1.65,-1.7zM518.06,434.7l1.65,1.7l-1.65,1.7l-1.65,-1.7zM602.68,434.7l1.65,1.7l-1.65,1.7l-1.65,-1.7zM715.48,434.7l1.65,1.7l-1.65,1.7l-1.65,-1.7zM585.45,434.7l1.65,1.7l-1.65,1.7l-1.65,-1.7zM731.85,434.7l1.65,1.7l-1.65,1.7l-1.65,-1.7zM697.21,434.7l1.65,1.7l-1.65,1.7l-1.65,-1.7zM498.27,434.7l1.65,1.7l-1.65,1.7l-1.65,-1.7zM599.27,434.7l1.65,1.7l-1.65,1.7l-1.65,-1.7zM711.31,434.7l1.65,1.7l-1.65,1.7l-1.65,-1.7zM640.8,434.7l1.65,1.7l-1.65,1.7l-1.65,-1.7zM683.83,434.7l1.65,1.7l-1.65,1.7l-1.65,-1.7zM777.07,434.7l1.65,1.7l-1.65,1.7l-1.65,-1.7zM684.52,434.7l1.65,1.7l-1.65,1.7l-1.65,-1.7zM646.54,434.7l1.65,1.7l-1.65,1.7l-1.65,-1.7zM734.76,434.7l1.65,1.7l-1.65,1.7l-1.65,-1.7zM612.48,434.7l1.65,1.7l-1.65,1.7l-1.65,-1.7zM489.06,434.7l1.65,1.7l-1.65,1.7l-1.65,-1.7zM566.11,434.7l1.65,1.7l-1.65,1.7l-1.65,-1.7zM660.85,434.7l1.65,1.7l-1.65,1.7l-1.65,-1.7zM764.78,434.7l1.65,1.7l-1.65,1.7l-1.65,-1.7zM664.5,434.7l1.65,1.7l-1.65,1.7l-1.65,-1.7zM569.41,434.7l1.65,1.7l-1.65,1.7l-1.65,-1.7zM778,434.7l1.65,1.7l-1.65,1.7l-1.65,-1.7zM603.65,434.7l1.65,1.7l-1.65,1.7l-1.65,-1.7zM552.97,434.7l1.65,1.7l-1.65,1.7l-1.65,-1.7z" fill="#ffa500" fill-opacity="0.15"/><path d="M648.56,434.7l1.65,1.7l-1.65,1.7l-1.65,-1.7zM587.15,434.7l1.65,1.7l-1.65,1.7l-1.65,-1.7zM518.8,434.7l1.65,1.7l-1.65,1.7l-1.65,-1.7zM695.56,434.7l1.65,1.7l-1.65,1.7l-1.65,-1.7zM689.29,434.7l1.65,1.7l-1.65,1.7l-1.65,-1.7zM771.82,434.7l1.65,1.7l-1.65,1.7l-1.65,-1.7zM526.23,434.7l1.65,1.7l-1.65,1.7l-1.65,-1.7zM753.7,434.7l1.65,1.7l-1.65,1.7l-1.65,-1.7zM720.37,434.7l1.65,1.7l-1.65,1.7l-1.65,-1.7zM560.41,434.7l1.65,1.7l-1.65,1.7l-1.65,-1.7zM626.91,434.7l1.65,1.7l-1.65,1.7l-1.65,-1.7zM671.26,434.7l1.65,1.7l-1.65,1.7l-1.65,-1.7zM578.59,434.7l1.65,1.7l-1.65,1.7l-1.65,-1.7zM517.62,434.7l1.65,1.7l-1.65,1.7l-1.65,-1.7zM732.1,434.7l1.65,1.7l-1.65,1.7l-1.65,-1.7zM534.42,434.7l1.65,1.7l-1.65,1.7l-1.65,-1.7zM630.27,434.7l1.65,1.7l-1.65,1.7l-1.65,-1.7zM614.68,434.7l1.65,1.7l-1.65,1.7l-1.65,-1.7zM751.49,434.7l1.65,1.7l-1.65,1.7l-1.65,-1.7zM650.33,434.7l1.65,1.7l-1.65,1.7l-1.65,-1.7zM610.77,434.7l1.65,1.7l-1.65,1.7l-1.65,-1.7zM773.18,434.7l1.65,1.7l-1.65,1.7l-1.65,-1.7zM589.65,434.7l1.65,1.7l-1.65,1.7l-1.65,-1.7zM699.59,434.7l1.65,1.7l-1.65,1.7l-1.65,-1.7zM554.78,434.7l1.65,1.7l-1.65,1.7l-1.65,-1.7zM708.62,434.7l1.65,1.7l-1.65,1.7l-1.65,-1.7zM706.87,434.7l1.65,1.7l-1.65,1.7l-1.65,-1.7zM729.48,434.7l1.65,1.7l-1.65,1.7l-1.65,-1.7zM628.51,434.7l1.65,1.7l-1.65,1.7l-1.65,-1.7zM551.31,434.7l1.65,1.7l-1.65,1.7l-1.65,-1.7zM671.8,434.7l1.65,1.7l-1.65,1.7l-1.65,-1.7zM753.61,434.7l1.65,1.7l-1.65,1.7l-1.65,-1.7zM577.09,434.7l1.65,1.7l-1.65,1.7l-1.65,-1.7zM491.93,434.7l1.65,1.7l-1.65,1.7l-1.65,-1.7zM540.39,434.7l1.65,1.7l-1.65,1.7l-1.65,-1.7zM760.28,434.7l1.65,1.7l-1.65,1.7l-1.65,-1.7zM487.78,434.7l1.65,1.7l-1.65,1.7l-1.65,-1.7zM501.84,434.7l1.65,1.7l-1.65,1.7l-1.65,-1.7zM514.91,434.7l1.65,1.7l-1.65,1.7l-1.65,-1.7zM748.2,434.7l1.65,1.7l-1.65,1.7l-1.65,-1.7zM598.7,434.7l1.65,1.7l-1.65,1.7l-1.65,-1.7zM689.33,434.7l1.65,1.7l-1.65,1.7l-1.65,-1.7zM693.53,434.7l1.65,1.7l-1.65,1.7l-1.65,-1.7zM613.6,434.7l1.65,1.7l-1.65,1.7l-1.65,-1.7zM701.32,434.7l1.65,1.7l-1.65,1.7l-1.65,-1.7zM621.6,434.7l1.65,1.7l-1.65,1.7l-1.65,-1.7zM645.3,434.7l1.65,1.7l-1.65,1.7l-1.65,-1.7zM576.2,434.7l1.65,1.7l-1.65,1.7l-1.65,-1.7zM486.57,434.7l1.65,1.7l-1.65,1.7l-1.65,-1.7zM660.43,434.7l1.65,1.7l-1.65,1.7l-1.65,-1.7zM564.1,434.7l1.65,1.7l-1.65,1.7l-1.65,-1.7zM566.9,434.7l1.65,1.7l-1.65,1.7l-1.65,-1.7zM744.37,434.7l1.65,1.7l-1.65,1.7l-1.65,-1.7zM592.38,434.7l1.65,1.7l-1.65,1.7l-1.65,-1.7zM516.09,434.7l1.65,1.7l-1.65,1.7l-1.65,-1.7zM671.33,434.7l1.65,1.7l-1.65,1.7l-1.65,-1.7zM644.3,434.7l1.65,1.7l-1.65,1.7l-1.65,-1.7zM502.93,434.7l1.65,1.7l-1.65,1.7l-1.65,-1.7zM588.58,434.7l1.65,1.7l-1.65,1.7l-1.65,-1.7zM665.7,434.7l1.65,1.7l-1.65,1.7l-1.65,-1.7zM568.24,434.7l1.65,1.7l-1.65,1.7l-1.65,-1.7zM775.93,434.7l1.65,1.7l-1.65,1.7l-1.65,-1.7zM720.9,434.7l1.65,1.7l-1.65,1.7l-1.65,-1.7zM634.24,434.7l1.65,1.7l-1.65,1.7l-1.65,-1.7zM755.17,434.7l1.65,1.7l-1.65,1.7l-1.65,-1.7zM496.21,434.7l1.65,1.7l-1.65,1.7l-1.65,-1.7zM552.01,434.7l1.65,1.7l-1.65,1.7l-1.65,-1.7zM754.96,434.7l1.65,1.7l-1.65,1.7l-1.65,-1.7zM635.56,434.7l1.65,1.7l-1.65,1.7l-1.65,-1.7zM536.04,434.7l1.65,1.7l-1.65,1.7l-1.65,-1.7zM653.61,434.7l1.65,1.7l-1.65,1.7l-1.65,-1.7zM700.69,434.7l1.65,1.7l-1.65,1.7l-1.65,-1.7zM663.4,434.7l1.65,1.7l-1.65,1.7l-1.65,-1.7zM499.49,434.7l1.65,1.7l-1.65,1.7l-1.65,-1.7zM496.8,434.7l1.65,1.7l-1.65,1.7l-1.65,-1.7zM605.68,434.7l1.65,1.7l-1.65,1.7l-1.65,-1.7zM490.78,434.7l1.65,1.7l-1.65,1.7l-1.65,-1.7zM510.72,434.7l1.65,1.7l-1.65,1.7l-1.65,-1.7zM674.91,434.7l1.65,1.7l-1.65,1.7l-1.65,-1.7zM614.9,434.7l1.65,1.7l-1.65,1.7l-1.65,-1.7zM511.14,434.7l1.65,1.7l-1.65,1.7l-1.65,-1.7zM743.68,434.7l1.65,1.7l-1.65,1.7l-1.65,-1.7zM594.34,434.7l1.65,1.7l-1.65,1.7l-1.65,-1.7zM745.65,434.7l1.65,1.7l-1.65,1.7l-1.65,-1.7zM665.12,434.7l1.65,1.7l-1.65,1.7l-1.65,-1.7zM668.56,434.7l1.65,1.7l-1.65,1.7l-1.65,-1.7zM610.66,434.7l1.65,1.7l-1.65,1.7l-1.65,-1.7zM683.57,434.7l1.65,1.7l-1.65,1.7l-1.65,-1.7zM557.6,434.7l1.65,1.7l-1.65,1.7l-1.65,-1.7zM561.68,434.7l1.65,1.7l-1.65,1.7l-1.65,-1.7zM743.22,434.7l1.65,1.7l-1.65,1.7l-1.65,-1.7zM545.9,434.7l1.65,1.7l-1.65,1.7l-1.65,-1.7zM599.5,434.7l1.65,1.7l-1.65,1.7l-1.65,-1.7zM704.95,434.7l1.65,1.7l-1.65,1.7l-1.65,-1.7zM583.02,434.7l1.65,1.7l-1.65,1.7l-1.65,-1.7zM593.6,434.7l1.65,1.7l-1.65,1.7l-1.65,-1.7zM753.3,434.7l1.65,1.7l-1.65,1.7l-1.65,-1.7zM546.7,434.7l1.65,1.7l-1.65,1.7l-1.65,-1.7zM556.91,434.7l1.65,1.7l-1.65,1.7l-1.65,-1.7zM746.7,434.7l1.65,1.7l-1.65,1.7l-1.65,-1.7z" fill="#ffa500" fill-opacity="0.15"/>
<rect x="478.9" y="434.85" width="6.9" height="3.1" fill="#ffa500"/>
<rect x="545.9" y="434.9" width="5.2" height="3" fill="#ffa500"/>
<rect x="625.9" y="434.9" width="5.2" height="3" fill="#ffa500"/>
<rect x="705.2" y="434.9" width="5.2" height="3" fill="#ffa500"/>
<rect x="781" y="434.9" width="7.2" height="3" fill="#ffa500"/>
<rect x="547.8" y="380.5" width="1" height="53" fill="#fff" fill-opacity="0.3"/>
<rect x="628.1" y="380.5" width="1" height="53" fill="#fff" fill-opacity="0.3"/>
<rect x="707.4" y="380.5" width="1" height="53" fill="#fff" fill-opacity="0.3"/>
<path d="M479.6,440.3L480.8,438.85H484.7L485.9,440.3L484.7,441.75H480.8Z" fill="#ffa500"/>
<path d="M479.85,445.3L481.05,443.85H484.15L485.35,445.3L484.15,446.75H481.05Z" fill="#ffa500"/>
<path d="M480.1,449.5L481.3,448.05H483.6L484.8,449.5L483.6,450.95H481.3Z" fill="#ffa500"/>
<path d="M480.35,454.3L481.55,452.85H483.05L484.25,454.3L483.05,455.75H481.55Z" fill="#ffa500"/>
<path d="M480.6,458.6L481.8,457.3H482.5L483.7,458.6L482.5,459.9H481.8Z" fill="#ffa500" fill-opacity="0.75"/>
<path d="M567.74,438.6l1.65,1.7l-1.65,1.7l-1.65,-1.7zM584.19,438.6l1.65,1.7l-1.65,1.7l-1.65,-1.7zM747.95,438.6l1.65,1.7l-1.65,1.7l-1.65,-1.7zM581.38,438.6l1.65,1.7l-1.65,1.7l-1.65,-1.7zM782.1,438.6l1.65,1.7l-1.65,1.7l-1.65,-1.7zM729.92,438.6l1.65,1.7l-1.65,1.7l-1.65,-1.7zM737.46,438.6l1.65,1.7l-1.65,1.7l-1.65,-1.7zM553.03,438.6l1.65,1.7l-1.65,1.7l-1.65,-1.7zM550.47,438.6l1.65,1.7l-1.65,1.7l-1.65,-1.7zM709.52,438.6l1.65,1.7l-1.65,1.7l-1.65,-1.7zM731.54,438.6l1.65,1.7l-1.65,1.7l-1.65,-1.7zM552.69,438.6l1.65,1.7l-1.65,1.7l-1.65,-1.7zM547.18,438.6l1.65,1.7l-1.65,1.7l-1.65,-1.7zM558.34,438.6l1.65,1.7l-1.65,1.7l-1.65,-1.7zM526.87,438.6l1.65,1.7l-1.65,1.7l-1.65,-1.7zM611.1,438.6l1.65,1.7l-1.65,1.7l-1.65,-1.7zM635.37,438.6l1.65,1.7l-1.65,1.7l-1.65,-1.7zM672.57,438.6l1.65,1.7l-1.65,1.7l-1.65,-1.7zM502.44,438.6l1.65,1.7l-1.65,1.7l-1.65,-1.7zM543.08,438.6l1.65,1.7l-1.65,1.7l-1.65,-1.7zM520.77,438.6l1.65,1.7l-1.65,1.7l-1.65,-1.7zM566.19,438.6l1.65,1.7l-1.65,1.7l-1.65,-1.7zM541.18,438.6l1.65,1.7l-1.65,1.7l-1.65,-1.7zM764.07,438.6l1.65,1.7l-1.65,1.7l-1.65,-1.7zM596.88,438.6l1.65,1.7l-1.65,1.7l-1.65,-1.7zM527.25,438.6l1.65,1.7l-1.65,1.7l-1.65,-1.7zM683.93,438.6l1.65,1.7l-1.65,1.7l-1.65,-1.7zM774.95,438.6l1.65,1.7l-1.65,1.7l-1.65,-1.7zM721.94,438.6l1.65,1.7l-1.65,1.7l-1.65,-1.7zM678.52,438.6l1.65,1.7l-1.65,1.7l-1.65,-1.7zM598.31,438.6l1.65,1.7l-1.65,1.7l-1.65,-1.7zM605.78,438.6l1.65,1.7l-1.65,1.7l-1.65,-1.7zM575.73,438.6l1.65,1.7l-1.65,1.7l-1.65,-1.7zM725.45,438.6l1.65,1.7l-1.65,1.7l-1.65,-1.7zM724.59,438.6l1.65,1.7l-1.65,1.7l-1.65,-1.7zM631.35,438.6l1.65,1.7l-1.65,1.7l-1.65,-1.7z" fill="#ffa500" fill-opacity="0.12"/>
<path d="M741.99,443.6l1.65,1.7l-1.65,1.7l-1.65,-1.7zM679.7,443.6l1.65,1.7l-1.65,1.7l-1.65,-1.7zM689.61,443.6l1.65,1.7l-1.65,1.7l-1.65,-1.7zM565.83,443.6l1.65,1.7l-1.65,1.7l-1.65,-1.7zM557.74,443.6l1.65,1.7l-1.65,1.7l-1.65,-1.7zM553.64,443.6l1.65,1.7l-1.65,1.7l-1.65,-1.7zM757.02,443.6l1.65,1.7l-1.65,1.7l-1.65,-1.7zM723.67,443.6l1.65,1.7l-1.65,1.7l-1.65,-1.7zM753.08,443.6l1.65,1.7l-1.65,1.7l-1.65,-1.7zM730.35,443.6l1.65,1.7l-1.65,1.7l-1.65,-1.7zM725.06,443.6l1.65,1.7l-1.65,1.7l-1.65,-1.7zM615.51,443.6l1.65,1.7l-1.65,1.7l-1.65,-1.7z" fill="#ffa500" fill-opacity="0.1"/>
<path d="M649.84,447.8l1.65,1.7l-1.65,1.7l-1.65,-1.7zM521.66,447.8l1.65,1.7l-1.65,1.7l-1.65,-1.7zM626.34,447.8l1.65,1.7l-1.65,1.7l-1.65,-1.7z" fill="#ffa500" fill-opacity="0.1"/>
</g>
<g stroke="#000" stroke-width="1.11" fill="none">
<rect x="71.5" y="35.5" width="336" height="103"/>
<path d="M71.5,138.5v4.86M138.5,138.5v4.86M205.5,138.5v4.86M273.5,138.5v4.86M340.5,138.5v4.86M407.5,138.5v4.86M71.5,138.5h-4.86M71.5,87.5h-4.86M71.5,35.5h-4.86"/>
<rect x="465.5" y="35.5" width="336" height="103"/>
<path d="M465.5,138.5v4.86M532.5,138.5v4.86M599.5,138.5v4.86M667.5,138.5v4.86M734.5,138.5v4.86M801.5,138.5v4.86M465.5,138.5h-4.86M465.5,87.5h-4.86M465.5,35.5h-4.86"/>
<rect x="71.5" y="197.5" width="336" height="103"/>
<path d="M113.5,300.5v4.86M166.5,300.5v4.86M220.5,300.5v4.86M273.5,300.5v4.86M326.5,300.5v4.86M379.5,300.5v4.86M71.5,214.5h-4.86M71.5,245.5h-4.86M71.5,276.5h-4.86"/>
<rect x="465.5" y="197.5" width="336" height="103"/>
<path d="M507.5,300.5v4.86M560.5,300.5v4.86M614.5,300.5v4.86M667.5,300.5v4.86M720.5,300.5v4.86M773.5,300.5v4.86M465.5,219.5h-4.86M465.5,261.5h-4.86"/>
<rect x="71.5" y="359.5" width="336" height="103"/>
<path d="M113.5,462.5v4.86M166.5,462.5v4.86M220.5,462.5v4.86M273.5,462.5v4.86M326.5,462.5v4.86M379.5,462.5v4.86M71.5,373.5h-4.86M71.5,405.5h-4.86M71.5,437.5h-4.86"/>
<rect x="465.5" y="359.5" width="336" height="103"/>
<path d="M507.5,462.5v4.86M560.5,462.5v4.86M614.5,462.5v4.86M667.5,462.5v4.86M720.5,462.5v4.86M773.5,462.5v4.86M465.5,374.5h-4.86M465.5,436.5h-4.86"/>
<rect x="71.5" y="522.5" width="336" height="103"/>
<path d="M71.5,625.5v4.86M138.5,625.5v4.86M205.5,625.5v4.86M273.5,625.5v4.86M340.5,625.5v4.86M407.5,625.5v4.86M71.5,625.5h-4.86M71.5,573.5h-4.86M71.5,522.5h-4.86"/>
<rect x="465.5" y="522.5" width="336" height="103"/>
<path d="M465.5,625.5v4.86M532.5,625.5v4.86M599.5,625.5v4.86M667.5,625.5v4.86M734.5,625.5v4.86M801.5,625.5v4.86M465.5,625.5h-4.86M465.5,573.5h-4.86M465.5,522.5h-4.86"/>
<rect x="71.5" y="684.5" width="336" height="103"/>
<path d="M71.5,787.5v4.86M138.5,787.5v4.86M205.5,787.5v4.86M273.5,787.5v4.86M340.5,787.5v4.86M407.5,787.5v4.86M71.5,787.5h-4.86M71.5,735.5h-4.86M71.5,684.5h-4.86"/>
<rect x="465.5" y="684.5" width="336" height="103"/>
<path d="M465.5,787.5v4.86M532.5,787.5v4.86M599.5,787.5v4.86M667.5,787.5v4.86M734.5,787.5v4.86M801.5,787.5v4.86M465.5,787.5h-4.86M465.5,735.5h-4.86M465.5,684.5h-4.86"/>
<rect x="71.5" y="846.5" width="336" height="103"/>
<path d="M71.5,949.5v4.86M138.5,949.5v4.86M205.5,949.5v4.86M273.5,949.5v4.86M340.5,949.5v4.86M407.5,949.5v4.86M71.5,949.5h-4.86M71.5,897.5h-4.86M71.5,846.5h-4.86"/>
<rect x="465.5" y="846.5" width="336" height="103"/>
<path d="M465.5,949.5v4.86M532.5,949.5v4.86M599.5,949.5v4.86M667.5,949.5v4.86M734.5,949.5v4.86M801.5,949.5v4.86M465.5,949.5h-4.86M465.5,897.5h-4.86M465.5,846.5h-4.86"/>
<rect x="71.5" y="1008.5" width="336" height="103"/>
<path d="M71.5,1111.5v4.86M138.5,1111.5v4.86M205.5,1111.5v4.86M273.5,1111.5v4.86M340.5,1111.5v4.86M407.5,1111.5v4.86M71.5,1111.5h-4.86M71.5,1060.5h-4.86M71.5,1008.5h-4.86"/>
<rect x="465.5" y="1008.5" width="336" height="103"/>
<path d="M465.5,1111.5v4.86M532.5,1111.5v4.86M599.5,1111.5v4.86M667.5,1111.5v4.86M734.5,1111.5v4.86M801.5,1111.5v4.86M465.5,1111.5h-4.86M465.5,1060.5h-4.86M465.5,1008.5h-4.86"/>
</g>
<g class="t">
<g font-size="17.4"><text x="72.29" y="27" textLength="44.28" lengthAdjust="spacingAndGlyphs">NoRP</text><text x="121.87" y="27" textLength="44.79" lengthAdjust="spacingAndGlyphs">1GHz</text><text x="171.95" y="27" textLength="66.22" lengthAdjust="spacingAndGlyphs">Stokes-I</text><text x="243.47" y="27" textLength="20.75" lengthAdjust="spacingAndGlyphs">on</text><text x="269.52" y="27" textLength="96.83" lengthAdjust="spacingAndGlyphs">2025-08-06</text><text x="366.35" y="27" textLength="38.67" lengthAdjust="spacingAndGlyphs">[JST]</text></g>
<g transform="translate(29.74,87.49) rotate(-90)" font-size="14.72"><text x="-35.51" y="0" textLength="28.84" lengthAdjust="spacingAndGlyphs">Flux</text><text x="-2.26" y="0" textLength="37.77" lengthAdjust="spacingAndGlyphs">[SFU]</text></g>
<text x="71.36" y="159" text-anchor="middle" font-size="14.51" textLength="20.29" lengthAdjust="spacingAndGlyphs">0.0</text>
<text x="138.28" y="159" text-anchor="middle" font-size="14.51" textLength="20.11" lengthAdjust="spacingAndGlyphs">0.2</text>
<text x="205.45" y="159" text-anchor="middle" font-size="14.51" textLength="20.11" lengthAdjust="spacingAndGlyphs">0.4</text>
<text x="272.59" y="159" text-anchor="middle" font-size="14.51" textLength="20.41" lengthAdjust="spacingAndGlyphs">0.6</text>
<text x="340.55" y="159" text-anchor="middle" font-size="14.51" textLength="20.4" lengthAdjust="spacingAndGlyphs">0.8</text>
<text x="407.53" y="159" text-anchor="middle" font-size="14.51" textLength="20.05" lengthAdjust="spacingAndGlyphs">1.0</text>
<text x="51.11" y="144" text-anchor="middle" font-size="14.51" textLength="21.5" lengthAdjust="spacingAndGlyphs">0.0</text>
<text x="50.29" y="92" text-anchor="middle" font-size="14.51" textLength="20.16" lengthAdjust="spacingAndGlyphs">0.5</text>
<text x="49.67" y="41" text-anchor="middle" font-size="14.51" textLength="20.07" lengthAdjust="spacingAndGlyphs">1.0</text>
<g font-size="29.44"><text x="189.3" y="97" textLength="36.9" lengthAdjust="spacingAndGlyphs">No</text><text x="234.83" y="97" textLength="64.8" lengthAdjust="spacingAndGlyphs">Data</text></g>
<g font-size="17.4"><text x="546.29" y="27" textLength="44.63" lengthAdjust="spacingAndGlyphs">NoRP</text><text x="596.25" y="27" textLength="45.14" lengthAdjust="spacingAndGlyphs">1GHz</text><text x="646.73" y="27" textLength="72.29" lengthAdjust="spacingAndGlyphs">Stokes-V</text></g>
<text x="465.43" y="159" text-anchor="middle" font-size="14.51" textLength="20.11" lengthAdjust="spacingAndGlyphs">0.0</text>
<text x="532.25" y="159" text-anchor="middle" font-size="14.51" textLength="20.05" lengthAdjust="spacingAndGlyphs">0.2</text>
<text x="599.45" y="159" text-anchor="middle" font-size="14.51" textLength="20.22" lengthAdjust="spacingAndGlyphs">0.4</text>
<text x="666.51" y="159" text-anchor="middle" font-size="14.51" textLength="20.42" lengthAdjust="spacingAndGlyphs">0.6</text>
<text x="734.59" y="159" text-anchor="middle" font-size="14.51" textLength="20.39" lengthAdjust="spacingAndGlyphs">0.8</text>
<text x="801.64" y="159" text-anchor="middle" font-size="14.51" textLength="20.18" lengthAdjust="spacingAndGlyphs">1.0</text>
<text x="445.1" y="144" text-anchor="middle" font-size="14.51" textLength="21.77" lengthAdjust="spacingAndGlyphs">0.0</text>
<text x="444.3" y="92" text-anchor="middle" font-size="14.51" textLength="20.14" lengthAdjust="spacingAndGlyphs">0.5</text>
<text x="444.53" y="41" text-anchor="middle" font-size="14.51" textLength="20.05" lengthAdjust="spacingAndGlyphs">1.0</text>
<g font-size="29.44"><text x="583.34" y="97" textLength="36.9" lengthAdjust="spacingAndGlyphs">No</text><text x="628.86" y="97" textLength="64.79" lengthAdjust="spacingAndGlyphs">Data</text></g>
<g font-size="17.4"><text x="155.47" y="189" textLength="44.62" lengthAdjust="spacingAndGlyphs">NoRP</text><text x="205.42" y="189" textLength="45.13" lengthAdjust="spacingAndGlyphs">2GHz</text><text x="255.89" y="189" textLength="66.72" lengthAdjust="spacingAndGlyphs">Stokes-I</text></g>
<g transform="translate(24.77,250.45) rotate(-90)" font-size="14.72"><text x="-35.43" y="0" textLength="28.78" lengthAdjust="spacingAndGlyphs">Flux</text><text x="-2.25" y="0" textLength="37.69" lengthAdjust="spacingAndGlyphs">[SFU]</text></g>
<text x="112.79" y="321" text-anchor="middle" font-size="14.51" textLength="38.99" lengthAdjust="spacingAndGlyphs">22:00</text>
<text x="166.34" y="321" text-anchor="middle" font-size="14.51" textLength="38.07" lengthAdjust="spacingAndGlyphs">00:00</text>
<text x="219.33" y="321" text-anchor="middle" font-size="14.51" textLength="38.15" lengthAdjust="spacingAndGlyphs">02:00</text>
<text x="273.37" y="321" text-anchor="middle" font-size="14.51" textLength="38.18" lengthAdjust="spacingAndGlyphs">04:00</text>
<text x="326.35" y="321" text-anchor="middle" font-size="14.51" textLength="38.09" lengthAdjust="spacingAndGlyphs">06:00</text>
<text x="379.31" y="321" text-anchor="middle" font-size="14.51" textLength="38.13" lengthAdjust="spacingAndGlyphs">08:00</text>
<text x="51.34" y="282" text-anchor="middle" font-size="14.51" textLength="15.81" lengthAdjust="spacingAndGlyphs">50</text>
<text x="47.77" y="251" text-anchor="middle" font-size="14.51" textLength="24.53" lengthAdjust="spacingAndGlyphs">100</text>
<text x="47.77" y="220" text-anchor="middle" font-size="14.51" textLength="24.53" lengthAdjust="spacingAndGlyphs">150</text>
<g font-size="17.4"><text x="546.29" y="189" textLength="44.63" lengthAdjust="spacingAndGlyphs">NoRP</text><text x="596.25" y="189" textLength="45.14" lengthAdjust="spacingAndGlyphs">2GHz</text><text x="646.73" y="189" textLength="72.29" lengthAdjust="spacingAndGlyphs">Stokes-V</text></g>
<text x="506.8" y="321" text-anchor="middle" font-size="14.51" textLength="39.3" lengthAdjust="spacingAndGlyphs">22:00</text>
<text x="560.28" y="321" text-anchor="middle" font-size="14.51" textLength="38.06" lengthAdjust="spacingAndGlyphs">00:00</text>
<text x="613.35" y="321" text-anchor="middle" font-size="14.51" textLength="38.23" lengthAdjust="spacingAndGlyphs">02:00</text>
<text x="667.33" y="321" text-anchor="middle" font-size="14.51" textLength="38.09" lengthAdjust="spacingAndGlyphs">04:00</text>
<text x="720.36" y="321" text-anchor="middle" font-size="14.51" textLength="38.32" lengthAdjust="spacingAndGlyphs">06:00</text>
<text x="773.39" y="321" text-anchor="middle" font-size="14.51" textLength="38.37" lengthAdjust="spacingAndGlyphs">08:00</text>
<text x="444.7" y="267" text-anchor="middle" font-size="14.51" textLength="18.58" lengthAdjust="spacingAndGlyphs">−5</text>
<text x="451.42" y="225" text-anchor="middle" font-size="14.51" textLength="8.16" lengthAdjust="spacingAndGlyphs">0</text>
<g font-size="17.4"><text x="142.43" y="351" textLength="44.49" lengthAdjust="spacingAndGlyphs">NoRP</text><text x="192.24" y="351" textLength="71.62" lengthAdjust="spacingAndGlyphs">3.75GHz</text><text x="269.18" y="351" textLength="66.53" lengthAdjust="spacingAndGlyphs">Stokes-I</text></g>
<g transform="translate(24.77,412.39) rotate(-90)" font-size="14.72"><text x="-35.43" y="0" textLength="28.78" lengthAdjust="spacingAndGlyphs">Flux</text><text x="-2.25" y="0" textLength="37.69" lengthAdjust="spacingAndGlyphs">[SFU]</text></g>
<text x="112.79" y="483" text-anchor="middle" font-size="14.51" textLength="38.99" lengthAdjust="spacingAndGlyphs">22:00</text>
<text x="166.34" y="483" text-anchor="middle" font-size="14.51" textLength="38.07" lengthAdjust="spacingAndGlyphs">00:00</text>
<text x="219.33" y="483" text-anchor="middle" font-size="14.51" textLength="38.15" lengthAdjust="spacingAndGlyphs">02:00</text>
<text x="273.37" y="483" text-anchor="middle" font-size="14.51" textLength="38.18" lengthAdjust="spacingAndGlyphs">04:00</text>
<text x="326.35" y="483" text-anchor="middle" font-size="14.51" textLength="38.09" lengthAdjust="spacingAndGlyphs">06:00</text>
<text x="379.31" y="483" text-anchor="middle" font-size="14.51" textLength="38.13" lengthAdjust="spacingAndGlyphs">08:00</text>
<text x="51.34" y="443" text-anchor="middle" font-size="14.51" textLength="15.81" lengthAdjust="spacingAndGlyphs">50</text>
<text x="47.77" y="411" text-anchor="middle" font-size="14.51" textLength="24.53" lengthAdjust="spacingAndGlyphs">100</text>
<text x="47.77" y="379" text-anchor="middle" font-size="14.51" textLength="24.53" lengthAdjust="spacingAndGlyphs">150</text>
<g font-size="17.4"><text x="533.39" y="351" textLength="44.49" lengthAdjust="spacingAndGlyphs">NoRP</text><text x="583.21" y="351" textLength="71.62" lengthAdjust="spacingAndGlyphs">3.75GHz</text><text x="660.15" y="351" textLength="72.06" lengthAdjust="spacingAndGlyphs">Stokes-V</text></g>
<text x="506.8" y="483" text-anchor="middle" font-size="14.51" textLength="39.3" lengthAdjust="spacingAndGlyphs">22:00</text>
<text x="560.28" y="483" text-anchor="middle" font-size="14.51" textLength="38.06" lengthAdjust="spacingAndGlyphs">00:00</text>
<text x="613.35" y="483" text-anchor="middle" font-size="14.51" textLength="38.23" lengthAdjust="spacingAndGlyphs">02:00</text>
<text x="667.33" y="483" text-anchor="middle" font-size="14.51" textLength="38.09" lengthAdjust="spacingAndGlyphs">04:00</text>
<text x="720.36" y="483" text-anchor="middle" font-size="14.51" textLength="38.32" lengthAdjust="spacingAndGlyphs">06:00</text>
<text x="773.39" y="483" text-anchor="middle" font-size="14.51" textLength="38.37" lengthAdjust="spacingAndGlyphs">08:00</text>
<text x="451.42" y="442" text-anchor="middle" font-size="14.51" textLength="8.16" lengthAdjust="spacingAndGlyphs">0</text>
<text x="450.35" y="379" text-anchor="middle" font-size="14.51" textLength="7.72" lengthAdjust="spacingAndGlyphs">5</text>
<g font-size="17.4"><text x="147.36" y="513" textLength="44.53" lengthAdjust="spacingAndGlyphs">NoRP</text><text x="197.22" y="513" textLength="61.02" lengthAdjust="spacingAndGlyphs">9.4GHz</text><text x="263.57" y="513" textLength="66.59" lengthAdjust="spacingAndGlyphs">Stokes-I</text></g>
<g transform="translate(29.74,574.94) rotate(-90)" font-size="14.72"><text x="-35.4" y="0" textLength="28.75" lengthAdjust="spacingAndGlyphs">Flux</text><text x="-2.25" y="0" textLength="37.66" lengthAdjust="spacingAndGlyphs">[SFU]</text></g>
<text x="71.36" y="645" text-anchor="middle" font-size="14.51" textLength="20.29" lengthAdjust="spacingAndGlyphs">0.0</text>
<text x="138.28" y="645" text-anchor="middle" font-size="14.51" textLength="20.11" lengthAdjust="spacingAndGlyphs">0.2</text>
<text x="205.45" y="645" text-anchor="middle" font-size="14.51" textLength="20.11" lengthAdjust="spacingAndGlyphs">0.4</text>
<text x="272.59" y="645" text-anchor="middle" font-size="14.51" textLength="20.41" lengthAdjust="spacingAndGlyphs">0.6</text>
<text x="340.55" y="645" text-anchor="middle" font-size="14.51" textLength="20.4" lengthAdjust="spacingAndGlyphs">0.8</text>
<text x="407.53" y="645" text-anchor="middle" font-size="14.51" textLength="20.05" lengthAdjust="spacingAndGlyphs">1.0</text>
<text x="51.11" y="630" text-anchor="middle" font-size="14.51" textLength="21.5" lengthAdjust="spacingAndGlyphs">0.0</text>
<text x="50.29" y="579" text-anchor="middle" font-size="14.51" textLength="20.16" lengthAdjust="spacingAndGlyphs">0.5</text>
<text x="49.67" y="527" text-anchor="middle" font-size="14.51" textLength="20.07" lengthAdjust="spacingAndGlyphs">1.0</text>
<g font-size="29.44"><text x="189.3" y="583" textLength="36.9" lengthAdjust="spacingAndGlyphs">No</text><text x="234.83" y="583" textLength="64.8" lengthAdjust="spacingAndGlyphs">Data</text></g>
<g font-size="17.4"><text x="538.28" y="513" textLength="44.54" lengthAdjust="spacingAndGlyphs">NoRP</text><text x="588.15" y="513" textLength="61.04" lengthAdjust="spacingAndGlyphs">9.4GHz</text><text x="654.52" y="513" textLength="72.14" lengthAdjust="spacingAndGlyphs">Stokes-V</text></g>
<text x="465.43" y="645" text-anchor="middle" font-size="14.51" textLength="20.11" lengthAdjust="spacingAndGlyphs">0.0</text>
<text x="532.25" y="645" text-anchor="middle" font-size="14.51" textLength="20.05" lengthAdjust="spacingAndGlyphs">0.2</text>
<text x="599.45" y="645" text-anchor="middle" font-size="14.51" textLength="20.22" lengthAdjust="spacingAndGlyphs">0.4</text>
<text x="666.51" y="645" text-anchor="middle" font-size="14.51" textLength="20.42" lengthAdjust="spacingAndGlyphs">0.6</text>
<text x="734.59" y="645" text-anchor="middle" font-size="14.51" textLength="20.39" lengthAdjust="spacingAndGlyphs">0.8</text>
<text x="801.64" y="645" text-anchor="middle" font-size="14.51" textLength="20.18" lengthAdjust="spacingAndGlyphs">1.0</text>
<text x="445.1" y="630" text-anchor="middle" font-size="14.51" textLength="21.77" lengthAdjust="spacingAndGlyphs">0.0</text>
<text x="444.3" y="579" text-anchor="middle" font-size="14.51" textLength="20.14" lengthAdjust="spacingAndGlyphs">0.5</text>
<text x="444.53" y="527" text-anchor="middle" font-size="14.51" textLength="20.05" lengthAdjust="spacingAndGlyphs">1.0</text>
<g font-size="29.44"><text x="583.34" y="583" textLength="36.9" lengthAdjust="spacingAndGlyphs">No</text><text x="628.86" y="583" textLength="64.79" lengthAdjust="spacingAndGlyphs">Data</text></g>
<g font-size="17.4"><text x="150.45" y="675" textLength="44.56" lengthAdjust="spacingAndGlyphs">NoRP</text><text x="200.33" y="675" textLength="55.73" lengthAdjust="spacingAndGlyphs">17GHz</text><text x="261.4" y="675" textLength="66.63" lengthAdjust="spacingAndGlyphs">Stokes-I</text></g>
<g transform="translate(29.74,736.98) rotate(-90)" font-size="14.72"><text x="-35.5" y="0" textLength="28.83" lengthAdjust="spacingAndGlyphs">Flux</text><text x="-2.26" y="0" textLength="37.76" lengthAdjust="spacingAndGlyphs">[SFU]</text></g>
<text x="71.36" y="807" text-anchor="middle" font-size="14.51" textLength="20.29" lengthAdjust="spacingAndGlyphs">0.0</text>
<text x="138.28" y="807" text-anchor="middle" font-size="14.51" textLength="20.11" lengthAdjust="spacingAndGlyphs">0.2</text>
<text x="205.45" y="807" text-anchor="middle" font-size="14.51" textLength="20.11" lengthAdjust="spacingAndGlyphs">0.4</text>
<text x="272.59" y="807" text-anchor="middle" font-size="14.51" textLength="20.41" lengthAdjust="spacingAndGlyphs">0.6</text>
<text x="340.55" y="807" text-anchor="middle" font-size="14.51" textLength="20.4" lengthAdjust="spacingAndGlyphs">0.8</text>
<text x="407.53" y="807" text-anchor="middle" font-size="14.51" textLength="20.05" lengthAdjust="spacingAndGlyphs">1.0</text>
<text x="51.11" y="792" text-anchor="middle" font-size="14.51" textLength="21.5" lengthAdjust="spacingAndGlyphs">0.0</text>
<text x="50.29" y="741" text-anchor="middle" font-size="14.51" textLength="20.16" lengthAdjust="spacingAndGlyphs">0.5</text>
<text x="49.67" y="689" text-anchor="middle" font-size="14.51" textLength="20.07" lengthAdjust="spacingAndGlyphs">1.0</text>
<g font-size="29.44"><text x="189.3" y="746" textLength="36.9" lengthAdjust="spacingAndGlyphs">No</text><text x="234.83" y="746" textLength="64.8" lengthAdjust="spacingAndGlyphs">Data</text></g>
<g font-size="17.4"><text x="541.27" y="675" textLength="44.59" lengthAdjust="spacingAndGlyphs">NoRP</text><text x="591.19" y="675" textLength="55.77" lengthAdjust="spacingAndGlyphs">17GHz</text><text x="652.3" y="675" textLength="72.22" lengthAdjust="spacingAndGlyphs">Stokes-V</text></g>
<text x="465.43" y="807" text-anchor="middle" font-size="14.51" textLength="20.11" lengthAdjust="spacingAndGlyphs">0.0</text>
<text x="532.25" y="807" text-anchor="middle" font-size="14.51" textLength="20.05" lengthAdjust="spacingAndGlyphs">0.2</text>
<text x="599.45" y="807" text-anchor="middle" font-size="14.51" textLength="20.22" lengthAdjust="spacingAndGlyphs">0.4</text>
<text x="666.51" y="807" text-anchor="middle" font-size="14.51" textLength="20.42" lengthAdjust="spacingAndGlyphs">0.6</text>
<text x="734.59" y="807" text-anchor="middle" font-size="14.51" textLength="20.39" lengthAdjust="spacingAndGlyphs">0.8</text>
<text x="801.64" y="807" text-anchor="middle" font-size="14.51" textLength="20.18" lengthAdjust="spacingAndGlyphs">1.0</text>
<text x="445.1" y="792" text-anchor="middle" font-size="14.51" textLength="21.77" lengthAdjust="spacingAndGlyphs">0.0</text>
<text x="444.3" y="741" text-anchor="middle" font-size="14.51" textLength="20.14" lengthAdjust="spacingAndGlyphs">0.5</text>
<text x="444.53" y="689" text-anchor="middle" font-size="14.51" textLength="20.05" lengthAdjust="spacingAndGlyphs">1.0</text>
<g font-size="29.44"><text x="583.34" y="746" textLength="36.9" lengthAdjust="spacingAndGlyphs">No</text><text x="628.86" y="746" textLength="64.79" lengthAdjust="spacingAndGlyphs">Data</text></g>
<g font-size="17.4"><text x="150.45" y="838" textLength="44.56" lengthAdjust="spacingAndGlyphs">NoRP</text><text x="200.33" y="838" textLength="55.73" lengthAdjust="spacingAndGlyphs">35GHz</text><text x="261.4" y="838" textLength="66.63" lengthAdjust="spacingAndGlyphs">Stokes-I</text></g>
<g transform="translate(29.74,898.94) rotate(-90)" font-size="14.72"><text x="-35.51" y="0" textLength="28.84" lengthAdjust="spacingAndGlyphs">Flux</text><text x="-2.26" y="0" textLength="37.78" lengthAdjust="spacingAndGlyphs">[SFU]</text></g>
<text x="71.36" y="970" text-anchor="middle" font-size="14.51" textLength="20.29" lengthAdjust="spacingAndGlyphs">0.0</text>
<text x="138.28" y="970" text-anchor="middle" font-size="14.51" textLength="20.11" lengthAdjust="spacingAndGlyphs">0.2</text>
<text x="205.45" y="970" text-anchor="middle" font-size="14.51" textLength="20.11" lengthAdjust="spacingAndGlyphs">0.4</text>
<text x="272.59" y="970" text-anchor="middle" font-size="14.51" textLength="20.41" lengthAdjust="spacingAndGlyphs">0.6</text>
<text x="340.55" y="970" text-anchor="middle" font-size="14.51" textLength="20.4" lengthAdjust="spacingAndGlyphs">0.8</text>
<text x="407.53" y="970" text-anchor="middle" font-size="14.51" textLength="20.05" lengthAdjust="spacingAndGlyphs">1.0</text>
<text x="51.11" y="954" text-anchor="middle" font-size="14.51" textLength="21.5" lengthAdjust="spacingAndGlyphs">0.0</text>
<text x="50.29" y="903" text-anchor="middle" font-size="14.51" textLength="20.16" lengthAdjust="spacingAndGlyphs">0.5</text>
<text x="49.67" y="851" text-anchor="middle" font-size="14.51" textLength="20.07" lengthAdjust="spacingAndGlyphs">1.0</text>
<g font-size="29.44"><text x="189.3" y="908" textLength="36.9" lengthAdjust="spacingAndGlyphs">No</text><text x="234.83" y="908" textLength="64.8" lengthAdjust="spacingAndGlyphs">Data</text></g>
<g font-size="17.4"><text x="541.27" y="838" textLength="44.59" lengthAdjust="spacingAndGlyphs">NoRP</text><text x="591.19" y="838" textLength="55.77" lengthAdjust="spacingAndGlyphs">35GHz</text><text x="652.3" y="838" textLength="72.22" lengthAdjust="spacingAndGlyphs">Stokes-V</text></g>
<text x="465.43" y="970" text-anchor="middle" font-size="14.51" textLength="20.11" lengthAdjust="spacingAndGlyphs">0.0</text>
<text x="532.25" y="970" text-anchor="middle" font-size="14.51" textLength="20.05" lengthAdjust="spacingAndGlyphs">0.2</text>
<text x="599.45" y="970" text-anchor="middle" font-size="14.51" textLength="20.22" lengthAdjust="spacingAndGlyphs">0.4</text>
<text x="666.51" y="970" text-anchor="middle" font-size="14.51" textLength="20.42" lengthAdjust="spacingAndGlyphs">0.6</text>
<text x="734.59" y="970" text-anchor="middle" font-size="14.51" textLength="20.39" lengthAdjust="spacingAndGlyphs">0.8</text>
<text x="801.64" y="970" text-anchor="middle" font-size="14.51" textLength="20.18" lengthAdjust="spacingAndGlyphs">1.0</text>
<text x="445.1" y="954" text-anchor="middle" font-size="14.51" textLength="21.77" lengthAdjust="spacingAndGlyphs">0.0</text>
<text x="444.3" y="903" text-anchor="middle" font-size="14.51" textLength="20.14" lengthAdjust="spacingAndGlyphs">0.5</text>
<text x="444.53" y="851" text-anchor="middle" font-size="14.51" textLength="20.05" lengthAdjust="spacingAndGlyphs">1.0</text>
<g font-size="29.44"><text x="583.34" y="908" textLength="36.9" lengthAdjust="spacingAndGlyphs">No</text><text x="628.86" y="908" textLength="64.79" lengthAdjust="spacingAndGlyphs">Data</text></g>
<g font-size="17.4"><text x="150.46" y="1000" textLength="44.55" lengthAdjust="spacingAndGlyphs">NoRP</text><text x="200.34" y="1000" textLength="55.72" lengthAdjust="spacingAndGlyphs">80GHz</text><text x="261.39" y="1000" textLength="66.62" lengthAdjust="spacingAndGlyphs">Stokes-I</text></g>
<g font-size="14.72"><text x="206.75" y="1151" textLength="34.2" lengthAdjust="spacingAndGlyphs">Time</text><text x="240.95" y="1151" textLength="29.67" lengthAdjust="spacingAndGlyphs">[UT]</text></g>
<g transform="translate(29.74,1060.9) rotate(-90)" font-size="14.72"><text x="-35.47" y="0" textLength="28.81" lengthAdjust="spacingAndGlyphs">Flux</text><text x="-2.26" y="0" textLength="37.73" lengthAdjust="spacingAndGlyphs">[SFU]</text></g>
<text x="71.36" y="1132" text-anchor="middle" font-size="14.51" textLength="20.29" lengthAdjust="spacingAndGlyphs">0.0</text>
<text x="138.28" y="1132" text-anchor="middle" font-size="14.51" textLength="20.11" lengthAdjust="spacingAndGlyphs">0.2</text>
<text x="205.45" y="1132" text-anchor="middle" font-size="14.51" textLength="20.11" lengthAdjust="spacingAndGlyphs">0.4</text>
<text x="272.59" y="1132" text-anchor="middle" font-size="14.51" textLength="20.41" lengthAdjust="spacingAndGlyphs">0.6</text>
<text x="340.55" y="1132" text-anchor="middle" font-size="14.51" textLength="20.4" lengthAdjust="spacingAndGlyphs">0.8</text>
<text x="407.53" y="1132" text-anchor="middle" font-size="14.51" textLength="20.05" lengthAdjust="spacingAndGlyphs">1.0</text>
<text x="51.11" y="1117" text-anchor="middle" font-size="14.51" textLength="21.5" lengthAdjust="spacingAndGlyphs">0.0</text>
<text x="50.29" y="1065" text-anchor="middle" font-size="14.51" textLength="20.16" lengthAdjust="spacingAndGlyphs">0.5</text>
<text x="49.67" y="1014" text-anchor="middle" font-size="14.51" textLength="20.07" lengthAdjust="spacingAndGlyphs">1.0</text>
<g font-size="29.44"><text x="189.3" y="1070" textLength="36.9" lengthAdjust="spacingAndGlyphs">No</text><text x="234.83" y="1070" textLength="64.8" lengthAdjust="spacingAndGlyphs">Data</text></g>
<g font-size="17.4"><text x="541.32" y="1000" textLength="44.57" lengthAdjust="spacingAndGlyphs">NoRP</text><text x="591.22" y="1000" textLength="55.75" lengthAdjust="spacingAndGlyphs">80GHz</text><text x="652.3" y="1000" textLength="72.19" lengthAdjust="spacingAndGlyphs">Stokes-V</text></g>
<g font-size="14.72"><text x="600.55" y="1151" textLength="34.23" lengthAdjust="spacingAndGlyphs">Time</text><text x="634.78" y="1151" textLength="29.69" lengthAdjust="spacingAndGlyphs">[UT]</text></g>
<text x="465.43" y="1132" text-anchor="middle" font-size="14.51" textLength="20.11" lengthAdjust="spacingAndGlyphs">0.0</text>
<text x="532.25" y="1132" text-anchor="middle" font-size="14.51" textLength="20.05" lengthAdjust="spacingAndGlyphs">0.2</text>
<text x="599.45" y="1132" text-anchor="middle" font-size="14.51" textLength="20.22" lengthAdjust="spacingAndGlyphs">0.4</text>
<text x="666.51" y="1132" text-anchor="middle" font-size="14.51" textLength="20.42" lengthAdjust="spacingAndGlyphs">0.6</text>
<text x="734.59" y="1132" text-anchor="middle" font-size="14.51" textLength="20.39" lengthAdjust="spacingAndGlyphs">0.8</text>
<text x="801.64" y="1132" text-anchor="middle" font-size="14.51" textLength="20.18" lengthAdjust="spacingAndGlyphs">1.0</text>
<text x="445.1" y="1117" text-anchor="middle" font-size="14.51" textLength="21.77" lengthAdjust="spacingAndGlyphs">0.0</text>
<text x="444.3" y="1065" text-anchor="middle" font-size="14.51" textLength="20.14" lengthAdjust="spacingAndGlyphs">0.5</text>
<text x="444.53" y="1014" text-anchor="middle" font-size="14.51" textLength="20.05" lengthAdjust="spacingAndGlyphs">1.0</text>
<g font-size="29.44"><text x="583.34" y="1070" textLength="36.9" lengthAdjust="spacingAndGlyphs">No</text><text x="628.86" y="1070" textLength="64.79" lengthAdjust="spacingAndGlyphs">Data</text></g>
</g>
</svg>
</body></html>
